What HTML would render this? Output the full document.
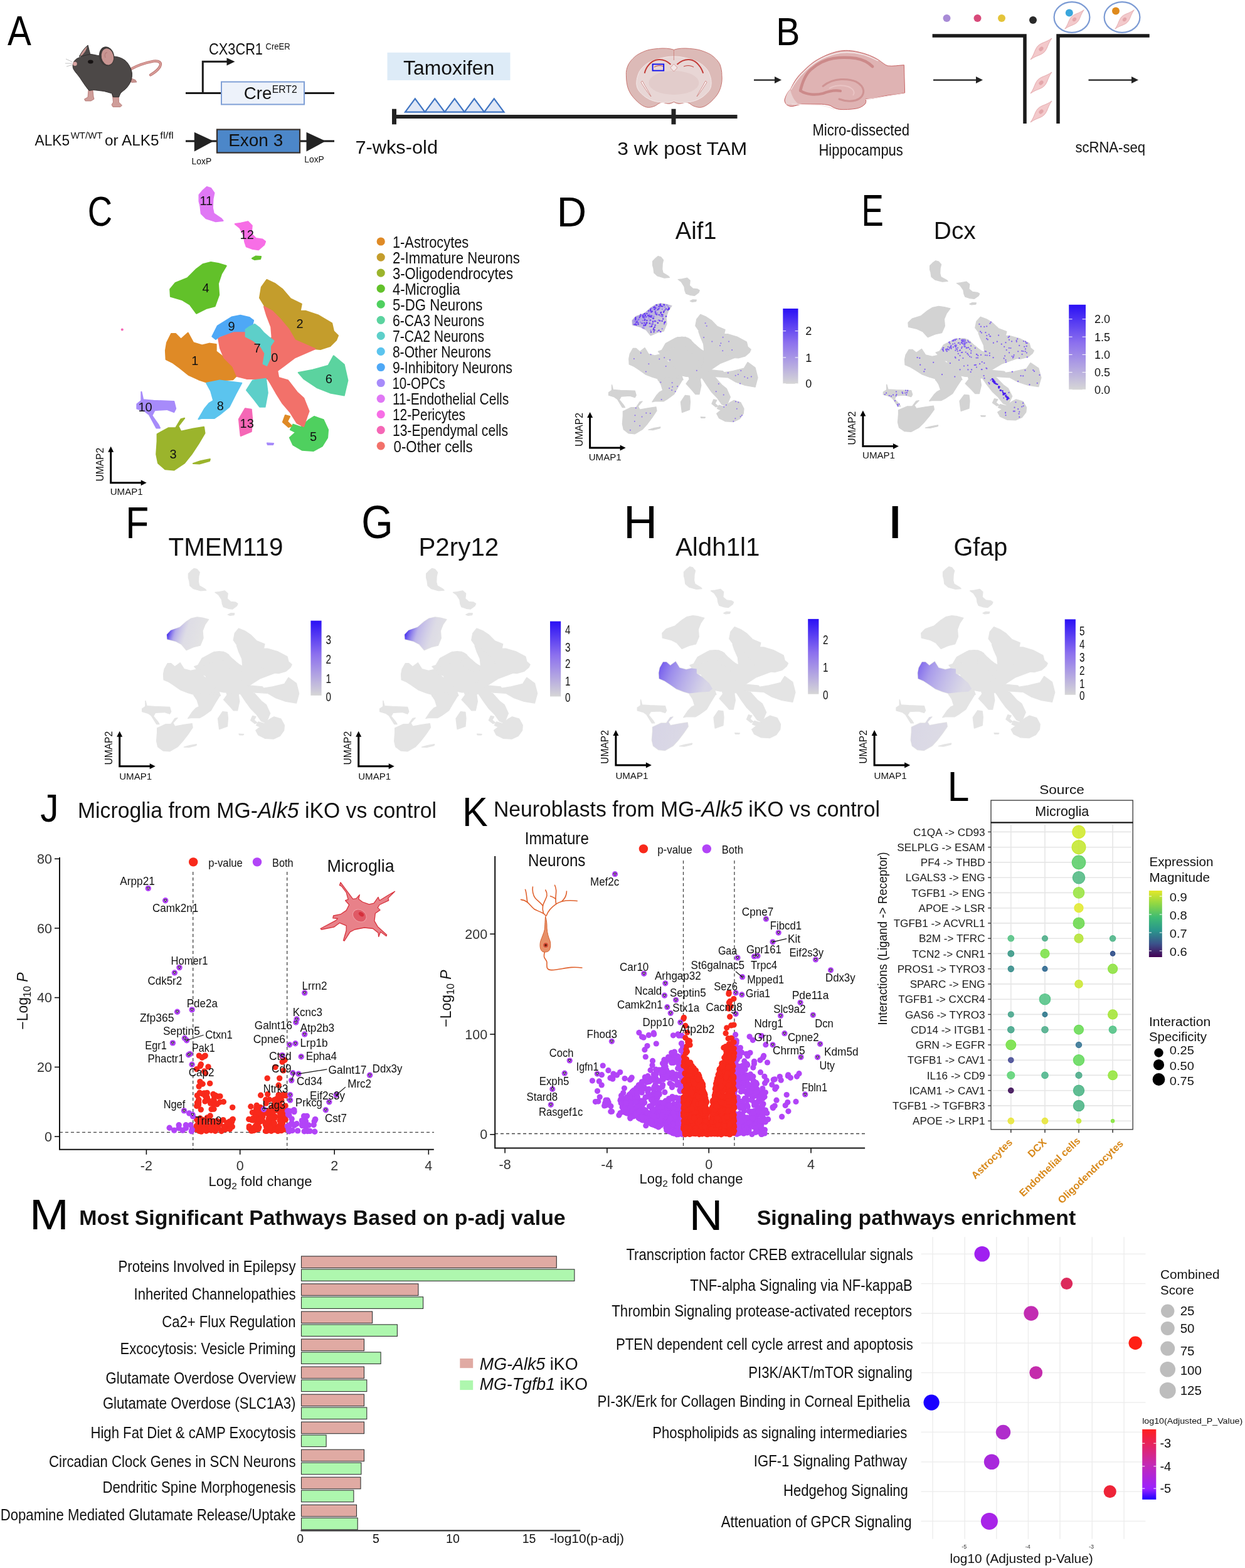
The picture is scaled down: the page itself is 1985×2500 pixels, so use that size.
<!DOCTYPE html>
<html><head><meta charset="utf-8"><title>Figure</title>
<style>html,body{margin:0;padding:0;background:#fff;} svg{display:block;} text{font-family:'Liberation Sans', Arial, sans-serif;}</style>
</head><body>
<svg width="1985" height="2500" viewBox="0 0 1985 2500">
<rect width="1985" height="2500" fill="#ffffff"/>
<text x="0" y="0" font-size="65.99" fill="#000" transform="translate(11.89,72.20) scale(0.8594,1)">A</text>
<g>
<path d="M209,110 C218,105 232,100 245,97.5 C254,96.5 258,100 255,106 C252,112 246,116 240,119.5" fill="none" stroke="#b9726f" stroke-width="4.2" stroke-linecap="round"/>
<path d="M209,110 C218,105 232,100 245,97.5 C254,96.5 258,100 255,106 C252,112 246,116 240,119.5" fill="none" stroke="#d99d99" stroke-width="2.4" stroke-linecap="round"/>
<path d="M207,124 L216,127.5 L218,131 L210,131.5 L206,128 Z" fill="#c99591" stroke="#a8625f" stroke-width="0.6"/>
<path d="M141,143 L148,144 L149,154 L150,158 L145,161 L136,161 L134.5,158 L140,155 Z" fill="#cf9d99" stroke="#a8625f" stroke-width="0.7"/>
<path d="M179,148 L189,149 L189.5,163 L194.5,168 L192,170.5 L180,170.5 L178,167 L180.5,163 Z" fill="#cf9d99" stroke="#a8625f" stroke-width="0.7"/>
<path d="M116.4,101.9 C118,96 122,93 128,91.2 C134,88 140,86.5 145,86.5 C150,87 155,88.5 158,88.8 C167,89.5 176,89.5 184,90.2 C190,91 195,93 199,96 C204,100 208,106 210.3,115.5 C211,121 210,126 208,131 C205,137 201,142 195,146 C192,148 191,151 189.7,154.7 L180.4,154.7 C179,152 178.5,150 178.5,149 C172,147 168,146 165.4,145.4 C158,144.5 152,143.8 148.6,143.5 C145,144 143,144.5 142.1,144.4 C139,141 137,138 135.5,136 C132,131 130,128 128,124.8 C124,119 120,115 118.7,112.7 C116.5,110 115.5,106 116.4,101.9 Z" fill="#4c4847" stroke="#2a2626" stroke-width="0.9"/>
<path d="M126.2,90.2 C130,83 135,76 140.2,72 C141.5,77 142.5,82 143.9,86.5 Z" fill="#4c4847" stroke="#2a2626" stroke-width="0.8"/>
<path d="M127.5,89.5 C130.5,83 134.5,77.5 139,74 C138,79 135,84 131,88 Z" fill="#c99591"/>
<ellipse cx="170.1" cy="89.8" rx="12" ry="15.6" transform="rotate(-12 170.1 89.8)" fill="#3e3a39"/>
<ellipse cx="171.4" cy="90.4" rx="9.6" ry="13.2" transform="rotate(-12 171.4 90.4)" fill="#c99592"/>
<path d="M168,92 C166,87 168,83 171,84" fill="none" stroke="#b57c79" stroke-width="1.2"/>
<ellipse cx="144.4" cy="98.4" rx="4.3" ry="3" fill="#161212"/>
<circle cx="119.5" cy="101.8" r="3.3" fill="#d7a3a1"/>
<path d="M105,94 L115,98.5 M104,101 L115,101 M106,106 L115,103.5" stroke="#9a9a9a" stroke-width="0.6" fill="none"/>
</g>
<text x="55.5" y="232.0" font-size="23" textLength="55.5" lengthAdjust="spacingAndGlyphs" fill="#111">ALK5</text>
<text x="112.7" y="221.0" font-size="14.5" textLength="50.8" lengthAdjust="spacingAndGlyphs" fill="#111">WT/WT</text>
<text x="167.0" y="232.0" font-size="23" textLength="86.5" lengthAdjust="spacingAndGlyphs" fill="#111">or ALK5</text>
<text x="255.3" y="221.0" font-size="14.5" textLength="21.5" lengthAdjust="spacingAndGlyphs" fill="#111">fl/fl</text>
<g stroke="#1a1a1a" stroke-width="3" fill="none">
<path d="M296,148.5 H352 M486,148.5 H533"/>
<path d="M323.3,148 V98.2 H363"/>
<path d="M296,225 H345 M479,225 H533"/>
</g>
<path d="M361.5,92.2 L374.5,98.3 L361.5,104.5 Z" fill="#1a1a1a"/>
<rect x="353" y="130.5" width="132" height="36" fill="#edf2fa" stroke="#7f9fd6" stroke-width="2"/>
<text x="333.0" y="87.3" font-size="25" textLength="86" lengthAdjust="spacingAndGlyphs" fill="#111">CX3CR1</text>
<text x="423.6" y="79.1" font-size="14.5" textLength="39" lengthAdjust="spacingAndGlyphs" fill="#111">CreER</text>
<text x="388.8" y="158.3" font-size="28" textLength="44.5" lengthAdjust="spacingAndGlyphs" fill="#111">Cre</text>
<text x="433.7" y="148.1" font-size="16" textLength="40" lengthAdjust="spacingAndGlyphs" fill="#111">ERT2</text>
<rect x="346" y="206.5" width="132" height="37" fill="#4c87c9" stroke="#38302c" stroke-width="2.2"/>
<text x="364.2" y="233.2" font-size="28.5" textLength="87" lengthAdjust="spacingAndGlyphs" fill="#111">Exon 3</text>
<path d="M309.8,210.8 L340.5,225 L309.8,241.4 Z" fill="#222"/>
<path d="M488.5,210.8 L519.1,225 L488.5,241.4 Z" fill="#222"/>
<text x="305.4" y="261.8" font-size="14.4" textLength="31.8" lengthAdjust="spacingAndGlyphs" fill="#111">LoxP</text>
<text x="485.3" y="258.5" font-size="14.4" textLength="31.5" lengthAdjust="spacingAndGlyphs" fill="#111">LoxP</text>
<rect x="617.5" y="83.8" width="196" height="44.2" fill="#ddebf7"/>
<text x="643.0" y="118.6" font-size="31" textLength="145.3" lengthAdjust="spacingAndGlyphs" fill="#111">Tamoxifen</text>
<path d="M646.0,178.7 L661.8,157.4 L677.5,178.7 Z" fill="#dfe7f6" stroke="#3f74c2" stroke-width="2.2" stroke-linejoin="miter"/>
<path d="M677.5,178.7 L693.2,157.4 L709.0,178.7 Z" fill="#dfe7f6" stroke="#3f74c2" stroke-width="2.2" stroke-linejoin="miter"/>
<path d="M709.0,178.7 L724.8,157.4 L740.5,178.7 Z" fill="#dfe7f6" stroke="#3f74c2" stroke-width="2.2" stroke-linejoin="miter"/>
<path d="M740.5,178.7 L756.2,157.4 L772.0,178.7 Z" fill="#dfe7f6" stroke="#3f74c2" stroke-width="2.2" stroke-linejoin="miter"/>
<path d="M772.0,178.7 L787.8,157.4 L803.5,178.7 Z" fill="#dfe7f6" stroke="#3f74c2" stroke-width="2.2" stroke-linejoin="miter"/>
<rect x="626" y="183" width="549.5" height="6" fill="#222"/>
<rect x="625" y="173.7" width="7" height="24.6" fill="#222"/>
<rect x="1070.5" y="173.7" width="7" height="24.6" fill="#222"/>
<text x="566.4" y="245.3" font-size="30" textLength="131.6" lengthAdjust="spacingAndGlyphs" fill="#111">7-wks-old</text>
<text x="984.2" y="247.3" font-size="30" textLength="207" lengthAdjust="spacingAndGlyphs" fill="#111">3 wk post TAM</text>
<g>
<path d="M1074.4,79.4 C1068,77 1058,76.5 1049.6,77.4 C1042,78 1035,79 1029.7,80.9 C1022,84 1017,86.5 1012.8,89.9 C1007,95 1004,99 1001.9,102.8 C999,109 998,114 998.4,119.7 C998.5,127 999,133 1000.9,139.5 C1003,146 1006,151 1009.9,155.4 C1014,160 1018,164 1022.8,167.3 C1027,170 1031,171.5 1034.7,171.3 C1039,171 1042,170 1045.6,168.3 C1049,166 1051,164 1054.5,163.3 C1058,163 1062,165 1065.5,165.3 C1069,165.5 1072,164 1074.4,162.5 C1077,164 1080,165.5 1083.3,165.3 C1087,165 1091,163 1095.3,163.3 C1099,164 1101,166 1104.2,168.3 C1108,170 1111,171 1115.1,171.3 C1119,171.5 1123,170 1127,167.3 C1132,164 1136,160 1140,155.4 C1144,151 1147,146 1148.9,139.5 C1151,133 1151.5,127 1150.9,119.7 C1151,114 1150,109 1147.9,102.8 C1146,99 1143,95 1137,89.9 C1133,86.5 1128,84 1119.1,80.9 C1114,79 1107,78 1099.2,77.4 C1091,76.5 1081,77 1074.4,79.4 Z" fill="#dcbab7" stroke="#c87672" stroke-width="1"/>
<path d="M1074.4,90 C1066,90 1058,91.5 1049.6,93.8 C1040,96.5 1034,99.5 1029.7,102.8 C1023,108 1019.5,113 1017.8,117.7 C1015.5,124 1014.5,129 1014.8,134.5 C1015.5,141 1018.5,145.5 1022.8,149.4 C1027,153.5 1032,157 1037.7,159.4 C1043,161.5 1049,162.5 1054.5,163.3 C1062,164 1069,163.5 1074.4,161 C1080,163.5 1087,164 1094.3,163.3 C1100,162.5 1106,161.5 1111.1,159.4 C1117,157 1122,153.5 1126,149.4 C1130.5,145.5 1133.5,141 1134,134.5 C1134.5,129 1133.5,124 1131,117.7 C1129.5,113 1126,108 1119.1,102.8 C1115,99.5 1109,96.5 1099.2,93.8 C1091,91.5 1083,90 1074.4,90 Z" fill="#e8d6d5" stroke="#f4e8e8" stroke-width="1"/>
<ellipse cx="1074.4" cy="132" rx="40" ry="19" fill="#e2cccb"/>
<path d="M1074.4,79.5 V96" stroke="#c87672" stroke-width="0.8"/>
<path d="M1027.7,116.7 C1030,106 1038,98 1045.6,95.8 C1055,93.5 1063,97 1069.4,102.8 M1121.1,116.7 C1118,106 1110,98 1103.2,95.8 C1094,93.5 1086,97 1079.4,102.8" fill="none" stroke="#c23a36" stroke-width="2"/>
<path d="M1074.4,102 L1080,108 L1074.4,114 L1068.8,108 Z" fill="#f2e6e6" stroke="#c87672" stroke-width="0.6"/>
<path d="M1022,131 C1027,139 1032,147 1038,154 C1035,147 1029,139 1024,129 Z M1127,131 C1122,139 1117,147 1111,154 C1114,147 1120,139 1125,129 Z" fill="#ffffff" stroke="#c87672" stroke-width="0.8"/>
<path d="M1043,107 C1048,104 1054,104 1058,106 M1090,106 C1095,104 1101,104 1106,107" fill="none" stroke="#c23a36" stroke-width="1"/>
<rect x="1040.6" y="102.4" width="17.6" height="10.2" fill="none" stroke="#1010ee" stroke-width="1.9"/>
</g>
<path d="M1202,127.6 H1237" stroke="#222" stroke-width="2.2"/><path d="M1235,122.1 L1246,127.6 L1235,133.1 Z" fill="#222"/>
<path d="M1488,127.6 H1558" stroke="#222" stroke-width="2.2"/><path d="M1556,122.1 L1567,127.6 L1556,133.1 Z" fill="#222"/>
<path d="M1735.5,127.6 H1806" stroke="#222" stroke-width="2.2"/><path d="M1804,122.1 L1815,127.6 L1804,133.1 Z" fill="#222"/>
<text x="0" y="0" font-size="63.37" fill="#000" transform="translate(1237.31,72.00) scale(0.9017,1)">B</text>
<g>
<path d="M1251,158.8 C1253,152 1256,146 1260.6,142.1 C1266,130 1272,121 1280.9,113.3 C1289,105 1296,99 1304.9,94.2 C1316,88 1328,83 1340.8,81 C1352,79.5 1361,81 1370.7,83.4 C1382,86 1392,90 1400.7,95.4 C1406,99 1410,103 1415,104.9 C1424,106 1433,104 1441.4,103.7 L1442.6,148 C1435,150 1426,151 1418.6,151.6 C1408,153 1398,156 1388.7,157.6 L1380.3,157.6 C1381,161 1381,164 1379.1,166 C1375,170 1370,172.5 1364.7,173.2 C1356,174.5 1347,175 1338.4,174.4 C1332,173.5 1328,171 1324,168.4 C1318,166.5 1311,166 1304.9,166 C1296,166 1287,166 1278.5,166 C1272,167 1268,169 1263,169.6 C1259,170 1255,168 1253.4,166 C1251.5,163.5 1250.5,161 1251,158.8 Z" fill="#dfb3b3" stroke="#c86464" stroke-width="1"/>
<path d="M1261,143 C1268,130 1276,120 1285,112 C1298,99 1315,88 1340.8,84 C1360,82 1380,86 1400,97" fill="none" stroke="#f6ecec" stroke-width="1.4"/>
<path d="M1276.1,144.5 C1280,128 1286,117 1292.9,110.9 C1304,101 1316,95 1328.8,93 C1342,91 1354,91.5 1364.7,93 C1376,95 1385,100 1391.1,106.1" fill="none" stroke="#cc8a8a" stroke-width="4.6" stroke-linecap="round"/>
<path d="M1276.1,144.5 C1285,151 1300,152 1312.1,149 C1322,145 1330,143 1340,145" fill="none" stroke="#cc8a8a" stroke-width="4.2" stroke-linecap="round"/>
<path d="M1312.1,137.3 C1320,131 1330,127 1340.8,126.5 C1352,126 1360,128 1364.7,130.1 C1372,134 1376,139 1376.7,144.5 C1377,152 1372,158 1364,160 C1356,162 1346,161 1338,158" fill="none" stroke="#cf9393" stroke-width="3" stroke-linecap="round"/>
<path d="M1322,141 C1330,136 1342,135 1352,138 C1360,141 1364,147 1360,152" fill="none" stroke="#e9c4c4" stroke-width="2"/>
<path d="M1252,160 C1253,152 1256,146 1260,143 C1262,152 1266,160 1272,165 C1265,167 1258,167 1253.4,166 Z" fill="#e9cfcf"/>
<path d="M1262,166 C1275,166.5 1290,167 1305,167.5 C1315,168 1322,171 1330,174 M1380,158.5 C1398,156.5 1420,152 1442,149" fill="none" stroke="#f4e4e4" stroke-width="1.2"/>
</g>
<text x="1295.4" y="216.4" font-size="25.5" textLength="154.6" lengthAdjust="spacingAndGlyphs" fill="#111">Micro-dissected</text>
<text x="1305.5" y="247.6" font-size="25.5" textLength="134.3" lengthAdjust="spacingAndGlyphs" fill="#111">Hippocampus</text>
<path d="M1486.6,56.9 H1634 V197" fill="none" stroke="#1a1a1a" stroke-width="5.5"/>
<path d="M1687,197 V56.9 H1832.7" fill="none" stroke="#1a1a1a" stroke-width="5.5"/>
<circle cx="1509.5" cy="28.9" r="6" fill="#a88bd6"/>
<circle cx="1558.5" cy="28.9" r="6" fill="#d84a7a"/>
<circle cx="1597" cy="28.9" r="6" fill="#e4c43a"/>
<circle cx="1647" cy="32.1" r="6" fill="#2a2a2a"/>
<ellipse cx="1709" cy="27.5" rx="28.4" ry="24.3" fill="none" stroke="#7c9bd4" stroke-width="2.2"/>
<g transform="translate(1713,31) rotate(-45) scale(0.9)"><path d="M-24,0 C-12,-2 -8,-7 0,-7 C8,-7 12,-2 24,0 C12,2 8,7 0,7 C-8,7 -12,2 -24,0 Z" fill="#f3c9cb" stroke="#e0a0a4" stroke-width="0.8"/><ellipse cx="0" cy="0" rx="4" ry="3" fill="#e3a6aa"/></g>
<circle cx="1704.8" cy="20.6" r="6" fill="#3aa6dc"/>
<ellipse cx="1789" cy="27.5" rx="28.4" ry="24.3" fill="none" stroke="#7c9bd4" stroke-width="2.2"/>
<g transform="translate(1793,31) rotate(-45) scale(0.9)"><path d="M-24,0 C-12,-2 -8,-7 0,-7 C8,-7 12,-2 24,0 C12,2 8,7 0,7 C-8,7 -12,2 -24,0 Z" fill="#f3c9cb" stroke="#e0a0a4" stroke-width="0.8"/><ellipse cx="0" cy="0" rx="4" ry="3" fill="#e3a6aa"/></g>
<circle cx="1779" cy="17.4" r="6" fill="#df8a1c"/>
<g transform="translate(1660,78) rotate(-45) scale(1.0)"><path d="M-24,0 C-12,-2 -8,-7 0,-7 C8,-7 12,-2 24,0 C12,2 8,7 0,7 C-8,7 -12,2 -24,0 Z" fill="#f3c9cb" stroke="#e0a0a4" stroke-width="0.8"/><ellipse cx="0" cy="0" rx="4" ry="3" fill="#e3a6aa"/></g>
<g transform="translate(1660,132) rotate(-45) scale(1.0)"><path d="M-24,0 C-12,-2 -8,-7 0,-7 C8,-7 12,-2 24,0 C12,2 8,7 0,7 C-8,7 -12,2 -24,0 Z" fill="#f3c9cb" stroke="#e0a0a4" stroke-width="0.8"/><ellipse cx="0" cy="0" rx="4" ry="3" fill="#e3a6aa"/></g>
<g transform="translate(1660,178) rotate(-45) scale(1.0)"><path d="M-24,0 C-12,-2 -8,-7 0,-7 C8,-7 12,-2 24,0 C12,2 8,7 0,7 C-8,7 -12,2 -24,0 Z" fill="#f3c9cb" stroke="#e0a0a4" stroke-width="0.8"/><ellipse cx="0" cy="0" rx="4" ry="3" fill="#e3a6aa"/></g>
<text x="1714.4" y="243.0" font-size="24" textLength="111.6" lengthAdjust="spacingAndGlyphs" fill="#111">scRNA-seq</text>
<text x="0" y="0" font-size="66.38" fill="#000" transform="translate(139.72,359.84) scale(0.8210,1)">C</text>
<path d="M329.8,298.0 L336.0,300.0 L341.4,307.6 L339.4,317.3 L338.8,331.4 L340.7,340.4 L352.9,348.7 L355.5,352.0 L343.9,353.2 L328.5,348.1 L320.8,340.4 L319.5,328.8 L317.6,321.1 L317.6,310.8 L323.4,303.8 Z" fill="#e078f5" stroke="#e078f5" stroke-width="2.2" stroke-linejoin="round"/>
<path d="M374.8,357.1 L383.8,355.8 L395.3,353.2 L401.7,359.7 L400.5,372.5 L408.2,380.2 L418.5,381.5 L423.0,385.0 L421.0,390.5 L412.0,398.2 L403.0,397.0 L392.8,393.1 L390.2,385.4 L388.9,375.1 L382.5,363.5 Z" fill="#f76ee6" stroke="#f76ee6" stroke-width="2.2" stroke-linejoin="round"/>
<path d="M402.0,412.0 L408.0,408.5 L416.0,409.0 L415.0,413.0 L406.0,414.0 Z" fill="#62c12a" stroke="#62c12a" stroke-width="2.2" stroke-linejoin="round"/>
<path d="M336.2,418.1 L348.0,420.0 L360.6,423.9 L352.9,436.8 L347.8,452.2 L349.1,470.2 L342.6,488.2 L328.5,492.0 L313.1,499.7 L302.8,485.6 L290.0,477.9 L272.0,472.8 L271.3,461.2 L279.7,450.9 L298.9,443.2 L313.1,429.1 L323.4,421.4 Z" fill="#62c12a" stroke="#62c12a" stroke-width="2.2" stroke-linejoin="round"/>
<path d="M425.3,446.1 L438.0,452.0 L450.6,461.5 L463.2,476.3 L480.7,484.7 L478.6,495.9 L487.0,495.9 L508.0,502.9 L529.1,515.5 L531.9,528.1 L538.9,535.1 L536.1,542.2 L526.3,552.0 L510.8,556.9 L502.4,556.2 L470.2,542.2 L456.2,528.1 L439.4,514.1 L425.3,493.1 L414.1,474.9 L416.9,458.0 Z" fill="#c49d2c" stroke="#c49d2c" stroke-width="2.2" stroke-linejoin="round"/>
<path d="M273.1,532.2 L280.1,532.2 L288.5,540.7 L299.7,530.8 L308.1,546.3 L322.2,550.5 L333.4,547.7 L344.6,549.1 L344.6,560.3 L357.2,570.1 L371.2,584.1 L378.2,598.1 L371.2,605.1 L350.2,606.5 L329.2,609.4 L316.5,605.1 L301.1,598.1 L287.1,586.9 L275.9,578.5 L264.7,572.9 L264.0,558.9 L266.1,546.3 Z" fill="#df8a26" stroke="#df8a26" stroke-width="2.2" stroke-linejoin="round"/>
<path d="M475.8,594.0 L498.2,589.8 L523.5,582.8 L531.9,567.4 L548.7,581.4 L554.3,606.6 L548.7,630.5 L526.3,626.3 L505.2,617.9 L484.2,603.8 Z" fill="#5bd39f" stroke="#5bd39f" stroke-width="2.2" stroke-linejoin="round"/>
<path d="M500.9,664.1 L515.7,669.4 L523.0,685.1 L522.0,697.8 L513.6,711.4 L499.9,718.8 L482.0,717.7 L467.3,709.3 L462.0,697.8 L471.5,689.3 L463.1,685.1 L467.3,676.7 L479.9,681.0 L492.5,669.4 Z" fill="#4fd05f" stroke="#4fd05f" stroke-width="2.2" stroke-linejoin="round"/>
<path d="M455.0,662.0 L462.0,664.0 L458.0,672.0 L465.0,679.0 L460.0,681.0 L451.0,673.0 Z" fill="#df8a26" stroke="#df8a26" stroke-width="2.2" stroke-linejoin="round"/>
<path d="M421.1,488.9 L433.7,495.9 L446.4,508.5 L460.4,525.3 L470.2,542.2 L502.4,556.2 L470.2,570.2 L453.4,582.8 L442.2,591.2 L444.2,602.1 L458.9,606.3 L473.6,625.2 L484.1,634.7 L492.5,655.7 L489.4,664.1 L484.1,679.9 L473.6,674.6 L463.1,657.8 L450.5,643.1 L440.0,626.3 L431.5,611.5 L426.7,604.0 L414.1,603.8 L393.1,603.8 L378.0,600.0 L371.2,584.1 L357.2,570.1 L351.0,555.0 L348.2,539.4 L366.5,531.0 L386.1,528.1 L400.1,526.7 L408.5,538.0 L422.5,546.4 L433.7,538.0 L432.3,521.1 L425.3,502.9 Z" fill="#f2716a" stroke="#f2716a" stroke-width="2.2" stroke-linejoin="round"/>
<path d="M338.4,536.5 L346.8,519.7 L369.3,505.7 L383.3,502.9 L397.3,506.0 L404.0,511.0 L402.0,519.0 L390.3,528.1 L372.1,528.1 L349.6,536.5 L344.0,540.8 Z" fill="#4ea8f6" stroke="#4ea8f6" stroke-width="2.2" stroke-linejoin="round"/>
<path d="M391.7,525.3 L398.0,521.0 L406.0,517.0 L414.0,523.0 L420.0,530.0 L428.1,537.0 L436.5,543.6 L430.9,552.0 L430.9,570.2 L425.3,582.8 L419.7,580.0 L422.5,563.2 L415.5,552.0 L402.9,542.2 L391.7,536.5 Z" fill="#5dcfc9" stroke="#5dcfc9" stroke-width="2.2" stroke-linejoin="round"/>
<path d="M402.9,606.6 L423.9,603.8 L426.7,626.3 L422.5,648.7 L414.1,648.7 L405.7,637.5 L393.1,622.1 Z" fill="#5dcfc9" stroke="#5dcfc9" stroke-width="2.2" stroke-linejoin="round"/>
<path d="M329.2,610.8 L350.2,606.5 L385.2,610.8 L375.4,629.0 L365.6,648.6 L350.2,661.2 L341.8,666.8 L322.2,666.8 L316.5,668.2 L326.4,651.4 L333.4,643.0 L340.4,638.8 L336.2,623.4 Z" fill="#5bc4ee" stroke="#5bc4ee" stroke-width="2.2" stroke-linejoin="round"/>
<path d="M225.4,624.8 L228.2,637.4 L245.0,638.8 L277.3,640.2 L280.1,651.4 L277.3,657.0 L266.1,652.8 L246.5,654.2 L242.2,662.6 L252.1,676.6 L254.9,682.3 L249.3,682.3 L238.0,661.2 L231.0,655.6 L218.4,651.4 L218.4,644.4 L225.4,638.8 Z" fill="#a78bfa" stroke="#a78bfa" stroke-width="2.2" stroke-linejoin="round"/>
<path d="M426.0,706.5 L436.0,707.0 L435.0,709.0 L427.0,709.0 Z" fill="#a78bfa" stroke="#a78bfa" stroke-width="2.2" stroke-linejoin="round"/>
<path d="M250.7,692.1 L268.9,682.3 L280.1,682.3 L288.5,668.2 L294.1,666.8 L284.3,679.4 L288.5,687.9 L308.1,683.7 L325.0,680.9 L326.4,690.7 L316.5,707.5 L305.3,724.3 L294.1,738.3 L277.3,749.5 L263.3,748.1 L252.1,738.3 L249.3,724.3 L250.7,703.3 Z" fill="#9bb42c" stroke="#9bb42c" stroke-width="2.2" stroke-linejoin="round"/>
<path d="M308.0,739.0 L320.0,735.0 L334.8,732.0 L334.0,735.0 L318.0,739.5 Z" fill="#9bb42c" stroke="#9bb42c" stroke-width="2.2" stroke-linejoin="round"/>
<path d="M390.9,651.4 L400.7,652.8 L402.1,668.2 L400.7,687.9 L383.8,694.9 L382.4,682.3 L381.0,668.2 Z" fill="#f567b6" stroke="#f567b6" stroke-width="2.2" stroke-linejoin="round"/>
<circle cx="194.8" cy="525.5" r="2" fill="#f567b6"/>
<text x="328.8" y="326.8" font-size="20" text-anchor="middle" fill="#111" font-family="'DejaVu Sans', sans-serif">11</text>
<text x="393.7" y="381.2" font-size="20" text-anchor="middle" fill="#111" font-family="'DejaVu Sans', sans-serif">12</text>
<text x="328.0" y="466.4" font-size="20" text-anchor="middle" fill="#111" font-family="'DejaVu Sans', sans-serif">4</text>
<text x="369.0" y="527.0" font-size="20" text-anchor="middle" fill="#111" font-family="'DejaVu Sans', sans-serif">9</text>
<text x="410.0" y="562.3" font-size="20" text-anchor="middle" fill="#111" font-family="'DejaVu Sans', sans-serif">7</text>
<text x="437.8" y="576.6" font-size="20" text-anchor="middle" fill="#111" font-family="'DejaVu Sans', sans-serif">0</text>
<text x="478.0" y="522.6" font-size="20" text-anchor="middle" fill="#111" font-family="'DejaVu Sans', sans-serif">2</text>
<text x="310.7" y="581.8" font-size="20" text-anchor="middle" fill="#111" font-family="'DejaVu Sans', sans-serif">1</text>
<text x="524.2" y="611.2" font-size="20" text-anchor="middle" fill="#111" font-family="'DejaVu Sans', sans-serif">6</text>
<text x="351.3" y="653.5" font-size="20" text-anchor="middle" fill="#111" font-family="'DejaVu Sans', sans-serif">8</text>
<text x="231.6" y="655.7" font-size="20" text-anchor="middle" fill="#111" font-family="'DejaVu Sans', sans-serif">10</text>
<text x="393.7" y="681.6" font-size="20" text-anchor="middle" fill="#111" font-family="'DejaVu Sans', sans-serif">13</text>
<text x="499.6" y="703.3" font-size="20" text-anchor="middle" fill="#111" font-family="'DejaVu Sans', sans-serif">5</text>
<text x="276.0" y="731.3" font-size="20" text-anchor="middle" fill="#111" font-family="'DejaVu Sans', sans-serif">3</text>
<circle cx="607.2" cy="385.0" r="6.6" fill="#df8a26"/>
<text x="625.9" y="394.7" font-size="25" textLength="121.4" lengthAdjust="spacingAndGlyphs" fill="#111">1-Astrocytes</text>
<circle cx="607.2" cy="410.1" r="6.6" fill="#c49d2c"/>
<text x="625.9" y="419.8" font-size="25" textLength="202.9" lengthAdjust="spacingAndGlyphs" fill="#111">2-Immature Neurons</text>
<circle cx="607.2" cy="435.1" r="6.6" fill="#9bb42c"/>
<text x="625.9" y="444.8" font-size="25" textLength="192.1" lengthAdjust="spacingAndGlyphs" fill="#111">3-Oligodendrocytes</text>
<circle cx="607.2" cy="460.2" r="6.6" fill="#62c12a"/>
<text x="625.9" y="469.9" font-size="25" textLength="107.7" lengthAdjust="spacingAndGlyphs" fill="#111">4-Microglia</text>
<circle cx="607.2" cy="485.2" r="6.6" fill="#4fd05f"/>
<text x="625.9" y="494.9" font-size="25" textLength="143.6" lengthAdjust="spacingAndGlyphs" fill="#111">5-DG Neurons</text>
<circle cx="607.2" cy="510.3" r="6.6" fill="#5bd39f"/>
<text x="625.9" y="520.0" font-size="25" textLength="146.1" lengthAdjust="spacingAndGlyphs" fill="#111">6-CA3 Neurons</text>
<circle cx="607.2" cy="535.4" r="6.6" fill="#5dcfc9"/>
<text x="625.9" y="545.1" font-size="25" textLength="146.1" lengthAdjust="spacingAndGlyphs" fill="#111">7-CA2 Neurons</text>
<circle cx="607.2" cy="560.4" r="6.6" fill="#5bc4ee"/>
<text x="625.9" y="570.1" font-size="25" textLength="157" lengthAdjust="spacingAndGlyphs" fill="#111">8-Other Neurons</text>
<circle cx="607.2" cy="585.5" r="6.6" fill="#4ea8f6"/>
<text x="625.9" y="595.2" font-size="25" textLength="190.9" lengthAdjust="spacingAndGlyphs" fill="#111">9-Inhibitory Neurons</text>
<circle cx="607.2" cy="610.5" r="6.6" fill="#a78bfa"/>
<text x="625.4" y="620.2" font-size="25" textLength="84.3" lengthAdjust="spacingAndGlyphs" fill="#111">10-OPCs</text>
<circle cx="607.2" cy="635.6" r="6.6" fill="#e078f5"/>
<text x="625.9" y="645.3" font-size="25" textLength="185.4" lengthAdjust="spacingAndGlyphs" fill="#111">11-Endothelial Cells</text>
<circle cx="607.2" cy="660.7" r="6.6" fill="#f76ee6"/>
<text x="625.9" y="670.4" font-size="25" textLength="116.1" lengthAdjust="spacingAndGlyphs" fill="#111">12-Pericytes</text>
<circle cx="607.2" cy="685.7" r="6.6" fill="#f567b6"/>
<text x="625.9" y="695.4" font-size="25" textLength="184.2" lengthAdjust="spacingAndGlyphs" fill="#111">13-Ependymal cells</text>
<circle cx="607.2" cy="710.8" r="6.6" fill="#f2716a"/>
<text x="627.6" y="720.5" font-size="25" textLength="126.1" lengthAdjust="spacingAndGlyphs" fill="#111">0-Other cells</text>
<path d="M176.7,717.7 V769.7 H227.7" fill="none" stroke="#000" stroke-width="3"/>
<path d="M172.2,720.7 L176.7,711.7 L181.2,720.7 Z" fill="#000"/>
<path d="M224.7,765.2 L233.7,769.7 L224.7,774.2 Z" fill="#000"/>
<text x="159.3" y="740.7" font-size="15.6" text-anchor="middle" fill="#111" transform="rotate(-90 159.3 740.7)" dominant-baseline="central">UMAP2</text>
<text x="175.7" y="788.8" font-size="15" textLength="52" lengthAdjust="spacingAndGlyphs" fill="#111">UMAP1</text>
<text x="0" y="0" font-size="65.99" fill="#000" transform="translate(887.83,361.00) scale(0.9932,1)">D</text>
<text x="1076.8" y="380.6" font-size="39" textLength="65.6" lengthAdjust="spacingAndGlyphs" fill="#111">Aif1</text>
<g transform="matrix(0.7068,0,0,0.6275,816.2,221.5)">
<path d="M338.0,546.0 L350.0,535.0 L358.0,540.0 L358.0,562.0 L345.0,562.0 Z" fill="#d3d3d3" stroke="#d3d3d3" stroke-width="2.0" stroke-linejoin="round"/>
<path d="M329.0,607.0 L350.0,601.0 L382.0,599.0 L386.0,612.0 L330.0,613.0 Z" fill="#d3d3d3" stroke="#d3d3d3" stroke-width="2.0" stroke-linejoin="round"/>
<path d="M440.0,586.0 L476.0,590.0 L486.0,606.0 L446.0,603.0 Z" fill="#d3d3d3" stroke="#d3d3d3" stroke-width="2.0" stroke-linejoin="round"/>
<path d="M398.0,600.0 L426.0,598.0 L427.0,608.0 L400.0,609.0 Z" fill="#d3d3d3" stroke="#d3d3d3" stroke-width="2.0" stroke-linejoin="round"/>
<path d="M426.0,540.0 L437.0,538.0 L436.0,552.0 L428.0,552.0 Z" fill="#d3d3d3" stroke="#d3d3d3" stroke-width="2.0" stroke-linejoin="round"/>
<path d="M372.0,504.0 L392.0,503.5 L403.0,511.0 L414.0,524.0 L426.0,535.0 L434.0,540.0 L432.0,550.0 L400.0,547.0 L380.0,538.0 L368.0,530.0 Z" fill="#d3d3d3" stroke="#d3d3d3" stroke-width="2.0" stroke-linejoin="round"/>
<path d="M330.0,540.0 L340.0,536.0 L352.0,528.0 L360.0,530.0 L352.0,545.0 L336.0,548.0 Z" fill="#d3d3d3" stroke="#d3d3d3" stroke-width="2.0" stroke-linejoin="round"/>
<path d="M329.8,298.0 L336.0,300.0 L341.4,307.6 L339.4,317.3 L338.8,331.4 L340.7,340.4 L352.9,348.7 L355.5,352.0 L343.9,353.2 L328.5,348.1 L320.8,340.4 L319.5,328.8 L317.6,321.1 L317.6,310.8 L323.4,303.8 Z" fill="#d3d3d3" stroke="#d3d3d3" stroke-width="2.0" stroke-linejoin="round"/>
<path d="M374.8,357.1 L383.8,355.8 L395.3,353.2 L401.7,359.7 L400.5,372.5 L408.2,380.2 L418.5,381.5 L423.0,385.0 L421.0,390.5 L412.0,398.2 L403.0,397.0 L392.8,393.1 L390.2,385.4 L388.9,375.1 L382.5,363.5 Z" fill="#d3d3d3" stroke="#d3d3d3" stroke-width="2.0" stroke-linejoin="round"/>
<path d="M402.0,412.0 L408.0,408.5 L416.0,409.0 L415.0,413.0 L406.0,414.0 Z" fill="#d3d3d3" stroke="#d3d3d3" stroke-width="2.0" stroke-linejoin="round"/>
<path d="M336.2,418.1 L348.0,420.0 L360.6,423.9 L352.9,436.8 L347.8,452.2 L349.1,470.2 L342.6,488.2 L328.5,492.0 L313.1,499.7 L302.8,485.6 L290.0,477.9 L272.0,472.8 L271.3,461.2 L279.7,450.9 L298.9,443.2 L313.1,429.1 L323.4,421.4 Z" fill="#d3d3d3" stroke="#d3d3d3" stroke-width="2.0" stroke-linejoin="round"/>
<path d="M425.3,446.1 L438.0,452.0 L450.6,461.5 L463.2,476.3 L480.7,484.7 L478.6,495.9 L487.0,495.9 L508.0,502.9 L529.1,515.5 L531.9,528.1 L538.9,535.1 L536.1,542.2 L526.3,552.0 L510.8,556.9 L502.4,556.2 L470.2,542.2 L456.2,528.1 L439.4,514.1 L425.3,493.1 L414.1,474.9 L416.9,458.0 Z" fill="#d3d3d3" stroke="#d3d3d3" stroke-width="2.0" stroke-linejoin="round"/>
<path d="M273.1,532.2 L280.1,532.2 L288.5,540.7 L299.7,530.8 L308.1,546.3 L322.2,550.5 L333.4,547.7 L344.6,549.1 L344.6,560.3 L357.2,570.1 L371.2,584.1 L378.2,598.1 L371.2,605.1 L350.2,606.5 L329.2,609.4 L316.5,605.1 L301.1,598.1 L287.1,586.9 L275.9,578.5 L264.7,572.9 L264.0,558.9 L266.1,546.3 Z" fill="#d3d3d3" stroke="#d3d3d3" stroke-width="2.0" stroke-linejoin="round"/>
<path d="M475.8,594.0 L498.2,589.8 L523.5,582.8 L531.9,567.4 L548.7,581.4 L554.3,606.6 L548.7,630.5 L526.3,626.3 L505.2,617.9 L484.2,603.8 Z" fill="#d3d3d3" stroke="#d3d3d3" stroke-width="2.0" stroke-linejoin="round"/>
<path d="M500.9,664.1 L515.7,669.4 L523.0,685.1 L522.0,697.8 L513.6,711.4 L499.9,718.8 L482.0,717.7 L467.3,709.3 L462.0,697.8 L471.5,689.3 L463.1,685.1 L467.3,676.7 L479.9,681.0 L492.5,669.4 Z" fill="#d3d3d3" stroke="#d3d3d3" stroke-width="2.0" stroke-linejoin="round"/>
<path d="M455.0,662.0 L462.0,664.0 L458.0,672.0 L465.0,679.0 L460.0,681.0 L451.0,673.0 Z" fill="#d3d3d3" stroke="#d3d3d3" stroke-width="2.0" stroke-linejoin="round"/>
<path d="M421.1,488.9 L433.7,495.9 L446.4,508.5 L460.4,525.3 L470.2,542.2 L502.4,556.2 L470.2,570.2 L453.4,582.8 L442.2,591.2 L444.2,602.1 L458.9,606.3 L473.6,625.2 L484.1,634.7 L492.5,655.7 L489.4,664.1 L484.1,679.9 L473.6,674.6 L463.1,657.8 L450.5,643.1 L440.0,626.3 L431.5,611.5 L426.7,604.0 L414.1,603.8 L393.1,603.8 L378.0,600.0 L371.2,584.1 L357.2,570.1 L351.0,555.0 L348.2,539.4 L366.5,531.0 L386.1,528.1 L400.1,526.7 L408.5,538.0 L422.5,546.4 L433.7,538.0 L432.3,521.1 L425.3,502.9 Z" fill="#d3d3d3" stroke="#d3d3d3" stroke-width="2.0" stroke-linejoin="round"/>
<path d="M338.4,536.5 L346.8,519.7 L369.3,505.7 L383.3,502.9 L397.3,506.0 L404.0,511.0 L402.0,519.0 L390.3,528.1 L372.1,528.1 L349.6,536.5 L344.0,540.8 Z" fill="#d3d3d3" stroke="#d3d3d3" stroke-width="2.0" stroke-linejoin="round"/>
<path d="M391.7,525.3 L398.0,521.0 L406.0,517.0 L414.0,523.0 L420.0,530.0 L428.1,537.0 L436.5,543.6 L430.9,552.0 L430.9,570.2 L425.3,582.8 L419.7,580.0 L422.5,563.2 L415.5,552.0 L402.9,542.2 L391.7,536.5 Z" fill="#d3d3d3" stroke="#d3d3d3" stroke-width="2.0" stroke-linejoin="round"/>
<path d="M402.9,606.6 L423.9,603.8 L426.7,626.3 L422.5,648.7 L414.1,648.7 L405.7,637.5 L393.1,622.1 Z" fill="#d3d3d3" stroke="#d3d3d3" stroke-width="2.0" stroke-linejoin="round"/>
<path d="M329.2,610.8 L350.2,606.5 L385.2,610.8 L375.4,629.0 L365.6,648.6 L350.2,661.2 L341.8,666.8 L322.2,666.8 L316.5,668.2 L326.4,651.4 L333.4,643.0 L340.4,638.8 L336.2,623.4 Z" fill="#d3d3d3" stroke="#d3d3d3" stroke-width="2.0" stroke-linejoin="round"/>
<path d="M225.4,624.8 L228.2,637.4 L245.0,638.8 L277.3,640.2 L280.1,651.4 L277.3,657.0 L266.1,652.8 L246.5,654.2 L242.2,662.6 L252.1,676.6 L254.9,682.3 L249.3,682.3 L238.0,661.2 L231.0,655.6 L218.4,651.4 L218.4,644.4 L225.4,638.8 Z" fill="#d3d3d3" stroke="#d3d3d3" stroke-width="2.0" stroke-linejoin="round"/>
<path d="M426.0,706.5 L436.0,707.0 L435.0,709.0 L427.0,709.0 Z" fill="#d3d3d3" stroke="#d3d3d3" stroke-width="2.0" stroke-linejoin="round"/>
<path d="M250.7,692.1 L268.9,682.3 L280.1,682.3 L288.5,668.2 L294.1,666.8 L284.3,679.4 L288.5,687.9 L308.1,683.7 L325.0,680.9 L326.4,690.7 L316.5,707.5 L305.3,724.3 L294.1,738.3 L277.3,749.5 L263.3,748.1 L252.1,738.3 L249.3,724.3 L250.7,703.3 Z" fill="#d3d3d3" stroke="#d3d3d3" stroke-width="2.0" stroke-linejoin="round"/>
<path d="M308.0,739.0 L320.0,735.0 L334.8,732.0 L334.0,735.0 L318.0,739.5 Z" fill="#d3d3d3" stroke="#d3d3d3" stroke-width="2.0" stroke-linejoin="round"/>
<path d="M390.9,651.4 L400.7,652.8 L402.1,668.2 L400.7,687.9 L383.8,694.9 L382.4,682.3 L381.0,668.2 Z" fill="#d3d3d3" stroke="#d3d3d3" stroke-width="2.0" stroke-linejoin="round"/>
<linearGradient id="hD" x1="0" y1="0" x2="1" y2="0.9"><stop offset="0" stop-color="#6a48f0" stop-opacity="0.8"/><stop offset="0.3" stop-color="#8a70f0" stop-opacity="0.5"/><stop offset="0.65" stop-color="#9a88f0" stop-opacity="0.12"/><stop offset="1" stop-color="#9a88f0" stop-opacity="0"/></linearGradient>
<path d="M336.2,418.1 L348.0,420.0 L360.6,423.9 L352.9,436.8 L347.8,452.2 L349.1,470.2 L342.6,488.2 L328.5,492.0 L313.1,499.7 L302.8,485.6 L290.0,477.9 L272.0,472.8 L271.3,461.2 L279.7,450.9 L298.9,443.2 L313.1,429.1 L323.4,421.4 Z" fill="url(#hD)"/>
</g>
<circle cx="1047.4" cy="487.2" r="1.2" fill="#9a7ff0"/>
<circle cx="1048.0" cy="528.3" r="1.2" fill="#9a7ff0"/>
<circle cx="1053.3" cy="528.9" r="1.2" fill="#6236f2"/>
<circle cx="1047.5" cy="499.3" r="1.2" fill="#9a7ff0"/>
<circle cx="1040.0" cy="503.6" r="1.2" fill="#9a7ff0"/>
<circle cx="1050.3" cy="492.2" r="1.2" fill="#6236f2"/>
<circle cx="1060.4" cy="513.2" r="1.2" fill="#6236f2"/>
<circle cx="1026.5" cy="523.2" r="1.2" fill="#9a7ff0"/>
<circle cx="1046.7" cy="486.2" r="1.2" fill="#6236f2"/>
<circle cx="1037.0" cy="510.5" r="1.2" fill="#6236f2"/>
<circle cx="1048.6" cy="514.4" r="1.2" fill="#9a7ff0"/>
<circle cx="1050.8" cy="501.9" r="1.2" fill="#6236f2"/>
<circle cx="1045.4" cy="500.2" r="1.2" fill="#6236f2"/>
<circle cx="1030.9" cy="499.9" r="1.2" fill="#9a7ff0"/>
<circle cx="1026.9" cy="503.2" r="1.2" fill="#9a7ff0"/>
<circle cx="1043.9" cy="521.5" r="1.2" fill="#6236f2"/>
<circle cx="1058.7" cy="496.1" r="1.2" fill="#6236f2"/>
<circle cx="1019.8" cy="506.1" r="1.2" fill="#6236f2"/>
<circle cx="1028.3" cy="500.9" r="1.2" fill="#9a7ff0"/>
<circle cx="1062.0" cy="492.5" r="1.2" fill="#6236f2"/>
<circle cx="1029.2" cy="517.2" r="1.2" fill="#9a7ff0"/>
<circle cx="1058.9" cy="516.7" r="1.2" fill="#9a7ff0"/>
<circle cx="1058.1" cy="497.7" r="1.2" fill="#6236f2"/>
<circle cx="1034.4" cy="504.8" r="1.2" fill="#6236f2"/>
<circle cx="1066.1" cy="491.8" r="1.2" fill="#6236f2"/>
<circle cx="1026.2" cy="501.3" r="1.2" fill="#6236f2"/>
<circle cx="1045.1" cy="498.6" r="1.2" fill="#9a7ff0"/>
<circle cx="1059.1" cy="486.2" r="1.2" fill="#6236f2"/>
<circle cx="1049.8" cy="510.7" r="1.2" fill="#9a7ff0"/>
<circle cx="1041.7" cy="525.7" r="1.2" fill="#6236f2"/>
<circle cx="1024.9" cy="510.9" r="1.2" fill="#9a7ff0"/>
<circle cx="1034.7" cy="508.1" r="1.2" fill="#9a7ff0"/>
<circle cx="1013.4" cy="509.6" r="1.2" fill="#9a7ff0"/>
<circle cx="1027.9" cy="500.0" r="1.2" fill="#6236f2"/>
<circle cx="1030.1" cy="517.0" r="1.2" fill="#9a7ff0"/>
<circle cx="1015.8" cy="512.3" r="1.2" fill="#6236f2"/>
<circle cx="1031.5" cy="514.8" r="1.2" fill="#6236f2"/>
<circle cx="1035.2" cy="502.9" r="1.2" fill="#6236f2"/>
<circle cx="1039.3" cy="519.8" r="1.2" fill="#6236f2"/>
<circle cx="1014.5" cy="514.0" r="1.2" fill="#6236f2"/>
<circle cx="1063.5" cy="493.0" r="1.2" fill="#9a7ff0"/>
<circle cx="1050.5" cy="526.7" r="1.2" fill="#6236f2"/>
<circle cx="1058.4" cy="485.7" r="1.2" fill="#6236f2"/>
<circle cx="1043.6" cy="526.3" r="1.2" fill="#6236f2"/>
<circle cx="1023.7" cy="515.4" r="1.2" fill="#6236f2"/>
<circle cx="1030.1" cy="505.3" r="1.2" fill="#6236f2"/>
<circle cx="1013.2" cy="509.5" r="1.2" fill="#6236f2"/>
<circle cx="1050.5" cy="510.3" r="1.2" fill="#9a7ff0"/>
<circle cx="1038.5" cy="516.8" r="1.2" fill="#9a7ff0"/>
<circle cx="1035.9" cy="520.7" r="1.2" fill="#9a7ff0"/>
<circle cx="1026.6" cy="520.0" r="1.2" fill="#9a7ff0"/>
<circle cx="1044.9" cy="497.5" r="1.2" fill="#6236f2"/>
<circle cx="1038.2" cy="503.5" r="1.2" fill="#6236f2"/>
<circle cx="1037.5" cy="526.6" r="1.2" fill="#9a7ff0"/>
<circle cx="1038.3" cy="520.8" r="1.2" fill="#6236f2"/>
<circle cx="1062.0" cy="504.4" r="1.2" fill="#6236f2"/>
<circle cx="1037.5" cy="495.6" r="1.2" fill="#6236f2"/>
<circle cx="1027.7" cy="505.5" r="1.2" fill="#6236f2"/>
<circle cx="1054.0" cy="488.3" r="1.2" fill="#6236f2"/>
<circle cx="1026.4" cy="502.1" r="1.2" fill="#9a7ff0"/>
<circle cx="1044.6" cy="518.4" r="1.2" fill="#6236f2"/>
<circle cx="1021.2" cy="513.8" r="1.2" fill="#9a7ff0"/>
<circle cx="1042.3" cy="490.0" r="1.2" fill="#6236f2"/>
<circle cx="1065.3" cy="488.8" r="1.2" fill="#9a7ff0"/>
<circle cx="1026.6" cy="518.5" r="1.2" fill="#6236f2"/>
<circle cx="1024.7" cy="522.5" r="1.2" fill="#9a7ff0"/>
<circle cx="1043.7" cy="493.2" r="1.2" fill="#6236f2"/>
<circle cx="1066.8" cy="491.1" r="1.2" fill="#6236f2"/>
<circle cx="1045.7" cy="512.3" r="1.2" fill="#9a7ff0"/>
<circle cx="1055.6" cy="511.7" r="1.2" fill="#6236f2"/>
<circle cx="1024.7" cy="503.5" r="1.2" fill="#6236f2"/>
<circle cx="1039.8" cy="496.5" r="1.2" fill="#6236f2"/>
<circle cx="1056.5" cy="502.0" r="1.2" fill="#6236f2"/>
<circle cx="1029.0" cy="504.5" r="1.2" fill="#6236f2"/>
<circle cx="1042.1" cy="523.4" r="1.2" fill="#6236f2"/>
<circle cx="1045.3" cy="491.4" r="1.2" fill="#9a7ff0"/>
<circle cx="1041.0" cy="507.4" r="1.2" fill="#6236f2"/>
<circle cx="1051.8" cy="490.7" r="1.2" fill="#9a7ff0"/>
<circle cx="1054.6" cy="501.5" r="1.2" fill="#6236f2"/>
<circle cx="1018.1" cy="509.3" r="1.2" fill="#6236f2"/>
<circle cx="1052.1" cy="511.4" r="1.2" fill="#6236f2"/>
<circle cx="1027.2" cy="507.6" r="1.2" fill="#6236f2"/>
<circle cx="1055.7" cy="504.4" r="1.2" fill="#6236f2"/>
<circle cx="1031.4" cy="511.0" r="1.2" fill="#6236f2"/>
<circle cx="1045.6" cy="495.3" r="1.2" fill="#9a7ff0"/>
<circle cx="1037.0" cy="493.9" r="1.2" fill="#6236f2"/>
<circle cx="1018.6" cy="509.0" r="1.2" fill="#9a7ff0"/>
<circle cx="1036.2" cy="504.7" r="1.2" fill="#6236f2"/>
<circle cx="1052.4" cy="486.5" r="1.2" fill="#6236f2"/>
<circle cx="1033.4" cy="504.2" r="1.2" fill="#9a7ff0"/>
<circle cx="1037.9" cy="492.3" r="1.2" fill="#6236f2"/>
<circle cx="1047.2" cy="501.6" r="1.2" fill="#6236f2"/>
<circle cx="1053.9" cy="497.9" r="1.2" fill="#6236f2"/>
<circle cx="1011.4" cy="517.4" r="1.2" fill="#6236f2"/>
<circle cx="1064.8" cy="494.1" r="1.2" fill="#6236f2"/>
<circle cx="1027.2" cy="514.9" r="1.2" fill="#6236f2"/>
<circle cx="1029.0" cy="518.7" r="1.2" fill="#6236f2"/>
<circle cx="1066.6" cy="492.8" r="1.2" fill="#6236f2"/>
<circle cx="1034.1" cy="495.6" r="1.2" fill="#6236f2"/>
<circle cx="1057.2" cy="508.5" r="1.2" fill="#6236f2"/>
<circle cx="1052.8" cy="503.7" r="1.2" fill="#9a7ff0"/>
<circle cx="1038.7" cy="491.7" r="1.2" fill="#9a7ff0"/>
<circle cx="1052.8" cy="485.0" r="1.2" fill="#6236f2"/>
<circle cx="1050.7" cy="488.8" r="1.2" fill="#6236f2"/>
<circle cx="1029.0" cy="502.8" r="1.2" fill="#6236f2"/>
<circle cx="1043.9" cy="489.5" r="1.2" fill="#6236f2"/>
<circle cx="1013.1" cy="517.1" r="1.2" fill="#9a7ff0"/>
<circle cx="1017.6" cy="516.9" r="1.2" fill="#6236f2"/>
<circle cx="1060.1" cy="489.6" r="1.2" fill="#9a7ff0"/>
<circle cx="1013.4" cy="507.7" r="1.2" fill="#6236f2"/>
<circle cx="1042.0" cy="507.6" r="1.2" fill="#6236f2"/>
<circle cx="1053.9" cy="487.8" r="1.2" fill="#6236f2"/>
<circle cx="1012.5" cy="512.2" r="1.2" fill="#9a7ff0"/>
<circle cx="1048.9" cy="514.9" r="1.2" fill="#6236f2"/>
<circle cx="1021.5" cy="501.8" r="1.2" fill="#6236f2"/>
<circle cx="1056.8" cy="504.7" r="1.2" fill="#9a7ff0"/>
<circle cx="1053.5" cy="498.9" r="1.2" fill="#6236f2"/>
<circle cx="1040.7" cy="516.6" r="1.2" fill="#6236f2"/>
<circle cx="1025.4" cy="506.0" r="1.2" fill="#6236f2"/>
<circle cx="1027.6" cy="507.6" r="1.2" fill="#9a7ff0"/>
<circle cx="1041.2" cy="511.6" r="1.2" fill="#9a7ff0"/>
<circle cx="1016.3" cy="511.0" r="1.2" fill="#9a7ff0"/>
<circle cx="1041.8" cy="492.3" r="1.2" fill="#9a7ff0"/>
<circle cx="1035.2" cy="501.2" r="1.2" fill="#9a7ff0"/>
<circle cx="1034.4" cy="497.2" r="1.2" fill="#9a7ff0"/>
<circle cx="1055.8" cy="524.3" r="1.2" fill="#9a7ff0"/>
<circle cx="1059.3" cy="514.7" r="1.2" fill="#6236f2"/>
<circle cx="1042.5" cy="504.8" r="1.2" fill="#9a7ff0"/>
<circle cx="1027.8" cy="510.6" r="1.2" fill="#6236f2"/>
<circle cx="1044.2" cy="512.0" r="1.2" fill="#6236f2"/>
<circle cx="1014.4" cy="518.1" r="1.2" fill="#6236f2"/>
<circle cx="1048.6" cy="493.8" r="1.2" fill="#6236f2"/>
<circle cx="1066.1" cy="493.1" r="1.2" fill="#6236f2"/>
<circle cx="1038.4" cy="497.6" r="1.2" fill="#6236f2"/>
<circle cx="1055.9" cy="492.9" r="1.2" fill="#9a7ff0"/>
<circle cx="1063.2" cy="486.4" r="1.2" fill="#9a7ff0"/>
<circle cx="1035.9" cy="511.2" r="1.2" fill="#9a7ff0"/>
<circle cx="1060.5" cy="494.1" r="1.2" fill="#6236f2"/>
<circle cx="1056.3" cy="488.6" r="1.2" fill="#6236f2"/>
<circle cx="1017.2" cy="514.6" r="1.2" fill="#6236f2"/>
<circle cx="1028.4" cy="509.8" r="1.2" fill="#6236f2"/>
<circle cx="1031.5" cy="500.1" r="1.2" fill="#6236f2"/>
<circle cx="1030.6" cy="514.6" r="1.2" fill="#6236f2"/>
<circle cx="1029.5" cy="516.9" r="1.2" fill="#6236f2"/>
<circle cx="1035.8" cy="515.5" r="1.2" fill="#6236f2"/>
<circle cx="1042.6" cy="529.1" r="1.2" fill="#6236f2"/>
<circle cx="1033.1" cy="502.9" r="1.2" fill="#6236f2"/>
<circle cx="1044.8" cy="491.3" r="1.2" fill="#6236f2"/>
<circle cx="1021.8" cy="502.9" r="1.2" fill="#9a7ff0"/>
<circle cx="1046.8" cy="491.0" r="1.2" fill="#9a7ff0"/>
<circle cx="1038.0" cy="529.4" r="1.2" fill="#6236f2"/>
<circle cx="1060.5" cy="493.3" r="1.2" fill="#9a7ff0"/>
<circle cx="1025.3" cy="503.8" r="1.2" fill="#6236f2"/>
<circle cx="1013.2" cy="506.5" r="1.2" fill="#6236f2"/>
<circle cx="1038.2" cy="505.5" r="1.2" fill="#6236f2"/>
<circle cx="1028.9" cy="505.3" r="1.2" fill="#9a7ff0"/>
<circle cx="1020.7" cy="503.9" r="1.2" fill="#6236f2"/>
<circle cx="1013.5" cy="516.7" r="1.2" fill="#6236f2"/>
<circle cx="1041.0" cy="513.2" r="1.2" fill="#6236f2"/>
<circle cx="1153.7" cy="629.6" r="1" fill="#8a6cf0"/>
<circle cx="1157.9" cy="645.7" r="1" fill="#8a6cf0"/>
<circle cx="1068.1" cy="573.7" r="1" fill="#8a6cf0"/>
<circle cx="1122.1" cy="538.0" r="1" fill="#8a6cf0"/>
<circle cx="1145.8" cy="612.0" r="1" fill="#8a6cf0"/>
<circle cx="1110.8" cy="590.8" r="1" fill="#8a6cf0"/>
<circle cx="1135.3" cy="544.6" r="1" fill="#8a6cf0"/>
<circle cx="1141.7" cy="624.2" r="1" fill="#8a6cf0"/>
<circle cx="1021.7" cy="562.7" r="1" fill="#8a6cf0"/>
<circle cx="1034.3" cy="580.2" r="1" fill="#8a6cf0"/>
<circle cx="1059.2" cy="570.3" r="1" fill="#8a6cf0"/>
<circle cx="1029.9" cy="592.4" r="1" fill="#8a6cf0"/>
<circle cx="1061.7" cy="583.9" r="1" fill="#8a6cf0"/>
<circle cx="1037.6" cy="565.3" r="1" fill="#8a6cf0"/>
<circle cx="1010.9" cy="571.9" r="1" fill="#8a6cf0"/>
<circle cx="1051.3" cy="572.6" r="1" fill="#8a6cf0"/>
<circle cx="1149.3" cy="547.3" r="1" fill="#8a6cf0"/>
<circle cx="1162.0" cy="544.4" r="1" fill="#8a6cf0"/>
<circle cx="1152.6" cy="537.8" r="1" fill="#8a6cf0"/>
<circle cx="1152.2" cy="559.2" r="1" fill="#8a6cf0"/>
<circle cx="1148.0" cy="550.9" r="1" fill="#8a6cf0"/>
<circle cx="1126.7" cy="519.7" r="1" fill="#8a6cf0"/>
<circle cx="1124.6" cy="515.3" r="1" fill="#8a6cf0"/>
<circle cx="1167.1" cy="558.0" r="1" fill="#8a6cf0"/>
<circle cx="1176.9" cy="596.9" r="1" fill="#8a6cf0"/>
<circle cx="1187.2" cy="600.7" r="1" fill="#8a6cf0"/>
<circle cx="1180.0" cy="611.6" r="1" fill="#8a6cf0"/>
<circle cx="1181.3" cy="591.1" r="1" fill="#8a6cf0"/>
<circle cx="1172.7" cy="598.8" r="1" fill="#8a6cf0"/>
<circle cx="1191.9" cy="602.7" r="1" fill="#8a6cf0"/>
<circle cx="1197.9" cy="600.5" r="1" fill="#8a6cf0"/>
<circle cx="1160.8" cy="594.5" r="1" fill="#8a6cf0"/>
<circle cx="1173.0" cy="640.2" r="1" fill="#8a6cf0"/>
<circle cx="1182.9" cy="662.2" r="1" fill="#8a6cf0"/>
<circle cx="1169.4" cy="671.7" r="1" fill="#8a6cf0"/>
<circle cx="1154.2" cy="648.7" r="1" fill="#8a6cf0"/>
<circle cx="1177.2" cy="641.5" r="1" fill="#8a6cf0"/>
<circle cx="1174.8" cy="651.8" r="1" fill="#8a6cf0"/>
<circle cx="1180.6" cy="664.3" r="1" fill="#8a6cf0"/>
<circle cx="1172.4" cy="667.2" r="1" fill="#8a6cf0"/>
<circle cx="1012.5" cy="662.2" r="1" fill="#8a6cf0"/>
<circle cx="1030.3" cy="658.4" r="1" fill="#8a6cf0"/>
<circle cx="1020.1" cy="678.8" r="1" fill="#8a6cf0"/>
<circle cx="1036.8" cy="659.1" r="1" fill="#8a6cf0"/>
<circle cx="1011.8" cy="671.8" r="1" fill="#8a6cf0"/>
<circle cx="1004.9" cy="685.7" r="1" fill="#8a6cf0"/>
<circle cx="1023.5" cy="664.5" r="1" fill="#8a6cf0"/>
<circle cx="1013.8" cy="650.6" r="1" fill="#8a6cf0"/>
<circle cx="1071.6" cy="610.2" r="1" fill="#8a6cf0"/>
<circle cx="1076.7" cy="624.3" r="1" fill="#8a6cf0"/>
<circle cx="1080.0" cy="615.9" r="1" fill="#8a6cf0"/>
<circle cx="1054.6" cy="637.1" r="1" fill="#8a6cf0"/>
<circle cx="1072.1" cy="616.7" r="1" fill="#8a6cf0"/>
<circle cx="1067.1" cy="618.9" r="1" fill="#8a6cf0"/>
<circle cx="1071.1" cy="622.1" r="1" fill="#8a6cf0"/>
<circle cx="1053.4" cy="609.6" r="1" fill="#8a6cf0"/>
<linearGradient id="gD" x1="0" y1="0" x2="0" y2="1"><stop offset="0" stop-color="#2a10f5"/><stop offset="0.45" stop-color="#8c70ee"/><stop offset="1" stop-color="#d6d6d6"/></linearGradient><rect x="1248.3" y="492" width="24.2" height="119.89999999999998" fill="url(#gD)"/>
<path d="M1248.3,527.7 h4.8 M1272.5,527.7 h-4.8" stroke="#fff" stroke-width="1"/>
<text x="1284.2" y="534.2" font-size="18" fill="#111">2</text>
<path d="M1248.3,570 h4.8 M1272.5,570 h-4.8" stroke="#fff" stroke-width="1"/>
<text x="1284.2" y="576.5" font-size="18" fill="#111">1</text>
<path d="M1248.3,611.9 h4.8 M1272.5,611.9 h-4.8" stroke="#fff" stroke-width="1"/>
<text x="1284.2" y="618.4" font-size="18" fill="#111">0</text>
<path d="M940.6,663 V714 H991.6" fill="none" stroke="#000" stroke-width="3"/>
<path d="M936.1,666 L940.6,657 L945.1,666 Z" fill="#000"/>
<path d="M988.6,709.5 L997.6,714 L988.6,718.5 Z" fill="#000"/>
<text x="923.1" y="685.0" font-size="15.6" text-anchor="middle" fill="#111" transform="rotate(-90 923.1 685.0)" dominant-baseline="central">UMAP2</text>
<text x="938.7" y="733.5" font-size="15" textLength="52" lengthAdjust="spacingAndGlyphs" fill="#111">UMAP1</text>
<text x="0" y="0" font-size="69.48" fill="#000" transform="translate(1373.46,360.30) scale(0.7622,1)">E</text>
<text x="1488.8" y="381.4" font-size="39" textLength="67" lengthAdjust="spacingAndGlyphs" fill="#111">Dcx</text>
<g transform="matrix(0.7484,0,0,0.604,1245.0,235.8)">
<path d="M338.0,546.0 L350.0,535.0 L358.0,540.0 L358.0,562.0 L345.0,562.0 Z" fill="#d3d3d3" stroke="#d3d3d3" stroke-width="2.0" stroke-linejoin="round"/>
<path d="M329.0,607.0 L350.0,601.0 L382.0,599.0 L386.0,612.0 L330.0,613.0 Z" fill="#d3d3d3" stroke="#d3d3d3" stroke-width="2.0" stroke-linejoin="round"/>
<path d="M440.0,586.0 L476.0,590.0 L486.0,606.0 L446.0,603.0 Z" fill="#d3d3d3" stroke="#d3d3d3" stroke-width="2.0" stroke-linejoin="round"/>
<path d="M398.0,600.0 L426.0,598.0 L427.0,608.0 L400.0,609.0 Z" fill="#d3d3d3" stroke="#d3d3d3" stroke-width="2.0" stroke-linejoin="round"/>
<path d="M426.0,540.0 L437.0,538.0 L436.0,552.0 L428.0,552.0 Z" fill="#d3d3d3" stroke="#d3d3d3" stroke-width="2.0" stroke-linejoin="round"/>
<path d="M372.0,504.0 L392.0,503.5 L403.0,511.0 L414.0,524.0 L426.0,535.0 L434.0,540.0 L432.0,550.0 L400.0,547.0 L380.0,538.0 L368.0,530.0 Z" fill="#d3d3d3" stroke="#d3d3d3" stroke-width="2.0" stroke-linejoin="round"/>
<path d="M330.0,540.0 L340.0,536.0 L352.0,528.0 L360.0,530.0 L352.0,545.0 L336.0,548.0 Z" fill="#d3d3d3" stroke="#d3d3d3" stroke-width="2.0" stroke-linejoin="round"/>
<path d="M329.8,298.0 L336.0,300.0 L341.4,307.6 L339.4,317.3 L338.8,331.4 L340.7,340.4 L352.9,348.7 L355.5,352.0 L343.9,353.2 L328.5,348.1 L320.8,340.4 L319.5,328.8 L317.6,321.1 L317.6,310.8 L323.4,303.8 Z" fill="#d3d3d3" stroke="#d3d3d3" stroke-width="2.0" stroke-linejoin="round"/>
<path d="M374.8,357.1 L383.8,355.8 L395.3,353.2 L401.7,359.7 L400.5,372.5 L408.2,380.2 L418.5,381.5 L423.0,385.0 L421.0,390.5 L412.0,398.2 L403.0,397.0 L392.8,393.1 L390.2,385.4 L388.9,375.1 L382.5,363.5 Z" fill="#d3d3d3" stroke="#d3d3d3" stroke-width="2.0" stroke-linejoin="round"/>
<path d="M402.0,412.0 L408.0,408.5 L416.0,409.0 L415.0,413.0 L406.0,414.0 Z" fill="#d3d3d3" stroke="#d3d3d3" stroke-width="2.0" stroke-linejoin="round"/>
<path d="M336.2,418.1 L348.0,420.0 L360.6,423.9 L352.9,436.8 L347.8,452.2 L349.1,470.2 L342.6,488.2 L328.5,492.0 L313.1,499.7 L302.8,485.6 L290.0,477.9 L272.0,472.8 L271.3,461.2 L279.7,450.9 L298.9,443.2 L313.1,429.1 L323.4,421.4 Z" fill="#d3d3d3" stroke="#d3d3d3" stroke-width="2.0" stroke-linejoin="round"/>
<path d="M425.3,446.1 L438.0,452.0 L450.6,461.5 L463.2,476.3 L480.7,484.7 L478.6,495.9 L487.0,495.9 L508.0,502.9 L529.1,515.5 L531.9,528.1 L538.9,535.1 L536.1,542.2 L526.3,552.0 L510.8,556.9 L502.4,556.2 L470.2,542.2 L456.2,528.1 L439.4,514.1 L425.3,493.1 L414.1,474.9 L416.9,458.0 Z" fill="#d3d3d3" stroke="#d3d3d3" stroke-width="2.0" stroke-linejoin="round"/>
<path d="M273.1,532.2 L280.1,532.2 L288.5,540.7 L299.7,530.8 L308.1,546.3 L322.2,550.5 L333.4,547.7 L344.6,549.1 L344.6,560.3 L357.2,570.1 L371.2,584.1 L378.2,598.1 L371.2,605.1 L350.2,606.5 L329.2,609.4 L316.5,605.1 L301.1,598.1 L287.1,586.9 L275.9,578.5 L264.7,572.9 L264.0,558.9 L266.1,546.3 Z" fill="#d3d3d3" stroke="#d3d3d3" stroke-width="2.0" stroke-linejoin="round"/>
<path d="M475.8,594.0 L498.2,589.8 L523.5,582.8 L531.9,567.4 L548.7,581.4 L554.3,606.6 L548.7,630.5 L526.3,626.3 L505.2,617.9 L484.2,603.8 Z" fill="#d3d3d3" stroke="#d3d3d3" stroke-width="2.0" stroke-linejoin="round"/>
<path d="M500.9,664.1 L515.7,669.4 L523.0,685.1 L522.0,697.8 L513.6,711.4 L499.9,718.8 L482.0,717.7 L467.3,709.3 L462.0,697.8 L471.5,689.3 L463.1,685.1 L467.3,676.7 L479.9,681.0 L492.5,669.4 Z" fill="#d3d3d3" stroke="#d3d3d3" stroke-width="2.0" stroke-linejoin="round"/>
<path d="M455.0,662.0 L462.0,664.0 L458.0,672.0 L465.0,679.0 L460.0,681.0 L451.0,673.0 Z" fill="#d3d3d3" stroke="#d3d3d3" stroke-width="2.0" stroke-linejoin="round"/>
<path d="M421.1,488.9 L433.7,495.9 L446.4,508.5 L460.4,525.3 L470.2,542.2 L502.4,556.2 L470.2,570.2 L453.4,582.8 L442.2,591.2 L444.2,602.1 L458.9,606.3 L473.6,625.2 L484.1,634.7 L492.5,655.7 L489.4,664.1 L484.1,679.9 L473.6,674.6 L463.1,657.8 L450.5,643.1 L440.0,626.3 L431.5,611.5 L426.7,604.0 L414.1,603.8 L393.1,603.8 L378.0,600.0 L371.2,584.1 L357.2,570.1 L351.0,555.0 L348.2,539.4 L366.5,531.0 L386.1,528.1 L400.1,526.7 L408.5,538.0 L422.5,546.4 L433.7,538.0 L432.3,521.1 L425.3,502.9 Z" fill="#d3d3d3" stroke="#d3d3d3" stroke-width="2.0" stroke-linejoin="round"/>
<path d="M338.4,536.5 L346.8,519.7 L369.3,505.7 L383.3,502.9 L397.3,506.0 L404.0,511.0 L402.0,519.0 L390.3,528.1 L372.1,528.1 L349.6,536.5 L344.0,540.8 Z" fill="#d3d3d3" stroke="#d3d3d3" stroke-width="2.0" stroke-linejoin="round"/>
<path d="M391.7,525.3 L398.0,521.0 L406.0,517.0 L414.0,523.0 L420.0,530.0 L428.1,537.0 L436.5,543.6 L430.9,552.0 L430.9,570.2 L425.3,582.8 L419.7,580.0 L422.5,563.2 L415.5,552.0 L402.9,542.2 L391.7,536.5 Z" fill="#d3d3d3" stroke="#d3d3d3" stroke-width="2.0" stroke-linejoin="round"/>
<path d="M402.9,606.6 L423.9,603.8 L426.7,626.3 L422.5,648.7 L414.1,648.7 L405.7,637.5 L393.1,622.1 Z" fill="#d3d3d3" stroke="#d3d3d3" stroke-width="2.0" stroke-linejoin="round"/>
<path d="M329.2,610.8 L350.2,606.5 L385.2,610.8 L375.4,629.0 L365.6,648.6 L350.2,661.2 L341.8,666.8 L322.2,666.8 L316.5,668.2 L326.4,651.4 L333.4,643.0 L340.4,638.8 L336.2,623.4 Z" fill="#d3d3d3" stroke="#d3d3d3" stroke-width="2.0" stroke-linejoin="round"/>
<path d="M225.4,624.8 L228.2,637.4 L245.0,638.8 L277.3,640.2 L280.1,651.4 L277.3,657.0 L266.1,652.8 L246.5,654.2 L242.2,662.6 L252.1,676.6 L254.9,682.3 L249.3,682.3 L238.0,661.2 L231.0,655.6 L218.4,651.4 L218.4,644.4 L225.4,638.8 Z" fill="#d3d3d3" stroke="#d3d3d3" stroke-width="2.0" stroke-linejoin="round"/>
<path d="M426.0,706.5 L436.0,707.0 L435.0,709.0 L427.0,709.0 Z" fill="#d3d3d3" stroke="#d3d3d3" stroke-width="2.0" stroke-linejoin="round"/>
<path d="M250.7,692.1 L268.9,682.3 L280.1,682.3 L288.5,668.2 L294.1,666.8 L284.3,679.4 L288.5,687.9 L308.1,683.7 L325.0,680.9 L326.4,690.7 L316.5,707.5 L305.3,724.3 L294.1,738.3 L277.3,749.5 L263.3,748.1 L252.1,738.3 L249.3,724.3 L250.7,703.3 Z" fill="#d3d3d3" stroke="#d3d3d3" stroke-width="2.0" stroke-linejoin="round"/>
<path d="M308.0,739.0 L320.0,735.0 L334.8,732.0 L334.0,735.0 L318.0,739.5 Z" fill="#d3d3d3" stroke="#d3d3d3" stroke-width="2.0" stroke-linejoin="round"/>
<path d="M390.9,651.4 L400.7,652.8 L402.1,668.2 L400.7,687.9 L383.8,694.9 L382.4,682.3 L381.0,668.2 Z" fill="#d3d3d3" stroke="#d3d3d3" stroke-width="2.0" stroke-linejoin="round"/>
</g>
<circle cx="1623.2" cy="560.3" r="1.1" fill="#7d5cf2"/>
<circle cx="1622.2" cy="540.3" r="1.1" fill="#7d5cf2"/>
<circle cx="1589.8" cy="544.7" r="1.1" fill="#7d5cf2"/>
<circle cx="1596.8" cy="548.7" r="1.1" fill="#7d5cf2"/>
<circle cx="1625.1" cy="571.0" r="1.1" fill="#7d5cf2"/>
<circle cx="1609.1" cy="562.3" r="1.1" fill="#7d5cf2"/>
<circle cx="1613.1" cy="544.3" r="1.1" fill="#7d5cf2"/>
<circle cx="1583.9" cy="546.7" r="1.1" fill="#7d5cf2"/>
<circle cx="1635.0" cy="556.4" r="1.1" fill="#7d5cf2"/>
<circle cx="1607.7" cy="537.9" r="1.1" fill="#7d5cf2"/>
<circle cx="1637.8" cy="547.0" r="1.1" fill="#7d5cf2"/>
<circle cx="1635.1" cy="544.7" r="1.1" fill="#7d5cf2"/>
<circle cx="1632.0" cy="544.0" r="1.1" fill="#7d5cf2"/>
<circle cx="1573.2" cy="520.3" r="1.1" fill="#7d5cf2"/>
<circle cx="1620.6" cy="542.8" r="1.1" fill="#7d5cf2"/>
<circle cx="1573.3" cy="535.0" r="1.1" fill="#7d5cf2"/>
<circle cx="1563.1" cy="528.7" r="1.1" fill="#7d5cf2"/>
<circle cx="1569.3" cy="521.1" r="1.1" fill="#7d5cf2"/>
<circle cx="1636.1" cy="546.9" r="1.1" fill="#7d5cf2"/>
<circle cx="1561.4" cy="516.8" r="1.1" fill="#7d5cf2"/>
<circle cx="1636.9" cy="562.5" r="1.1" fill="#7d5cf2"/>
<circle cx="1636.7" cy="551.9" r="1.1" fill="#7d5cf2"/>
<circle cx="1578.2" cy="536.1" r="1.1" fill="#7d5cf2"/>
<circle cx="1608.8" cy="554.8" r="1.1" fill="#7d5cf2"/>
<circle cx="1637.7" cy="569.4" r="1.1" fill="#7d5cf2"/>
<circle cx="1579.9" cy="513.6" r="1.1" fill="#7d5cf2"/>
<circle cx="1629.6" cy="564.8" r="1.1" fill="#7d5cf2"/>
<circle cx="1576.8" cy="533.3" r="1.1" fill="#7d5cf2"/>
<circle cx="1631.4" cy="560.0" r="1.1" fill="#7d5cf2"/>
<circle cx="1634.7" cy="560.3" r="1.1" fill="#7d5cf2"/>
<circle cx="1578.4" cy="515.7" r="1.1" fill="#7d5cf2"/>
<circle cx="1609.0" cy="541.8" r="1.1" fill="#7d5cf2"/>
<circle cx="1625.2" cy="550.9" r="1.1" fill="#7d5cf2"/>
<circle cx="1573.1" cy="539.9" r="1.1" fill="#7d5cf2"/>
<circle cx="1609.2" cy="536.3" r="1.1" fill="#7d5cf2"/>
<circle cx="1616.6" cy="566.1" r="1.1" fill="#7d5cf2"/>
<circle cx="1629.2" cy="559.6" r="1.1" fill="#7d5cf2"/>
<circle cx="1613.5" cy="568.0" r="1.1" fill="#7d5cf2"/>
<circle cx="1620.8" cy="544.8" r="1.1" fill="#7d5cf2"/>
<circle cx="1592.1" cy="534.6" r="1.1" fill="#7d5cf2"/>
<circle cx="1604.7" cy="558.1" r="1.1" fill="#7d5cf2"/>
<circle cx="1611.4" cy="555.0" r="1.1" fill="#7d5cf2"/>
<circle cx="1579.2" cy="536.3" r="1.1" fill="#7d5cf2"/>
<circle cx="1564.0" cy="520.7" r="1.1" fill="#7d5cf2"/>
<circle cx="1633.2" cy="552.8" r="1.1" fill="#7d5cf2"/>
<circle cx="1565.0" cy="530.6" r="1.1" fill="#7d5cf2"/>
<circle cx="1601.2" cy="552.8" r="1.1" fill="#7d5cf2"/>
<circle cx="1603.5" cy="546.2" r="1.1" fill="#7d5cf2"/>
<circle cx="1571.4" cy="530.2" r="1.1" fill="#7d5cf2"/>
<circle cx="1616.0" cy="568.7" r="1.1" fill="#7d5cf2"/>
<circle cx="1577.8" cy="566.8" r="1.1" fill="#7d5cf2"/>
<circle cx="1579.5" cy="606.0" r="1.1" fill="#7d5cf2"/>
<circle cx="1573.3" cy="587.7" r="1.1" fill="#7d5cf2"/>
<circle cx="1509.7" cy="560.2" r="1.1" fill="#7d5cf2"/>
<circle cx="1542.9" cy="582.6" r="1.1" fill="#7d5cf2"/>
<circle cx="1569.3" cy="578.8" r="1.1" fill="#7d5cf2"/>
<circle cx="1614.9" cy="570.4" r="1.1" fill="#7d5cf2"/>
<circle cx="1602.1" cy="567.5" r="1.1" fill="#7d5cf2"/>
<circle cx="1608.5" cy="625.9" r="1.1" fill="#7d5cf2"/>
<circle cx="1548.6" cy="569.5" r="1.1" fill="#7d5cf2"/>
<circle cx="1556.7" cy="570.6" r="1.1" fill="#7d5cf2"/>
<circle cx="1526.0" cy="557.2" r="1.1" fill="#7d5cf2"/>
<circle cx="1569.6" cy="603.2" r="1.1" fill="#7d5cf2"/>
<circle cx="1565.6" cy="589.1" r="1.1" fill="#7d5cf2"/>
<circle cx="1600.3" cy="634.6" r="1.1" fill="#7d5cf2"/>
<circle cx="1570.7" cy="560.1" r="1.1" fill="#7d5cf2"/>
<circle cx="1523.6" cy="570.7" r="1.1" fill="#7d5cf2"/>
<circle cx="1603.9" cy="577.3" r="1.1" fill="#7d5cf2"/>
<circle cx="1544.0" cy="566.0" r="1.1" fill="#7d5cf2"/>
<circle cx="1572.4" cy="586.8" r="1.1" fill="#7d5cf2"/>
<circle cx="1571.0" cy="566.3" r="1.1" fill="#7d5cf2"/>
<circle cx="1583.6" cy="570.2" r="1.1" fill="#7d5cf2"/>
<circle cx="1522.8" cy="569.4" r="1.1" fill="#7d5cf2"/>
<circle cx="1547.7" cy="593.1" r="1.1" fill="#7d5cf2"/>
<circle cx="1530.6" cy="566.9" r="1.1" fill="#7d5cf2"/>
<circle cx="1514.9" cy="579.1" r="1.1" fill="#7d5cf2"/>
<circle cx="1577.5" cy="611.9" r="1.1" fill="#7d5cf2"/>
<circle cx="1549.1" cy="589.4" r="1.1" fill="#7d5cf2"/>
<circle cx="1546.2" cy="556.7" r="1.1" fill="#7d5cf2"/>
<circle cx="1553.7" cy="582.2" r="1.1" fill="#7d5cf2"/>
<circle cx="1543.4" cy="589.4" r="1.1" fill="#7d5cf2"/>
<circle cx="1535.4" cy="571.1" r="1.1" fill="#7d5cf2"/>
<circle cx="1530.1" cy="558.9" r="1.1" fill="#7d5cf2"/>
<circle cx="1557.0" cy="585.5" r="1.1" fill="#7d5cf2"/>
<circle cx="1576.4" cy="610.1" r="1.1" fill="#7d5cf2"/>
<circle cx="1559.0" cy="570.5" r="1.1" fill="#7d5cf2"/>
<circle cx="1556.0" cy="581.8" r="1.1" fill="#7d5cf2"/>
<circle cx="1572.2" cy="560.5" r="1.1" fill="#7d5cf2"/>
<circle cx="1523.4" cy="558.7" r="1.1" fill="#7d5cf2"/>
<circle cx="1529.0" cy="574.1" r="1.1" fill="#7d5cf2"/>
<circle cx="1562.1" cy="580.2" r="1.1" fill="#7d5cf2"/>
<circle cx="1537.0" cy="583.5" r="1.1" fill="#7d5cf2"/>
<circle cx="1564.9" cy="589.0" r="1.1" fill="#7d5cf2"/>
<circle cx="1526.8" cy="559.8" r="1.1" fill="#7d5cf2"/>
<circle cx="1600.7" cy="571.4" r="1.1" fill="#7d5cf2"/>
<circle cx="1527.8" cy="563.9" r="1.1" fill="#7d5cf2"/>
<circle cx="1565.7" cy="577.1" r="1.1" fill="#7d5cf2"/>
<circle cx="1546.1" cy="568.3" r="1.1" fill="#7d5cf2"/>
<circle cx="1530.6" cy="589.3" r="1.1" fill="#7d5cf2"/>
<circle cx="1574.8" cy="541.4" r="1.1" fill="#7d5cf2"/>
<circle cx="1573.7" cy="566.6" r="1.1" fill="#7d5cf2"/>
<circle cx="1606.6" cy="635.9" r="1.1" fill="#7d5cf2"/>
<circle cx="1583.6" cy="606.4" r="1.1" fill="#7d5cf2"/>
<circle cx="1604.7" cy="629.8" r="1.1" fill="#7d5cf2"/>
<circle cx="1540.7" cy="555.1" r="1.1" fill="#7d5cf2"/>
<circle cx="1568.6" cy="599.1" r="1.1" fill="#7d5cf2"/>
<circle cx="1577.8" cy="563.1" r="1.1" fill="#7d5cf2"/>
<circle cx="1555.1" cy="581.8" r="1.1" fill="#7d5cf2"/>
<circle cx="1556.9" cy="564.9" r="1.1" fill="#7d5cf2"/>
<circle cx="1603.5" cy="574.2" r="1.1" fill="#7d5cf2"/>
<circle cx="1524.3" cy="553.0" r="1.1" fill="#7d5cf2"/>
<circle cx="1533.5" cy="546.8" r="1.1" fill="#7d5cf2"/>
<circle cx="1539.9" cy="546.6" r="1.1" fill="#7d5cf2"/>
<circle cx="1529.0" cy="546.5" r="1.1" fill="#7d5cf2"/>
<circle cx="1535.0" cy="548.2" r="1.1" fill="#7d5cf2"/>
<circle cx="1527.8" cy="546.9" r="1.1" fill="#7d5cf2"/>
<circle cx="1508.1" cy="556.9" r="1.1" fill="#7d5cf2"/>
<circle cx="1544.5" cy="545.0" r="1.1" fill="#7d5cf2"/>
<circle cx="1511.2" cy="557.4" r="1.1" fill="#7d5cf2"/>
<circle cx="1512.9" cy="557.6" r="1.1" fill="#7d5cf2"/>
<circle cx="1523.2" cy="550.4" r="1.1" fill="#7d5cf2"/>
<circle cx="1504.4" cy="554.5" r="1.1" fill="#7d5cf2"/>
<circle cx="1532.6" cy="546.2" r="1.1" fill="#7d5cf2"/>
<circle cx="1535.1" cy="542.6" r="1.1" fill="#7d5cf2"/>
<circle cx="1511.6" cy="553.1" r="1.1" fill="#7d5cf2"/>
<circle cx="1523.6" cy="553.1" r="1.1" fill="#7d5cf2"/>
<circle cx="1514.6" cy="553.9" r="1.1" fill="#7d5cf2"/>
<circle cx="1513.1" cy="545.9" r="1.1" fill="#7d5cf2"/>
<circle cx="1510.5" cy="556.1" r="1.1" fill="#7d5cf2"/>
<circle cx="1520.6" cy="543.1" r="1.1" fill="#7d5cf2"/>
<circle cx="1515.7" cy="552.6" r="1.1" fill="#7d5cf2"/>
<circle cx="1516.5" cy="553.1" r="1.1" fill="#7d5cf2"/>
<circle cx="1537.6" cy="546.5" r="1.1" fill="#7d5cf2"/>
<circle cx="1502.5" cy="556.9" r="1.1" fill="#7d5cf2"/>
<circle cx="1523.2" cy="551.9" r="1.1" fill="#7d5cf2"/>
<circle cx="1438.5" cy="625.4" r="1.1" fill="#7d5cf2"/>
<circle cx="1427.0" cy="639.0" r="1.1" fill="#7d5cf2"/>
<circle cx="1445.9" cy="626.2" r="1.1" fill="#7d5cf2"/>
<circle cx="1443.3" cy="626.6" r="1.1" fill="#7d5cf2"/>
<circle cx="1428.6" cy="631.0" r="1.1" fill="#7d5cf2"/>
<circle cx="1439.2" cy="627.2" r="1.1" fill="#7d5cf2"/>
<circle cx="1433.6" cy="644.4" r="1.1" fill="#7d5cf2"/>
<circle cx="1444.0" cy="622.6" r="1.1" fill="#7d5cf2"/>
<circle cx="1447.0" cy="623.2" r="1.1" fill="#7d5cf2"/>
<circle cx="1431.6" cy="647.2" r="1.1" fill="#7d5cf2"/>
<circle cx="1424.0" cy="629.6" r="1.1" fill="#7d5cf2"/>
<circle cx="1445.0" cy="629.5" r="1.1" fill="#7d5cf2"/>
<circle cx="1413.1" cy="626.6" r="1.1" fill="#7d5cf2"/>
<circle cx="1428.9" cy="624.5" r="1.1" fill="#7d5cf2"/>
<circle cx="1447.2" cy="622.7" r="1.1" fill="#7d5cf2"/>
<circle cx="1410.8" cy="629.0" r="1.1" fill="#7d5cf2"/>
<circle cx="1420.9" cy="631.7" r="1.1" fill="#7d5cf2"/>
<circle cx="1430.9" cy="644.9" r="1.1" fill="#7d5cf2"/>
<circle cx="1417.8" cy="630.8" r="1.1" fill="#7d5cf2"/>
<circle cx="1429.4" cy="628.9" r="1.1" fill="#7d5cf2"/>
<circle cx="1623.1" cy="608.0" r="1.1" fill="#7d5cf2"/>
<circle cx="1613.9" cy="592.7" r="1.1" fill="#7d5cf2"/>
<circle cx="1657.5" cy="597.8" r="1.1" fill="#7d5cf2"/>
<circle cx="1641.5" cy="613.3" r="1.1" fill="#7d5cf2"/>
<circle cx="1634.5" cy="590.4" r="1.1" fill="#7d5cf2"/>
<circle cx="1653.8" cy="610.8" r="1.1" fill="#7d5cf2"/>
<circle cx="1649.0" cy="591.9" r="1.1" fill="#7d5cf2"/>
<circle cx="1627.6" cy="599.2" r="1.1" fill="#7d5cf2"/>
<circle cx="1647.3" cy="590.1" r="1.1" fill="#7d5cf2"/>
<circle cx="1631.2" cy="599.4" r="1.1" fill="#7d5cf2"/>
<circle cx="1629.2" cy="648.5" r="1.1" fill="#7d5cf2"/>
<circle cx="1631.1" cy="642.7" r="1.1" fill="#7d5cf2"/>
<circle cx="1619.4" cy="641.3" r="1.1" fill="#7d5cf2"/>
<circle cx="1603.1" cy="657.6" r="1.1" fill="#7d5cf2"/>
<circle cx="1617.5" cy="649.7" r="1.1" fill="#7d5cf2"/>
<circle cx="1625.3" cy="664.9" r="1.1" fill="#7d5cf2"/>
<circle cx="1603.5" cy="662.1" r="1.1" fill="#7d5cf2"/>
<circle cx="1625.3" cy="656.6" r="1.1" fill="#7d5cf2"/>
<circle cx="1617.8" cy="655.7" r="1.1" fill="#7d5cf2"/>
<circle cx="1624.5" cy="659.7" r="1.1" fill="#7d5cf2"/>
<circle cx="1603.1" cy="658.4" r="1.1" fill="#7d5cf2"/>
<circle cx="1623.2" cy="652.2" r="1.1" fill="#7d5cf2"/>
<circle cx="1631.7" cy="647.3" r="1.1" fill="#7d5cf2"/>
<circle cx="1615.9" cy="655.7" r="1.1" fill="#7d5cf2"/>
<circle cx="1488.2" cy="577.8" r="1.1" fill="#7d5cf2"/>
<circle cx="1502.0" cy="597.1" r="1.1" fill="#7d5cf2"/>
<circle cx="1466.3" cy="570.9" r="1.1" fill="#7d5cf2"/>
<circle cx="1462.6" cy="570.1" r="1.1" fill="#7d5cf2"/>
<circle cx="1467.2" cy="581.7" r="1.1" fill="#7d5cf2"/>
<circle cx="1473.3" cy="592.3" r="1.1" fill="#7d5cf2"/>
<circle cx="1522.3" cy="600.6" r="1.1" fill="#7d5cf2"/>
<circle cx="1474.6" cy="588.8" r="1.1" fill="#7d5cf2"/>
<circle cx="1601.2" cy="627.2" r="1.3" fill="#4a20f0"/>
<circle cx="1586.0" cy="609.0" r="1.3" fill="#4a20f0"/>
<circle cx="1590.2" cy="612.8" r="1.3" fill="#4a20f0"/>
<circle cx="1603.3" cy="630.7" r="1.3" fill="#4a20f0"/>
<circle cx="1583.5" cy="606.7" r="1.3" fill="#4a20f0"/>
<circle cx="1584.0" cy="605.8" r="1.3" fill="#4a20f0"/>
<circle cx="1584.0" cy="608.8" r="1.3" fill="#4a20f0"/>
<circle cx="1604.0" cy="632.5" r="1.3" fill="#4a20f0"/>
<circle cx="1605.8" cy="636.9" r="1.3" fill="#4a20f0"/>
<circle cx="1605.6" cy="632.7" r="1.3" fill="#4a20f0"/>
<circle cx="1584.3" cy="607.6" r="1.3" fill="#4a20f0"/>
<circle cx="1587.6" cy="611.4" r="1.3" fill="#4a20f0"/>
<circle cx="1585.7" cy="610.9" r="1.3" fill="#4a20f0"/>
<circle cx="1600.4" cy="627.2" r="1.3" fill="#4a20f0"/>
<circle cx="1606.0" cy="633.1" r="1.3" fill="#4a20f0"/>
<circle cx="1601.4" cy="627.5" r="1.3" fill="#4a20f0"/>
<circle cx="1583.8" cy="608.3" r="1.3" fill="#4a20f0"/>
<circle cx="1600.2" cy="628.2" r="1.3" fill="#4a20f0"/>
<circle cx="1582.0" cy="604.3" r="1.3" fill="#4a20f0"/>
<circle cx="1602.7" cy="627.4" r="1.3" fill="#4a20f0"/>
<circle cx="1605.8" cy="637.0" r="1.3" fill="#4a20f0"/>
<circle cx="1606.5" cy="635.7" r="1.3" fill="#4a20f0"/>
<circle cx="1585.2" cy="607.7" r="1.3" fill="#4a20f0"/>
<circle cx="1608.2" cy="635.2" r="1.3" fill="#4a20f0"/>
<circle cx="1601.0" cy="628.4" r="1.3" fill="#4a20f0"/>
<circle cx="1592.4" cy="616.2" r="1.3" fill="#4a20f0"/>
<circle cx="1595.7" cy="622.3" r="1.3" fill="#4a20f0"/>
<circle cx="1592.6" cy="618.5" r="1.3" fill="#4a20f0"/>
<circle cx="1593.5" cy="616.8" r="1.3" fill="#4a20f0"/>
<circle cx="1582.9" cy="607.8" r="1.3" fill="#4a20f0"/>
<circle cx="1604.0" cy="632.0" r="1.3" fill="#4a20f0"/>
<circle cx="1607.3" cy="634.0" r="1.3" fill="#4a20f0"/>
<circle cx="1586.0" cy="608.8" r="1.3" fill="#4a20f0"/>
<circle cx="1594.9" cy="622.4" r="1.3" fill="#4a20f0"/>
<circle cx="1599.1" cy="626.1" r="1.3" fill="#4a20f0"/>
<circle cx="1599.7" cy="629.3" r="1.3" fill="#4a20f0"/>
<circle cx="1598.4" cy="623.4" r="1.3" fill="#4a20f0"/>
<circle cx="1592.5" cy="617.6" r="1.3" fill="#4a20f0"/>
<circle cx="1605.6" cy="634.0" r="1.3" fill="#4a20f0"/>
<circle cx="1606.2" cy="634.7" r="1.3" fill="#4a20f0"/>
<circle cx="1606.5" cy="633.3" r="1.3" fill="#4a20f0"/>
<circle cx="1588.2" cy="612.3" r="1.3" fill="#4a20f0"/>
<circle cx="1585.0" cy="609.7" r="1.3" fill="#4a20f0"/>
<circle cx="1582.4" cy="604.4" r="1.3" fill="#4a20f0"/>
<circle cx="1584.1" cy="607.4" r="1.3" fill="#4a20f0"/>
<circle cx="1537.1" cy="550.0" r="1.1" fill="#7d5cf2"/>
<circle cx="1534.0" cy="544.9" r="1.1" fill="#7d5cf2"/>
<circle cx="1519.8" cy="543.6" r="1.1" fill="#7d5cf2"/>
<circle cx="1523.0" cy="542.6" r="1.1" fill="#7d5cf2"/>
<circle cx="1503.6" cy="554.7" r="1.1" fill="#7d5cf2"/>
<circle cx="1536.4" cy="542.6" r="1.1" fill="#7d5cf2"/>
<circle cx="1503.2" cy="558.1" r="1.1" fill="#7d5cf2"/>
<circle cx="1538.5" cy="549.5" r="1.1" fill="#7d5cf2"/>
<circle cx="1516.6" cy="555.1" r="1.1" fill="#7d5cf2"/>
<circle cx="1519.9" cy="553.4" r="1.1" fill="#7d5cf2"/>
<circle cx="1503.9" cy="557.7" r="1.1" fill="#7d5cf2"/>
<circle cx="1530.7" cy="548.8" r="1.1" fill="#7d5cf2"/>
<circle cx="1537.3" cy="548.0" r="1.1" fill="#7d5cf2"/>
<circle cx="1514.0" cy="555.1" r="1.1" fill="#7d5cf2"/>
<circle cx="1519.2" cy="548.6" r="1.1" fill="#7d5cf2"/>
<circle cx="1522.5" cy="541.2" r="1.1" fill="#7d5cf2"/>
<circle cx="1518.5" cy="543.4" r="1.1" fill="#7d5cf2"/>
<circle cx="1523.4" cy="550.9" r="1.1" fill="#7d5cf2"/>
<circle cx="1516.6" cy="555.8" r="1.1" fill="#7d5cf2"/>
<circle cx="1535.8" cy="544.8" r="1.1" fill="#7d5cf2"/>
<circle cx="1546.4" cy="546.2" r="1.1" fill="#7d5cf2"/>
<circle cx="1522.4" cy="551.4" r="1.1" fill="#7d5cf2"/>
<circle cx="1524.9" cy="540.8" r="1.1" fill="#7d5cf2"/>
<circle cx="1543.8" cy="545.2" r="1.1" fill="#7d5cf2"/>
<circle cx="1527.1" cy="554.5" r="1.1" fill="#7d5cf2"/>
<circle cx="1513.8" cy="545.4" r="1.1" fill="#7d5cf2"/>
<circle cx="1533.2" cy="542.3" r="1.1" fill="#7d5cf2"/>
<circle cx="1510.1" cy="556.8" r="1.1" fill="#7d5cf2"/>
<circle cx="1533.1" cy="542.7" r="1.1" fill="#7d5cf2"/>
<circle cx="1533.4" cy="546.9" r="1.1" fill="#7d5cf2"/>
<circle cx="1539.2" cy="543.6" r="1.1" fill="#7d5cf2"/>
<circle cx="1504.1" cy="559.8" r="1.1" fill="#7d5cf2"/>
<circle cx="1524.9" cy="550.5" r="1.1" fill="#7d5cf2"/>
<circle cx="1516.4" cy="550.9" r="1.1" fill="#7d5cf2"/>
<circle cx="1535.1" cy="543.5" r="1.1" fill="#7d5cf2"/>
<circle cx="1515.8" cy="552.7" r="1.1" fill="#7d5cf2"/>
<circle cx="1508.6" cy="558.4" r="1.1" fill="#7d5cf2"/>
<circle cx="1514.6" cy="547.8" r="1.1" fill="#7d5cf2"/>
<circle cx="1538.4" cy="541.6" r="1.1" fill="#7d5cf2"/>
<circle cx="1520.1" cy="542.1" r="1.1" fill="#7d5cf2"/>
<circle cx="1539.8" cy="561.5" r="1.1" fill="#7d5cf2"/>
<circle cx="1564.0" cy="565.8" r="1.1" fill="#7d5cf2"/>
<circle cx="1538.5" cy="552.5" r="1.1" fill="#7d5cf2"/>
<circle cx="1534.2" cy="561.8" r="1.1" fill="#7d5cf2"/>
<circle cx="1537.3" cy="552.6" r="1.1" fill="#7d5cf2"/>
<circle cx="1530.0" cy="540.2" r="1.1" fill="#7d5cf2"/>
<circle cx="1541.2" cy="546.3" r="1.1" fill="#7d5cf2"/>
<circle cx="1533.0" cy="562.0" r="1.1" fill="#7d5cf2"/>
<circle cx="1533.4" cy="542.7" r="1.1" fill="#7d5cf2"/>
<circle cx="1557.6" cy="565.3" r="1.1" fill="#7d5cf2"/>
<circle cx="1533.1" cy="555.2" r="1.1" fill="#7d5cf2"/>
<circle cx="1537.6" cy="544.3" r="1.1" fill="#7d5cf2"/>
<circle cx="1554.8" cy="554.9" r="1.1" fill="#7d5cf2"/>
<circle cx="1524.5" cy="555.9" r="1.1" fill="#7d5cf2"/>
<circle cx="1522.2" cy="547.5" r="1.1" fill="#7d5cf2"/>
<circle cx="1542.5" cy="564.0" r="1.1" fill="#7d5cf2"/>
<circle cx="1542.4" cy="563.7" r="1.1" fill="#7d5cf2"/>
<circle cx="1544.2" cy="554.1" r="1.1" fill="#7d5cf2"/>
<circle cx="1543.1" cy="554.5" r="1.1" fill="#7d5cf2"/>
<circle cx="1548.4" cy="559.4" r="1.1" fill="#7d5cf2"/>
<circle cx="1533.8" cy="553.2" r="1.1" fill="#7d5cf2"/>
<circle cx="1543.2" cy="542.8" r="1.1" fill="#7d5cf2"/>
<circle cx="1559.3" cy="566.9" r="1.1" fill="#7d5cf2"/>
<circle cx="1548.1" cy="551.4" r="1.1" fill="#7d5cf2"/>
<circle cx="1538.7" cy="552.6" r="1.1" fill="#7d5cf2"/>
<circle cx="1538.7" cy="547.5" r="1.1" fill="#7d5cf2"/>
<circle cx="1530.9" cy="558.4" r="1.1" fill="#7d5cf2"/>
<circle cx="1548.1" cy="562.9" r="1.1" fill="#7d5cf2"/>
<circle cx="1535.4" cy="541.4" r="1.1" fill="#7d5cf2"/>
<circle cx="1541.1" cy="554.3" r="1.1" fill="#7d5cf2"/>
<linearGradient id="gE" x1="0" y1="0" x2="0" y2="1"><stop offset="0" stop-color="#2a10f5"/><stop offset="0.45" stop-color="#8c70ee"/><stop offset="1" stop-color="#d6d6d6"/></linearGradient><rect x="1704.2" y="485.8" width="26.8" height="135.49999999999994" fill="url(#gE)"/>
<path d="M1704.2,508.8 h5.4 M1731.0,508.8 h-5.4" stroke="#fff" stroke-width="1"/>
<text x="1745.1" y="515.3" font-size="18" fill="#111">2.0</text>
<path d="M1704.2,537.1 h5.4 M1731.0,537.1 h-5.4" stroke="#fff" stroke-width="1"/>
<text x="1745.1" y="543.6" font-size="18" fill="#111">1.5</text>
<path d="M1704.2,565.4 h5.4 M1731.0,565.4 h-5.4" stroke="#fff" stroke-width="1"/>
<text x="1745.1" y="571.9" font-size="18" fill="#111">1.0</text>
<path d="M1704.2,593.7 h5.4 M1731.0,593.7 h-5.4" stroke="#fff" stroke-width="1"/>
<text x="1745.1" y="600.2" font-size="18" fill="#111">0.5</text>
<path d="M1704.2,621.3 h5.4 M1731.0,621.3 h-5.4" stroke="#fff" stroke-width="1"/>
<text x="1745.1" y="627.8" font-size="18" fill="#111">0.0</text>
<path d="M1375.9,660.6 V711.6 H1426.9" fill="none" stroke="#000" stroke-width="3"/>
<path d="M1371.4,663.6 L1375.9,654.6 L1380.4,663.6 Z" fill="#000"/>
<path d="M1423.9,707.1 L1432.9,711.6 L1423.9,716.1 Z" fill="#000"/>
<text x="1358.4" y="682.6" font-size="15.6" text-anchor="middle" fill="#111" transform="rotate(-90 1358.4 682.6)" dominant-baseline="central">UMAP2</text>
<text x="1375.0" y="730.7" font-size="15" textLength="52" lengthAdjust="spacingAndGlyphs" fill="#111">UMAP1</text>
<text x="0" y="0" font-size="70.20" fill="#000" transform="translate(200.24,857.90) scale(0.8622,1)">F</text>
<text x="268.6" y="886.4" font-size="40" textLength="182.7" lengthAdjust="spacingAndGlyphs" fill="#111">TMEM119</text>
<g transform="matrix(0.744,0,0,0.646,64.2,713.8)">
<path d="M338.0,546.0 L350.0,535.0 L358.0,540.0 L358.0,562.0 L345.0,562.0 Z" fill="#e4e4e4" stroke="#e4e4e4" stroke-width="2.0" stroke-linejoin="round"/>
<path d="M329.0,607.0 L350.0,601.0 L382.0,599.0 L386.0,612.0 L330.0,613.0 Z" fill="#e4e4e4" stroke="#e4e4e4" stroke-width="2.0" stroke-linejoin="round"/>
<path d="M440.0,586.0 L476.0,590.0 L486.0,606.0 L446.0,603.0 Z" fill="#e4e4e4" stroke="#e4e4e4" stroke-width="2.0" stroke-linejoin="round"/>
<path d="M398.0,600.0 L426.0,598.0 L427.0,608.0 L400.0,609.0 Z" fill="#e4e4e4" stroke="#e4e4e4" stroke-width="2.0" stroke-linejoin="round"/>
<path d="M426.0,540.0 L437.0,538.0 L436.0,552.0 L428.0,552.0 Z" fill="#e4e4e4" stroke="#e4e4e4" stroke-width="2.0" stroke-linejoin="round"/>
<path d="M372.0,504.0 L392.0,503.5 L403.0,511.0 L414.0,524.0 L426.0,535.0 L434.0,540.0 L432.0,550.0 L400.0,547.0 L380.0,538.0 L368.0,530.0 Z" fill="#e4e4e4" stroke="#e4e4e4" stroke-width="2.0" stroke-linejoin="round"/>
<path d="M330.0,540.0 L340.0,536.0 L352.0,528.0 L360.0,530.0 L352.0,545.0 L336.0,548.0 Z" fill="#e4e4e4" stroke="#e4e4e4" stroke-width="2.0" stroke-linejoin="round"/>
<path d="M329.8,298.0 L336.0,300.0 L341.4,307.6 L339.4,317.3 L338.8,331.4 L340.7,340.4 L352.9,348.7 L355.5,352.0 L343.9,353.2 L328.5,348.1 L320.8,340.4 L319.5,328.8 L317.6,321.1 L317.6,310.8 L323.4,303.8 Z" fill="#e4e4e4" stroke="#e4e4e4" stroke-width="2.0" stroke-linejoin="round"/>
<path d="M374.8,357.1 L383.8,355.8 L395.3,353.2 L401.7,359.7 L400.5,372.5 L408.2,380.2 L418.5,381.5 L423.0,385.0 L421.0,390.5 L412.0,398.2 L403.0,397.0 L392.8,393.1 L390.2,385.4 L388.9,375.1 L382.5,363.5 Z" fill="#e4e4e4" stroke="#e4e4e4" stroke-width="2.0" stroke-linejoin="round"/>
<path d="M402.0,412.0 L408.0,408.5 L416.0,409.0 L415.0,413.0 L406.0,414.0 Z" fill="#e4e4e4" stroke="#e4e4e4" stroke-width="2.0" stroke-linejoin="round"/>
<path d="M336.2,418.1 L348.0,420.0 L360.6,423.9 L352.9,436.8 L347.8,452.2 L349.1,470.2 L342.6,488.2 L328.5,492.0 L313.1,499.7 L302.8,485.6 L290.0,477.9 L272.0,472.8 L271.3,461.2 L279.7,450.9 L298.9,443.2 L313.1,429.1 L323.4,421.4 Z" fill="#e4e4e4" stroke="#e4e4e4" stroke-width="2.0" stroke-linejoin="round"/>
<path d="M425.3,446.1 L438.0,452.0 L450.6,461.5 L463.2,476.3 L480.7,484.7 L478.6,495.9 L487.0,495.9 L508.0,502.9 L529.1,515.5 L531.9,528.1 L538.9,535.1 L536.1,542.2 L526.3,552.0 L510.8,556.9 L502.4,556.2 L470.2,542.2 L456.2,528.1 L439.4,514.1 L425.3,493.1 L414.1,474.9 L416.9,458.0 Z" fill="#e4e4e4" stroke="#e4e4e4" stroke-width="2.0" stroke-linejoin="round"/>
<path d="M273.1,532.2 L280.1,532.2 L288.5,540.7 L299.7,530.8 L308.1,546.3 L322.2,550.5 L333.4,547.7 L344.6,549.1 L344.6,560.3 L357.2,570.1 L371.2,584.1 L378.2,598.1 L371.2,605.1 L350.2,606.5 L329.2,609.4 L316.5,605.1 L301.1,598.1 L287.1,586.9 L275.9,578.5 L264.7,572.9 L264.0,558.9 L266.1,546.3 Z" fill="#e4e4e4" stroke="#e4e4e4" stroke-width="2.0" stroke-linejoin="round"/>
<path d="M475.8,594.0 L498.2,589.8 L523.5,582.8 L531.9,567.4 L548.7,581.4 L554.3,606.6 L548.7,630.5 L526.3,626.3 L505.2,617.9 L484.2,603.8 Z" fill="#e4e4e4" stroke="#e4e4e4" stroke-width="2.0" stroke-linejoin="round"/>
<path d="M500.9,664.1 L515.7,669.4 L523.0,685.1 L522.0,697.8 L513.6,711.4 L499.9,718.8 L482.0,717.7 L467.3,709.3 L462.0,697.8 L471.5,689.3 L463.1,685.1 L467.3,676.7 L479.9,681.0 L492.5,669.4 Z" fill="#e4e4e4" stroke="#e4e4e4" stroke-width="2.0" stroke-linejoin="round"/>
<path d="M455.0,662.0 L462.0,664.0 L458.0,672.0 L465.0,679.0 L460.0,681.0 L451.0,673.0 Z" fill="#e4e4e4" stroke="#e4e4e4" stroke-width="2.0" stroke-linejoin="round"/>
<path d="M421.1,488.9 L433.7,495.9 L446.4,508.5 L460.4,525.3 L470.2,542.2 L502.4,556.2 L470.2,570.2 L453.4,582.8 L442.2,591.2 L444.2,602.1 L458.9,606.3 L473.6,625.2 L484.1,634.7 L492.5,655.7 L489.4,664.1 L484.1,679.9 L473.6,674.6 L463.1,657.8 L450.5,643.1 L440.0,626.3 L431.5,611.5 L426.7,604.0 L414.1,603.8 L393.1,603.8 L378.0,600.0 L371.2,584.1 L357.2,570.1 L351.0,555.0 L348.2,539.4 L366.5,531.0 L386.1,528.1 L400.1,526.7 L408.5,538.0 L422.5,546.4 L433.7,538.0 L432.3,521.1 L425.3,502.9 Z" fill="#e4e4e4" stroke="#e4e4e4" stroke-width="2.0" stroke-linejoin="round"/>
<path d="M338.4,536.5 L346.8,519.7 L369.3,505.7 L383.3,502.9 L397.3,506.0 L404.0,511.0 L402.0,519.0 L390.3,528.1 L372.1,528.1 L349.6,536.5 L344.0,540.8 Z" fill="#e4e4e4" stroke="#e4e4e4" stroke-width="2.0" stroke-linejoin="round"/>
<path d="M391.7,525.3 L398.0,521.0 L406.0,517.0 L414.0,523.0 L420.0,530.0 L428.1,537.0 L436.5,543.6 L430.9,552.0 L430.9,570.2 L425.3,582.8 L419.7,580.0 L422.5,563.2 L415.5,552.0 L402.9,542.2 L391.7,536.5 Z" fill="#e4e4e4" stroke="#e4e4e4" stroke-width="2.0" stroke-linejoin="round"/>
<path d="M402.9,606.6 L423.9,603.8 L426.7,626.3 L422.5,648.7 L414.1,648.7 L405.7,637.5 L393.1,622.1 Z" fill="#e4e4e4" stroke="#e4e4e4" stroke-width="2.0" stroke-linejoin="round"/>
<path d="M329.2,610.8 L350.2,606.5 L385.2,610.8 L375.4,629.0 L365.6,648.6 L350.2,661.2 L341.8,666.8 L322.2,666.8 L316.5,668.2 L326.4,651.4 L333.4,643.0 L340.4,638.8 L336.2,623.4 Z" fill="#e4e4e4" stroke="#e4e4e4" stroke-width="2.0" stroke-linejoin="round"/>
<path d="M225.4,624.8 L228.2,637.4 L245.0,638.8 L277.3,640.2 L280.1,651.4 L277.3,657.0 L266.1,652.8 L246.5,654.2 L242.2,662.6 L252.1,676.6 L254.9,682.3 L249.3,682.3 L238.0,661.2 L231.0,655.6 L218.4,651.4 L218.4,644.4 L225.4,638.8 Z" fill="#e4e4e4" stroke="#e4e4e4" stroke-width="2.0" stroke-linejoin="round"/>
<path d="M426.0,706.5 L436.0,707.0 L435.0,709.0 L427.0,709.0 Z" fill="#e4e4e4" stroke="#e4e4e4" stroke-width="2.0" stroke-linejoin="round"/>
<path d="M250.7,692.1 L268.9,682.3 L280.1,682.3 L288.5,668.2 L294.1,666.8 L284.3,679.4 L288.5,687.9 L308.1,683.7 L325.0,680.9 L326.4,690.7 L316.5,707.5 L305.3,724.3 L294.1,738.3 L277.3,749.5 L263.3,748.1 L252.1,738.3 L249.3,724.3 L250.7,703.3 Z" fill="#e4e4e4" stroke="#e4e4e4" stroke-width="2.0" stroke-linejoin="round"/>
<path d="M308.0,739.0 L320.0,735.0 L334.8,732.0 L334.0,735.0 L318.0,739.5 Z" fill="#e4e4e4" stroke="#e4e4e4" stroke-width="2.0" stroke-linejoin="round"/>
<path d="M390.9,651.4 L400.7,652.8 L402.1,668.2 L400.7,687.9 L383.8,694.9 L382.4,682.3 L381.0,668.2 Z" fill="#e4e4e4" stroke="#e4e4e4" stroke-width="2.0" stroke-linejoin="round"/>
<linearGradient id="hF" x1="0" y1="0" x2="1" y2="0.25"><stop offset="0" stop-color="#2a0cf2" stop-opacity="1"/><stop offset="0.13" stop-color="#3a20f0" stop-opacity="0.95"/><stop offset="0.3" stop-color="#7a66f0" stop-opacity="0.45"/><stop offset="0.55" stop-color="#a89cf0" stop-opacity="0.1"/><stop offset="1" stop-color="#a89cf0" stop-opacity="0"/></linearGradient>
<path d="M336.2,418.1 L348.0,420.0 L360.6,423.9 L352.9,436.8 L347.8,452.2 L349.1,470.2 L342.6,488.2 L328.5,492.0 L313.1,499.7 L302.8,485.6 L290.0,477.9 L272.0,472.8 L271.3,461.2 L279.7,450.9 L298.9,443.2 L313.1,429.1 L323.4,421.4 Z" fill="url(#hF)"/>
</g>
<linearGradient id="gF" x1="0" y1="0" x2="0" y2="1"><stop offset="0" stop-color="#2a10f5"/><stop offset="0.45" stop-color="#8c70ee"/><stop offset="1" stop-color="#d6d6d6"/></linearGradient><rect x="495.4" y="989.6" width="17.2" height="119.30000000000007" fill="url(#gF)"/>
<text x="519.6" y="1026.5" font-size="21" textLength="8.5" lengthAdjust="spacingAndGlyphs" fill="#111">3</text>
<text x="519.6" y="1057.8" font-size="21" textLength="8.5" lengthAdjust="spacingAndGlyphs" fill="#111">2</text>
<text x="519.6" y="1088.5" font-size="21" textLength="8.5" lengthAdjust="spacingAndGlyphs" fill="#111">1</text>
<text x="519.6" y="1118.0" font-size="21" textLength="8.5" lengthAdjust="spacingAndGlyphs" fill="#111">0</text>
<path d="M190.7,1171.7 V1221.7 H241.7" fill="none" stroke="#000" stroke-width="3"/>
<path d="M186.2,1174.7 L190.7,1165.7 L195.2,1174.7 Z" fill="#000"/>
<path d="M238.7,1217.2 L247.7,1221.7 L238.7,1226.2 Z" fill="#000"/>
<text x="173.3" y="1192.7" font-size="15.6" text-anchor="middle" fill="#111" transform="rotate(-90 173.3 1192.7)" dominant-baseline="central">UMAP2</text>
<text x="190.2" y="1243.2" font-size="15" textLength="52" lengthAdjust="spacingAndGlyphs" fill="#111">UMAP1</text>
<text x="0" y="0" font-size="73.87" fill="#000" transform="translate(576.36,857.96) scale(0.8769,1)">G</text>
<text x="667.4" y="886.4" font-size="40" textLength="127.9" lengthAdjust="spacingAndGlyphs" fill="#111">P2ry12</text>
<g transform="matrix(0.747,0,0,0.646,442.5,713.8)">
<path d="M338.0,546.0 L350.0,535.0 L358.0,540.0 L358.0,562.0 L345.0,562.0 Z" fill="#e4e4e4" stroke="#e4e4e4" stroke-width="2.0" stroke-linejoin="round"/>
<path d="M329.0,607.0 L350.0,601.0 L382.0,599.0 L386.0,612.0 L330.0,613.0 Z" fill="#e4e4e4" stroke="#e4e4e4" stroke-width="2.0" stroke-linejoin="round"/>
<path d="M440.0,586.0 L476.0,590.0 L486.0,606.0 L446.0,603.0 Z" fill="#e4e4e4" stroke="#e4e4e4" stroke-width="2.0" stroke-linejoin="round"/>
<path d="M398.0,600.0 L426.0,598.0 L427.0,608.0 L400.0,609.0 Z" fill="#e4e4e4" stroke="#e4e4e4" stroke-width="2.0" stroke-linejoin="round"/>
<path d="M426.0,540.0 L437.0,538.0 L436.0,552.0 L428.0,552.0 Z" fill="#e4e4e4" stroke="#e4e4e4" stroke-width="2.0" stroke-linejoin="round"/>
<path d="M372.0,504.0 L392.0,503.5 L403.0,511.0 L414.0,524.0 L426.0,535.0 L434.0,540.0 L432.0,550.0 L400.0,547.0 L380.0,538.0 L368.0,530.0 Z" fill="#e4e4e4" stroke="#e4e4e4" stroke-width="2.0" stroke-linejoin="round"/>
<path d="M330.0,540.0 L340.0,536.0 L352.0,528.0 L360.0,530.0 L352.0,545.0 L336.0,548.0 Z" fill="#e4e4e4" stroke="#e4e4e4" stroke-width="2.0" stroke-linejoin="round"/>
<path d="M329.8,298.0 L336.0,300.0 L341.4,307.6 L339.4,317.3 L338.8,331.4 L340.7,340.4 L352.9,348.7 L355.5,352.0 L343.9,353.2 L328.5,348.1 L320.8,340.4 L319.5,328.8 L317.6,321.1 L317.6,310.8 L323.4,303.8 Z" fill="#e4e4e4" stroke="#e4e4e4" stroke-width="2.0" stroke-linejoin="round"/>
<path d="M374.8,357.1 L383.8,355.8 L395.3,353.2 L401.7,359.7 L400.5,372.5 L408.2,380.2 L418.5,381.5 L423.0,385.0 L421.0,390.5 L412.0,398.2 L403.0,397.0 L392.8,393.1 L390.2,385.4 L388.9,375.1 L382.5,363.5 Z" fill="#e4e4e4" stroke="#e4e4e4" stroke-width="2.0" stroke-linejoin="round"/>
<path d="M402.0,412.0 L408.0,408.5 L416.0,409.0 L415.0,413.0 L406.0,414.0 Z" fill="#e4e4e4" stroke="#e4e4e4" stroke-width="2.0" stroke-linejoin="round"/>
<path d="M336.2,418.1 L348.0,420.0 L360.6,423.9 L352.9,436.8 L347.8,452.2 L349.1,470.2 L342.6,488.2 L328.5,492.0 L313.1,499.7 L302.8,485.6 L290.0,477.9 L272.0,472.8 L271.3,461.2 L279.7,450.9 L298.9,443.2 L313.1,429.1 L323.4,421.4 Z" fill="#e4e4e4" stroke="#e4e4e4" stroke-width="2.0" stroke-linejoin="round"/>
<path d="M425.3,446.1 L438.0,452.0 L450.6,461.5 L463.2,476.3 L480.7,484.7 L478.6,495.9 L487.0,495.9 L508.0,502.9 L529.1,515.5 L531.9,528.1 L538.9,535.1 L536.1,542.2 L526.3,552.0 L510.8,556.9 L502.4,556.2 L470.2,542.2 L456.2,528.1 L439.4,514.1 L425.3,493.1 L414.1,474.9 L416.9,458.0 Z" fill="#e4e4e4" stroke="#e4e4e4" stroke-width="2.0" stroke-linejoin="round"/>
<path d="M273.1,532.2 L280.1,532.2 L288.5,540.7 L299.7,530.8 L308.1,546.3 L322.2,550.5 L333.4,547.7 L344.6,549.1 L344.6,560.3 L357.2,570.1 L371.2,584.1 L378.2,598.1 L371.2,605.1 L350.2,606.5 L329.2,609.4 L316.5,605.1 L301.1,598.1 L287.1,586.9 L275.9,578.5 L264.7,572.9 L264.0,558.9 L266.1,546.3 Z" fill="#e4e4e4" stroke="#e4e4e4" stroke-width="2.0" stroke-linejoin="round"/>
<path d="M475.8,594.0 L498.2,589.8 L523.5,582.8 L531.9,567.4 L548.7,581.4 L554.3,606.6 L548.7,630.5 L526.3,626.3 L505.2,617.9 L484.2,603.8 Z" fill="#e4e4e4" stroke="#e4e4e4" stroke-width="2.0" stroke-linejoin="round"/>
<path d="M500.9,664.1 L515.7,669.4 L523.0,685.1 L522.0,697.8 L513.6,711.4 L499.9,718.8 L482.0,717.7 L467.3,709.3 L462.0,697.8 L471.5,689.3 L463.1,685.1 L467.3,676.7 L479.9,681.0 L492.5,669.4 Z" fill="#e4e4e4" stroke="#e4e4e4" stroke-width="2.0" stroke-linejoin="round"/>
<path d="M455.0,662.0 L462.0,664.0 L458.0,672.0 L465.0,679.0 L460.0,681.0 L451.0,673.0 Z" fill="#e4e4e4" stroke="#e4e4e4" stroke-width="2.0" stroke-linejoin="round"/>
<path d="M421.1,488.9 L433.7,495.9 L446.4,508.5 L460.4,525.3 L470.2,542.2 L502.4,556.2 L470.2,570.2 L453.4,582.8 L442.2,591.2 L444.2,602.1 L458.9,606.3 L473.6,625.2 L484.1,634.7 L492.5,655.7 L489.4,664.1 L484.1,679.9 L473.6,674.6 L463.1,657.8 L450.5,643.1 L440.0,626.3 L431.5,611.5 L426.7,604.0 L414.1,603.8 L393.1,603.8 L378.0,600.0 L371.2,584.1 L357.2,570.1 L351.0,555.0 L348.2,539.4 L366.5,531.0 L386.1,528.1 L400.1,526.7 L408.5,538.0 L422.5,546.4 L433.7,538.0 L432.3,521.1 L425.3,502.9 Z" fill="#e4e4e4" stroke="#e4e4e4" stroke-width="2.0" stroke-linejoin="round"/>
<path d="M338.4,536.5 L346.8,519.7 L369.3,505.7 L383.3,502.9 L397.3,506.0 L404.0,511.0 L402.0,519.0 L390.3,528.1 L372.1,528.1 L349.6,536.5 L344.0,540.8 Z" fill="#e4e4e4" stroke="#e4e4e4" stroke-width="2.0" stroke-linejoin="round"/>
<path d="M391.7,525.3 L398.0,521.0 L406.0,517.0 L414.0,523.0 L420.0,530.0 L428.1,537.0 L436.5,543.6 L430.9,552.0 L430.9,570.2 L425.3,582.8 L419.7,580.0 L422.5,563.2 L415.5,552.0 L402.9,542.2 L391.7,536.5 Z" fill="#e4e4e4" stroke="#e4e4e4" stroke-width="2.0" stroke-linejoin="round"/>
<path d="M402.9,606.6 L423.9,603.8 L426.7,626.3 L422.5,648.7 L414.1,648.7 L405.7,637.5 L393.1,622.1 Z" fill="#e4e4e4" stroke="#e4e4e4" stroke-width="2.0" stroke-linejoin="round"/>
<path d="M329.2,610.8 L350.2,606.5 L385.2,610.8 L375.4,629.0 L365.6,648.6 L350.2,661.2 L341.8,666.8 L322.2,666.8 L316.5,668.2 L326.4,651.4 L333.4,643.0 L340.4,638.8 L336.2,623.4 Z" fill="#e4e4e4" stroke="#e4e4e4" stroke-width="2.0" stroke-linejoin="round"/>
<path d="M225.4,624.8 L228.2,637.4 L245.0,638.8 L277.3,640.2 L280.1,651.4 L277.3,657.0 L266.1,652.8 L246.5,654.2 L242.2,662.6 L252.1,676.6 L254.9,682.3 L249.3,682.3 L238.0,661.2 L231.0,655.6 L218.4,651.4 L218.4,644.4 L225.4,638.8 Z" fill="#e4e4e4" stroke="#e4e4e4" stroke-width="2.0" stroke-linejoin="round"/>
<path d="M426.0,706.5 L436.0,707.0 L435.0,709.0 L427.0,709.0 Z" fill="#e4e4e4" stroke="#e4e4e4" stroke-width="2.0" stroke-linejoin="round"/>
<path d="M250.7,692.1 L268.9,682.3 L280.1,682.3 L288.5,668.2 L294.1,666.8 L284.3,679.4 L288.5,687.9 L308.1,683.7 L325.0,680.9 L326.4,690.7 L316.5,707.5 L305.3,724.3 L294.1,738.3 L277.3,749.5 L263.3,748.1 L252.1,738.3 L249.3,724.3 L250.7,703.3 Z" fill="#e4e4e4" stroke="#e4e4e4" stroke-width="2.0" stroke-linejoin="round"/>
<path d="M308.0,739.0 L320.0,735.0 L334.8,732.0 L334.0,735.0 L318.0,739.5 Z" fill="#e4e4e4" stroke="#e4e4e4" stroke-width="2.0" stroke-linejoin="round"/>
<path d="M390.9,651.4 L400.7,652.8 L402.1,668.2 L400.7,687.9 L383.8,694.9 L382.4,682.3 L381.0,668.2 Z" fill="#e4e4e4" stroke="#e4e4e4" stroke-width="2.0" stroke-linejoin="round"/>
<linearGradient id="hG" x1="0" y1="0" x2="1" y2="0.25"><stop offset="0" stop-color="#2a0cf2" stop-opacity="1"/><stop offset="0.14" stop-color="#3a22f0" stop-opacity="0.9"/><stop offset="0.4" stop-color="#8a78f0" stop-opacity="0.42"/><stop offset="0.75" stop-color="#a89cf0" stop-opacity="0.12"/><stop offset="1" stop-color="#a89cf0" stop-opacity="0.05"/></linearGradient>
<path d="M336.2,418.1 L348.0,420.0 L360.6,423.9 L352.9,436.8 L347.8,452.2 L349.1,470.2 L342.6,488.2 L328.5,492.0 L313.1,499.7 L302.8,485.6 L290.0,477.9 L272.0,472.8 L271.3,461.2 L279.7,450.9 L298.9,443.2 L313.1,429.1 L323.4,421.4 Z" fill="url(#hG)"/>
</g>
<linearGradient id="gG" x1="0" y1="0" x2="0" y2="1"><stop offset="0" stop-color="#2a10f5"/><stop offset="0.45" stop-color="#8c70ee"/><stop offset="1" stop-color="#d6d6d6"/></linearGradient><rect x="877" y="990.6" width="17.2" height="119.89999999999998" fill="url(#gG)"/>
<text x="901.0" y="1010.5" font-size="21" textLength="8.5" lengthAdjust="spacingAndGlyphs" fill="#111">4</text>
<text x="901.0" y="1038.5" font-size="21" textLength="8.5" lengthAdjust="spacingAndGlyphs" fill="#111">3</text>
<text x="901.0" y="1065.3" font-size="21" textLength="8.5" lengthAdjust="spacingAndGlyphs" fill="#111">2</text>
<text x="901.0" y="1092.7" font-size="21" textLength="8.5" lengthAdjust="spacingAndGlyphs" fill="#111">1</text>
<text x="901.0" y="1119.1" font-size="21" textLength="8.5" lengthAdjust="spacingAndGlyphs" fill="#111">0</text>
<path d="M571.7,1171.7 V1221.7 H622.7" fill="none" stroke="#000" stroke-width="3"/>
<path d="M567.2,1174.7 L571.7,1165.7 L576.2,1174.7 Z" fill="#000"/>
<path d="M619.7,1217.2 L628.7,1221.7 L619.7,1226.2 Z" fill="#000"/>
<text x="554.3" y="1192.7" font-size="15.6" text-anchor="middle" fill="#111" transform="rotate(-90 554.3 1192.7)" dominant-baseline="central">UMAP2</text>
<text x="571.2" y="1243.2" font-size="15" textLength="52" lengthAdjust="spacingAndGlyphs" fill="#111">UMAP1</text>
<text x="0" y="0" font-size="74.13" fill="#000" transform="translate(994.05,857.90) scale(1.0112,1)">H</text>
<text x="1077.0" y="886.4" font-size="40" textLength="134.4" lengthAdjust="spacingAndGlyphs" fill="#111">Aldh1l1</text>
<g transform="matrix(0.749,0,0,0.6487,852.7,710.3)">
<path d="M338.0,546.0 L350.0,535.0 L358.0,540.0 L358.0,562.0 L345.0,562.0 Z" fill="#e4e4e4" stroke="#e4e4e4" stroke-width="2.0" stroke-linejoin="round"/>
<path d="M329.0,607.0 L350.0,601.0 L382.0,599.0 L386.0,612.0 L330.0,613.0 Z" fill="#e4e4e4" stroke="#e4e4e4" stroke-width="2.0" stroke-linejoin="round"/>
<path d="M440.0,586.0 L476.0,590.0 L486.0,606.0 L446.0,603.0 Z" fill="#e4e4e4" stroke="#e4e4e4" stroke-width="2.0" stroke-linejoin="round"/>
<path d="M398.0,600.0 L426.0,598.0 L427.0,608.0 L400.0,609.0 Z" fill="#e4e4e4" stroke="#e4e4e4" stroke-width="2.0" stroke-linejoin="round"/>
<path d="M426.0,540.0 L437.0,538.0 L436.0,552.0 L428.0,552.0 Z" fill="#e4e4e4" stroke="#e4e4e4" stroke-width="2.0" stroke-linejoin="round"/>
<path d="M372.0,504.0 L392.0,503.5 L403.0,511.0 L414.0,524.0 L426.0,535.0 L434.0,540.0 L432.0,550.0 L400.0,547.0 L380.0,538.0 L368.0,530.0 Z" fill="#e4e4e4" stroke="#e4e4e4" stroke-width="2.0" stroke-linejoin="round"/>
<path d="M330.0,540.0 L340.0,536.0 L352.0,528.0 L360.0,530.0 L352.0,545.0 L336.0,548.0 Z" fill="#e4e4e4" stroke="#e4e4e4" stroke-width="2.0" stroke-linejoin="round"/>
<path d="M329.8,298.0 L336.0,300.0 L341.4,307.6 L339.4,317.3 L338.8,331.4 L340.7,340.4 L352.9,348.7 L355.5,352.0 L343.9,353.2 L328.5,348.1 L320.8,340.4 L319.5,328.8 L317.6,321.1 L317.6,310.8 L323.4,303.8 Z" fill="#e4e4e4" stroke="#e4e4e4" stroke-width="2.0" stroke-linejoin="round"/>
<path d="M374.8,357.1 L383.8,355.8 L395.3,353.2 L401.7,359.7 L400.5,372.5 L408.2,380.2 L418.5,381.5 L423.0,385.0 L421.0,390.5 L412.0,398.2 L403.0,397.0 L392.8,393.1 L390.2,385.4 L388.9,375.1 L382.5,363.5 Z" fill="#e4e4e4" stroke="#e4e4e4" stroke-width="2.0" stroke-linejoin="round"/>
<path d="M402.0,412.0 L408.0,408.5 L416.0,409.0 L415.0,413.0 L406.0,414.0 Z" fill="#e4e4e4" stroke="#e4e4e4" stroke-width="2.0" stroke-linejoin="round"/>
<path d="M336.2,418.1 L348.0,420.0 L360.6,423.9 L352.9,436.8 L347.8,452.2 L349.1,470.2 L342.6,488.2 L328.5,492.0 L313.1,499.7 L302.8,485.6 L290.0,477.9 L272.0,472.8 L271.3,461.2 L279.7,450.9 L298.9,443.2 L313.1,429.1 L323.4,421.4 Z" fill="#e4e4e4" stroke="#e4e4e4" stroke-width="2.0" stroke-linejoin="round"/>
<path d="M425.3,446.1 L438.0,452.0 L450.6,461.5 L463.2,476.3 L480.7,484.7 L478.6,495.9 L487.0,495.9 L508.0,502.9 L529.1,515.5 L531.9,528.1 L538.9,535.1 L536.1,542.2 L526.3,552.0 L510.8,556.9 L502.4,556.2 L470.2,542.2 L456.2,528.1 L439.4,514.1 L425.3,493.1 L414.1,474.9 L416.9,458.0 Z" fill="#e4e4e4" stroke="#e4e4e4" stroke-width="2.0" stroke-linejoin="round"/>
<path d="M273.1,532.2 L280.1,532.2 L288.5,540.7 L299.7,530.8 L308.1,546.3 L322.2,550.5 L333.4,547.7 L344.6,549.1 L344.6,560.3 L357.2,570.1 L371.2,584.1 L378.2,598.1 L371.2,605.1 L350.2,606.5 L329.2,609.4 L316.5,605.1 L301.1,598.1 L287.1,586.9 L275.9,578.5 L264.7,572.9 L264.0,558.9 L266.1,546.3 Z" fill="#e4e4e4" stroke="#e4e4e4" stroke-width="2.0" stroke-linejoin="round"/>
<path d="M475.8,594.0 L498.2,589.8 L523.5,582.8 L531.9,567.4 L548.7,581.4 L554.3,606.6 L548.7,630.5 L526.3,626.3 L505.2,617.9 L484.2,603.8 Z" fill="#e4e4e4" stroke="#e4e4e4" stroke-width="2.0" stroke-linejoin="round"/>
<path d="M500.9,664.1 L515.7,669.4 L523.0,685.1 L522.0,697.8 L513.6,711.4 L499.9,718.8 L482.0,717.7 L467.3,709.3 L462.0,697.8 L471.5,689.3 L463.1,685.1 L467.3,676.7 L479.9,681.0 L492.5,669.4 Z" fill="#e4e4e4" stroke="#e4e4e4" stroke-width="2.0" stroke-linejoin="round"/>
<path d="M455.0,662.0 L462.0,664.0 L458.0,672.0 L465.0,679.0 L460.0,681.0 L451.0,673.0 Z" fill="#e4e4e4" stroke="#e4e4e4" stroke-width="2.0" stroke-linejoin="round"/>
<path d="M421.1,488.9 L433.7,495.9 L446.4,508.5 L460.4,525.3 L470.2,542.2 L502.4,556.2 L470.2,570.2 L453.4,582.8 L442.2,591.2 L444.2,602.1 L458.9,606.3 L473.6,625.2 L484.1,634.7 L492.5,655.7 L489.4,664.1 L484.1,679.9 L473.6,674.6 L463.1,657.8 L450.5,643.1 L440.0,626.3 L431.5,611.5 L426.7,604.0 L414.1,603.8 L393.1,603.8 L378.0,600.0 L371.2,584.1 L357.2,570.1 L351.0,555.0 L348.2,539.4 L366.5,531.0 L386.1,528.1 L400.1,526.7 L408.5,538.0 L422.5,546.4 L433.7,538.0 L432.3,521.1 L425.3,502.9 Z" fill="#e4e4e4" stroke="#e4e4e4" stroke-width="2.0" stroke-linejoin="round"/>
<path d="M338.4,536.5 L346.8,519.7 L369.3,505.7 L383.3,502.9 L397.3,506.0 L404.0,511.0 L402.0,519.0 L390.3,528.1 L372.1,528.1 L349.6,536.5 L344.0,540.8 Z" fill="#e4e4e4" stroke="#e4e4e4" stroke-width="2.0" stroke-linejoin="round"/>
<path d="M391.7,525.3 L398.0,521.0 L406.0,517.0 L414.0,523.0 L420.0,530.0 L428.1,537.0 L436.5,543.6 L430.9,552.0 L430.9,570.2 L425.3,582.8 L419.7,580.0 L422.5,563.2 L415.5,552.0 L402.9,542.2 L391.7,536.5 Z" fill="#e4e4e4" stroke="#e4e4e4" stroke-width="2.0" stroke-linejoin="round"/>
<path d="M402.9,606.6 L423.9,603.8 L426.7,626.3 L422.5,648.7 L414.1,648.7 L405.7,637.5 L393.1,622.1 Z" fill="#e4e4e4" stroke="#e4e4e4" stroke-width="2.0" stroke-linejoin="round"/>
<path d="M329.2,610.8 L350.2,606.5 L385.2,610.8 L375.4,629.0 L365.6,648.6 L350.2,661.2 L341.8,666.8 L322.2,666.8 L316.5,668.2 L326.4,651.4 L333.4,643.0 L340.4,638.8 L336.2,623.4 Z" fill="#e4e4e4" stroke="#e4e4e4" stroke-width="2.0" stroke-linejoin="round"/>
<path d="M225.4,624.8 L228.2,637.4 L245.0,638.8 L277.3,640.2 L280.1,651.4 L277.3,657.0 L266.1,652.8 L246.5,654.2 L242.2,662.6 L252.1,676.6 L254.9,682.3 L249.3,682.3 L238.0,661.2 L231.0,655.6 L218.4,651.4 L218.4,644.4 L225.4,638.8 Z" fill="#e4e4e4" stroke="#e4e4e4" stroke-width="2.0" stroke-linejoin="round"/>
<path d="M426.0,706.5 L436.0,707.0 L435.0,709.0 L427.0,709.0 Z" fill="#e4e4e4" stroke="#e4e4e4" stroke-width="2.0" stroke-linejoin="round"/>
<path d="M250.7,692.1 L268.9,682.3 L280.1,682.3 L288.5,668.2 L294.1,666.8 L284.3,679.4 L288.5,687.9 L308.1,683.7 L325.0,680.9 L326.4,690.7 L316.5,707.5 L305.3,724.3 L294.1,738.3 L277.3,749.5 L263.3,748.1 L252.1,738.3 L249.3,724.3 L250.7,703.3 Z" fill="#e4e4e4" stroke="#e4e4e4" stroke-width="2.0" stroke-linejoin="round"/>
<path d="M308.0,739.0 L320.0,735.0 L334.8,732.0 L334.0,735.0 L318.0,739.5 Z" fill="#e4e4e4" stroke="#e4e4e4" stroke-width="2.0" stroke-linejoin="round"/>
<path d="M390.9,651.4 L400.7,652.8 L402.1,668.2 L400.7,687.9 L383.8,694.9 L382.4,682.3 L381.0,668.2 Z" fill="#e4e4e4" stroke="#e4e4e4" stroke-width="2.0" stroke-linejoin="round"/>
<linearGradient id="hH" x1="0" y1="0" x2="1" y2="0.25"><stop offset="0" stop-color="#5434f0" stop-opacity="0.85"/><stop offset="0.3" stop-color="#7058f0" stop-opacity="0.62"/><stop offset="0.75" stop-color="#9484f0" stop-opacity="0.38"/><stop offset="1" stop-color="#a89cf0" stop-opacity="0.2"/></linearGradient>
<path d="M273.1,532.2 L280.1,532.2 L288.5,540.7 L299.7,530.8 L308.1,546.3 L322.2,550.5 L333.4,547.7 L344.6,549.1 L344.6,560.3 L357.2,570.1 L371.2,584.1 L378.2,598.1 L371.2,605.1 L350.2,606.5 L329.2,609.4 L316.5,605.1 L301.1,598.1 L287.1,586.9 L275.9,578.5 L264.7,572.9 L264.0,558.9 L266.1,546.3 Z" fill="url(#hH)"/>
<linearGradient id="hH3" x1="0" y1="0" x2="1" y2="0.25"><stop offset="0" stop-color="#8a78f0" stop-opacity="0.15"/><stop offset="1" stop-color="#8a78f0" stop-opacity="0.1"/></linearGradient>
<path d="M250.7,692.1 L268.9,682.3 L280.1,682.3 L288.5,668.2 L294.1,666.8 L284.3,679.4 L288.5,687.9 L308.1,683.7 L325.0,680.9 L326.4,690.7 L316.5,707.5 L305.3,724.3 L294.1,738.3 L277.3,749.5 L263.3,748.1 L252.1,738.3 L249.3,724.3 L250.7,703.3 Z" fill="url(#hH3)"/>
</g>
<linearGradient id="gH" x1="0" y1="0" x2="0" y2="1"><stop offset="0" stop-color="#2a10f5"/><stop offset="0.45" stop-color="#8c70ee"/><stop offset="1" stop-color="#d6d6d6"/></linearGradient><rect x="1288.2" y="986.9" width="17.2" height="119.80000000000007" fill="url(#gH)"/>
<text x="1312.0" y="1026.5" font-size="21" textLength="8.5" lengthAdjust="spacingAndGlyphs" fill="#111">2</text>
<text x="1312.0" y="1071.2" font-size="21" textLength="8.5" lengthAdjust="spacingAndGlyphs" fill="#111">1</text>
<text x="1312.0" y="1115.3" font-size="21" textLength="8.5" lengthAdjust="spacingAndGlyphs" fill="#111">0</text>
<path d="M981.9,1170 V1220 H1032.9" fill="none" stroke="#000" stroke-width="3"/>
<path d="M977.4,1173 L981.9,1164 L986.4,1173 Z" fill="#000"/>
<path d="M1029.9,1215.5 L1038.9,1220 L1029.9,1224.5 Z" fill="#000"/>
<text x="964.5" y="1191.0" font-size="15.6" text-anchor="middle" fill="#111" transform="rotate(-90 964.5 1191.0)" dominant-baseline="central">UMAP2</text>
<text x="981.4" y="1241.5" font-size="15" textLength="52" lengthAdjust="spacingAndGlyphs" fill="#111">UMAP1</text>
<text x="0" y="0" font-size="73.98" fill="#000" transform="translate(1413.69,857.90) scale(1.3085,1)">I</text>
<text x="1520.4" y="886.4" font-size="40" textLength="85.9" lengthAdjust="spacingAndGlyphs" fill="#111">Gfap</text>
<g transform="matrix(0.752,0,0,0.6487,1264.8,710.3)">
<path d="M338.0,546.0 L350.0,535.0 L358.0,540.0 L358.0,562.0 L345.0,562.0 Z" fill="#e4e4e4" stroke="#e4e4e4" stroke-width="2.0" stroke-linejoin="round"/>
<path d="M329.0,607.0 L350.0,601.0 L382.0,599.0 L386.0,612.0 L330.0,613.0 Z" fill="#e4e4e4" stroke="#e4e4e4" stroke-width="2.0" stroke-linejoin="round"/>
<path d="M440.0,586.0 L476.0,590.0 L486.0,606.0 L446.0,603.0 Z" fill="#e4e4e4" stroke="#e4e4e4" stroke-width="2.0" stroke-linejoin="round"/>
<path d="M398.0,600.0 L426.0,598.0 L427.0,608.0 L400.0,609.0 Z" fill="#e4e4e4" stroke="#e4e4e4" stroke-width="2.0" stroke-linejoin="round"/>
<path d="M426.0,540.0 L437.0,538.0 L436.0,552.0 L428.0,552.0 Z" fill="#e4e4e4" stroke="#e4e4e4" stroke-width="2.0" stroke-linejoin="round"/>
<path d="M372.0,504.0 L392.0,503.5 L403.0,511.0 L414.0,524.0 L426.0,535.0 L434.0,540.0 L432.0,550.0 L400.0,547.0 L380.0,538.0 L368.0,530.0 Z" fill="#e4e4e4" stroke="#e4e4e4" stroke-width="2.0" stroke-linejoin="round"/>
<path d="M330.0,540.0 L340.0,536.0 L352.0,528.0 L360.0,530.0 L352.0,545.0 L336.0,548.0 Z" fill="#e4e4e4" stroke="#e4e4e4" stroke-width="2.0" stroke-linejoin="round"/>
<path d="M329.8,298.0 L336.0,300.0 L341.4,307.6 L339.4,317.3 L338.8,331.4 L340.7,340.4 L352.9,348.7 L355.5,352.0 L343.9,353.2 L328.5,348.1 L320.8,340.4 L319.5,328.8 L317.6,321.1 L317.6,310.8 L323.4,303.8 Z" fill="#e4e4e4" stroke="#e4e4e4" stroke-width="2.0" stroke-linejoin="round"/>
<path d="M374.8,357.1 L383.8,355.8 L395.3,353.2 L401.7,359.7 L400.5,372.5 L408.2,380.2 L418.5,381.5 L423.0,385.0 L421.0,390.5 L412.0,398.2 L403.0,397.0 L392.8,393.1 L390.2,385.4 L388.9,375.1 L382.5,363.5 Z" fill="#e4e4e4" stroke="#e4e4e4" stroke-width="2.0" stroke-linejoin="round"/>
<path d="M402.0,412.0 L408.0,408.5 L416.0,409.0 L415.0,413.0 L406.0,414.0 Z" fill="#e4e4e4" stroke="#e4e4e4" stroke-width="2.0" stroke-linejoin="round"/>
<path d="M336.2,418.1 L348.0,420.0 L360.6,423.9 L352.9,436.8 L347.8,452.2 L349.1,470.2 L342.6,488.2 L328.5,492.0 L313.1,499.7 L302.8,485.6 L290.0,477.9 L272.0,472.8 L271.3,461.2 L279.7,450.9 L298.9,443.2 L313.1,429.1 L323.4,421.4 Z" fill="#e4e4e4" stroke="#e4e4e4" stroke-width="2.0" stroke-linejoin="round"/>
<path d="M425.3,446.1 L438.0,452.0 L450.6,461.5 L463.2,476.3 L480.7,484.7 L478.6,495.9 L487.0,495.9 L508.0,502.9 L529.1,515.5 L531.9,528.1 L538.9,535.1 L536.1,542.2 L526.3,552.0 L510.8,556.9 L502.4,556.2 L470.2,542.2 L456.2,528.1 L439.4,514.1 L425.3,493.1 L414.1,474.9 L416.9,458.0 Z" fill="#e4e4e4" stroke="#e4e4e4" stroke-width="2.0" stroke-linejoin="round"/>
<path d="M273.1,532.2 L280.1,532.2 L288.5,540.7 L299.7,530.8 L308.1,546.3 L322.2,550.5 L333.4,547.7 L344.6,549.1 L344.6,560.3 L357.2,570.1 L371.2,584.1 L378.2,598.1 L371.2,605.1 L350.2,606.5 L329.2,609.4 L316.5,605.1 L301.1,598.1 L287.1,586.9 L275.9,578.5 L264.7,572.9 L264.0,558.9 L266.1,546.3 Z" fill="#e4e4e4" stroke="#e4e4e4" stroke-width="2.0" stroke-linejoin="round"/>
<path d="M475.8,594.0 L498.2,589.8 L523.5,582.8 L531.9,567.4 L548.7,581.4 L554.3,606.6 L548.7,630.5 L526.3,626.3 L505.2,617.9 L484.2,603.8 Z" fill="#e4e4e4" stroke="#e4e4e4" stroke-width="2.0" stroke-linejoin="round"/>
<path d="M500.9,664.1 L515.7,669.4 L523.0,685.1 L522.0,697.8 L513.6,711.4 L499.9,718.8 L482.0,717.7 L467.3,709.3 L462.0,697.8 L471.5,689.3 L463.1,685.1 L467.3,676.7 L479.9,681.0 L492.5,669.4 Z" fill="#e4e4e4" stroke="#e4e4e4" stroke-width="2.0" stroke-linejoin="round"/>
<path d="M455.0,662.0 L462.0,664.0 L458.0,672.0 L465.0,679.0 L460.0,681.0 L451.0,673.0 Z" fill="#e4e4e4" stroke="#e4e4e4" stroke-width="2.0" stroke-linejoin="round"/>
<path d="M421.1,488.9 L433.7,495.9 L446.4,508.5 L460.4,525.3 L470.2,542.2 L502.4,556.2 L470.2,570.2 L453.4,582.8 L442.2,591.2 L444.2,602.1 L458.9,606.3 L473.6,625.2 L484.1,634.7 L492.5,655.7 L489.4,664.1 L484.1,679.9 L473.6,674.6 L463.1,657.8 L450.5,643.1 L440.0,626.3 L431.5,611.5 L426.7,604.0 L414.1,603.8 L393.1,603.8 L378.0,600.0 L371.2,584.1 L357.2,570.1 L351.0,555.0 L348.2,539.4 L366.5,531.0 L386.1,528.1 L400.1,526.7 L408.5,538.0 L422.5,546.4 L433.7,538.0 L432.3,521.1 L425.3,502.9 Z" fill="#e4e4e4" stroke="#e4e4e4" stroke-width="2.0" stroke-linejoin="round"/>
<path d="M338.4,536.5 L346.8,519.7 L369.3,505.7 L383.3,502.9 L397.3,506.0 L404.0,511.0 L402.0,519.0 L390.3,528.1 L372.1,528.1 L349.6,536.5 L344.0,540.8 Z" fill="#e4e4e4" stroke="#e4e4e4" stroke-width="2.0" stroke-linejoin="round"/>
<path d="M391.7,525.3 L398.0,521.0 L406.0,517.0 L414.0,523.0 L420.0,530.0 L428.1,537.0 L436.5,543.6 L430.9,552.0 L430.9,570.2 L425.3,582.8 L419.7,580.0 L422.5,563.2 L415.5,552.0 L402.9,542.2 L391.7,536.5 Z" fill="#e4e4e4" stroke="#e4e4e4" stroke-width="2.0" stroke-linejoin="round"/>
<path d="M402.9,606.6 L423.9,603.8 L426.7,626.3 L422.5,648.7 L414.1,648.7 L405.7,637.5 L393.1,622.1 Z" fill="#e4e4e4" stroke="#e4e4e4" stroke-width="2.0" stroke-linejoin="round"/>
<path d="M329.2,610.8 L350.2,606.5 L385.2,610.8 L375.4,629.0 L365.6,648.6 L350.2,661.2 L341.8,666.8 L322.2,666.8 L316.5,668.2 L326.4,651.4 L333.4,643.0 L340.4,638.8 L336.2,623.4 Z" fill="#e4e4e4" stroke="#e4e4e4" stroke-width="2.0" stroke-linejoin="round"/>
<path d="M225.4,624.8 L228.2,637.4 L245.0,638.8 L277.3,640.2 L280.1,651.4 L277.3,657.0 L266.1,652.8 L246.5,654.2 L242.2,662.6 L252.1,676.6 L254.9,682.3 L249.3,682.3 L238.0,661.2 L231.0,655.6 L218.4,651.4 L218.4,644.4 L225.4,638.8 Z" fill="#e4e4e4" stroke="#e4e4e4" stroke-width="2.0" stroke-linejoin="round"/>
<path d="M426.0,706.5 L436.0,707.0 L435.0,709.0 L427.0,709.0 Z" fill="#e4e4e4" stroke="#e4e4e4" stroke-width="2.0" stroke-linejoin="round"/>
<path d="M250.7,692.1 L268.9,682.3 L280.1,682.3 L288.5,668.2 L294.1,666.8 L284.3,679.4 L288.5,687.9 L308.1,683.7 L325.0,680.9 L326.4,690.7 L316.5,707.5 L305.3,724.3 L294.1,738.3 L277.3,749.5 L263.3,748.1 L252.1,738.3 L249.3,724.3 L250.7,703.3 Z" fill="#e4e4e4" stroke="#e4e4e4" stroke-width="2.0" stroke-linejoin="round"/>
<path d="M308.0,739.0 L320.0,735.0 L334.8,732.0 L334.0,735.0 L318.0,739.5 Z" fill="#e4e4e4" stroke="#e4e4e4" stroke-width="2.0" stroke-linejoin="round"/>
<path d="M390.9,651.4 L400.7,652.8 L402.1,668.2 L400.7,687.9 L383.8,694.9 L382.4,682.3 L381.0,668.2 Z" fill="#e4e4e4" stroke="#e4e4e4" stroke-width="2.0" stroke-linejoin="round"/>
<linearGradient id="hI" x1="0" y1="0" x2="1" y2="0.25"><stop offset="0" stop-color="#5a3af0" stop-opacity="0.8"/><stop offset="0.3" stop-color="#7a62f0" stop-opacity="0.55"/><stop offset="0.75" stop-color="#9a8cf0" stop-opacity="0.32"/><stop offset="1" stop-color="#a89cf0" stop-opacity="0.15"/></linearGradient>
<path d="M273.1,532.2 L280.1,532.2 L288.5,540.7 L299.7,530.8 L308.1,546.3 L322.2,550.5 L333.4,547.7 L344.6,549.1 L344.6,560.3 L357.2,570.1 L371.2,584.1 L378.2,598.1 L371.2,605.1 L350.2,606.5 L329.2,609.4 L316.5,605.1 L301.1,598.1 L287.1,586.9 L275.9,578.5 L264.7,572.9 L264.0,558.9 L266.1,546.3 Z" fill="url(#hI)"/>
<linearGradient id="hI3" x1="0" y1="0" x2="1" y2="0.25"><stop offset="0" stop-color="#8a78f0" stop-opacity="0.12"/><stop offset="1" stop-color="#8a78f0" stop-opacity="0.08"/></linearGradient>
<path d="M250.7,692.1 L268.9,682.3 L280.1,682.3 L288.5,668.2 L294.1,666.8 L284.3,679.4 L288.5,687.9 L308.1,683.7 L325.0,680.9 L326.4,690.7 L316.5,707.5 L305.3,724.3 L294.1,738.3 L277.3,749.5 L263.3,748.1 L252.1,738.3 L249.3,724.3 L250.7,703.3 Z" fill="url(#hI3)"/>
</g>
<linearGradient id="gI" x1="0" y1="0" x2="0" y2="1"><stop offset="0" stop-color="#2a10f5"/><stop offset="0.45" stop-color="#8c70ee"/><stop offset="1" stop-color="#d6d6d6"/></linearGradient><rect x="1697.7" y="987.4" width="17.2" height="120.39999999999998" fill="url(#gI)"/>
<text x="1721.0" y="1013.2" font-size="21" textLength="8.5" lengthAdjust="spacingAndGlyphs" fill="#111">5</text>
<text x="1721.0" y="1033.6" font-size="21" textLength="8.5" lengthAdjust="spacingAndGlyphs" fill="#111">4</text>
<text x="1721.0" y="1054.5" font-size="21" textLength="8.5" lengthAdjust="spacingAndGlyphs" fill="#111">3</text>
<text x="1721.0" y="1075.5" font-size="21" textLength="8.5" lengthAdjust="spacingAndGlyphs" fill="#111">2</text>
<text x="1721.0" y="1096.5" font-size="21" textLength="8.5" lengthAdjust="spacingAndGlyphs" fill="#111">1</text>
<text x="1721.0" y="1116.4" font-size="21" textLength="8.5" lengthAdjust="spacingAndGlyphs" fill="#111">0</text>
<path d="M1394.1,1170 V1220 H1445.1" fill="none" stroke="#000" stroke-width="3"/>
<path d="M1389.6,1173 L1394.1,1164 L1398.6,1173 Z" fill="#000"/>
<path d="M1442.1,1215.5 L1451.1,1220 L1442.1,1224.5 Z" fill="#000"/>
<text x="1376.7" y="1191.0" font-size="15.6" text-anchor="middle" fill="#111" transform="rotate(-90 1376.7 1191.0)" dominant-baseline="central">UMAP2</text>
<text x="1393.6" y="1241.5" font-size="15" textLength="52" lengthAdjust="spacingAndGlyphs" fill="#111">UMAP1</text>
<text x="0" y="0" font-size="63.32" fill="#000" transform="translate(64.26,1309.87) scale(0.9244,1)">J</text>
<text x="124" y="1304.2" font-size="35" fill="#111" textLength="572" lengthAdjust="spacingAndGlyphs">Microglia from MG-<tspan font-style="italic">Alk5</tspan> iKO vs control</text>
<path d="M307.7,1390 V1832.8 M457.7,1390 V1832.8 M95,1805.4 H692" stroke="#444" stroke-width="1.3" stroke-dasharray="5,4" fill="none"/>
<circle cx="338.6" cy="1793.2" r="4.7" fill="#f8291b"/>
<circle cx="366.9" cy="1795.1" r="4.7" fill="#f8291b"/>
<circle cx="341.9" cy="1792.6" r="4.7" fill="#f8291b"/>
<circle cx="322.5" cy="1794.2" r="4.7" fill="#f8291b"/>
<circle cx="349.2" cy="1788.6" r="4.7" fill="#f8291b"/>
<circle cx="317.1" cy="1798.3" r="4.7" fill="#f8291b"/>
<circle cx="316.9" cy="1788.2" r="4.7" fill="#f8291b"/>
<circle cx="353.1" cy="1803.5" r="4.7" fill="#f8291b"/>
<circle cx="370.4" cy="1785.1" r="4.7" fill="#f8291b"/>
<circle cx="350.7" cy="1792.1" r="4.7" fill="#f8291b"/>
<circle cx="320.9" cy="1804.1" r="4.7" fill="#f8291b"/>
<circle cx="343.2" cy="1803.2" r="4.7" fill="#f8291b"/>
<circle cx="322.9" cy="1799.5" r="4.7" fill="#f8291b"/>
<circle cx="313.3" cy="1795.1" r="4.7" fill="#f8291b"/>
<circle cx="337.9" cy="1787.6" r="4.7" fill="#f8291b"/>
<circle cx="342.6" cy="1791.6" r="4.7" fill="#f8291b"/>
<circle cx="341.4" cy="1791.2" r="4.7" fill="#f8291b"/>
<circle cx="338.9" cy="1798.8" r="4.7" fill="#f8291b"/>
<circle cx="371.3" cy="1784.5" r="4.7" fill="#f8291b"/>
<circle cx="361.9" cy="1790.2" r="4.7" fill="#f8291b"/>
<circle cx="330.4" cy="1799.8" r="4.7" fill="#f8291b"/>
<circle cx="328.8" cy="1803.0" r="4.7" fill="#f8291b"/>
<circle cx="357.4" cy="1796.4" r="4.7" fill="#f8291b"/>
<circle cx="362.2" cy="1796.6" r="4.7" fill="#f8291b"/>
<circle cx="368.9" cy="1787.5" r="4.7" fill="#f8291b"/>
<circle cx="311.5" cy="1800.2" r="4.7" fill="#f8291b"/>
<circle cx="366.1" cy="1795.0" r="4.7" fill="#f8291b"/>
<circle cx="370.3" cy="1796.4" r="4.7" fill="#f8291b"/>
<circle cx="315.8" cy="1791.8" r="4.7" fill="#f8291b"/>
<circle cx="358.2" cy="1799.0" r="4.7" fill="#f8291b"/>
<circle cx="316.7" cy="1797.7" r="4.7" fill="#f8291b"/>
<circle cx="369.3" cy="1789.2" r="4.7" fill="#f8291b"/>
<circle cx="318.5" cy="1799.4" r="4.7" fill="#f8291b"/>
<circle cx="317.5" cy="1803.2" r="4.7" fill="#f8291b"/>
<circle cx="359.3" cy="1800.8" r="4.7" fill="#f8291b"/>
<circle cx="345.0" cy="1795.4" r="4.7" fill="#f8291b"/>
<circle cx="322.9" cy="1789.8" r="4.7" fill="#f8291b"/>
<circle cx="319.3" cy="1791.5" r="4.7" fill="#f8291b"/>
<circle cx="318.4" cy="1796.0" r="4.7" fill="#f8291b"/>
<circle cx="324.2" cy="1799.0" r="4.7" fill="#f8291b"/>
<circle cx="369.7" cy="1788.3" r="4.7" fill="#f8291b"/>
<circle cx="329.7" cy="1786.7" r="4.7" fill="#f8291b"/>
<circle cx="324.1" cy="1796.5" r="4.7" fill="#f8291b"/>
<circle cx="362.7" cy="1791.6" r="4.7" fill="#f8291b"/>
<circle cx="317.5" cy="1784.6" r="4.7" fill="#f8291b"/>
<circle cx="324.2" cy="1799.2" r="4.7" fill="#f8291b"/>
<circle cx="357.8" cy="1797.8" r="4.7" fill="#f8291b"/>
<circle cx="329.2" cy="1802.9" r="4.7" fill="#f8291b"/>
<circle cx="316.9" cy="1792.7" r="4.7" fill="#f8291b"/>
<circle cx="326.0" cy="1792.4" r="4.7" fill="#f8291b"/>
<circle cx="333.8" cy="1795.3" r="4.7" fill="#f8291b"/>
<circle cx="369.0" cy="1794.7" r="4.7" fill="#f8291b"/>
<circle cx="345.9" cy="1787.1" r="4.7" fill="#f8291b"/>
<circle cx="322.4" cy="1801.3" r="4.7" fill="#f8291b"/>
<circle cx="366.0" cy="1788.1" r="4.7" fill="#f8291b"/>
<circle cx="326.4" cy="1800.6" r="4.7" fill="#f8291b"/>
<circle cx="355.8" cy="1785.6" r="4.7" fill="#f8291b"/>
<circle cx="323.2" cy="1785.4" r="4.7" fill="#f8291b"/>
<circle cx="364.4" cy="1792.3" r="4.7" fill="#f8291b"/>
<circle cx="336.7" cy="1802.3" r="4.7" fill="#f8291b"/>
<circle cx="313.8" cy="1785.2" r="4.7" fill="#f8291b"/>
<circle cx="325.8" cy="1790.3" r="4.7" fill="#f8291b"/>
<circle cx="326.9" cy="1787.9" r="4.7" fill="#f8291b"/>
<circle cx="347.2" cy="1798.5" r="4.7" fill="#f8291b"/>
<circle cx="322.0" cy="1790.0" r="4.7" fill="#f8291b"/>
<circle cx="315.6" cy="1799.8" r="4.7" fill="#f8291b"/>
<circle cx="345.0" cy="1787.4" r="4.7" fill="#f8291b"/>
<circle cx="348.3" cy="1798.8" r="4.7" fill="#f8291b"/>
<circle cx="366.5" cy="1800.3" r="4.7" fill="#f8291b"/>
<circle cx="312.4" cy="1799.0" r="4.7" fill="#f8291b"/>
<circle cx="330.4" cy="1781.9" r="4.7" fill="#f8291b"/>
<circle cx="320.3" cy="1769.1" r="4.7" fill="#f8291b"/>
<circle cx="335.2" cy="1779.0" r="4.7" fill="#f8291b"/>
<circle cx="327.3" cy="1747.4" r="4.7" fill="#f8291b"/>
<circle cx="350.5" cy="1757.2" r="4.7" fill="#f8291b"/>
<circle cx="339.6" cy="1760.2" r="4.7" fill="#f8291b"/>
<circle cx="319.0" cy="1783.0" r="4.7" fill="#f8291b"/>
<circle cx="314.4" cy="1746.6" r="4.7" fill="#f8291b"/>
<circle cx="340.0" cy="1744.5" r="4.7" fill="#f8291b"/>
<circle cx="314.5" cy="1758.0" r="4.7" fill="#f8291b"/>
<circle cx="331.8" cy="1754.1" r="4.7" fill="#f8291b"/>
<circle cx="325.7" cy="1742.9" r="4.7" fill="#f8291b"/>
<circle cx="316.5" cy="1761.8" r="4.7" fill="#f8291b"/>
<circle cx="341.3" cy="1747.1" r="4.7" fill="#f8291b"/>
<circle cx="341.3" cy="1755.2" r="4.7" fill="#f8291b"/>
<circle cx="343.4" cy="1746.4" r="4.7" fill="#f8291b"/>
<circle cx="326.9" cy="1756.0" r="4.7" fill="#f8291b"/>
<circle cx="347.5" cy="1748.3" r="4.7" fill="#f8291b"/>
<circle cx="329.3" cy="1751.6" r="4.7" fill="#f8291b"/>
<circle cx="346.1" cy="1760.6" r="4.7" fill="#f8291b"/>
<circle cx="337.1" cy="1768.6" r="4.7" fill="#f8291b"/>
<circle cx="335.6" cy="1759.1" r="4.7" fill="#f8291b"/>
<circle cx="316.7" cy="1757.9" r="4.7" fill="#f8291b"/>
<circle cx="350.9" cy="1747.9" r="4.7" fill="#f8291b"/>
<circle cx="341.0" cy="1768.3" r="4.7" fill="#f8291b"/>
<circle cx="341.3" cy="1760.3" r="4.7" fill="#f8291b"/>
<circle cx="330.2" cy="1749.6" r="4.7" fill="#f8291b"/>
<circle cx="316.8" cy="1753.3" r="4.7" fill="#f8291b"/>
<circle cx="313.6" cy="1704.6" r="4.7" fill="#f8291b"/>
<circle cx="323.1" cy="1728.3" r="4.7" fill="#f8291b"/>
<circle cx="327.6" cy="1711.3" r="4.7" fill="#f8291b"/>
<circle cx="325.9" cy="1684.3" r="4.7" fill="#f8291b"/>
<circle cx="318.3" cy="1742.2" r="4.7" fill="#f8291b"/>
<circle cx="319.3" cy="1699.7" r="4.7" fill="#f8291b"/>
<circle cx="317.2" cy="1732.1" r="4.7" fill="#f8291b"/>
<circle cx="332.0" cy="1700.9" r="4.7" fill="#f8291b"/>
<circle cx="322.2" cy="1686.2" r="4.7" fill="#f8291b"/>
<circle cx="317.4" cy="1683.1" r="4.7" fill="#f8291b"/>
<circle cx="327.2" cy="1683.1" r="4.7" fill="#f8291b"/>
<circle cx="320.4" cy="1697.0" r="4.7" fill="#f8291b"/>
<circle cx="325.7" cy="1708.0" r="4.7" fill="#f8291b"/>
<circle cx="318.9" cy="1724.6" r="4.7" fill="#f8291b"/>
<circle cx="334.7" cy="1727.4" r="4.7" fill="#f8291b"/>
<circle cx="322.7" cy="1744.0" r="4.7" fill="#f8291b"/>
<circle cx="330.2" cy="1742.4" r="4.7" fill="#f8291b"/>
<circle cx="340.7" cy="1753.4" r="4.7" fill="#f8291b"/>
<circle cx="356.4" cy="1756.8" r="4.7" fill="#f8291b"/>
<circle cx="370.7" cy="1765.6" r="4.7" fill="#f8291b"/>
<circle cx="313.7" cy="1763.4" r="4.7" fill="#f8291b"/>
<circle cx="415.8" cy="1776.3" r="4.7" fill="#f8291b"/>
<circle cx="408.1" cy="1786.2" r="4.7" fill="#f8291b"/>
<circle cx="444.6" cy="1765.9" r="4.7" fill="#f8291b"/>
<circle cx="449.0" cy="1788.2" r="4.7" fill="#f8291b"/>
<circle cx="431.2" cy="1791.0" r="4.7" fill="#f8291b"/>
<circle cx="404.4" cy="1783.5" r="4.7" fill="#f8291b"/>
<circle cx="446.4" cy="1768.6" r="4.7" fill="#f8291b"/>
<circle cx="438.9" cy="1764.4" r="4.7" fill="#f8291b"/>
<circle cx="412.8" cy="1797.2" r="4.7" fill="#f8291b"/>
<circle cx="423.2" cy="1792.8" r="4.7" fill="#f8291b"/>
<circle cx="409.0" cy="1786.9" r="4.7" fill="#f8291b"/>
<circle cx="433.7" cy="1783.6" r="4.7" fill="#f8291b"/>
<circle cx="415.1" cy="1769.1" r="4.7" fill="#f8291b"/>
<circle cx="455.1" cy="1785.3" r="4.7" fill="#f8291b"/>
<circle cx="400.7" cy="1803.0" r="4.7" fill="#f8291b"/>
<circle cx="448.6" cy="1802.6" r="4.7" fill="#f8291b"/>
<circle cx="438.7" cy="1780.3" r="4.7" fill="#f8291b"/>
<circle cx="414.7" cy="1771.1" r="4.7" fill="#f8291b"/>
<circle cx="397.3" cy="1798.6" r="4.7" fill="#f8291b"/>
<circle cx="423.5" cy="1803.3" r="4.7" fill="#f8291b"/>
<circle cx="446.0" cy="1794.4" r="4.7" fill="#f8291b"/>
<circle cx="404.7" cy="1802.4" r="4.7" fill="#f8291b"/>
<circle cx="434.0" cy="1785.6" r="4.7" fill="#f8291b"/>
<circle cx="434.0" cy="1776.8" r="4.7" fill="#f8291b"/>
<circle cx="444.6" cy="1764.0" r="4.7" fill="#f8291b"/>
<circle cx="437.3" cy="1796.0" r="4.7" fill="#f8291b"/>
<circle cx="424.7" cy="1796.8" r="4.7" fill="#f8291b"/>
<circle cx="396.8" cy="1784.5" r="4.7" fill="#f8291b"/>
<circle cx="439.1" cy="1796.8" r="4.7" fill="#f8291b"/>
<circle cx="412.5" cy="1789.8" r="4.7" fill="#f8291b"/>
<circle cx="438.0" cy="1782.5" r="4.7" fill="#f8291b"/>
<circle cx="433.1" cy="1772.5" r="4.7" fill="#f8291b"/>
<circle cx="419.8" cy="1771.0" r="4.7" fill="#f8291b"/>
<circle cx="450.6" cy="1800.7" r="4.7" fill="#f8291b"/>
<circle cx="452.2" cy="1774.0" r="4.7" fill="#f8291b"/>
<circle cx="404.0" cy="1785.3" r="4.7" fill="#f8291b"/>
<circle cx="433.7" cy="1766.1" r="4.7" fill="#f8291b"/>
<circle cx="418.8" cy="1780.4" r="4.7" fill="#f8291b"/>
<circle cx="449.0" cy="1770.8" r="4.7" fill="#f8291b"/>
<circle cx="452.9" cy="1784.8" r="4.7" fill="#f8291b"/>
<circle cx="435.3" cy="1795.7" r="4.7" fill="#f8291b"/>
<circle cx="439.5" cy="1769.9" r="4.7" fill="#f8291b"/>
<circle cx="434.7" cy="1774.2" r="4.7" fill="#f8291b"/>
<circle cx="409.0" cy="1766.5" r="4.7" fill="#f8291b"/>
<circle cx="455.0" cy="1763.2" r="4.7" fill="#f8291b"/>
<circle cx="428.4" cy="1771.1" r="4.7" fill="#f8291b"/>
<circle cx="415.4" cy="1766.1" r="4.7" fill="#f8291b"/>
<circle cx="447.5" cy="1789.7" r="4.7" fill="#f8291b"/>
<circle cx="401.2" cy="1785.8" r="4.7" fill="#f8291b"/>
<circle cx="429.2" cy="1772.0" r="4.7" fill="#f8291b"/>
<circle cx="425.4" cy="1803.2" r="4.7" fill="#f8291b"/>
<circle cx="444.7" cy="1801.7" r="4.7" fill="#f8291b"/>
<circle cx="444.2" cy="1797.1" r="4.7" fill="#f8291b"/>
<circle cx="416.3" cy="1771.2" r="4.7" fill="#f8291b"/>
<circle cx="404.6" cy="1798.1" r="4.7" fill="#f8291b"/>
<circle cx="427.2" cy="1773.9" r="4.7" fill="#f8291b"/>
<circle cx="446.6" cy="1775.4" r="4.7" fill="#f8291b"/>
<circle cx="452.9" cy="1783.6" r="4.7" fill="#f8291b"/>
<circle cx="453.1" cy="1800.7" r="4.7" fill="#f8291b"/>
<circle cx="409.5" cy="1782.2" r="4.7" fill="#f8291b"/>
<circle cx="413.6" cy="1773.7" r="4.7" fill="#f8291b"/>
<circle cx="434.5" cy="1782.4" r="4.7" fill="#f8291b"/>
<circle cx="446.8" cy="1780.8" r="4.7" fill="#f8291b"/>
<circle cx="414.9" cy="1788.3" r="4.7" fill="#f8291b"/>
<circle cx="446.9" cy="1766.5" r="4.7" fill="#f8291b"/>
<circle cx="408.7" cy="1768.6" r="4.7" fill="#f8291b"/>
<circle cx="454.3" cy="1782.3" r="4.7" fill="#f8291b"/>
<circle cx="430.6" cy="1795.9" r="4.7" fill="#f8291b"/>
<circle cx="428.4" cy="1783.2" r="4.7" fill="#f8291b"/>
<circle cx="432.5" cy="1803.2" r="4.7" fill="#f8291b"/>
<circle cx="454.4" cy="1782.6" r="4.7" fill="#f8291b"/>
<circle cx="420.2" cy="1770.7" r="4.7" fill="#f8291b"/>
<circle cx="430.0" cy="1783.7" r="4.7" fill="#f8291b"/>
<circle cx="437.7" cy="1801.6" r="4.7" fill="#f8291b"/>
<circle cx="428.5" cy="1786.9" r="4.7" fill="#f8291b"/>
<circle cx="453.6" cy="1765.5" r="4.7" fill="#f8291b"/>
<circle cx="412.4" cy="1784.4" r="4.7" fill="#f8291b"/>
<circle cx="403.8" cy="1786.1" r="4.7" fill="#f8291b"/>
<circle cx="445.1" cy="1766.5" r="4.7" fill="#f8291b"/>
<circle cx="424.8" cy="1791.0" r="4.7" fill="#f8291b"/>
<circle cx="407.7" cy="1778.4" r="4.7" fill="#f8291b"/>
<circle cx="451.7" cy="1798.9" r="4.7" fill="#f8291b"/>
<circle cx="443.0" cy="1803.4" r="4.7" fill="#f8291b"/>
<circle cx="407.8" cy="1794.8" r="4.7" fill="#f8291b"/>
<circle cx="437.4" cy="1790.8" r="4.7" fill="#f8291b"/>
<circle cx="417.5" cy="1778.3" r="4.7" fill="#f8291b"/>
<circle cx="402.5" cy="1773.6" r="4.7" fill="#f8291b"/>
<circle cx="403.6" cy="1782.9" r="4.7" fill="#f8291b"/>
<circle cx="411.2" cy="1796.0" r="4.7" fill="#f8291b"/>
<circle cx="428.0" cy="1786.0" r="4.7" fill="#f8291b"/>
<circle cx="418.7" cy="1787.0" r="4.7" fill="#f8291b"/>
<circle cx="428.0" cy="1797.6" r="4.7" fill="#f8291b"/>
<circle cx="408.5" cy="1777.8" r="4.7" fill="#f8291b"/>
<circle cx="434.5" cy="1782.1" r="4.7" fill="#f8291b"/>
<circle cx="447.3" cy="1778.6" r="4.7" fill="#f8291b"/>
<circle cx="447.6" cy="1794.6" r="4.7" fill="#f8291b"/>
<circle cx="440.6" cy="1770.3" r="4.7" fill="#f8291b"/>
<circle cx="450.4" cy="1791.1" r="4.7" fill="#f8291b"/>
<circle cx="415.1" cy="1765.5" r="4.7" fill="#f8291b"/>
<circle cx="409.3" cy="1762.4" r="4.7" fill="#f8291b"/>
<circle cx="449.5" cy="1798.7" r="4.7" fill="#f8291b"/>
<circle cx="410.6" cy="1773.8" r="4.7" fill="#f8291b"/>
<circle cx="411.8" cy="1800.3" r="4.7" fill="#f8291b"/>
<circle cx="446.1" cy="1786.6" r="4.7" fill="#f8291b"/>
<circle cx="443.6" cy="1799.1" r="4.7" fill="#f8291b"/>
<circle cx="420.4" cy="1775.5" r="4.7" fill="#f8291b"/>
<circle cx="397.3" cy="1795.9" r="4.7" fill="#f8291b"/>
<circle cx="437.1" cy="1766.0" r="4.7" fill="#f8291b"/>
<circle cx="454.3" cy="1799.5" r="4.7" fill="#f8291b"/>
<circle cx="426.5" cy="1772.5" r="4.7" fill="#f8291b"/>
<circle cx="426.4" cy="1775.5" r="4.7" fill="#f8291b"/>
<circle cx="407.5" cy="1801.4" r="4.7" fill="#f8291b"/>
<circle cx="402.6" cy="1802.8" r="4.7" fill="#f8291b"/>
<circle cx="429.3" cy="1782.7" r="4.7" fill="#f8291b"/>
<circle cx="430.3" cy="1798.2" r="4.7" fill="#f8291b"/>
<circle cx="407.3" cy="1795.8" r="4.7" fill="#f8291b"/>
<circle cx="446.6" cy="1762.7" r="4.7" fill="#f8291b"/>
<circle cx="451.8" cy="1800.3" r="4.7" fill="#f8291b"/>
<circle cx="399.9" cy="1764.3" r="4.7" fill="#f8291b"/>
<circle cx="423.9" cy="1772.2" r="4.7" fill="#f8291b"/>
<circle cx="429.4" cy="1753.2" r="4.7" fill="#f8291b"/>
<circle cx="436.9" cy="1754.0" r="4.7" fill="#f8291b"/>
<circle cx="440.3" cy="1762.0" r="4.7" fill="#f8291b"/>
<circle cx="444.3" cy="1745.9" r="4.7" fill="#f8291b"/>
<circle cx="423.7" cy="1753.5" r="4.7" fill="#f8291b"/>
<circle cx="445.8" cy="1754.4" r="4.7" fill="#f8291b"/>
<circle cx="424.2" cy="1759.1" r="4.7" fill="#f8291b"/>
<circle cx="436.8" cy="1762.0" r="4.7" fill="#f8291b"/>
<circle cx="452.0" cy="1746.8" r="4.7" fill="#f8291b"/>
<circle cx="444.5" cy="1745.6" r="4.7" fill="#f8291b"/>
<circle cx="441.5" cy="1754.4" r="4.7" fill="#f8291b"/>
<circle cx="440.3" cy="1752.5" r="4.7" fill="#f8291b"/>
<circle cx="455.5" cy="1746.7" r="4.7" fill="#f8291b"/>
<circle cx="426.7" cy="1744.6" r="4.7" fill="#f8291b"/>
<circle cx="446.0" cy="1747.2" r="4.7" fill="#f8291b"/>
<circle cx="448.8" cy="1754.4" r="4.7" fill="#f8291b"/>
<circle cx="452.1" cy="1745.2" r="4.7" fill="#f8291b"/>
<circle cx="444.1" cy="1747.4" r="4.7" fill="#f8291b"/>
<circle cx="449.4" cy="1683.1" r="4.7" fill="#f8291b"/>
<circle cx="438.9" cy="1701.4" r="4.7" fill="#f8291b"/>
<circle cx="445.7" cy="1719.1" r="4.7" fill="#f8291b"/>
<circle cx="426.2" cy="1719.1" r="4.7" fill="#f8291b"/>
<circle cx="444.2" cy="1730.2" r="4.7" fill="#f8291b"/>
<circle cx="415.7" cy="1746.2" r="4.7" fill="#f8291b"/>
<circle cx="453.9" cy="1690.3" r="4.7" fill="#f8291b"/>
<circle cx="450.2" cy="1693.1" r="4.7" fill="#f8291b"/>
<circle cx="451.7" cy="1706.9" r="4.7" fill="#f8291b"/>
<circle cx="270.2" cy="1798.3" r="4.7" fill="#b244f7"/>
<circle cx="285.2" cy="1793.8" r="4.7" fill="#b244f7"/>
<circle cx="285.2" cy="1798.8" r="4.7" fill="#b244f7"/>
<circle cx="296.4" cy="1793.8" r="4.7" fill="#b244f7"/>
<circle cx="296.4" cy="1798.8" r="4.7" fill="#b244f7"/>
<circle cx="303.9" cy="1793.8" r="4.7" fill="#b244f7"/>
<circle cx="306.2" cy="1801.0" r="4.7" fill="#b244f7"/>
<circle cx="301.7" cy="1775.0" r="4.7" fill="#b244f7"/>
<circle cx="307.7" cy="1780.0" r="4.7" fill="#b244f7"/>
<circle cx="291.2" cy="1802.1" r="4.7" fill="#b244f7"/>
<circle cx="277.7" cy="1802.1" r="4.7" fill="#b244f7"/>
<circle cx="305.4" cy="1803.8" r="4.7" fill="#b244f7"/>
<circle cx="492.1" cy="1794.0" r="4.7" fill="#b244f7"/>
<circle cx="490.2" cy="1803.5" r="4.7" fill="#b244f7"/>
<circle cx="473.1" cy="1791.7" r="4.7" fill="#b244f7"/>
<circle cx="458.2" cy="1795.8" r="4.7" fill="#b244f7"/>
<circle cx="486.4" cy="1785.5" r="4.7" fill="#b244f7"/>
<circle cx="468.1" cy="1770.6" r="4.7" fill="#b244f7"/>
<circle cx="487.7" cy="1796.4" r="4.7" fill="#b244f7"/>
<circle cx="487.4" cy="1787.7" r="4.7" fill="#b244f7"/>
<circle cx="481.7" cy="1794.6" r="4.7" fill="#b244f7"/>
<circle cx="502.7" cy="1784.7" r="4.7" fill="#b244f7"/>
<circle cx="489.3" cy="1779.4" r="4.7" fill="#b244f7"/>
<circle cx="501.8" cy="1804.2" r="4.7" fill="#b244f7"/>
<circle cx="485.4" cy="1780.4" r="4.7" fill="#b244f7"/>
<circle cx="469.2" cy="1794.2" r="4.7" fill="#b244f7"/>
<circle cx="460.0" cy="1800.6" r="4.7" fill="#b244f7"/>
<circle cx="474.6" cy="1802.9" r="4.7" fill="#b244f7"/>
<circle cx="469.0" cy="1772.6" r="4.7" fill="#b244f7"/>
<circle cx="482.5" cy="1790.2" r="4.7" fill="#b244f7"/>
<circle cx="501.2" cy="1787.8" r="4.7" fill="#b244f7"/>
<circle cx="502.5" cy="1784.9" r="4.7" fill="#b244f7"/>
<circle cx="494.1" cy="1803.4" r="4.7" fill="#b244f7"/>
<circle cx="484.6" cy="1779.5" r="4.7" fill="#b244f7"/>
<circle cx="459.7" cy="1771.3" r="4.7" fill="#b244f7"/>
<circle cx="464.9" cy="1791.6" r="4.7" fill="#b244f7"/>
<circle cx="465.3" cy="1790.7" r="4.7" fill="#b244f7"/>
<circle cx="485.2" cy="1803.7" r="4.7" fill="#b244f7"/>
<circle cx="500.2" cy="1793.5" r="4.7" fill="#b244f7"/>
<circle cx="481.4" cy="1786.6" r="4.7" fill="#b244f7"/>
<circle cx="461.8" cy="1793.9" r="4.7" fill="#b244f7"/>
<circle cx="465.1" cy="1783.9" r="4.7" fill="#b244f7"/>
<circle cx="460.9" cy="1778.2" r="4.7" fill="#b244f7"/>
<circle cx="461.0" cy="1803.8" r="4.7" fill="#b244f7"/>
<circle cx="460.5" cy="1802.8" r="4.7" fill="#b244f7"/>
<circle cx="459.5" cy="1776.8" r="4.7" fill="#b244f7"/>
<circle cx="462.1" cy="1771.6" r="4.7" fill="#b244f7"/>
<circle cx="466.1" cy="1802.5" r="4.7" fill="#b244f7"/>
<circle cx="468.8" cy="1769.8" r="4.7" fill="#b244f7"/>
<circle cx="458.5" cy="1771.3" r="4.7" fill="#b244f7"/>
<circle cx="236.3" cy="1416.4" r="4.7" fill="#b244f7"/>
<circle cx="263.7" cy="1435.8" r="4.7" fill="#b244f7"/>
<circle cx="286.0" cy="1542.6" r="4.7" fill="#b244f7"/>
<circle cx="278.4" cy="1551.0" r="4.7" fill="#b244f7"/>
<circle cx="485.7" cy="1583.0" r="4.7" fill="#b244f7"/>
<circle cx="306.1" cy="1609.9" r="4.7" fill="#b244f7"/>
<circle cx="282.6" cy="1613.2" r="4.7" fill="#b244f7"/>
<circle cx="473.1" cy="1625.0" r="4.7" fill="#b244f7"/>
<circle cx="471.8" cy="1630.0" r="4.7" fill="#b244f7"/>
<circle cx="485.7" cy="1649.0" r="4.7" fill="#b244f7"/>
<circle cx="294.4" cy="1655.3" r="4.7" fill="#b244f7"/>
<circle cx="297.7" cy="1658.7" r="4.7" fill="#b244f7"/>
<circle cx="275.4" cy="1662.9" r="4.7" fill="#b244f7"/>
<circle cx="461.7" cy="1665.8" r="4.7" fill="#b244f7"/>
<circle cx="471.0" cy="1663.7" r="4.7" fill="#b244f7"/>
<circle cx="300.7" cy="1681.8" r="4.7" fill="#b244f7"/>
<circle cx="302.8" cy="1680.5" r="4.7" fill="#b244f7"/>
<circle cx="450.0" cy="1682.6" r="4.7" fill="#b244f7"/>
<circle cx="480.2" cy="1684.7" r="4.7" fill="#b244f7"/>
<circle cx="306.1" cy="1697.3" r="4.7" fill="#b244f7"/>
<circle cx="466.8" cy="1710.8" r="4.7" fill="#b244f7"/>
<circle cx="476.0" cy="1712.1" r="4.7" fill="#b244f7"/>
<circle cx="589.6" cy="1714.2" r="4.7" fill="#b244f7"/>
<circle cx="464.7" cy="1722.6" r="4.7" fill="#b244f7"/>
<circle cx="536.2" cy="1745.7" r="4.7" fill="#b244f7"/>
<circle cx="462.6" cy="1745.7" r="4.7" fill="#b244f7"/>
<circle cx="524.8" cy="1757.0" r="4.7" fill="#b244f7"/>
<circle cx="462.6" cy="1754.1" r="4.7" fill="#b244f7"/>
<circle cx="293.5" cy="1770.9" r="4.7" fill="#b244f7"/>
<circle cx="420.5" cy="1768.8" r="4.7" fill="#b244f7"/>
<circle cx="519.3" cy="1769.7" r="4.7" fill="#b244f7"/>
<circle cx="307.0" cy="1777.2" r="4.7" fill="#b244f7"/>
<path d="M234.3,1414.9 L238.3,1414.9 L236.3,1418.4 Z" fill="#fff" stroke="#111" stroke-width="0.9"/>
<path d="M261.7,1434.3 L265.7,1434.3 L263.7,1437.8 Z" fill="#fff" stroke="#111" stroke-width="0.9"/>
<path d="M284.0,1541.1 L288.0,1541.1 L286.0,1544.6 Z" fill="#fff" stroke="#111" stroke-width="0.9"/>
<path d="M276.4,1549.5 L280.4,1549.5 L278.4,1553.0 Z" fill="#fff" stroke="#111" stroke-width="0.9"/>
<path d="M483.7,1581.5 L487.7,1581.5 L485.7,1585.0 Z" fill="#fff" stroke="#111" stroke-width="0.9"/>
<path d="M304.1,1608.4 L308.1,1608.4 L306.1,1611.9 Z" fill="#fff" stroke="#111" stroke-width="0.9"/>
<path d="M280.6,1611.7 L284.6,1611.7 L282.6,1615.2 Z" fill="#fff" stroke="#111" stroke-width="0.9"/>
<path d="M471.1,1623.5 L475.1,1623.5 L473.1,1627.0 Z" fill="#fff" stroke="#111" stroke-width="0.9"/>
<path d="M469.8,1628.5 L473.8,1628.5 L471.8,1632.0 Z" fill="#fff" stroke="#111" stroke-width="0.9"/>
<path d="M483.7,1647.5 L487.7,1647.5 L485.7,1651.0 Z" fill="#fff" stroke="#111" stroke-width="0.9"/>
<path d="M292.4,1653.8 L296.4,1653.8 L294.4,1657.3 Z" fill="#fff" stroke="#111" stroke-width="0.9"/>
<path d="M295.7,1657.2 L299.7,1657.2 L297.7,1660.7 Z" fill="#fff" stroke="#111" stroke-width="0.9"/>
<path d="M273.4,1661.4 L277.4,1661.4 L275.4,1664.9 Z" fill="#fff" stroke="#111" stroke-width="0.9"/>
<path d="M459.7,1664.3 L463.7,1664.3 L461.7,1667.8 Z" fill="#fff" stroke="#111" stroke-width="0.9"/>
<path d="M469.0,1662.2 L473.0,1662.2 L471.0,1665.7 Z" fill="#fff" stroke="#111" stroke-width="0.9"/>
<path d="M298.7,1680.3 L302.7,1680.3 L300.7,1683.8 Z" fill="#fff" stroke="#111" stroke-width="0.9"/>
<path d="M300.8,1679.0 L304.8,1679.0 L302.8,1682.5 Z" fill="#fff" stroke="#111" stroke-width="0.9"/>
<path d="M448.0,1681.1 L452.0,1681.1 L450.0,1684.6 Z" fill="#fff" stroke="#111" stroke-width="0.9"/>
<path d="M478.2,1683.2 L482.2,1683.2 L480.2,1686.7 Z" fill="#fff" stroke="#111" stroke-width="0.9"/>
<path d="M304.1,1695.8 L308.1,1695.8 L306.1,1699.3 Z" fill="#fff" stroke="#111" stroke-width="0.9"/>
<path d="M464.8,1709.3 L468.8,1709.3 L466.8,1712.8 Z" fill="#fff" stroke="#111" stroke-width="0.9"/>
<path d="M474.0,1710.6 L478.0,1710.6 L476.0,1714.1 Z" fill="#fff" stroke="#111" stroke-width="0.9"/>
<path d="M587.6,1712.7 L591.6,1712.7 L589.6,1716.2 Z" fill="#fff" stroke="#111" stroke-width="0.9"/>
<path d="M462.7,1721.1 L466.7,1721.1 L464.7,1724.6 Z" fill="#fff" stroke="#111" stroke-width="0.9"/>
<path d="M534.2,1744.2 L538.2,1744.2 L536.2,1747.7 Z" fill="#fff" stroke="#111" stroke-width="0.9"/>
<path d="M460.6,1744.2 L464.6,1744.2 L462.6,1747.7 Z" fill="#fff" stroke="#111" stroke-width="0.9"/>
<path d="M522.8,1755.5 L526.8,1755.5 L524.8,1759.0 Z" fill="#fff" stroke="#111" stroke-width="0.9"/>
<path d="M460.6,1752.6 L464.6,1752.6 L462.6,1756.1 Z" fill="#fff" stroke="#111" stroke-width="0.9"/>
<path d="M291.5,1769.4 L295.5,1769.4 L293.5,1772.9 Z" fill="#fff" stroke="#111" stroke-width="0.9"/>
<path d="M418.5,1767.3 L422.5,1767.3 L420.5,1770.8 Z" fill="#fff" stroke="#111" stroke-width="0.9"/>
<path d="M517.3,1768.2 L521.3,1768.2 L519.3,1771.7 Z" fill="#fff" stroke="#111" stroke-width="0.9"/>
<path d="M305.0,1775.7 L309.0,1775.7 L307.0,1779.2 Z" fill="#fff" stroke="#111" stroke-width="0.9"/>
<path d="M297.7,1658.7 L324.6,1650.2 M476,1712.1 L521.4,1704.9 M536.2,1745.7 L550.9,1733.1 M464.7,1722.6 L470,1710" stroke="#111" stroke-width="1.2" fill="none"/>
<text x="191.3" y="1411.4" font-size="17.5" textLength="55.5" lengthAdjust="spacingAndGlyphs" fill="#111">Arpp21</text>
<text x="243.0" y="1454.3" font-size="17.5" textLength="73.2" lengthAdjust="spacingAndGlyphs" fill="#111">Camk2n1</text>
<text x="272.5" y="1538.4" font-size="17.5" textLength="58.9" lengthAdjust="spacingAndGlyphs" fill="#111">Homer1</text>
<text x="235.5" y="1570.3" font-size="17.5" textLength="54.7" lengthAdjust="spacingAndGlyphs" fill="#111">Cdk5r2</text>
<text x="481.5" y="1577.5" font-size="17.5" textLength="39.9" lengthAdjust="spacingAndGlyphs" fill="#111">Lrrn2</text>
<text x="297.7" y="1605.7" font-size="17.5" textLength="49.2" lengthAdjust="spacingAndGlyphs" fill="#111">Pde2a</text>
<text x="222.9" y="1629.2" font-size="17.5" textLength="54.6" lengthAdjust="spacingAndGlyphs" fill="#111">Zfp365</text>
<text x="466.8" y="1619.5" font-size="17.5" textLength="47.1" lengthAdjust="spacingAndGlyphs" fill="#111">Kcnc3</text>
<text x="405.8" y="1640.6" font-size="17.5" textLength="60.2" lengthAdjust="spacingAndGlyphs" fill="#111">Galnt16</text>
<text x="478.6" y="1644.8" font-size="17.5" textLength="54.6" lengthAdjust="spacingAndGlyphs" fill="#111">Atp2b3</text>
<text x="259.9" y="1650.2" font-size="17.5" textLength="58.9" lengthAdjust="spacingAndGlyphs" fill="#111">Septin5</text>
<text x="327.2" y="1656.1" font-size="17.5" textLength="43.7" lengthAdjust="spacingAndGlyphs" fill="#111">Ctxn1</text>
<text x="231.3" y="1673.0" font-size="17.5" textLength="34.5" lengthAdjust="spacingAndGlyphs" fill="#111">Egr1</text>
<text x="403.7" y="1662.9" font-size="17.5" textLength="51.3" lengthAdjust="spacingAndGlyphs" fill="#111">Cpne6</text>
<text x="478.6" y="1668.7" font-size="17.5" textLength="44.1" lengthAdjust="spacingAndGlyphs" fill="#111">Lrp1b</text>
<text x="306.1" y="1677.2" font-size="17.5" textLength="36.6" lengthAdjust="spacingAndGlyphs" fill="#111">Pak1</text>
<text x="235.5" y="1694.0" font-size="17.5" textLength="58" lengthAdjust="spacingAndGlyphs" fill="#111">Phactr1</text>
<text x="428.9" y="1689.8" font-size="17.5" textLength="35.8" lengthAdjust="spacingAndGlyphs" fill="#111">Ctsd</text>
<text x="487.8" y="1689.8" font-size="17.5" textLength="49.2" lengthAdjust="spacingAndGlyphs" fill="#111">Epha4</text>
<text x="300.7" y="1716.3" font-size="17.5" textLength="40.8" lengthAdjust="spacingAndGlyphs" fill="#111">Cap2</text>
<text x="433.1" y="1710.0" font-size="17.5" textLength="31.6" lengthAdjust="spacingAndGlyphs" fill="#111">Cd9</text>
<text x="523.6" y="1712.1" font-size="17.5" textLength="60.9" lengthAdjust="spacingAndGlyphs" fill="#111">Galnt17</text>
<text x="593.8" y="1710.0" font-size="17.5" textLength="47.5" lengthAdjust="spacingAndGlyphs" fill="#111">Ddx3y</text>
<text x="473.1" y="1730.1" font-size="17.5" textLength="40.8" lengthAdjust="spacingAndGlyphs" fill="#111">Cd34</text>
<text x="554.2" y="1734.3" font-size="17.5" textLength="37.9" lengthAdjust="spacingAndGlyphs" fill="#111">Mrc2</text>
<text x="419.7" y="1741.5" font-size="17.5" textLength="39.5" lengthAdjust="spacingAndGlyphs" fill="#111">Ntrk3</text>
<text x="494.1" y="1752.9" font-size="17.5" textLength="55.9" lengthAdjust="spacingAndGlyphs" fill="#111">Eif2s3y</text>
<text x="471.0" y="1763.8" font-size="17.5" textLength="42.9" lengthAdjust="spacingAndGlyphs" fill="#111">Prkcg</text>
<text x="260.7" y="1766.7" font-size="17.5" textLength="34.5" lengthAdjust="spacingAndGlyphs" fill="#111">Ngef</text>
<text x="418.4" y="1768.0" font-size="17.5" textLength="36.6" lengthAdjust="spacingAndGlyphs" fill="#111">Lag3</text>
<text x="518.1" y="1789.0" font-size="17.5" textLength="34.9" lengthAdjust="spacingAndGlyphs" fill="#111">Cst7</text>
<text x="311.2" y="1793.2" font-size="17.5" textLength="42" lengthAdjust="spacingAndGlyphs" fill="#111">Trim9</text>
<path d="M95,1367 V1832.8 H691.8" fill="none" stroke="#111" stroke-width="2"/>
<path d="M87,1369.3 H95" stroke="#111" stroke-width="1.6"/>
<text x="83.0" y="1376.9" font-size="21.5" text-anchor="end" fill="#333">80</text>
<path d="M87,1479.9 H95" stroke="#111" stroke-width="1.6"/>
<text x="83.0" y="1487.5" font-size="21.5" text-anchor="end" fill="#333">60</text>
<path d="M87,1590.6 H95" stroke="#111" stroke-width="1.6"/>
<text x="83.0" y="1598.2" font-size="21.5" text-anchor="end" fill="#333">40</text>
<path d="M87,1701.4 H95" stroke="#111" stroke-width="1.6"/>
<text x="83.0" y="1709.0" font-size="21.5" text-anchor="end" fill="#333">20</text>
<path d="M87,1812.1 H95" stroke="#111" stroke-width="1.6"/>
<text x="83.0" y="1819.7" font-size="21.5" text-anchor="end" fill="#333">0</text>
<path d="M233.4,1832.8 V1840.8" stroke="#111" stroke-width="1.6"/>
<text x="233.4" y="1865.8" font-size="21.5" text-anchor="middle" fill="#333">-2</text>
<path d="M382.7,1832.8 V1840.8" stroke="#111" stroke-width="1.6"/>
<text x="382.7" y="1865.8" font-size="21.5" text-anchor="middle" fill="#333">0</text>
<path d="M533.2,1832.8 V1840.8" stroke="#111" stroke-width="1.6"/>
<text x="533.2" y="1865.8" font-size="21.5" text-anchor="middle" fill="#333">2</text>
<path d="M683.3,1832.8 V1840.8" stroke="#111" stroke-width="1.6"/>
<text x="683.3" y="1865.8" font-size="21.5" text-anchor="middle" fill="#333">4</text>
<text x="415" y="1890.8" font-size="22" text-anchor="middle" fill="#111">Log<tspan font-size="15.4" dy="5">2</tspan><tspan dy="-5"> fold change</tspan></text>
<text x="44" y="1596" font-size="23" text-anchor="middle" transform="rotate(-90 44 1596)" fill="#111">−Log<tspan font-size="16.1" dy="5">10</tspan><tspan dy="-5" font-style="italic"> P</tspan></text>
<circle cx="308.2" cy="1374.4" r="7.2" fill="#f8291b"/>
<text x="332.2" y="1382.0" font-size="19" textLength="54.7" lengthAdjust="spacingAndGlyphs" fill="#111">p-value</text>
<circle cx="410.0" cy="1374.4" r="7.2" fill="#b244f7"/>
<text x="434.0" y="1382.0" font-size="19" textLength="33.6" lengthAdjust="spacingAndGlyphs" fill="#111">Both</text>
<text x="521.4" y="1390.4" font-size="28" textLength="107.3" lengthAdjust="spacingAndGlyphs" fill="#111">Microglia</text>
<path d="M543.0,1406.8 L562.7,1433.4 L568.0,1432.6 L573.3,1426.6 L571.8,1433.4 L577.9,1438.0 L588.5,1441.8 L596.1,1440.2 L603.0,1430.4 L605.2,1435.7 L618.9,1427.3 L629.5,1421.3 L618.9,1431.9 L619.7,1435.7 L605.2,1442.5 L602.2,1447.1 L606.0,1450.9 L598.4,1456.2 L596.9,1468.3 L602.2,1477.4 L616.6,1490.4 L615.9,1492.6 L606.7,1485.8 L603.7,1493.4 L603.0,1487.3 L594.6,1480.5 L580.9,1479.0 L565.7,1482.0 L558.2,1485.8 L549.0,1500.2 L547.5,1499.5 L552.1,1483.5 L552.1,1475.9 L541.4,1471.4 L532.3,1478.2 L512.6,1482.0 L511.1,1480.5 L535.4,1467.6 L538.4,1464.5 L530.8,1463.8 L531.6,1460.0 L543.0,1457.7 L552.1,1451.6 L556.6,1442.5 L550.6,1435.7 L555.1,1434.2 L552.1,1422.8 L544.5,1412.9 L541.4,1411.4 Z" fill="#e88189" stroke="#d8343e" stroke-width="1.3" stroke-linejoin="round"/>
<ellipse cx="573.3" cy="1460" rx="11.6" ry="9.2" transform="rotate(35 573.3 1460)" fill="#e05a66" stroke="#eea0a6" stroke-width="1"/>
<ellipse cx="576" cy="1457.7" rx="4.6" ry="3" transform="rotate(35 576 1457.7)" fill="#d5303c"/>
<text x="0" y="0" font-size="64.24" fill="#000" transform="translate(736.99,1316.80) scale(0.9508,1)">K</text>
<text x="787" y="1302" font-size="35" fill="#111" textLength="616" lengthAdjust="spacingAndGlyphs">Neuroblasts from MG-<tspan font-style="italic">Alk5</tspan> iKO vs control</text>
<path d="M1089.5,1372 V1830.6 M1170.9,1372 V1830.6 M789,1807.5 H1380" stroke="#444" stroke-width="1.3" stroke-dasharray="5,4" fill="none"/>
<circle cx="1065.7" cy="1797.8" r="4.6" fill="#b244f7"/>
<circle cx="1032.5" cy="1788.3" r="4.6" fill="#b244f7"/>
<circle cx="1044.8" cy="1776.3" r="4.6" fill="#b244f7"/>
<circle cx="1086.8" cy="1758.5" r="4.6" fill="#b244f7"/>
<circle cx="1087.9" cy="1769.4" r="4.6" fill="#b244f7"/>
<circle cx="1086.0" cy="1805.6" r="4.6" fill="#b244f7"/>
<circle cx="1056.1" cy="1719.6" r="4.6" fill="#b244f7"/>
<circle cx="1082.4" cy="1795.7" r="4.6" fill="#b244f7"/>
<circle cx="1035.1" cy="1719.1" r="4.6" fill="#b244f7"/>
<circle cx="1040.5" cy="1773.3" r="4.6" fill="#b244f7"/>
<circle cx="994.9" cy="1773.0" r="4.6" fill="#b244f7"/>
<circle cx="1008.9" cy="1773.7" r="4.6" fill="#b244f7"/>
<circle cx="1080.9" cy="1804.1" r="4.6" fill="#b244f7"/>
<circle cx="1067.1" cy="1714.5" r="4.6" fill="#b244f7"/>
<circle cx="1078.1" cy="1750.0" r="4.6" fill="#b244f7"/>
<circle cx="1033.8" cy="1774.3" r="4.6" fill="#b244f7"/>
<circle cx="1043.6" cy="1793.1" r="4.6" fill="#b244f7"/>
<circle cx="1086.7" cy="1796.9" r="4.6" fill="#b244f7"/>
<circle cx="1029.3" cy="1770.2" r="4.6" fill="#b244f7"/>
<circle cx="1066.6" cy="1751.6" r="4.6" fill="#b244f7"/>
<circle cx="1053.3" cy="1783.2" r="4.6" fill="#b244f7"/>
<circle cx="1016.4" cy="1753.9" r="4.6" fill="#b244f7"/>
<circle cx="1072.8" cy="1752.2" r="4.6" fill="#b244f7"/>
<circle cx="1045.9" cy="1719.6" r="4.6" fill="#b244f7"/>
<circle cx="1023.8" cy="1777.3" r="4.6" fill="#b244f7"/>
<circle cx="994.4" cy="1772.3" r="4.6" fill="#b244f7"/>
<circle cx="1056.7" cy="1729.8" r="4.6" fill="#b244f7"/>
<circle cx="1080.3" cy="1763.5" r="4.6" fill="#b244f7"/>
<circle cx="1087.8" cy="1730.1" r="4.6" fill="#b244f7"/>
<circle cx="1019.8" cy="1761.1" r="4.6" fill="#b244f7"/>
<circle cx="1006.9" cy="1772.6" r="4.6" fill="#b244f7"/>
<circle cx="1027.6" cy="1758.1" r="4.6" fill="#b244f7"/>
<circle cx="1040.2" cy="1768.4" r="4.6" fill="#b244f7"/>
<circle cx="1011.1" cy="1740.9" r="4.6" fill="#b244f7"/>
<circle cx="1051.2" cy="1744.9" r="4.6" fill="#b244f7"/>
<circle cx="1086.6" cy="1724.4" r="4.6" fill="#b244f7"/>
<circle cx="1032.9" cy="1715.7" r="4.6" fill="#b244f7"/>
<circle cx="1013.2" cy="1774.9" r="4.6" fill="#b244f7"/>
<circle cx="1059.9" cy="1741.4" r="4.6" fill="#b244f7"/>
<circle cx="1088.7" cy="1765.0" r="4.6" fill="#b244f7"/>
<circle cx="1079.1" cy="1804.2" r="4.6" fill="#b244f7"/>
<circle cx="1086.7" cy="1711.1" r="4.6" fill="#b244f7"/>
<circle cx="1082.0" cy="1793.4" r="4.6" fill="#b244f7"/>
<circle cx="1059.4" cy="1710.2" r="4.6" fill="#b244f7"/>
<circle cx="1085.4" cy="1767.8" r="4.6" fill="#b244f7"/>
<circle cx="1043.4" cy="1720.3" r="4.6" fill="#b244f7"/>
<circle cx="1013.5" cy="1744.4" r="4.6" fill="#b244f7"/>
<circle cx="1069.8" cy="1774.1" r="4.6" fill="#b244f7"/>
<circle cx="1062.5" cy="1705.7" r="4.6" fill="#b244f7"/>
<circle cx="997.1" cy="1773.0" r="4.6" fill="#b244f7"/>
<circle cx="1078.4" cy="1795.2" r="4.6" fill="#b244f7"/>
<circle cx="1073.7" cy="1765.1" r="4.6" fill="#b244f7"/>
<circle cx="1039.2" cy="1782.4" r="4.6" fill="#b244f7"/>
<circle cx="1089.4" cy="1771.1" r="4.6" fill="#b244f7"/>
<circle cx="1061.5" cy="1755.1" r="4.6" fill="#b244f7"/>
<circle cx="997.7" cy="1761.4" r="4.6" fill="#b244f7"/>
<circle cx="1046.9" cy="1751.7" r="4.6" fill="#b244f7"/>
<circle cx="1029.7" cy="1787.5" r="4.6" fill="#b244f7"/>
<circle cx="1004.1" cy="1755.1" r="4.6" fill="#b244f7"/>
<circle cx="1007.0" cy="1752.6" r="4.6" fill="#b244f7"/>
<circle cx="1059.3" cy="1775.0" r="4.6" fill="#b244f7"/>
<circle cx="1083.8" cy="1738.4" r="4.6" fill="#b244f7"/>
<circle cx="1086.5" cy="1806.8" r="4.6" fill="#b244f7"/>
<circle cx="1075.8" cy="1800.6" r="4.6" fill="#b244f7"/>
<circle cx="1064.2" cy="1802.0" r="4.6" fill="#b244f7"/>
<circle cx="1089.5" cy="1801.4" r="4.6" fill="#b244f7"/>
<circle cx="1084.0" cy="1779.8" r="4.6" fill="#b244f7"/>
<circle cx="1088.6" cy="1687.2" r="4.6" fill="#b244f7"/>
<circle cx="1036.5" cy="1787.4" r="4.6" fill="#b244f7"/>
<circle cx="1072.1" cy="1782.3" r="4.6" fill="#b244f7"/>
<circle cx="1062.0" cy="1798.1" r="4.6" fill="#b244f7"/>
<circle cx="1010.1" cy="1738.7" r="4.6" fill="#b244f7"/>
<circle cx="1052.0" cy="1765.8" r="4.6" fill="#b244f7"/>
<circle cx="1085.0" cy="1805.0" r="4.6" fill="#b244f7"/>
<circle cx="1064.0" cy="1788.7" r="4.6" fill="#b244f7"/>
<circle cx="1012.4" cy="1778.3" r="4.6" fill="#b244f7"/>
<circle cx="1088.7" cy="1669.5" r="4.6" fill="#b244f7"/>
<circle cx="1045.6" cy="1790.8" r="4.6" fill="#b244f7"/>
<circle cx="1044.1" cy="1794.1" r="4.6" fill="#b244f7"/>
<circle cx="1045.6" cy="1705.1" r="4.6" fill="#b244f7"/>
<circle cx="1008.4" cy="1757.1" r="4.6" fill="#b244f7"/>
<circle cx="1071.3" cy="1780.0" r="4.6" fill="#b244f7"/>
<circle cx="1079.1" cy="1715.5" r="4.6" fill="#b244f7"/>
<circle cx="1045.2" cy="1732.8" r="4.6" fill="#b244f7"/>
<circle cx="1065.2" cy="1792.5" r="4.6" fill="#b244f7"/>
<circle cx="1014.4" cy="1734.9" r="4.6" fill="#b244f7"/>
<circle cx="1009.6" cy="1750.6" r="4.6" fill="#b244f7"/>
<circle cx="1013.6" cy="1752.4" r="4.6" fill="#b244f7"/>
<circle cx="1074.3" cy="1760.4" r="4.6" fill="#b244f7"/>
<circle cx="1062.8" cy="1802.1" r="4.6" fill="#b244f7"/>
<circle cx="1088.4" cy="1789.2" r="4.6" fill="#b244f7"/>
<circle cx="1071.5" cy="1733.6" r="4.6" fill="#b244f7"/>
<circle cx="997.3" cy="1767.9" r="4.6" fill="#b244f7"/>
<circle cx="999.6" cy="1749.4" r="4.6" fill="#b244f7"/>
<circle cx="997.4" cy="1769.6" r="4.6" fill="#b244f7"/>
<circle cx="1074.8" cy="1795.1" r="4.6" fill="#b244f7"/>
<circle cx="1076.8" cy="1797.6" r="4.6" fill="#b244f7"/>
<circle cx="1035.4" cy="1724.4" r="4.6" fill="#b244f7"/>
<circle cx="1011.0" cy="1766.9" r="4.6" fill="#b244f7"/>
<circle cx="1032.3" cy="1737.7" r="4.6" fill="#b244f7"/>
<circle cx="1085.1" cy="1733.0" r="4.6" fill="#b244f7"/>
<circle cx="1002.9" cy="1755.7" r="4.6" fill="#b244f7"/>
<circle cx="1021.4" cy="1766.8" r="4.6" fill="#b244f7"/>
<circle cx="1078.2" cy="1712.8" r="4.6" fill="#b244f7"/>
<circle cx="1064.9" cy="1718.4" r="4.6" fill="#b244f7"/>
<circle cx="995.4" cy="1768.8" r="4.6" fill="#b244f7"/>
<circle cx="1058.4" cy="1698.2" r="4.6" fill="#b244f7"/>
<circle cx="1024.3" cy="1782.2" r="4.6" fill="#b244f7"/>
<circle cx="1082.2" cy="1801.8" r="4.6" fill="#b244f7"/>
<circle cx="1003.5" cy="1754.3" r="4.6" fill="#b244f7"/>
<circle cx="1080.7" cy="1703.5" r="4.6" fill="#b244f7"/>
<circle cx="994.4" cy="1763.4" r="4.6" fill="#b244f7"/>
<circle cx="1063.2" cy="1757.2" r="4.6" fill="#b244f7"/>
<circle cx="1081.9" cy="1808.6" r="4.6" fill="#b244f7"/>
<circle cx="995.5" cy="1763.2" r="4.6" fill="#b244f7"/>
<circle cx="1045.8" cy="1711.4" r="4.6" fill="#b244f7"/>
<circle cx="1055.2" cy="1713.2" r="4.6" fill="#b244f7"/>
<circle cx="1012.7" cy="1777.1" r="4.6" fill="#b244f7"/>
<circle cx="1072.1" cy="1788.1" r="4.6" fill="#b244f7"/>
<circle cx="1073.1" cy="1750.3" r="4.6" fill="#b244f7"/>
<circle cx="1071.5" cy="1773.7" r="4.6" fill="#b244f7"/>
<circle cx="1081.9" cy="1685.0" r="4.6" fill="#b244f7"/>
<circle cx="1062.9" cy="1768.6" r="4.6" fill="#b244f7"/>
<circle cx="1039.8" cy="1720.4" r="4.6" fill="#b244f7"/>
<circle cx="1056.5" cy="1704.8" r="4.6" fill="#b244f7"/>
<circle cx="1048.4" cy="1760.9" r="4.6" fill="#b244f7"/>
<circle cx="1046.1" cy="1795.1" r="4.6" fill="#b244f7"/>
<circle cx="1054.6" cy="1791.9" r="4.6" fill="#b244f7"/>
<circle cx="1089.5" cy="1702.8" r="4.6" fill="#b244f7"/>
<circle cx="1078.7" cy="1766.2" r="4.6" fill="#b244f7"/>
<circle cx="1024.3" cy="1761.5" r="4.6" fill="#b244f7"/>
<circle cx="1065.5" cy="1761.0" r="4.6" fill="#b244f7"/>
<circle cx="1042.8" cy="1733.5" r="4.6" fill="#b244f7"/>
<circle cx="1083.6" cy="1751.1" r="4.6" fill="#b244f7"/>
<circle cx="1072.4" cy="1789.7" r="4.6" fill="#b244f7"/>
<circle cx="1018.9" cy="1765.2" r="4.6" fill="#b244f7"/>
<circle cx="1042.1" cy="1736.8" r="4.6" fill="#b244f7"/>
<circle cx="1002.5" cy="1768.1" r="4.6" fill="#b244f7"/>
<circle cx="1036.7" cy="1764.3" r="4.6" fill="#b244f7"/>
<circle cx="1047.3" cy="1742.7" r="4.6" fill="#b244f7"/>
<circle cx="1053.4" cy="1760.2" r="4.6" fill="#b244f7"/>
<circle cx="1050.8" cy="1705.9" r="4.6" fill="#b244f7"/>
<circle cx="1027.2" cy="1733.4" r="4.6" fill="#b244f7"/>
<circle cx="999.0" cy="1772.0" r="4.6" fill="#b244f7"/>
<circle cx="1042.3" cy="1713.1" r="4.6" fill="#b244f7"/>
<circle cx="1011.1" cy="1778.4" r="4.6" fill="#b244f7"/>
<circle cx="1082.5" cy="1769.6" r="4.6" fill="#b244f7"/>
<circle cx="1085.9" cy="1793.6" r="4.6" fill="#b244f7"/>
<circle cx="1085.8" cy="1730.9" r="4.6" fill="#b244f7"/>
<circle cx="1017.6" cy="1738.9" r="4.6" fill="#b244f7"/>
<circle cx="1080.1" cy="1725.5" r="4.6" fill="#b244f7"/>
<circle cx="1031.5" cy="1785.7" r="4.6" fill="#b244f7"/>
<circle cx="1006.1" cy="1744.2" r="4.6" fill="#b244f7"/>
<circle cx="1074.9" cy="1682.1" r="4.6" fill="#b244f7"/>
<circle cx="1058.7" cy="1765.2" r="4.6" fill="#b244f7"/>
<circle cx="993.2" cy="1759.8" r="4.6" fill="#b244f7"/>
<circle cx="1079.6" cy="1771.9" r="4.6" fill="#b244f7"/>
<circle cx="1046.9" cy="1778.8" r="4.6" fill="#b244f7"/>
<circle cx="1076.8" cy="1786.4" r="4.6" fill="#b244f7"/>
<circle cx="1024.6" cy="1785.9" r="4.6" fill="#b244f7"/>
<circle cx="1042.9" cy="1769.9" r="4.6" fill="#b244f7"/>
<circle cx="1088.9" cy="1783.0" r="4.6" fill="#b244f7"/>
<circle cx="1035.5" cy="1763.8" r="4.6" fill="#b244f7"/>
<circle cx="1086.4" cy="1663.7" r="4.6" fill="#b244f7"/>
<circle cx="1017.1" cy="1733.4" r="4.6" fill="#b244f7"/>
<circle cx="1083.7" cy="1791.3" r="4.6" fill="#b244f7"/>
<circle cx="1087.8" cy="1708.2" r="4.6" fill="#b244f7"/>
<circle cx="1070.5" cy="1800.9" r="4.6" fill="#b244f7"/>
<circle cx="1056.3" cy="1705.9" r="4.6" fill="#b244f7"/>
<circle cx="1013.5" cy="1775.9" r="4.6" fill="#b244f7"/>
<circle cx="1080.5" cy="1684.2" r="4.6" fill="#b244f7"/>
<circle cx="1041.2" cy="1744.1" r="4.6" fill="#b244f7"/>
<circle cx="1084.8" cy="1807.3" r="4.6" fill="#b244f7"/>
<circle cx="1028.4" cy="1770.3" r="4.6" fill="#b244f7"/>
<circle cx="1085.9" cy="1675.1" r="4.6" fill="#b244f7"/>
<circle cx="1034.3" cy="1736.3" r="4.6" fill="#b244f7"/>
<circle cx="1085.2" cy="1693.9" r="4.6" fill="#b244f7"/>
<circle cx="1086.2" cy="1691.6" r="4.6" fill="#b244f7"/>
<circle cx="1053.2" cy="1779.9" r="4.6" fill="#b244f7"/>
<circle cx="1043.0" cy="1714.8" r="4.6" fill="#b244f7"/>
<circle cx="1070.8" cy="1801.0" r="4.6" fill="#b244f7"/>
<circle cx="1045.8" cy="1785.7" r="4.6" fill="#b244f7"/>
<circle cx="1083.4" cy="1800.9" r="4.6" fill="#b244f7"/>
<circle cx="1087.2" cy="1797.3" r="4.6" fill="#b244f7"/>
<circle cx="1066.8" cy="1785.7" r="4.6" fill="#b244f7"/>
<circle cx="1020.4" cy="1776.4" r="4.6" fill="#b244f7"/>
<circle cx="1048.5" cy="1790.2" r="4.6" fill="#b244f7"/>
<circle cx="1063.6" cy="1802.6" r="4.6" fill="#b244f7"/>
<circle cx="1072.3" cy="1806.4" r="4.6" fill="#b244f7"/>
<circle cx="1023.4" cy="1762.0" r="4.6" fill="#b244f7"/>
<circle cx="1077.4" cy="1766.5" r="4.6" fill="#b244f7"/>
<circle cx="999.9" cy="1774.6" r="4.6" fill="#b244f7"/>
<circle cx="1013.5" cy="1769.1" r="4.6" fill="#b244f7"/>
<circle cx="1049.0" cy="1723.0" r="4.6" fill="#b244f7"/>
<circle cx="1059.2" cy="1762.9" r="4.6" fill="#b244f7"/>
<circle cx="1028.4" cy="1721.3" r="4.6" fill="#b244f7"/>
<circle cx="1064.0" cy="1713.6" r="4.6" fill="#b244f7"/>
<circle cx="1026.3" cy="1755.2" r="4.6" fill="#b244f7"/>
<circle cx="1058.1" cy="1779.9" r="4.6" fill="#b244f7"/>
<circle cx="1087.0" cy="1803.1" r="4.6" fill="#b244f7"/>
<circle cx="1086.0" cy="1717.1" r="4.6" fill="#b244f7"/>
<circle cx="1071.8" cy="1799.2" r="4.6" fill="#b244f7"/>
<circle cx="1085.1" cy="1697.1" r="4.6" fill="#b244f7"/>
<circle cx="1007.5" cy="1758.7" r="4.6" fill="#b244f7"/>
<circle cx="1069.5" cy="1792.2" r="4.6" fill="#b244f7"/>
<circle cx="1068.5" cy="1768.5" r="4.6" fill="#b244f7"/>
<circle cx="1079.9" cy="1769.8" r="4.6" fill="#b244f7"/>
<circle cx="1071.2" cy="1683.7" r="4.6" fill="#b244f7"/>
<circle cx="995.3" cy="1765.7" r="4.6" fill="#b244f7"/>
<circle cx="1072.8" cy="1681.3" r="4.6" fill="#b244f7"/>
<circle cx="1067.0" cy="1780.5" r="4.6" fill="#b244f7"/>
<circle cx="1089.5" cy="1776.3" r="4.6" fill="#b244f7"/>
<circle cx="1051.1" cy="1763.8" r="4.6" fill="#b244f7"/>
<circle cx="1076.4" cy="1762.2" r="4.6" fill="#b244f7"/>
<circle cx="1089.4" cy="1790.8" r="4.6" fill="#b244f7"/>
<circle cx="1084.8" cy="1775.0" r="4.6" fill="#b244f7"/>
<circle cx="1087.7" cy="1808.5" r="4.6" fill="#b244f7"/>
<circle cx="1067.5" cy="1792.4" r="4.6" fill="#b244f7"/>
<circle cx="1039.6" cy="1762.0" r="4.6" fill="#b244f7"/>
<circle cx="1021.4" cy="1755.0" r="4.6" fill="#b244f7"/>
<circle cx="1025.3" cy="1734.5" r="4.6" fill="#b244f7"/>
<circle cx="1059.5" cy="1782.2" r="4.6" fill="#b244f7"/>
<circle cx="993.8" cy="1771.8" r="4.6" fill="#b244f7"/>
<circle cx="1024.4" cy="1755.1" r="4.6" fill="#b244f7"/>
<circle cx="1087.6" cy="1696.5" r="4.6" fill="#b244f7"/>
<circle cx="1005.0" cy="1761.3" r="4.6" fill="#b244f7"/>
<circle cx="1023.3" cy="1741.9" r="4.6" fill="#b244f7"/>
<circle cx="1081.2" cy="1757.9" r="4.6" fill="#b244f7"/>
<circle cx="1048.1" cy="1723.6" r="4.6" fill="#b244f7"/>
<circle cx="1015.2" cy="1745.9" r="4.6" fill="#b244f7"/>
<circle cx="1039.7" cy="1721.9" r="4.6" fill="#b244f7"/>
<circle cx="1029.0" cy="1749.5" r="4.6" fill="#b244f7"/>
<circle cx="1074.0" cy="1806.8" r="4.6" fill="#b244f7"/>
<circle cx="1081.7" cy="1780.7" r="4.6" fill="#b244f7"/>
<circle cx="1083.7" cy="1699.3" r="4.6" fill="#b244f7"/>
<circle cx="1042.4" cy="1751.7" r="4.6" fill="#b244f7"/>
<circle cx="1035.2" cy="1748.4" r="4.6" fill="#b244f7"/>
<circle cx="1049.6" cy="1796.8" r="4.6" fill="#b244f7"/>
<circle cx="1016.0" cy="1750.8" r="4.6" fill="#b244f7"/>
<circle cx="1048.2" cy="1760.5" r="4.6" fill="#b244f7"/>
<circle cx="1031.6" cy="1788.1" r="4.6" fill="#b244f7"/>
<circle cx="1023.0" cy="1778.6" r="4.6" fill="#b244f7"/>
<circle cx="1085.8" cy="1791.1" r="4.6" fill="#b244f7"/>
<circle cx="1023.8" cy="1780.8" r="4.6" fill="#b244f7"/>
<circle cx="1022.6" cy="1727.7" r="4.6" fill="#b244f7"/>
<circle cx="1049.2" cy="1775.5" r="4.6" fill="#b244f7"/>
<circle cx="1050.7" cy="1742.5" r="4.6" fill="#b244f7"/>
<circle cx="1019.5" cy="1758.3" r="4.6" fill="#b244f7"/>
<circle cx="1033.4" cy="1788.5" r="4.6" fill="#b244f7"/>
<circle cx="1080.6" cy="1792.9" r="4.6" fill="#b244f7"/>
<circle cx="1022.2" cy="1776.1" r="4.6" fill="#b244f7"/>
<circle cx="1041.5" cy="1793.2" r="4.6" fill="#b244f7"/>
<circle cx="1086.6" cy="1790.6" r="4.6" fill="#b244f7"/>
<circle cx="1030.2" cy="1749.1" r="4.6" fill="#b244f7"/>
<circle cx="1029.8" cy="1778.5" r="4.6" fill="#b244f7"/>
<circle cx="1046.8" cy="1767.7" r="4.6" fill="#b244f7"/>
<circle cx="1052.0" cy="1794.4" r="4.6" fill="#b244f7"/>
<circle cx="1004.8" cy="1774.9" r="4.6" fill="#b244f7"/>
<circle cx="994.7" cy="1755.9" r="4.6" fill="#b244f7"/>
<circle cx="1088.9" cy="1765.3" r="4.6" fill="#b244f7"/>
<circle cx="1013.4" cy="1737.1" r="4.6" fill="#b244f7"/>
<circle cx="1053.6" cy="1785.7" r="4.6" fill="#b244f7"/>
<circle cx="1075.7" cy="1682.9" r="4.6" fill="#b244f7"/>
<circle cx="1075.6" cy="1750.6" r="4.6" fill="#b244f7"/>
<circle cx="1081.1" cy="1757.9" r="4.6" fill="#b244f7"/>
<circle cx="997.7" cy="1773.4" r="4.6" fill="#b244f7"/>
<circle cx="1013.4" cy="1765.4" r="4.6" fill="#b244f7"/>
<circle cx="1005.6" cy="1757.9" r="4.6" fill="#b244f7"/>
<circle cx="1073.9" cy="1694.3" r="4.6" fill="#b244f7"/>
<circle cx="1049.9" cy="1796.7" r="4.6" fill="#b244f7"/>
<circle cx="1089.5" cy="1760.1" r="4.6" fill="#b244f7"/>
<circle cx="1053.5" cy="1783.1" r="4.6" fill="#b244f7"/>
<circle cx="1081.1" cy="1782.8" r="4.6" fill="#b244f7"/>
<circle cx="1066.4" cy="1710.6" r="4.6" fill="#b244f7"/>
<circle cx="1089.5" cy="1712.9" r="4.6" fill="#b244f7"/>
<circle cx="1011.2" cy="1778.7" r="4.6" fill="#b244f7"/>
<circle cx="1000.9" cy="1759.4" r="4.6" fill="#b244f7"/>
<circle cx="1003.8" cy="1772.5" r="4.6" fill="#b244f7"/>
<circle cx="1061.2" cy="1775.8" r="4.6" fill="#b244f7"/>
<circle cx="992.1" cy="1765.3" r="4.6" fill="#b244f7"/>
<circle cx="1062.3" cy="1772.1" r="4.6" fill="#b244f7"/>
<circle cx="1070.1" cy="1804.7" r="4.6" fill="#b244f7"/>
<circle cx="1083.9" cy="1699.4" r="4.6" fill="#b244f7"/>
<circle cx="1069.2" cy="1690.7" r="4.6" fill="#b244f7"/>
<circle cx="1072.4" cy="1790.8" r="4.6" fill="#b244f7"/>
<circle cx="1047.4" cy="1789.1" r="4.6" fill="#b244f7"/>
<circle cx="1061.1" cy="1694.1" r="4.6" fill="#b244f7"/>
<circle cx="1005.9" cy="1752.5" r="4.6" fill="#b244f7"/>
<circle cx="1034.7" cy="1723.5" r="4.6" fill="#b244f7"/>
<circle cx="999.2" cy="1765.2" r="4.6" fill="#b244f7"/>
<circle cx="1024.9" cy="1785.6" r="4.6" fill="#b244f7"/>
<circle cx="1023.5" cy="1768.5" r="4.6" fill="#b244f7"/>
<circle cx="1021.2" cy="1756.0" r="4.6" fill="#b244f7"/>
<circle cx="1069.1" cy="1804.2" r="4.6" fill="#b244f7"/>
<circle cx="1000.8" cy="1774.7" r="4.6" fill="#b244f7"/>
<circle cx="1051.4" cy="1779.2" r="4.6" fill="#b244f7"/>
<circle cx="1068.1" cy="1727.2" r="4.6" fill="#b244f7"/>
<circle cx="994.9" cy="1770.9" r="4.6" fill="#b244f7"/>
<circle cx="1032.0" cy="1778.4" r="4.6" fill="#b244f7"/>
<circle cx="1042.6" cy="1773.7" r="4.6" fill="#b244f7"/>
<circle cx="1079.1" cy="1801.2" r="4.6" fill="#b244f7"/>
<circle cx="1075.9" cy="1691.0" r="4.6" fill="#b244f7"/>
<circle cx="1048.8" cy="1787.8" r="4.6" fill="#b244f7"/>
<circle cx="1003.3" cy="1745.3" r="4.6" fill="#b244f7"/>
<circle cx="1053.6" cy="1794.0" r="4.6" fill="#b244f7"/>
<circle cx="1077.1" cy="1805.7" r="4.6" fill="#b244f7"/>
<circle cx="1064.0" cy="1800.4" r="4.6" fill="#b244f7"/>
<circle cx="1073.2" cy="1791.7" r="4.6" fill="#b244f7"/>
<circle cx="1041.3" cy="1721.5" r="4.6" fill="#b244f7"/>
<circle cx="1021.5" cy="1770.5" r="4.6" fill="#b244f7"/>
<circle cx="1057.2" cy="1760.9" r="4.6" fill="#b244f7"/>
<circle cx="1060.7" cy="1781.3" r="4.6" fill="#b244f7"/>
<circle cx="1086.5" cy="1789.7" r="4.6" fill="#b244f7"/>
<circle cx="995.9" cy="1772.8" r="4.6" fill="#b244f7"/>
<circle cx="1048.2" cy="1750.0" r="4.6" fill="#b244f7"/>
<circle cx="1008.4" cy="1775.6" r="4.6" fill="#b244f7"/>
<circle cx="1070.5" cy="1791.9" r="4.6" fill="#b244f7"/>
<circle cx="1058.5" cy="1769.9" r="4.6" fill="#b244f7"/>
<circle cx="997.6" cy="1756.4" r="4.6" fill="#b244f7"/>
<circle cx="1007.2" cy="1778.4" r="4.6" fill="#b244f7"/>
<circle cx="1088.2" cy="1721.9" r="4.6" fill="#b244f7"/>
<circle cx="1004.5" cy="1767.2" r="4.6" fill="#b244f7"/>
<circle cx="1039.4" cy="1792.4" r="4.6" fill="#b244f7"/>
<circle cx="1059.3" cy="1700.8" r="4.6" fill="#b244f7"/>
<circle cx="1012.8" cy="1745.5" r="4.6" fill="#b244f7"/>
<circle cx="995.4" cy="1771.2" r="4.6" fill="#b244f7"/>
<circle cx="1083.4" cy="1801.5" r="4.6" fill="#b244f7"/>
<circle cx="1046.2" cy="1744.3" r="4.6" fill="#b244f7"/>
<circle cx="999.1" cy="1759.8" r="4.6" fill="#b244f7"/>
<circle cx="1032.9" cy="1740.9" r="4.6" fill="#b244f7"/>
<circle cx="1052.9" cy="1758.2" r="4.6" fill="#b244f7"/>
<circle cx="1087.8" cy="1707.5" r="4.6" fill="#b244f7"/>
<circle cx="1073.8" cy="1689.9" r="4.6" fill="#b244f7"/>
<circle cx="1033.1" cy="1778.5" r="4.6" fill="#b244f7"/>
<circle cx="1082.1" cy="1792.9" r="4.6" fill="#b244f7"/>
<circle cx="1034.1" cy="1747.0" r="4.6" fill="#b244f7"/>
<circle cx="1083.2" cy="1806.7" r="4.6" fill="#b244f7"/>
<circle cx="1046.0" cy="1755.7" r="4.6" fill="#b244f7"/>
<circle cx="1059.7" cy="1790.8" r="4.6" fill="#b244f7"/>
<circle cx="1037.9" cy="1791.7" r="4.6" fill="#b244f7"/>
<circle cx="1067.8" cy="1768.4" r="4.6" fill="#b244f7"/>
<circle cx="997.0" cy="1762.9" r="4.6" fill="#b244f7"/>
<circle cx="1006.0" cy="1767.1" r="4.6" fill="#b244f7"/>
<circle cx="1073.6" cy="1792.9" r="4.6" fill="#b244f7"/>
<circle cx="996.8" cy="1761.3" r="4.6" fill="#b244f7"/>
<circle cx="1067.2" cy="1804.1" r="4.6" fill="#b244f7"/>
<circle cx="1048.7" cy="1744.4" r="4.6" fill="#b244f7"/>
<circle cx="1056.6" cy="1787.4" r="4.6" fill="#b244f7"/>
<circle cx="1030.7" cy="1725.5" r="4.6" fill="#b244f7"/>
<circle cx="1074.3" cy="1806.9" r="4.6" fill="#b244f7"/>
<circle cx="1064.4" cy="1773.1" r="4.6" fill="#b244f7"/>
<circle cx="1029.0" cy="1782.7" r="4.6" fill="#b244f7"/>
<circle cx="1016.1" cy="1751.3" r="4.6" fill="#b244f7"/>
<circle cx="1048.0" cy="1788.4" r="4.6" fill="#b244f7"/>
<circle cx="995.7" cy="1770.3" r="4.6" fill="#b244f7"/>
<circle cx="1013.4" cy="1776.7" r="4.6" fill="#b244f7"/>
<circle cx="1074.7" cy="1720.2" r="4.6" fill="#b244f7"/>
<circle cx="1068.3" cy="1688.2" r="4.6" fill="#b244f7"/>
<circle cx="1049.0" cy="1789.8" r="4.6" fill="#b244f7"/>
<circle cx="1074.6" cy="1774.2" r="4.6" fill="#b244f7"/>
<circle cx="1030.9" cy="1722.7" r="4.6" fill="#b244f7"/>
<circle cx="1080.7" cy="1776.7" r="4.6" fill="#b244f7"/>
<circle cx="1075.4" cy="1677.0" r="4.6" fill="#b244f7"/>
<circle cx="1081.1" cy="1807.5" r="4.6" fill="#b244f7"/>
<circle cx="1086.6" cy="1775.4" r="4.6" fill="#b244f7"/>
<circle cx="1004.2" cy="1750.1" r="4.6" fill="#b244f7"/>
<circle cx="1023.4" cy="1724.8" r="4.6" fill="#b244f7"/>
<circle cx="1000.3" cy="1770.9" r="4.6" fill="#b244f7"/>
<circle cx="1077.7" cy="1683.2" r="4.6" fill="#b244f7"/>
<circle cx="1021.9" cy="1784.6" r="4.6" fill="#b244f7"/>
<circle cx="1031.0" cy="1773.6" r="4.6" fill="#b244f7"/>
<circle cx="1061.0" cy="1782.0" r="4.6" fill="#b244f7"/>
<circle cx="1079.0" cy="1808.8" r="4.6" fill="#b244f7"/>
<circle cx="1069.7" cy="1781.4" r="4.6" fill="#b244f7"/>
<circle cx="997.4" cy="1773.4" r="4.6" fill="#b244f7"/>
<circle cx="996.3" cy="1772.0" r="4.6" fill="#b244f7"/>
<circle cx="1062.7" cy="1716.3" r="4.6" fill="#b244f7"/>
<circle cx="1013.2" cy="1769.0" r="4.6" fill="#b244f7"/>
<circle cx="1087.3" cy="1763.6" r="4.6" fill="#b244f7"/>
<circle cx="1061.1" cy="1700.6" r="4.6" fill="#b244f7"/>
<circle cx="1077.1" cy="1781.1" r="4.6" fill="#b244f7"/>
<circle cx="1004.4" cy="1777.1" r="4.6" fill="#b244f7"/>
<circle cx="1057.5" cy="1721.1" r="4.6" fill="#b244f7"/>
<circle cx="1019.6" cy="1783.5" r="4.6" fill="#b244f7"/>
<circle cx="1088.1" cy="1807.0" r="4.6" fill="#b244f7"/>
<circle cx="1001.6" cy="1772.7" r="4.6" fill="#b244f7"/>
<circle cx="1021.8" cy="1735.5" r="4.6" fill="#b244f7"/>
<circle cx="1064.3" cy="1788.1" r="4.6" fill="#b244f7"/>
<circle cx="997.1" cy="1763.6" r="4.6" fill="#b244f7"/>
<circle cx="1071.2" cy="1729.6" r="4.6" fill="#b244f7"/>
<circle cx="1066.4" cy="1788.4" r="4.6" fill="#b244f7"/>
<circle cx="1089.5" cy="1711.9" r="4.6" fill="#b244f7"/>
<circle cx="1002.1" cy="1761.9" r="4.6" fill="#b244f7"/>
<circle cx="998.9" cy="1774.8" r="4.6" fill="#b244f7"/>
<circle cx="1073.7" cy="1766.5" r="4.6" fill="#b244f7"/>
<circle cx="997.2" cy="1753.0" r="4.6" fill="#b244f7"/>
<circle cx="1059.8" cy="1788.7" r="4.6" fill="#b244f7"/>
<circle cx="1055.6" cy="1764.6" r="4.6" fill="#b244f7"/>
<circle cx="1000.7" cy="1773.8" r="4.6" fill="#b244f7"/>
<circle cx="1015.4" cy="1751.7" r="4.6" fill="#b244f7"/>
<circle cx="1013.1" cy="1750.6" r="4.6" fill="#b244f7"/>
<circle cx="1037.3" cy="1777.9" r="4.6" fill="#b244f7"/>
<circle cx="1066.1" cy="1779.8" r="4.6" fill="#b244f7"/>
<circle cx="1017.8" cy="1782.1" r="4.6" fill="#b244f7"/>
<circle cx="1076.7" cy="1720.6" r="4.6" fill="#b244f7"/>
<circle cx="1072.5" cy="1805.1" r="4.6" fill="#b244f7"/>
<circle cx="1088.1" cy="1750.6" r="4.6" fill="#b244f7"/>
<circle cx="1065.5" cy="1685.4" r="4.6" fill="#b244f7"/>
<circle cx="1006.0" cy="1743.1" r="4.6" fill="#b244f7"/>
<circle cx="1071.0" cy="1803.6" r="4.6" fill="#b244f7"/>
<circle cx="1084.3" cy="1760.7" r="4.6" fill="#b244f7"/>
<circle cx="1026.0" cy="1768.8" r="4.6" fill="#b244f7"/>
<circle cx="1073.7" cy="1774.2" r="4.6" fill="#b244f7"/>
<circle cx="1035.8" cy="1748.8" r="4.6" fill="#b244f7"/>
<circle cx="1021.7" cy="1740.0" r="4.6" fill="#b244f7"/>
<circle cx="1031.0" cy="1786.3" r="4.6" fill="#b244f7"/>
<circle cx="1011.0" cy="1774.1" r="4.6" fill="#b244f7"/>
<circle cx="1041.6" cy="1775.3" r="4.6" fill="#b244f7"/>
<circle cx="1022.8" cy="1780.7" r="4.6" fill="#b244f7"/>
<circle cx="1072.5" cy="1792.7" r="4.6" fill="#b244f7"/>
<circle cx="1080.2" cy="1692.0" r="4.6" fill="#b244f7"/>
<circle cx="1040.4" cy="1778.5" r="4.6" fill="#b244f7"/>
<circle cx="1058.9" cy="1689.7" r="4.6" fill="#b244f7"/>
<circle cx="1047.8" cy="1786.7" r="4.6" fill="#b244f7"/>
<circle cx="1014.8" cy="1757.3" r="4.6" fill="#b244f7"/>
<circle cx="993.1" cy="1771.9" r="4.6" fill="#b244f7"/>
<circle cx="1051.1" cy="1723.9" r="4.6" fill="#b244f7"/>
<circle cx="1011.0" cy="1743.0" r="4.6" fill="#b244f7"/>
<circle cx="1087.8" cy="1787.7" r="4.6" fill="#b244f7"/>
<circle cx="1082.7" cy="1798.7" r="4.6" fill="#b244f7"/>
<circle cx="995.3" cy="1764.9" r="4.6" fill="#b244f7"/>
<circle cx="1000.4" cy="1769.9" r="4.6" fill="#b244f7"/>
<circle cx="1008.0" cy="1768.1" r="4.6" fill="#b244f7"/>
<circle cx="1071.4" cy="1718.8" r="4.6" fill="#b244f7"/>
<circle cx="998.6" cy="1774.0" r="4.6" fill="#b244f7"/>
<circle cx="1038.4" cy="1753.5" r="4.6" fill="#b244f7"/>
<circle cx="1075.0" cy="1780.2" r="4.6" fill="#b244f7"/>
<circle cx="1081.1" cy="1797.5" r="4.6" fill="#b244f7"/>
<circle cx="1071.9" cy="1748.5" r="4.6" fill="#b244f7"/>
<circle cx="1032.4" cy="1783.6" r="4.6" fill="#b244f7"/>
<circle cx="1089.2" cy="1783.4" r="4.6" fill="#b244f7"/>
<circle cx="1029.5" cy="1783.4" r="4.6" fill="#b244f7"/>
<circle cx="1066.8" cy="1794.5" r="4.6" fill="#b244f7"/>
<circle cx="1016.3" cy="1763.1" r="4.6" fill="#b244f7"/>
<circle cx="1086.5" cy="1805.0" r="4.6" fill="#b244f7"/>
<circle cx="1059.0" cy="1757.6" r="4.6" fill="#b244f7"/>
<circle cx="1033.8" cy="1788.3" r="4.6" fill="#b244f7"/>
<circle cx="1079.4" cy="1729.7" r="4.6" fill="#b244f7"/>
<circle cx="1057.6" cy="1785.5" r="4.6" fill="#b244f7"/>
<circle cx="1067.2" cy="1689.0" r="4.6" fill="#b244f7"/>
<circle cx="1066.8" cy="1754.3" r="4.6" fill="#b244f7"/>
<circle cx="1062.6" cy="1773.4" r="4.6" fill="#b244f7"/>
<circle cx="1008.3" cy="1740.3" r="4.6" fill="#b244f7"/>
<circle cx="1062.0" cy="1793.4" r="4.6" fill="#b244f7"/>
<circle cx="1023.9" cy="1780.9" r="4.6" fill="#b244f7"/>
<circle cx="1089.4" cy="1680.3" r="4.6" fill="#b244f7"/>
<circle cx="1056.2" cy="1720.6" r="4.6" fill="#b244f7"/>
<circle cx="1057.9" cy="1709.4" r="4.6" fill="#b244f7"/>
<circle cx="1052.5" cy="1792.4" r="4.6" fill="#b244f7"/>
<circle cx="1089.0" cy="1750.4" r="4.6" fill="#b244f7"/>
<circle cx="1033.6" cy="1724.8" r="4.6" fill="#b244f7"/>
<circle cx="1084.8" cy="1740.0" r="4.6" fill="#b244f7"/>
<circle cx="1061.3" cy="1763.0" r="4.6" fill="#b244f7"/>
<circle cx="1080.8" cy="1789.8" r="4.6" fill="#b244f7"/>
<circle cx="1046.3" cy="1712.1" r="4.6" fill="#b244f7"/>
<circle cx="1083.5" cy="1762.2" r="4.6" fill="#b244f7"/>
<circle cx="1015.2" cy="1735.6" r="4.6" fill="#b244f7"/>
<circle cx="1076.7" cy="1803.5" r="4.6" fill="#b244f7"/>
<circle cx="998.9" cy="1750.6" r="4.6" fill="#b244f7"/>
<circle cx="1050.3" cy="1796.2" r="4.6" fill="#b244f7"/>
<circle cx="952.5" cy="1739.6" r="4.6" fill="#b244f7"/>
<circle cx="955.3" cy="1723.9" r="4.6" fill="#b244f7"/>
<circle cx="965.3" cy="1760.5" r="4.6" fill="#b244f7"/>
<circle cx="970.2" cy="1757.8" r="4.6" fill="#b244f7"/>
<circle cx="1018.3" cy="1729.9" r="4.6" fill="#b244f7"/>
<circle cx="964.7" cy="1758.7" r="4.6" fill="#b244f7"/>
<circle cx="1041.7" cy="1770.3" r="4.6" fill="#b244f7"/>
<circle cx="1004.0" cy="1758.1" r="4.6" fill="#b244f7"/>
<circle cx="1053.7" cy="1785.5" r="4.6" fill="#b244f7"/>
<circle cx="977.9" cy="1712.0" r="4.6" fill="#b244f7"/>
<circle cx="1064.0" cy="1766.5" r="4.6" fill="#b244f7"/>
<circle cx="973.8" cy="1772.3" r="4.6" fill="#b244f7"/>
<circle cx="963.6" cy="1763.0" r="4.6" fill="#b244f7"/>
<circle cx="993.7" cy="1742.5" r="4.6" fill="#b244f7"/>
<circle cx="990.2" cy="1758.8" r="4.6" fill="#b244f7"/>
<circle cx="1016.3" cy="1748.2" r="4.6" fill="#b244f7"/>
<circle cx="1015.6" cy="1742.4" r="4.6" fill="#b244f7"/>
<circle cx="1012.9" cy="1757.4" r="4.6" fill="#b244f7"/>
<circle cx="1066.3" cy="1763.3" r="4.6" fill="#b244f7"/>
<circle cx="1007.5" cy="1770.1" r="4.6" fill="#b244f7"/>
<circle cx="973.0" cy="1718.7" r="4.6" fill="#b244f7"/>
<circle cx="1011.5" cy="1775.5" r="4.6" fill="#b244f7"/>
<circle cx="1009.6" cy="1780.0" r="4.6" fill="#b244f7"/>
<circle cx="1053.0" cy="1772.1" r="4.6" fill="#b244f7"/>
<circle cx="1057.7" cy="1772.9" r="4.6" fill="#b244f7"/>
<circle cx="1004.9" cy="1783.1" r="4.6" fill="#b244f7"/>
<circle cx="989.0" cy="1774.5" r="4.6" fill="#b244f7"/>
<circle cx="976.8" cy="1720.2" r="4.6" fill="#b244f7"/>
<circle cx="1004.8" cy="1782.1" r="4.6" fill="#b244f7"/>
<circle cx="1005.7" cy="1759.2" r="4.6" fill="#b244f7"/>
<circle cx="949.4" cy="1756.6" r="4.6" fill="#b244f7"/>
<circle cx="961.2" cy="1699.0" r="4.6" fill="#b244f7"/>
<circle cx="977.0" cy="1717.6" r="4.6" fill="#b244f7"/>
<circle cx="1044.8" cy="1729.6" r="4.6" fill="#b244f7"/>
<circle cx="1007.2" cy="1718.1" r="4.6" fill="#b244f7"/>
<circle cx="953.8" cy="1756.1" r="4.6" fill="#b244f7"/>
<circle cx="969.9" cy="1706.7" r="4.6" fill="#b244f7"/>
<circle cx="1061.0" cy="1780.6" r="4.6" fill="#b244f7"/>
<circle cx="973.9" cy="1763.7" r="4.6" fill="#b244f7"/>
<circle cx="956.2" cy="1749.1" r="4.6" fill="#b244f7"/>
<circle cx="966.4" cy="1762.1" r="4.6" fill="#b244f7"/>
<circle cx="1005.9" cy="1720.3" r="4.6" fill="#b244f7"/>
<circle cx="1043.0" cy="1780.6" r="4.6" fill="#b244f7"/>
<circle cx="1005.5" cy="1763.3" r="4.6" fill="#b244f7"/>
<circle cx="1064.6" cy="1794.1" r="4.6" fill="#b244f7"/>
<circle cx="1048.9" cy="1734.3" r="4.6" fill="#b244f7"/>
<circle cx="983.6" cy="1714.1" r="4.6" fill="#b244f7"/>
<circle cx="1048.0" cy="1744.8" r="4.6" fill="#b244f7"/>
<circle cx="1054.7" cy="1765.5" r="4.6" fill="#b244f7"/>
<circle cx="989.0" cy="1754.6" r="4.6" fill="#b244f7"/>
<circle cx="959.2" cy="1730.0" r="4.6" fill="#b244f7"/>
<circle cx="996.1" cy="1719.5" r="4.6" fill="#b244f7"/>
<circle cx="1056.0" cy="1732.7" r="4.6" fill="#b244f7"/>
<circle cx="989.9" cy="1752.4" r="4.6" fill="#b244f7"/>
<circle cx="968.7" cy="1754.2" r="4.6" fill="#b244f7"/>
<circle cx="944.4" cy="1723.1" r="4.6" fill="#b244f7"/>
<circle cx="1023.8" cy="1737.8" r="4.6" fill="#b244f7"/>
<circle cx="1013.5" cy="1776.4" r="4.6" fill="#b244f7"/>
<circle cx="975.5" cy="1772.2" r="4.6" fill="#b244f7"/>
<circle cx="965.9" cy="1754.0" r="4.6" fill="#b244f7"/>
<circle cx="988.7" cy="1709.5" r="4.6" fill="#b244f7"/>
<circle cx="995.4" cy="1735.0" r="4.6" fill="#b244f7"/>
<circle cx="1029.8" cy="1794.7" r="4.6" fill="#b244f7"/>
<circle cx="1065.0" cy="1796.6" r="4.6" fill="#b244f7"/>
<circle cx="991.6" cy="1750.3" r="4.6" fill="#b244f7"/>
<circle cx="1004.6" cy="1721.5" r="4.6" fill="#b244f7"/>
<circle cx="1052.6" cy="1786.6" r="4.6" fill="#b244f7"/>
<circle cx="986.9" cy="1778.1" r="4.6" fill="#b244f7"/>
<circle cx="1068.9" cy="1783.2" r="4.6" fill="#b244f7"/>
<circle cx="1055.8" cy="1778.4" r="4.6" fill="#b244f7"/>
<circle cx="1041.0" cy="1756.8" r="4.6" fill="#b244f7"/>
<circle cx="995.0" cy="1767.9" r="4.6" fill="#b244f7"/>
<circle cx="990.6" cy="1746.8" r="4.6" fill="#b244f7"/>
<circle cx="1052.2" cy="1735.4" r="4.6" fill="#b244f7"/>
<circle cx="1038.5" cy="1787.2" r="4.6" fill="#b244f7"/>
<circle cx="1057.2" cy="1758.6" r="4.6" fill="#b244f7"/>
<circle cx="959.4" cy="1713.7" r="4.6" fill="#b244f7"/>
<circle cx="1018.6" cy="1771.9" r="4.6" fill="#b244f7"/>
<circle cx="1067.8" cy="1761.9" r="4.6" fill="#b244f7"/>
<circle cx="998.4" cy="1758.5" r="4.6" fill="#b244f7"/>
<circle cx="1199.6" cy="1774.9" r="4.6" fill="#b244f7"/>
<circle cx="1217.6" cy="1769.5" r="4.6" fill="#b244f7"/>
<circle cx="1179.2" cy="1684.5" r="4.6" fill="#b244f7"/>
<circle cx="1171.7" cy="1739.4" r="4.6" fill="#b244f7"/>
<circle cx="1186.6" cy="1789.4" r="4.6" fill="#b244f7"/>
<circle cx="1172.1" cy="1695.3" r="4.6" fill="#b244f7"/>
<circle cx="1171.0" cy="1735.3" r="4.6" fill="#b244f7"/>
<circle cx="1217.8" cy="1804.2" r="4.6" fill="#b244f7"/>
<circle cx="1177.1" cy="1732.2" r="4.6" fill="#b244f7"/>
<circle cx="1191.9" cy="1744.6" r="4.6" fill="#b244f7"/>
<circle cx="1209.7" cy="1801.0" r="4.6" fill="#b244f7"/>
<circle cx="1181.9" cy="1780.4" r="4.6" fill="#b244f7"/>
<circle cx="1171.8" cy="1673.4" r="4.6" fill="#b244f7"/>
<circle cx="1207.8" cy="1757.1" r="4.6" fill="#b244f7"/>
<circle cx="1170.9" cy="1680.7" r="4.6" fill="#b244f7"/>
<circle cx="1205.5" cy="1777.4" r="4.6" fill="#b244f7"/>
<circle cx="1205.3" cy="1778.4" r="4.6" fill="#b244f7"/>
<circle cx="1178.2" cy="1801.1" r="4.6" fill="#b244f7"/>
<circle cx="1178.5" cy="1806.7" r="4.6" fill="#b244f7"/>
<circle cx="1183.1" cy="1717.2" r="4.6" fill="#b244f7"/>
<circle cx="1202.5" cy="1735.4" r="4.6" fill="#b244f7"/>
<circle cx="1203.5" cy="1792.9" r="4.6" fill="#b244f7"/>
<circle cx="1194.4" cy="1771.8" r="4.6" fill="#b244f7"/>
<circle cx="1208.2" cy="1774.7" r="4.6" fill="#b244f7"/>
<circle cx="1179.9" cy="1730.0" r="4.6" fill="#b244f7"/>
<circle cx="1219.4" cy="1801.3" r="4.6" fill="#b244f7"/>
<circle cx="1213.9" cy="1808.5" r="4.6" fill="#b244f7"/>
<circle cx="1179.7" cy="1787.3" r="4.6" fill="#b244f7"/>
<circle cx="1205.4" cy="1729.8" r="4.6" fill="#b244f7"/>
<circle cx="1205.6" cy="1789.0" r="4.6" fill="#b244f7"/>
<circle cx="1213.9" cy="1793.1" r="4.6" fill="#b244f7"/>
<circle cx="1178.8" cy="1683.0" r="4.6" fill="#b244f7"/>
<circle cx="1198.8" cy="1747.1" r="4.6" fill="#b244f7"/>
<circle cx="1200.8" cy="1716.3" r="4.6" fill="#b244f7"/>
<circle cx="1189.9" cy="1714.2" r="4.6" fill="#b244f7"/>
<circle cx="1202.7" cy="1734.3" r="4.6" fill="#b244f7"/>
<circle cx="1188.2" cy="1728.3" r="4.6" fill="#b244f7"/>
<circle cx="1195.3" cy="1785.7" r="4.6" fill="#b244f7"/>
<circle cx="1177.6" cy="1730.4" r="4.6" fill="#b244f7"/>
<circle cx="1172.7" cy="1670.8" r="4.6" fill="#b244f7"/>
<circle cx="1175.0" cy="1807.4" r="4.6" fill="#b244f7"/>
<circle cx="1173.6" cy="1669.0" r="4.6" fill="#b244f7"/>
<circle cx="1183.6" cy="1798.4" r="4.6" fill="#b244f7"/>
<circle cx="1171.4" cy="1806.3" r="4.6" fill="#b244f7"/>
<circle cx="1202.4" cy="1758.1" r="4.6" fill="#b244f7"/>
<circle cx="1202.6" cy="1747.6" r="4.6" fill="#b244f7"/>
<circle cx="1172.3" cy="1729.8" r="4.6" fill="#b244f7"/>
<circle cx="1184.5" cy="1708.5" r="4.6" fill="#b244f7"/>
<circle cx="1210.1" cy="1744.2" r="4.6" fill="#b244f7"/>
<circle cx="1172.3" cy="1678.6" r="4.6" fill="#b244f7"/>
<circle cx="1216.1" cy="1751.2" r="4.6" fill="#b244f7"/>
<circle cx="1173.6" cy="1789.1" r="4.6" fill="#b244f7"/>
<circle cx="1173.8" cy="1806.9" r="4.6" fill="#b244f7"/>
<circle cx="1211.8" cy="1754.5" r="4.6" fill="#b244f7"/>
<circle cx="1199.0" cy="1731.7" r="4.6" fill="#b244f7"/>
<circle cx="1198.8" cy="1789.2" r="4.6" fill="#b244f7"/>
<circle cx="1173.4" cy="1801.3" r="4.6" fill="#b244f7"/>
<circle cx="1206.3" cy="1798.2" r="4.6" fill="#b244f7"/>
<circle cx="1182.4" cy="1764.6" r="4.6" fill="#b244f7"/>
<circle cx="1171.2" cy="1781.6" r="4.6" fill="#b244f7"/>
<circle cx="1180.7" cy="1719.1" r="4.6" fill="#b244f7"/>
<circle cx="1184.7" cy="1779.2" r="4.6" fill="#b244f7"/>
<circle cx="1219.3" cy="1786.2" r="4.6" fill="#b244f7"/>
<circle cx="1212.1" cy="1771.0" r="4.6" fill="#b244f7"/>
<circle cx="1171.4" cy="1758.6" r="4.6" fill="#b244f7"/>
<circle cx="1188.1" cy="1721.2" r="4.6" fill="#b244f7"/>
<circle cx="1183.7" cy="1725.0" r="4.6" fill="#b244f7"/>
<circle cx="1193.5" cy="1793.6" r="4.6" fill="#b244f7"/>
<circle cx="1212.8" cy="1805.7" r="4.6" fill="#b244f7"/>
<circle cx="1210.1" cy="1801.3" r="4.6" fill="#b244f7"/>
<circle cx="1170.9" cy="1788.8" r="4.6" fill="#b244f7"/>
<circle cx="1206.5" cy="1728.6" r="4.6" fill="#b244f7"/>
<circle cx="1170.9" cy="1745.5" r="4.6" fill="#b244f7"/>
<circle cx="1191.0" cy="1722.3" r="4.6" fill="#b244f7"/>
<circle cx="1176.5" cy="1749.7" r="4.6" fill="#b244f7"/>
<circle cx="1183.7" cy="1704.9" r="4.6" fill="#b244f7"/>
<circle cx="1179.7" cy="1678.3" r="4.6" fill="#b244f7"/>
<circle cx="1180.7" cy="1790.1" r="4.6" fill="#b244f7"/>
<circle cx="1202.8" cy="1772.1" r="4.6" fill="#b244f7"/>
<circle cx="1173.7" cy="1723.4" r="4.6" fill="#b244f7"/>
<circle cx="1172.8" cy="1694.6" r="4.6" fill="#b244f7"/>
<circle cx="1202.6" cy="1742.1" r="4.6" fill="#b244f7"/>
<circle cx="1198.6" cy="1782.8" r="4.6" fill="#b244f7"/>
<circle cx="1186.4" cy="1771.1" r="4.6" fill="#b244f7"/>
<circle cx="1214.5" cy="1806.1" r="4.6" fill="#b244f7"/>
<circle cx="1214.4" cy="1808.3" r="4.6" fill="#b244f7"/>
<circle cx="1177.4" cy="1783.1" r="4.6" fill="#b244f7"/>
<circle cx="1215.2" cy="1782.8" r="4.6" fill="#b244f7"/>
<circle cx="1185.3" cy="1699.2" r="4.6" fill="#b244f7"/>
<circle cx="1178.5" cy="1756.5" r="4.6" fill="#b244f7"/>
<circle cx="1193.2" cy="1731.5" r="4.6" fill="#b244f7"/>
<circle cx="1206.0" cy="1761.3" r="4.6" fill="#b244f7"/>
<circle cx="1183.8" cy="1778.0" r="4.6" fill="#b244f7"/>
<circle cx="1175.4" cy="1688.6" r="4.6" fill="#b244f7"/>
<circle cx="1200.6" cy="1744.0" r="4.6" fill="#b244f7"/>
<circle cx="1175.9" cy="1757.8" r="4.6" fill="#b244f7"/>
<circle cx="1207.2" cy="1768.9" r="4.6" fill="#b244f7"/>
<circle cx="1174.3" cy="1753.0" r="4.6" fill="#b244f7"/>
<circle cx="1214.2" cy="1798.6" r="4.6" fill="#b244f7"/>
<circle cx="1176.8" cy="1777.9" r="4.6" fill="#b244f7"/>
<circle cx="1203.0" cy="1736.4" r="4.6" fill="#b244f7"/>
<circle cx="1175.3" cy="1795.4" r="4.6" fill="#b244f7"/>
<circle cx="1179.1" cy="1775.7" r="4.6" fill="#b244f7"/>
<circle cx="1192.7" cy="1798.3" r="4.6" fill="#b244f7"/>
<circle cx="1182.8" cy="1793.4" r="4.6" fill="#b244f7"/>
<circle cx="1220.0" cy="1773.4" r="4.6" fill="#b244f7"/>
<circle cx="1173.5" cy="1662.1" r="4.6" fill="#b244f7"/>
<circle cx="1173.5" cy="1764.3" r="4.6" fill="#b244f7"/>
<circle cx="1220.6" cy="1770.0" r="4.6" fill="#b244f7"/>
<circle cx="1204.8" cy="1779.5" r="4.6" fill="#b244f7"/>
<circle cx="1177.0" cy="1727.1" r="4.6" fill="#b244f7"/>
<circle cx="1173.6" cy="1789.0" r="4.6" fill="#b244f7"/>
<circle cx="1185.7" cy="1807.2" r="4.6" fill="#b244f7"/>
<circle cx="1186.2" cy="1715.5" r="4.6" fill="#b244f7"/>
<circle cx="1202.4" cy="1771.6" r="4.6" fill="#b244f7"/>
<circle cx="1198.9" cy="1772.3" r="4.6" fill="#b244f7"/>
<circle cx="1174.9" cy="1730.4" r="4.6" fill="#b244f7"/>
<circle cx="1186.5" cy="1723.5" r="4.6" fill="#b244f7"/>
<circle cx="1215.7" cy="1787.8" r="4.6" fill="#b244f7"/>
<circle cx="1195.5" cy="1735.7" r="4.6" fill="#b244f7"/>
<circle cx="1187.4" cy="1790.6" r="4.6" fill="#b244f7"/>
<circle cx="1204.1" cy="1734.4" r="4.6" fill="#b244f7"/>
<circle cx="1207.3" cy="1757.8" r="4.6" fill="#b244f7"/>
<circle cx="1212.1" cy="1766.1" r="4.6" fill="#b244f7"/>
<circle cx="1199.4" cy="1773.7" r="4.6" fill="#b244f7"/>
<circle cx="1182.1" cy="1734.7" r="4.6" fill="#b244f7"/>
<circle cx="1173.3" cy="1758.9" r="4.6" fill="#b244f7"/>
<circle cx="1207.8" cy="1757.3" r="4.6" fill="#b244f7"/>
<circle cx="1198.7" cy="1792.4" r="4.6" fill="#b244f7"/>
<circle cx="1187.5" cy="1764.3" r="4.6" fill="#b244f7"/>
<circle cx="1198.2" cy="1777.3" r="4.6" fill="#b244f7"/>
<circle cx="1201.3" cy="1723.4" r="4.6" fill="#b244f7"/>
<circle cx="1176.4" cy="1723.7" r="4.6" fill="#b244f7"/>
<circle cx="1207.5" cy="1785.2" r="4.6" fill="#b244f7"/>
<circle cx="1190.9" cy="1696.3" r="4.6" fill="#b244f7"/>
<circle cx="1171.6" cy="1737.2" r="4.6" fill="#b244f7"/>
<circle cx="1175.6" cy="1700.2" r="4.6" fill="#b244f7"/>
<circle cx="1217.8" cy="1783.9" r="4.6" fill="#b244f7"/>
<circle cx="1173.4" cy="1733.8" r="4.6" fill="#b244f7"/>
<circle cx="1193.7" cy="1737.1" r="4.6" fill="#b244f7"/>
<circle cx="1192.1" cy="1745.2" r="4.6" fill="#b244f7"/>
<circle cx="1210.7" cy="1777.2" r="4.6" fill="#b244f7"/>
<circle cx="1186.8" cy="1691.9" r="4.6" fill="#b244f7"/>
<circle cx="1177.5" cy="1720.0" r="4.6" fill="#b244f7"/>
<circle cx="1185.9" cy="1719.3" r="4.6" fill="#b244f7"/>
<circle cx="1174.2" cy="1659.2" r="4.6" fill="#b244f7"/>
<circle cx="1184.1" cy="1805.7" r="4.6" fill="#b244f7"/>
<circle cx="1180.3" cy="1766.5" r="4.6" fill="#b244f7"/>
<circle cx="1171.0" cy="1757.4" r="4.6" fill="#b244f7"/>
<circle cx="1187.3" cy="1731.0" r="4.6" fill="#b244f7"/>
<circle cx="1183.9" cy="1785.4" r="4.6" fill="#b244f7"/>
<circle cx="1178.1" cy="1711.2" r="4.6" fill="#b244f7"/>
<circle cx="1217.7" cy="1783.4" r="4.6" fill="#b244f7"/>
<circle cx="1177.9" cy="1700.4" r="4.6" fill="#b244f7"/>
<circle cx="1185.9" cy="1791.9" r="4.6" fill="#b244f7"/>
<circle cx="1174.4" cy="1699.3" r="4.6" fill="#b244f7"/>
<circle cx="1209.5" cy="1766.6" r="4.6" fill="#b244f7"/>
<circle cx="1189.8" cy="1752.7" r="4.6" fill="#b244f7"/>
<circle cx="1178.2" cy="1671.6" r="4.6" fill="#b244f7"/>
<circle cx="1184.0" cy="1735.4" r="4.6" fill="#b244f7"/>
<circle cx="1210.0" cy="1751.1" r="4.6" fill="#b244f7"/>
<circle cx="1189.8" cy="1784.6" r="4.6" fill="#b244f7"/>
<circle cx="1194.1" cy="1801.5" r="4.6" fill="#b244f7"/>
<circle cx="1211.0" cy="1789.8" r="4.6" fill="#b244f7"/>
<circle cx="1212.0" cy="1796.1" r="4.6" fill="#b244f7"/>
<circle cx="1185.1" cy="1787.1" r="4.6" fill="#b244f7"/>
<circle cx="1187.6" cy="1794.9" r="4.6" fill="#b244f7"/>
<circle cx="1170.9" cy="1704.2" r="4.6" fill="#b244f7"/>
<circle cx="1180.6" cy="1786.5" r="4.6" fill="#b244f7"/>
<circle cx="1181.6" cy="1756.2" r="4.6" fill="#b244f7"/>
<circle cx="1187.7" cy="1740.2" r="4.6" fill="#b244f7"/>
<circle cx="1200.4" cy="1783.2" r="4.6" fill="#b244f7"/>
<circle cx="1217.0" cy="1759.9" r="4.6" fill="#b244f7"/>
<circle cx="1172.1" cy="1685.9" r="4.6" fill="#b244f7"/>
<circle cx="1215.5" cy="1762.7" r="4.6" fill="#b244f7"/>
<circle cx="1174.8" cy="1689.8" r="4.6" fill="#b244f7"/>
<circle cx="1198.9" cy="1808.4" r="4.6" fill="#b244f7"/>
<circle cx="1171.0" cy="1659.3" r="4.6" fill="#b244f7"/>
<circle cx="1200.2" cy="1792.9" r="4.6" fill="#b244f7"/>
<circle cx="1173.4" cy="1796.5" r="4.6" fill="#b244f7"/>
<circle cx="1178.5" cy="1705.8" r="4.6" fill="#b244f7"/>
<circle cx="1183.7" cy="1797.3" r="4.6" fill="#b244f7"/>
<circle cx="1215.4" cy="1762.0" r="4.6" fill="#b244f7"/>
<circle cx="1175.8" cy="1680.5" r="4.6" fill="#b244f7"/>
<circle cx="1197.5" cy="1734.6" r="4.6" fill="#b244f7"/>
<circle cx="1201.0" cy="1726.9" r="4.6" fill="#b244f7"/>
<circle cx="1208.1" cy="1745.8" r="4.6" fill="#b244f7"/>
<circle cx="1177.0" cy="1717.9" r="4.6" fill="#b244f7"/>
<circle cx="1193.2" cy="1733.1" r="4.6" fill="#b244f7"/>
<circle cx="1188.3" cy="1704.9" r="4.6" fill="#b244f7"/>
<circle cx="1194.5" cy="1789.5" r="4.6" fill="#b244f7"/>
<circle cx="1178.5" cy="1797.8" r="4.6" fill="#b244f7"/>
<circle cx="1191.1" cy="1805.9" r="4.6" fill="#b244f7"/>
<circle cx="1189.7" cy="1799.2" r="4.6" fill="#b244f7"/>
<circle cx="1191.0" cy="1761.8" r="4.6" fill="#b244f7"/>
<circle cx="1193.6" cy="1717.5" r="4.6" fill="#b244f7"/>
<circle cx="1170.9" cy="1681.4" r="4.6" fill="#b244f7"/>
<circle cx="1189.8" cy="1752.5" r="4.6" fill="#b244f7"/>
<circle cx="1200.8" cy="1732.9" r="4.6" fill="#b244f7"/>
<circle cx="1185.0" cy="1767.2" r="4.6" fill="#b244f7"/>
<circle cx="1219.1" cy="1806.9" r="4.6" fill="#b244f7"/>
<circle cx="1199.1" cy="1754.0" r="4.6" fill="#b244f7"/>
<circle cx="1171.3" cy="1725.4" r="4.6" fill="#b244f7"/>
<circle cx="1201.8" cy="1724.1" r="4.6" fill="#b244f7"/>
<circle cx="1182.9" cy="1678.2" r="4.6" fill="#b244f7"/>
<circle cx="1192.1" cy="1764.4" r="4.6" fill="#b244f7"/>
<circle cx="1215.0" cy="1808.0" r="4.6" fill="#b244f7"/>
<circle cx="1203.9" cy="1760.8" r="4.6" fill="#b244f7"/>
<circle cx="1183.3" cy="1699.3" r="4.6" fill="#b244f7"/>
<circle cx="1184.6" cy="1759.5" r="4.6" fill="#b244f7"/>
<circle cx="1192.9" cy="1728.8" r="4.6" fill="#b244f7"/>
<circle cx="1177.6" cy="1759.5" r="4.6" fill="#b244f7"/>
<circle cx="1187.4" cy="1751.3" r="4.6" fill="#b244f7"/>
<circle cx="1210.5" cy="1793.8" r="4.6" fill="#b244f7"/>
<circle cx="1210.6" cy="1786.1" r="4.6" fill="#b244f7"/>
<circle cx="1191.7" cy="1787.7" r="4.6" fill="#b244f7"/>
<circle cx="1191.8" cy="1698.1" r="4.6" fill="#b244f7"/>
<circle cx="1200.1" cy="1737.6" r="4.6" fill="#b244f7"/>
<circle cx="1182.9" cy="1778.8" r="4.6" fill="#b244f7"/>
<circle cx="1181.4" cy="1740.4" r="4.6" fill="#b244f7"/>
<circle cx="1199.0" cy="1736.7" r="4.6" fill="#b244f7"/>
<circle cx="1171.6" cy="1705.1" r="4.6" fill="#b244f7"/>
<circle cx="1214.2" cy="1778.8" r="4.6" fill="#b244f7"/>
<circle cx="1171.9" cy="1775.8" r="4.6" fill="#b244f7"/>
<circle cx="1170.9" cy="1790.4" r="4.6" fill="#b244f7"/>
<circle cx="1216.5" cy="1776.8" r="4.6" fill="#b244f7"/>
<circle cx="1200.3" cy="1738.2" r="4.6" fill="#b244f7"/>
<circle cx="1215.8" cy="1775.7" r="4.6" fill="#b244f7"/>
<circle cx="1198.0" cy="1753.7" r="4.6" fill="#b244f7"/>
<circle cx="1202.6" cy="1762.2" r="4.6" fill="#b244f7"/>
<circle cx="1201.7" cy="1796.4" r="4.6" fill="#b244f7"/>
<circle cx="1200.9" cy="1774.4" r="4.6" fill="#b244f7"/>
<circle cx="1206.6" cy="1804.6" r="4.6" fill="#b244f7"/>
<circle cx="1176.4" cy="1806.8" r="4.6" fill="#b244f7"/>
<circle cx="1207.3" cy="1736.7" r="4.6" fill="#b244f7"/>
<circle cx="1200.2" cy="1782.5" r="4.6" fill="#b244f7"/>
<circle cx="1210.3" cy="1754.2" r="4.6" fill="#b244f7"/>
<circle cx="1194.9" cy="1790.3" r="4.6" fill="#b244f7"/>
<circle cx="1181.6" cy="1764.3" r="4.6" fill="#b244f7"/>
<circle cx="1182.3" cy="1763.7" r="4.6" fill="#b244f7"/>
<circle cx="1199.4" cy="1719.1" r="4.6" fill="#b244f7"/>
<circle cx="1172.0" cy="1733.5" r="4.6" fill="#b244f7"/>
<circle cx="1171.6" cy="1798.9" r="4.6" fill="#b244f7"/>
<circle cx="1209.5" cy="1771.7" r="4.6" fill="#b244f7"/>
<circle cx="1216.4" cy="1787.3" r="4.6" fill="#b244f7"/>
<circle cx="1171.1" cy="1762.4" r="4.6" fill="#b244f7"/>
<circle cx="1196.6" cy="1712.9" r="4.6" fill="#b244f7"/>
<circle cx="1220.4" cy="1788.8" r="4.6" fill="#b244f7"/>
<circle cx="1186.9" cy="1802.4" r="4.6" fill="#b244f7"/>
<circle cx="1199.6" cy="1795.8" r="4.6" fill="#b244f7"/>
<circle cx="1175.2" cy="1808.1" r="4.6" fill="#b244f7"/>
<circle cx="1170.9" cy="1711.4" r="4.6" fill="#b244f7"/>
<circle cx="1174.1" cy="1662.8" r="4.6" fill="#b244f7"/>
<circle cx="1173.0" cy="1679.4" r="4.6" fill="#b244f7"/>
<circle cx="1174.4" cy="1808.0" r="4.6" fill="#b244f7"/>
<circle cx="1204.0" cy="1794.8" r="4.6" fill="#b244f7"/>
<circle cx="1204.8" cy="1799.0" r="4.6" fill="#b244f7"/>
<circle cx="1171.9" cy="1695.9" r="4.6" fill="#b244f7"/>
<circle cx="1203.6" cy="1736.2" r="4.6" fill="#b244f7"/>
<circle cx="1204.6" cy="1805.3" r="4.6" fill="#b244f7"/>
<circle cx="1237.9" cy="1733.3" r="4.6" fill="#b244f7"/>
<circle cx="1222.3" cy="1722.7" r="4.6" fill="#b244f7"/>
<circle cx="1205.6" cy="1726.4" r="4.6" fill="#b244f7"/>
<circle cx="1246.6" cy="1780.4" r="4.6" fill="#b244f7"/>
<circle cx="1191.5" cy="1753.9" r="4.6" fill="#b244f7"/>
<circle cx="1256.9" cy="1771.8" r="4.6" fill="#b244f7"/>
<circle cx="1209.9" cy="1741.7" r="4.6" fill="#b244f7"/>
<circle cx="1199.4" cy="1736.0" r="4.6" fill="#b244f7"/>
<circle cx="1224.6" cy="1784.7" r="4.6" fill="#b244f7"/>
<circle cx="1214.4" cy="1751.2" r="4.6" fill="#b244f7"/>
<circle cx="1220.4" cy="1741.8" r="4.6" fill="#b244f7"/>
<circle cx="1198.1" cy="1741.0" r="4.6" fill="#b244f7"/>
<circle cx="1214.1" cy="1746.3" r="4.6" fill="#b244f7"/>
<circle cx="1238.0" cy="1754.2" r="4.6" fill="#b244f7"/>
<circle cx="1215.9" cy="1735.5" r="4.6" fill="#b244f7"/>
<circle cx="1270.5" cy="1716.3" r="4.6" fill="#b244f7"/>
<circle cx="1232.0" cy="1765.3" r="4.6" fill="#b244f7"/>
<circle cx="1193.4" cy="1730.0" r="4.6" fill="#b244f7"/>
<circle cx="1245.2" cy="1722.2" r="4.6" fill="#b244f7"/>
<circle cx="1211.5" cy="1750.0" r="4.6" fill="#b244f7"/>
<circle cx="1274.0" cy="1711.7" r="4.6" fill="#b244f7"/>
<circle cx="1235.2" cy="1763.0" r="4.6" fill="#b244f7"/>
<circle cx="1219.5" cy="1726.9" r="4.6" fill="#b244f7"/>
<circle cx="1215.2" cy="1743.1" r="4.6" fill="#b244f7"/>
<circle cx="1235.3" cy="1720.8" r="4.6" fill="#b244f7"/>
<circle cx="1255.8" cy="1757.6" r="4.6" fill="#b244f7"/>
<circle cx="1191.2" cy="1781.9" r="4.6" fill="#b244f7"/>
<circle cx="1219.0" cy="1748.8" r="4.6" fill="#b244f7"/>
<circle cx="1256.7" cy="1713.8" r="4.6" fill="#b244f7"/>
<circle cx="1192.6" cy="1740.4" r="4.6" fill="#b244f7"/>
<circle cx="1256.3" cy="1715.4" r="4.6" fill="#b244f7"/>
<circle cx="1232.5" cy="1766.5" r="4.6" fill="#b244f7"/>
<circle cx="1260.4" cy="1718.3" r="4.6" fill="#b244f7"/>
<circle cx="1243.3" cy="1716.6" r="4.6" fill="#b244f7"/>
<circle cx="1212.7" cy="1787.1" r="4.6" fill="#b244f7"/>
<circle cx="1230.8" cy="1729.5" r="4.6" fill="#b244f7"/>
<circle cx="1201.7" cy="1743.1" r="4.6" fill="#b244f7"/>
<circle cx="1269.0" cy="1756.4" r="4.6" fill="#b244f7"/>
<circle cx="1235.8" cy="1736.3" r="4.6" fill="#b244f7"/>
<circle cx="1222.8" cy="1774.8" r="4.6" fill="#b244f7"/>
<circle cx="1205.6" cy="1741.7" r="4.6" fill="#b244f7"/>
<circle cx="1254.2" cy="1745.5" r="4.6" fill="#b244f7"/>
<circle cx="1194.8" cy="1741.5" r="4.6" fill="#b244f7"/>
<circle cx="1252.2" cy="1762.5" r="4.6" fill="#b244f7"/>
<circle cx="1233.2" cy="1721.4" r="4.6" fill="#b244f7"/>
<circle cx="1217.6" cy="1683.4" r="4.6" fill="#b244f7"/>
<circle cx="1196.0" cy="1678.5" r="4.6" fill="#b244f7"/>
<circle cx="1180.8" cy="1707.1" r="4.6" fill="#b244f7"/>
<circle cx="1180.4" cy="1670.5" r="4.6" fill="#b244f7"/>
<circle cx="1190.0" cy="1680.3" r="4.6" fill="#b244f7"/>
<circle cx="1192.1" cy="1683.7" r="4.6" fill="#b244f7"/>
<circle cx="1178.7" cy="1717.7" r="4.6" fill="#b244f7"/>
<circle cx="1223.5" cy="1694.0" r="4.6" fill="#b244f7"/>
<circle cx="1176.5" cy="1675.4" r="4.6" fill="#b244f7"/>
<circle cx="1212.5" cy="1709.7" r="4.6" fill="#b244f7"/>
<circle cx="1202.4" cy="1696.1" r="4.6" fill="#b244f7"/>
<circle cx="1198.3" cy="1719.4" r="4.6" fill="#b244f7"/>
<circle cx="1172.6" cy="1649.7" r="4.6" fill="#b244f7"/>
<circle cx="1216.6" cy="1685.9" r="4.6" fill="#b244f7"/>
<circle cx="1200.8" cy="1702.1" r="4.6" fill="#b244f7"/>
<circle cx="1212.0" cy="1690.3" r="4.6" fill="#b244f7"/>
<circle cx="1220.9" cy="1665.7" r="4.6" fill="#b244f7"/>
<circle cx="1214.1" cy="1651.6" r="4.6" fill="#b244f7"/>
<circle cx="1184.3" cy="1718.2" r="4.6" fill="#b244f7"/>
<circle cx="1181.5" cy="1707.9" r="4.6" fill="#b244f7"/>
<circle cx="1175.3" cy="1717.2" r="4.6" fill="#b244f7"/>
<circle cx="1200.3" cy="1658.3" r="4.6" fill="#b244f7"/>
<circle cx="1195.1" cy="1652.8" r="4.6" fill="#b244f7"/>
<circle cx="1218.9" cy="1716.3" r="4.6" fill="#b244f7"/>
<circle cx="1202.5" cy="1692.3" r="4.6" fill="#b244f7"/>
<circle cx="1080.8" cy="1648.9" r="4.6" fill="#b244f7"/>
<circle cx="1070.7" cy="1678.5" r="4.6" fill="#b244f7"/>
<circle cx="1042.7" cy="1649.1" r="4.6" fill="#b244f7"/>
<circle cx="1040.5" cy="1691.4" r="4.6" fill="#b244f7"/>
<circle cx="1056.7" cy="1708.9" r="4.6" fill="#b244f7"/>
<circle cx="1018.9" cy="1646.4" r="4.6" fill="#b244f7"/>
<circle cx="1073.3" cy="1718.0" r="4.6" fill="#b244f7"/>
<circle cx="1070.8" cy="1694.5" r="4.6" fill="#b244f7"/>
<circle cx="1023.5" cy="1653.0" r="4.6" fill="#b244f7"/>
<circle cx="1028.3" cy="1717.4" r="4.6" fill="#b244f7"/>
<circle cx="1032.0" cy="1667.6" r="4.6" fill="#b244f7"/>
<circle cx="1042.2" cy="1646.9" r="4.6" fill="#b244f7"/>
<circle cx="1085.5" cy="1710.0" r="4.6" fill="#b244f7"/>
<circle cx="1034.3" cy="1650.4" r="4.6" fill="#b244f7"/>
<circle cx="1040.0" cy="1698.5" r="4.6" fill="#b244f7"/>
<circle cx="1046.3" cy="1664.0" r="4.6" fill="#b244f7"/>
<circle cx="1081.8" cy="1696.6" r="4.6" fill="#b244f7"/>
<circle cx="1070.7" cy="1711.6" r="4.6" fill="#b244f7"/>
<circle cx="1054.3" cy="1708.2" r="4.6" fill="#b244f7"/>
<circle cx="1072.1" cy="1710.2" r="4.6" fill="#b244f7"/>
<circle cx="1040.0" cy="1720.0" r="4.6" fill="#b244f7"/>
<circle cx="1037.1" cy="1706.3" r="4.6" fill="#b244f7"/>
<circle cx="1086.9" cy="1651.2" r="4.6" fill="#b244f7"/>
<circle cx="1073.4" cy="1650.8" r="4.6" fill="#b244f7"/>
<circle cx="1026.1" cy="1654.2" r="4.6" fill="#b244f7"/>
<circle cx="1079.3" cy="1687.3" r="4.6" fill="#b244f7"/>
<circle cx="1082.5" cy="1651.2" r="4.6" fill="#b244f7"/>
<circle cx="1027.9" cy="1673.7" r="4.6" fill="#b244f7"/>
<circle cx="1056.5" cy="1695.4" r="4.6" fill="#b244f7"/>
<circle cx="1029.3" cy="1685.0" r="4.6" fill="#b244f7"/>
<circle cx="1122.5" cy="1782.3" r="4.6" fill="#f8291b"/>
<circle cx="1122.0" cy="1741.1" r="4.6" fill="#f8291b"/>
<circle cx="1106.8" cy="1789.0" r="4.6" fill="#f8291b"/>
<circle cx="1093.6" cy="1729.6" r="4.6" fill="#f8291b"/>
<circle cx="1110.4" cy="1746.9" r="4.6" fill="#f8291b"/>
<circle cx="1112.8" cy="1731.4" r="4.6" fill="#f8291b"/>
<circle cx="1115.2" cy="1798.1" r="4.6" fill="#f8291b"/>
<circle cx="1106.0" cy="1733.3" r="4.6" fill="#f8291b"/>
<circle cx="1093.1" cy="1753.1" r="4.6" fill="#f8291b"/>
<circle cx="1090.2" cy="1724.2" r="4.6" fill="#f8291b"/>
<circle cx="1092.0" cy="1711.4" r="4.6" fill="#f8291b"/>
<circle cx="1119.9" cy="1785.5" r="4.6" fill="#f8291b"/>
<circle cx="1116.7" cy="1769.3" r="4.6" fill="#f8291b"/>
<circle cx="1117.8" cy="1745.9" r="4.6" fill="#f8291b"/>
<circle cx="1089.9" cy="1758.1" r="4.6" fill="#f8291b"/>
<circle cx="1092.4" cy="1808.7" r="4.6" fill="#f8291b"/>
<circle cx="1109.5" cy="1720.9" r="4.6" fill="#f8291b"/>
<circle cx="1125.9" cy="1802.0" r="4.6" fill="#f8291b"/>
<circle cx="1116.8" cy="1789.9" r="4.6" fill="#f8291b"/>
<circle cx="1127.5" cy="1807.4" r="4.6" fill="#f8291b"/>
<circle cx="1115.0" cy="1795.8" r="4.6" fill="#f8291b"/>
<circle cx="1120.5" cy="1728.8" r="4.6" fill="#f8291b"/>
<circle cx="1107.8" cy="1797.6" r="4.6" fill="#f8291b"/>
<circle cx="1108.3" cy="1736.1" r="4.6" fill="#f8291b"/>
<circle cx="1119.7" cy="1803.0" r="4.6" fill="#f8291b"/>
<circle cx="1122.6" cy="1777.6" r="4.6" fill="#f8291b"/>
<circle cx="1097.1" cy="1735.2" r="4.6" fill="#f8291b"/>
<circle cx="1120.5" cy="1788.8" r="4.6" fill="#f8291b"/>
<circle cx="1113.5" cy="1717.0" r="4.6" fill="#f8291b"/>
<circle cx="1108.9" cy="1780.7" r="4.6" fill="#f8291b"/>
<circle cx="1117.9" cy="1747.9" r="4.6" fill="#f8291b"/>
<circle cx="1100.8" cy="1781.0" r="4.6" fill="#f8291b"/>
<circle cx="1105.7" cy="1796.1" r="4.6" fill="#f8291b"/>
<circle cx="1121.1" cy="1738.5" r="4.6" fill="#f8291b"/>
<circle cx="1112.4" cy="1790.4" r="4.6" fill="#f8291b"/>
<circle cx="1126.0" cy="1789.6" r="4.6" fill="#f8291b"/>
<circle cx="1115.2" cy="1796.1" r="4.6" fill="#f8291b"/>
<circle cx="1094.8" cy="1798.3" r="4.6" fill="#f8291b"/>
<circle cx="1127.0" cy="1770.7" r="4.6" fill="#f8291b"/>
<circle cx="1109.8" cy="1802.9" r="4.6" fill="#f8291b"/>
<circle cx="1117.9" cy="1800.3" r="4.6" fill="#f8291b"/>
<circle cx="1095.1" cy="1736.1" r="4.6" fill="#f8291b"/>
<circle cx="1120.6" cy="1758.4" r="4.6" fill="#f8291b"/>
<circle cx="1104.6" cy="1758.8" r="4.6" fill="#f8291b"/>
<circle cx="1093.4" cy="1689.7" r="4.6" fill="#f8291b"/>
<circle cx="1107.9" cy="1766.3" r="4.6" fill="#f8291b"/>
<circle cx="1098.1" cy="1725.4" r="4.6" fill="#f8291b"/>
<circle cx="1094.7" cy="1796.5" r="4.6" fill="#f8291b"/>
<circle cx="1100.1" cy="1753.4" r="4.6" fill="#f8291b"/>
<circle cx="1098.8" cy="1759.9" r="4.6" fill="#f8291b"/>
<circle cx="1092.6" cy="1712.6" r="4.6" fill="#f8291b"/>
<circle cx="1109.1" cy="1805.8" r="4.6" fill="#f8291b"/>
<circle cx="1107.5" cy="1772.6" r="4.6" fill="#f8291b"/>
<circle cx="1127.0" cy="1774.7" r="4.6" fill="#f8291b"/>
<circle cx="1119.5" cy="1806.7" r="4.6" fill="#f8291b"/>
<circle cx="1119.2" cy="1735.6" r="4.6" fill="#f8291b"/>
<circle cx="1096.0" cy="1744.9" r="4.6" fill="#f8291b"/>
<circle cx="1106.2" cy="1703.1" r="4.6" fill="#f8291b"/>
<circle cx="1120.6" cy="1787.8" r="4.6" fill="#f8291b"/>
<circle cx="1095.5" cy="1698.0" r="4.6" fill="#f8291b"/>
<circle cx="1107.8" cy="1778.0" r="4.6" fill="#f8291b"/>
<circle cx="1124.1" cy="1788.1" r="4.6" fill="#f8291b"/>
<circle cx="1100.5" cy="1800.2" r="4.6" fill="#f8291b"/>
<circle cx="1108.5" cy="1708.1" r="4.6" fill="#f8291b"/>
<circle cx="1108.5" cy="1770.8" r="4.6" fill="#f8291b"/>
<circle cx="1121.0" cy="1748.6" r="4.6" fill="#f8291b"/>
<circle cx="1121.9" cy="1762.4" r="4.6" fill="#f8291b"/>
<circle cx="1094.9" cy="1779.3" r="4.6" fill="#f8291b"/>
<circle cx="1103.0" cy="1730.0" r="4.6" fill="#f8291b"/>
<circle cx="1121.8" cy="1791.4" r="4.6" fill="#f8291b"/>
<circle cx="1092.0" cy="1797.1" r="4.6" fill="#f8291b"/>
<circle cx="1111.2" cy="1760.7" r="4.6" fill="#f8291b"/>
<circle cx="1107.9" cy="1798.1" r="4.6" fill="#f8291b"/>
<circle cx="1091.7" cy="1761.4" r="4.6" fill="#f8291b"/>
<circle cx="1115.1" cy="1793.6" r="4.6" fill="#f8291b"/>
<circle cx="1112.8" cy="1743.6" r="4.6" fill="#f8291b"/>
<circle cx="1090.3" cy="1765.3" r="4.6" fill="#f8291b"/>
<circle cx="1092.9" cy="1795.6" r="4.6" fill="#f8291b"/>
<circle cx="1095.4" cy="1796.4" r="4.6" fill="#f8291b"/>
<circle cx="1100.7" cy="1710.5" r="4.6" fill="#f8291b"/>
<circle cx="1092.1" cy="1806.1" r="4.6" fill="#f8291b"/>
<circle cx="1109.9" cy="1744.8" r="4.6" fill="#f8291b"/>
<circle cx="1114.0" cy="1782.6" r="4.6" fill="#f8291b"/>
<circle cx="1125.1" cy="1774.1" r="4.6" fill="#f8291b"/>
<circle cx="1108.2" cy="1765.1" r="4.6" fill="#f8291b"/>
<circle cx="1103.2" cy="1699.4" r="4.6" fill="#f8291b"/>
<circle cx="1098.2" cy="1806.8" r="4.6" fill="#f8291b"/>
<circle cx="1103.7" cy="1804.7" r="4.6" fill="#f8291b"/>
<circle cx="1094.0" cy="1796.0" r="4.6" fill="#f8291b"/>
<circle cx="1126.8" cy="1801.2" r="4.6" fill="#f8291b"/>
<circle cx="1117.8" cy="1783.4" r="4.6" fill="#f8291b"/>
<circle cx="1117.5" cy="1786.3" r="4.6" fill="#f8291b"/>
<circle cx="1092.4" cy="1775.1" r="4.6" fill="#f8291b"/>
<circle cx="1118.4" cy="1781.7" r="4.6" fill="#f8291b"/>
<circle cx="1111.2" cy="1773.2" r="4.6" fill="#f8291b"/>
<circle cx="1117.1" cy="1805.6" r="4.6" fill="#f8291b"/>
<circle cx="1102.3" cy="1751.6" r="4.6" fill="#f8291b"/>
<circle cx="1101.6" cy="1725.3" r="4.6" fill="#f8291b"/>
<circle cx="1108.3" cy="1806.0" r="4.6" fill="#f8291b"/>
<circle cx="1108.5" cy="1747.2" r="4.6" fill="#f8291b"/>
<circle cx="1122.1" cy="1774.4" r="4.6" fill="#f8291b"/>
<circle cx="1115.6" cy="1726.0" r="4.6" fill="#f8291b"/>
<circle cx="1111.0" cy="1750.2" r="4.6" fill="#f8291b"/>
<circle cx="1116.8" cy="1749.6" r="4.6" fill="#f8291b"/>
<circle cx="1101.9" cy="1718.9" r="4.6" fill="#f8291b"/>
<circle cx="1104.6" cy="1798.1" r="4.6" fill="#f8291b"/>
<circle cx="1103.0" cy="1777.5" r="4.6" fill="#f8291b"/>
<circle cx="1099.3" cy="1738.3" r="4.6" fill="#f8291b"/>
<circle cx="1106.7" cy="1767.7" r="4.6" fill="#f8291b"/>
<circle cx="1110.0" cy="1781.0" r="4.6" fill="#f8291b"/>
<circle cx="1117.1" cy="1752.2" r="4.6" fill="#f8291b"/>
<circle cx="1106.3" cy="1741.1" r="4.6" fill="#f8291b"/>
<circle cx="1105.0" cy="1760.1" r="4.6" fill="#f8291b"/>
<circle cx="1097.6" cy="1694.9" r="4.6" fill="#f8291b"/>
<circle cx="1119.0" cy="1799.6" r="4.6" fill="#f8291b"/>
<circle cx="1109.0" cy="1776.3" r="4.6" fill="#f8291b"/>
<circle cx="1090.0" cy="1749.2" r="4.6" fill="#f8291b"/>
<circle cx="1097.8" cy="1750.5" r="4.6" fill="#f8291b"/>
<circle cx="1119.4" cy="1731.9" r="4.6" fill="#f8291b"/>
<circle cx="1111.2" cy="1800.3" r="4.6" fill="#f8291b"/>
<circle cx="1104.4" cy="1712.8" r="4.6" fill="#f8291b"/>
<circle cx="1099.5" cy="1765.7" r="4.6" fill="#f8291b"/>
<circle cx="1112.0" cy="1723.2" r="4.6" fill="#f8291b"/>
<circle cx="1099.6" cy="1806.2" r="4.6" fill="#f8291b"/>
<circle cx="1110.6" cy="1731.2" r="4.6" fill="#f8291b"/>
<circle cx="1101.5" cy="1756.9" r="4.6" fill="#f8291b"/>
<circle cx="1095.3" cy="1781.3" r="4.6" fill="#f8291b"/>
<circle cx="1108.2" cy="1796.8" r="4.6" fill="#f8291b"/>
<circle cx="1099.5" cy="1790.8" r="4.6" fill="#f8291b"/>
<circle cx="1109.8" cy="1792.4" r="4.6" fill="#f8291b"/>
<circle cx="1100.8" cy="1794.2" r="4.6" fill="#f8291b"/>
<circle cx="1123.3" cy="1803.2" r="4.6" fill="#f8291b"/>
<circle cx="1128.0" cy="1800.3" r="4.6" fill="#f8291b"/>
<circle cx="1105.5" cy="1792.8" r="4.6" fill="#f8291b"/>
<circle cx="1091.0" cy="1771.2" r="4.6" fill="#f8291b"/>
<circle cx="1111.9" cy="1777.6" r="4.6" fill="#f8291b"/>
<circle cx="1094.5" cy="1794.1" r="4.6" fill="#f8291b"/>
<circle cx="1113.4" cy="1780.6" r="4.6" fill="#f8291b"/>
<circle cx="1110.1" cy="1766.9" r="4.6" fill="#f8291b"/>
<circle cx="1116.8" cy="1789.7" r="4.6" fill="#f8291b"/>
<circle cx="1106.2" cy="1760.9" r="4.6" fill="#f8291b"/>
<circle cx="1114.8" cy="1760.2" r="4.6" fill="#f8291b"/>
<circle cx="1095.4" cy="1794.4" r="4.6" fill="#f8291b"/>
<circle cx="1110.7" cy="1771.3" r="4.6" fill="#f8291b"/>
<circle cx="1112.6" cy="1735.8" r="4.6" fill="#f8291b"/>
<circle cx="1102.8" cy="1729.6" r="4.6" fill="#f8291b"/>
<circle cx="1124.5" cy="1778.5" r="4.6" fill="#f8291b"/>
<circle cx="1115.7" cy="1803.6" r="4.6" fill="#f8291b"/>
<circle cx="1095.8" cy="1798.4" r="4.6" fill="#f8291b"/>
<circle cx="1120.3" cy="1806.1" r="4.6" fill="#f8291b"/>
<circle cx="1092.9" cy="1764.4" r="4.6" fill="#f8291b"/>
<circle cx="1100.8" cy="1694.2" r="4.6" fill="#f8291b"/>
<circle cx="1108.8" cy="1777.0" r="4.6" fill="#f8291b"/>
<circle cx="1098.3" cy="1803.6" r="4.6" fill="#f8291b"/>
<circle cx="1089.6" cy="1774.8" r="4.6" fill="#f8291b"/>
<circle cx="1108.0" cy="1772.9" r="4.6" fill="#f8291b"/>
<circle cx="1113.1" cy="1786.8" r="4.6" fill="#f8291b"/>
<circle cx="1104.5" cy="1757.4" r="4.6" fill="#f8291b"/>
<circle cx="1091.5" cy="1756.7" r="4.6" fill="#f8291b"/>
<circle cx="1107.8" cy="1786.1" r="4.6" fill="#f8291b"/>
<circle cx="1107.2" cy="1721.2" r="4.6" fill="#f8291b"/>
<circle cx="1106.0" cy="1761.9" r="4.6" fill="#f8291b"/>
<circle cx="1094.2" cy="1777.8" r="4.6" fill="#f8291b"/>
<circle cx="1109.4" cy="1806.5" r="4.6" fill="#f8291b"/>
<circle cx="1103.7" cy="1765.8" r="4.6" fill="#f8291b"/>
<circle cx="1114.9" cy="1808.6" r="4.6" fill="#f8291b"/>
<circle cx="1096.6" cy="1774.0" r="4.6" fill="#f8291b"/>
<circle cx="1111.7" cy="1733.8" r="4.6" fill="#f8291b"/>
<circle cx="1096.3" cy="1807.4" r="4.6" fill="#f8291b"/>
<circle cx="1123.5" cy="1772.5" r="4.6" fill="#f8291b"/>
<circle cx="1101.5" cy="1801.9" r="4.6" fill="#f8291b"/>
<circle cx="1089.9" cy="1796.8" r="4.6" fill="#f8291b"/>
<circle cx="1111.9" cy="1801.4" r="4.6" fill="#f8291b"/>
<circle cx="1112.2" cy="1731.5" r="4.6" fill="#f8291b"/>
<circle cx="1108.4" cy="1772.4" r="4.6" fill="#f8291b"/>
<circle cx="1116.7" cy="1736.4" r="4.6" fill="#f8291b"/>
<circle cx="1104.8" cy="1782.4" r="4.6" fill="#f8291b"/>
<circle cx="1089.8" cy="1756.9" r="4.6" fill="#f8291b"/>
<circle cx="1126.4" cy="1783.0" r="4.6" fill="#f8291b"/>
<circle cx="1097.5" cy="1763.0" r="4.6" fill="#f8291b"/>
<circle cx="1100.8" cy="1751.8" r="4.6" fill="#f8291b"/>
<circle cx="1094.6" cy="1689.0" r="4.6" fill="#f8291b"/>
<circle cx="1105.5" cy="1798.3" r="4.6" fill="#f8291b"/>
<circle cx="1120.5" cy="1785.5" r="4.6" fill="#f8291b"/>
<circle cx="1106.6" cy="1771.2" r="4.6" fill="#f8291b"/>
<circle cx="1102.1" cy="1746.9" r="4.6" fill="#f8291b"/>
<circle cx="1089.7" cy="1774.2" r="4.6" fill="#f8291b"/>
<circle cx="1112.1" cy="1777.9" r="4.6" fill="#f8291b"/>
<circle cx="1114.7" cy="1725.5" r="4.6" fill="#f8291b"/>
<circle cx="1124.0" cy="1792.4" r="4.6" fill="#f8291b"/>
<circle cx="1113.0" cy="1721.4" r="4.6" fill="#f8291b"/>
<circle cx="1096.3" cy="1773.4" r="4.6" fill="#f8291b"/>
<circle cx="1097.0" cy="1781.1" r="4.6" fill="#f8291b"/>
<circle cx="1113.5" cy="1712.8" r="4.6" fill="#f8291b"/>
<circle cx="1115.7" cy="1793.2" r="4.6" fill="#f8291b"/>
<circle cx="1114.5" cy="1789.1" r="4.6" fill="#f8291b"/>
<circle cx="1113.4" cy="1733.6" r="4.6" fill="#f8291b"/>
<circle cx="1092.3" cy="1721.3" r="4.6" fill="#f8291b"/>
<circle cx="1114.5" cy="1778.5" r="4.6" fill="#f8291b"/>
<circle cx="1112.8" cy="1766.7" r="4.6" fill="#f8291b"/>
<circle cx="1092.1" cy="1710.9" r="4.6" fill="#f8291b"/>
<circle cx="1091.1" cy="1778.5" r="4.6" fill="#f8291b"/>
<circle cx="1103.9" cy="1765.7" r="4.6" fill="#f8291b"/>
<circle cx="1123.1" cy="1744.8" r="4.6" fill="#f8291b"/>
<circle cx="1095.2" cy="1804.3" r="4.6" fill="#f8291b"/>
<circle cx="1093.2" cy="1752.7" r="4.6" fill="#f8291b"/>
<circle cx="1116.4" cy="1796.4" r="4.6" fill="#f8291b"/>
<circle cx="1091.1" cy="1780.2" r="4.6" fill="#f8291b"/>
<circle cx="1091.5" cy="1771.0" r="4.6" fill="#f8291b"/>
<circle cx="1110.9" cy="1744.0" r="4.6" fill="#f8291b"/>
<circle cx="1119.6" cy="1789.3" r="4.6" fill="#f8291b"/>
<circle cx="1094.1" cy="1752.0" r="4.6" fill="#f8291b"/>
<circle cx="1097.4" cy="1769.9" r="4.6" fill="#f8291b"/>
<circle cx="1118.5" cy="1744.0" r="4.6" fill="#f8291b"/>
<circle cx="1119.7" cy="1757.5" r="4.6" fill="#f8291b"/>
<circle cx="1116.9" cy="1807.0" r="4.6" fill="#f8291b"/>
<circle cx="1123.5" cy="1776.8" r="4.6" fill="#f8291b"/>
<circle cx="1113.0" cy="1774.4" r="4.6" fill="#f8291b"/>
<circle cx="1124.6" cy="1762.1" r="4.6" fill="#f8291b"/>
<circle cx="1094.8" cy="1725.8" r="4.6" fill="#f8291b"/>
<circle cx="1117.4" cy="1756.7" r="4.6" fill="#f8291b"/>
<circle cx="1113.5" cy="1736.9" r="4.6" fill="#f8291b"/>
<circle cx="1123.2" cy="1743.2" r="4.6" fill="#f8291b"/>
<circle cx="1114.9" cy="1785.2" r="4.6" fill="#f8291b"/>
<circle cx="1098.9" cy="1731.4" r="4.6" fill="#f8291b"/>
<circle cx="1109.7" cy="1719.9" r="4.6" fill="#f8291b"/>
<circle cx="1123.2" cy="1797.8" r="4.6" fill="#f8291b"/>
<circle cx="1095.7" cy="1766.1" r="4.6" fill="#f8291b"/>
<circle cx="1122.0" cy="1795.7" r="4.6" fill="#f8291b"/>
<circle cx="1099.8" cy="1756.9" r="4.6" fill="#f8291b"/>
<circle cx="1091.1" cy="1759.4" r="4.6" fill="#f8291b"/>
<circle cx="1091.2" cy="1739.3" r="4.6" fill="#f8291b"/>
<circle cx="1119.0" cy="1771.8" r="4.6" fill="#f8291b"/>
<circle cx="1122.4" cy="1767.0" r="4.6" fill="#f8291b"/>
<circle cx="1118.1" cy="1788.4" r="4.6" fill="#f8291b"/>
<circle cx="1105.5" cy="1802.2" r="4.6" fill="#f8291b"/>
<circle cx="1117.5" cy="1758.5" r="4.6" fill="#f8291b"/>
<circle cx="1119.8" cy="1780.7" r="4.6" fill="#f8291b"/>
<circle cx="1123.4" cy="1800.4" r="4.6" fill="#f8291b"/>
<circle cx="1107.0" cy="1772.5" r="4.6" fill="#f8291b"/>
<circle cx="1097.7" cy="1747.4" r="4.6" fill="#f8291b"/>
<circle cx="1102.3" cy="1760.3" r="4.6" fill="#f8291b"/>
<circle cx="1116.0" cy="1777.3" r="4.6" fill="#f8291b"/>
<circle cx="1123.7" cy="1760.8" r="4.6" fill="#f8291b"/>
<circle cx="1094.4" cy="1734.8" r="4.6" fill="#f8291b"/>
<circle cx="1101.9" cy="1753.4" r="4.6" fill="#f8291b"/>
<circle cx="1102.2" cy="1723.2" r="4.6" fill="#f8291b"/>
<circle cx="1108.1" cy="1757.8" r="4.6" fill="#f8291b"/>
<circle cx="1123.3" cy="1750.6" r="4.6" fill="#f8291b"/>
<circle cx="1117.7" cy="1752.3" r="4.6" fill="#f8291b"/>
<circle cx="1098.1" cy="1726.4" r="4.6" fill="#f8291b"/>
<circle cx="1110.9" cy="1748.9" r="4.6" fill="#f8291b"/>
<circle cx="1098.2" cy="1802.8" r="4.6" fill="#f8291b"/>
<circle cx="1094.9" cy="1801.1" r="4.6" fill="#f8291b"/>
<circle cx="1111.7" cy="1727.4" r="4.6" fill="#f8291b"/>
<circle cx="1095.4" cy="1702.9" r="4.6" fill="#f8291b"/>
<circle cx="1114.5" cy="1785.1" r="4.6" fill="#f8291b"/>
<circle cx="1102.4" cy="1763.1" r="4.6" fill="#f8291b"/>
<circle cx="1118.5" cy="1787.9" r="4.6" fill="#f8291b"/>
<circle cx="1114.6" cy="1798.6" r="4.6" fill="#f8291b"/>
<circle cx="1121.0" cy="1782.3" r="4.6" fill="#f8291b"/>
<circle cx="1092.1" cy="1724.4" r="4.6" fill="#f8291b"/>
<circle cx="1100.6" cy="1790.5" r="4.6" fill="#f8291b"/>
<circle cx="1109.5" cy="1706.7" r="4.6" fill="#f8291b"/>
<circle cx="1115.3" cy="1732.4" r="4.6" fill="#f8291b"/>
<circle cx="1112.0" cy="1751.3" r="4.6" fill="#f8291b"/>
<circle cx="1103.7" cy="1706.3" r="4.6" fill="#f8291b"/>
<circle cx="1121.1" cy="1783.1" r="4.6" fill="#f8291b"/>
<circle cx="1106.1" cy="1798.1" r="4.6" fill="#f8291b"/>
<circle cx="1118.3" cy="1789.2" r="4.6" fill="#f8291b"/>
<circle cx="1101.5" cy="1765.3" r="4.6" fill="#f8291b"/>
<circle cx="1126.4" cy="1756.5" r="4.6" fill="#f8291b"/>
<circle cx="1098.2" cy="1797.7" r="4.6" fill="#f8291b"/>
<circle cx="1123.9" cy="1749.4" r="4.6" fill="#f8291b"/>
<circle cx="1104.7" cy="1799.1" r="4.6" fill="#f8291b"/>
<circle cx="1106.2" cy="1708.8" r="4.6" fill="#f8291b"/>
<circle cx="1095.6" cy="1723.6" r="4.6" fill="#f8291b"/>
<circle cx="1092.5" cy="1739.6" r="4.6" fill="#f8291b"/>
<circle cx="1124.8" cy="1791.6" r="4.6" fill="#f8291b"/>
<circle cx="1112.9" cy="1787.5" r="4.6" fill="#f8291b"/>
<circle cx="1096.2" cy="1791.5" r="4.6" fill="#f8291b"/>
<circle cx="1122.2" cy="1748.7" r="4.6" fill="#f8291b"/>
<circle cx="1111.8" cy="1805.3" r="4.6" fill="#f8291b"/>
<circle cx="1101.5" cy="1804.3" r="4.6" fill="#f8291b"/>
<circle cx="1096.1" cy="1790.8" r="4.6" fill="#f8291b"/>
<circle cx="1110.6" cy="1782.3" r="4.6" fill="#f8291b"/>
<circle cx="1096.5" cy="1710.7" r="4.6" fill="#f8291b"/>
<circle cx="1107.9" cy="1764.6" r="4.6" fill="#f8291b"/>
<circle cx="1123.2" cy="1804.1" r="4.6" fill="#f8291b"/>
<circle cx="1126.5" cy="1792.5" r="4.6" fill="#f8291b"/>
<circle cx="1097.0" cy="1788.1" r="4.6" fill="#f8291b"/>
<circle cx="1105.6" cy="1746.3" r="4.6" fill="#f8291b"/>
<circle cx="1103.5" cy="1806.8" r="4.6" fill="#f8291b"/>
<circle cx="1118.3" cy="1775.2" r="4.6" fill="#f8291b"/>
<circle cx="1104.9" cy="1712.1" r="4.6" fill="#f8291b"/>
<circle cx="1119.5" cy="1763.0" r="4.6" fill="#f8291b"/>
<circle cx="1120.9" cy="1752.2" r="4.6" fill="#f8291b"/>
<circle cx="1102.3" cy="1788.5" r="4.6" fill="#f8291b"/>
<circle cx="1116.0" cy="1743.3" r="4.6" fill="#f8291b"/>
<circle cx="1110.7" cy="1772.7" r="4.6" fill="#f8291b"/>
<circle cx="1114.6" cy="1804.6" r="4.6" fill="#f8291b"/>
<circle cx="1093.7" cy="1750.9" r="4.6" fill="#f8291b"/>
<circle cx="1103.1" cy="1729.1" r="4.6" fill="#f8291b"/>
<circle cx="1096.3" cy="1754.8" r="4.6" fill="#f8291b"/>
<circle cx="1098.7" cy="1775.6" r="4.6" fill="#f8291b"/>
<circle cx="1100.4" cy="1733.5" r="4.6" fill="#f8291b"/>
<circle cx="1110.2" cy="1779.9" r="4.6" fill="#f8291b"/>
<circle cx="1096.1" cy="1792.9" r="4.6" fill="#f8291b"/>
<circle cx="1110.4" cy="1724.2" r="4.6" fill="#f8291b"/>
<circle cx="1118.9" cy="1757.7" r="4.6" fill="#f8291b"/>
<circle cx="1106.8" cy="1712.4" r="4.6" fill="#f8291b"/>
<circle cx="1099.6" cy="1737.7" r="4.6" fill="#f8291b"/>
<circle cx="1123.1" cy="1766.5" r="4.6" fill="#f8291b"/>
<circle cx="1109.0" cy="1753.8" r="4.6" fill="#f8291b"/>
<circle cx="1120.4" cy="1758.0" r="4.6" fill="#f8291b"/>
<circle cx="1114.7" cy="1715.2" r="4.6" fill="#f8291b"/>
<circle cx="1099.2" cy="1808.3" r="4.6" fill="#f8291b"/>
<circle cx="1097.1" cy="1718.0" r="4.6" fill="#f8291b"/>
<circle cx="1106.4" cy="1807.5" r="4.6" fill="#f8291b"/>
<circle cx="1104.3" cy="1723.1" r="4.6" fill="#f8291b"/>
<circle cx="1120.1" cy="1765.2" r="4.6" fill="#f8291b"/>
<circle cx="1127.5" cy="1775.2" r="4.6" fill="#f8291b"/>
<circle cx="1103.3" cy="1803.6" r="4.6" fill="#f8291b"/>
<circle cx="1092.0" cy="1782.2" r="4.6" fill="#f8291b"/>
<circle cx="1118.4" cy="1784.2" r="4.6" fill="#f8291b"/>
<circle cx="1119.7" cy="1744.4" r="4.6" fill="#f8291b"/>
<circle cx="1093.6" cy="1702.2" r="4.6" fill="#f8291b"/>
<circle cx="1116.7" cy="1798.1" r="4.6" fill="#f8291b"/>
<circle cx="1101.6" cy="1736.1" r="4.6" fill="#f8291b"/>
<circle cx="1092.4" cy="1798.5" r="4.6" fill="#f8291b"/>
<circle cx="1096.5" cy="1733.4" r="4.6" fill="#f8291b"/>
<circle cx="1099.5" cy="1797.5" r="4.6" fill="#f8291b"/>
<circle cx="1119.4" cy="1754.0" r="4.6" fill="#f8291b"/>
<circle cx="1115.8" cy="1797.1" r="4.6" fill="#f8291b"/>
<circle cx="1106.2" cy="1758.6" r="4.6" fill="#f8291b"/>
<circle cx="1095.8" cy="1758.6" r="4.6" fill="#f8291b"/>
<circle cx="1123.0" cy="1743.5" r="4.6" fill="#f8291b"/>
<circle cx="1103.8" cy="1777.2" r="4.6" fill="#f8291b"/>
<circle cx="1100.9" cy="1796.7" r="4.6" fill="#f8291b"/>
<circle cx="1091.7" cy="1802.6" r="4.6" fill="#f8291b"/>
<circle cx="1108.6" cy="1770.8" r="4.6" fill="#f8291b"/>
<circle cx="1111.9" cy="1731.7" r="4.6" fill="#f8291b"/>
<circle cx="1124.8" cy="1778.4" r="4.6" fill="#f8291b"/>
<circle cx="1121.8" cy="1787.0" r="4.6" fill="#f8291b"/>
<circle cx="1090.7" cy="1766.1" r="4.6" fill="#f8291b"/>
<circle cx="1115.8" cy="1719.2" r="4.6" fill="#f8291b"/>
<circle cx="1120.1" cy="1765.7" r="4.6" fill="#f8291b"/>
<circle cx="1128.0" cy="1789.7" r="4.6" fill="#f8291b"/>
<circle cx="1095.1" cy="1798.2" r="4.6" fill="#f8291b"/>
<circle cx="1111.7" cy="1794.4" r="4.6" fill="#f8291b"/>
<circle cx="1101.7" cy="1749.0" r="4.6" fill="#f8291b"/>
<circle cx="1111.6" cy="1772.7" r="4.6" fill="#f8291b"/>
<circle cx="1110.2" cy="1755.4" r="4.6" fill="#f8291b"/>
<circle cx="1096.2" cy="1785.3" r="4.6" fill="#f8291b"/>
<circle cx="1121.8" cy="1802.5" r="4.6" fill="#f8291b"/>
<circle cx="1109.7" cy="1750.5" r="4.6" fill="#f8291b"/>
<circle cx="1114.5" cy="1776.9" r="4.6" fill="#f8291b"/>
<circle cx="1120.2" cy="1737.5" r="4.6" fill="#f8291b"/>
<circle cx="1109.3" cy="1753.7" r="4.6" fill="#f8291b"/>
<circle cx="1093.1" cy="1807.0" r="4.6" fill="#f8291b"/>
<circle cx="1090.5" cy="1799.9" r="4.6" fill="#f8291b"/>
<circle cx="1104.2" cy="1806.3" r="4.6" fill="#f8291b"/>
<circle cx="1125.8" cy="1796.1" r="4.6" fill="#f8291b"/>
<circle cx="1104.6" cy="1786.1" r="4.6" fill="#f8291b"/>
<circle cx="1105.0" cy="1750.6" r="4.6" fill="#f8291b"/>
<circle cx="1109.6" cy="1805.7" r="4.6" fill="#f8291b"/>
<circle cx="1116.5" cy="1783.8" r="4.6" fill="#f8291b"/>
<circle cx="1093.8" cy="1755.9" r="4.6" fill="#f8291b"/>
<circle cx="1104.1" cy="1702.3" r="4.6" fill="#f8291b"/>
<circle cx="1110.8" cy="1786.3" r="4.6" fill="#f8291b"/>
<circle cx="1098.7" cy="1718.3" r="4.6" fill="#f8291b"/>
<circle cx="1105.1" cy="1758.9" r="4.6" fill="#f8291b"/>
<circle cx="1107.2" cy="1763.5" r="4.6" fill="#f8291b"/>
<circle cx="1112.7" cy="1777.0" r="4.6" fill="#f8291b"/>
<circle cx="1113.6" cy="1724.2" r="4.6" fill="#f8291b"/>
<circle cx="1107.0" cy="1801.6" r="4.6" fill="#f8291b"/>
<circle cx="1093.6" cy="1723.8" r="4.6" fill="#f8291b"/>
<circle cx="1121.4" cy="1745.3" r="4.6" fill="#f8291b"/>
<circle cx="1118.1" cy="1774.1" r="4.6" fill="#f8291b"/>
<circle cx="1106.5" cy="1770.4" r="4.6" fill="#f8291b"/>
<circle cx="1104.3" cy="1741.8" r="4.6" fill="#f8291b"/>
<circle cx="1103.8" cy="1723.9" r="4.6" fill="#f8291b"/>
<circle cx="1124.8" cy="1779.0" r="4.6" fill="#f8291b"/>
<circle cx="1124.3" cy="1762.6" r="4.6" fill="#f8291b"/>
<circle cx="1094.7" cy="1765.7" r="4.6" fill="#f8291b"/>
<circle cx="1100.5" cy="1775.8" r="4.6" fill="#f8291b"/>
<circle cx="1123.7" cy="1792.2" r="4.6" fill="#f8291b"/>
<circle cx="1100.3" cy="1808.2" r="4.6" fill="#f8291b"/>
<circle cx="1094.4" cy="1721.8" r="4.6" fill="#f8291b"/>
<circle cx="1120.5" cy="1761.0" r="4.6" fill="#f8291b"/>
<circle cx="1106.4" cy="1806.2" r="4.6" fill="#f8291b"/>
<circle cx="1122.9" cy="1793.5" r="4.6" fill="#f8291b"/>
<circle cx="1125.9" cy="1793.6" r="4.6" fill="#f8291b"/>
<circle cx="1111.4" cy="1743.2" r="4.6" fill="#f8291b"/>
<circle cx="1095.2" cy="1696.7" r="4.6" fill="#f8291b"/>
<circle cx="1113.4" cy="1740.0" r="4.6" fill="#f8291b"/>
<circle cx="1111.7" cy="1788.5" r="4.6" fill="#f8291b"/>
<circle cx="1104.2" cy="1801.5" r="4.6" fill="#f8291b"/>
<circle cx="1106.4" cy="1800.3" r="4.6" fill="#f8291b"/>
<circle cx="1094.5" cy="1803.4" r="4.6" fill="#f8291b"/>
<circle cx="1097.8" cy="1733.4" r="4.6" fill="#f8291b"/>
<circle cx="1098.2" cy="1755.7" r="4.6" fill="#f8291b"/>
<circle cx="1096.3" cy="1786.4" r="4.6" fill="#f8291b"/>
<circle cx="1108.3" cy="1725.7" r="4.6" fill="#f8291b"/>
<circle cx="1091.6" cy="1790.7" r="4.6" fill="#f8291b"/>
<circle cx="1126.4" cy="1789.6" r="4.6" fill="#f8291b"/>
<circle cx="1124.1" cy="1780.3" r="4.6" fill="#f8291b"/>
<circle cx="1097.1" cy="1775.7" r="4.6" fill="#f8291b"/>
<circle cx="1091.7" cy="1723.9" r="4.6" fill="#f8291b"/>
<circle cx="1118.3" cy="1786.0" r="4.6" fill="#f8291b"/>
<circle cx="1108.1" cy="1737.1" r="4.6" fill="#f8291b"/>
<circle cx="1105.7" cy="1798.0" r="4.6" fill="#f8291b"/>
<circle cx="1118.2" cy="1724.0" r="4.6" fill="#f8291b"/>
<circle cx="1095.3" cy="1723.4" r="4.6" fill="#f8291b"/>
<circle cx="1104.3" cy="1736.0" r="4.6" fill="#f8291b"/>
<circle cx="1100.8" cy="1749.8" r="4.6" fill="#f8291b"/>
<circle cx="1121.4" cy="1759.9" r="4.6" fill="#f8291b"/>
<circle cx="1107.4" cy="1800.6" r="4.6" fill="#f8291b"/>
<circle cx="1096.9" cy="1787.1" r="4.6" fill="#f8291b"/>
<circle cx="1127.6" cy="1805.5" r="4.6" fill="#f8291b"/>
<circle cx="1120.8" cy="1755.8" r="4.6" fill="#f8291b"/>
<circle cx="1094.4" cy="1771.5" r="4.6" fill="#f8291b"/>
<circle cx="1126.8" cy="1795.3" r="4.6" fill="#f8291b"/>
<circle cx="1095.6" cy="1735.5" r="4.6" fill="#f8291b"/>
<circle cx="1113.0" cy="1786.3" r="4.6" fill="#f8291b"/>
<circle cx="1121.5" cy="1769.1" r="4.6" fill="#f8291b"/>
<circle cx="1113.0" cy="1798.5" r="4.6" fill="#f8291b"/>
<circle cx="1104.6" cy="1800.4" r="4.6" fill="#f8291b"/>
<circle cx="1106.9" cy="1716.2" r="4.6" fill="#f8291b"/>
<circle cx="1093.2" cy="1740.4" r="4.6" fill="#f8291b"/>
<circle cx="1126.3" cy="1779.1" r="4.6" fill="#f8291b"/>
<circle cx="1110.3" cy="1733.6" r="4.6" fill="#f8291b"/>
<circle cx="1105.6" cy="1768.4" r="4.6" fill="#f8291b"/>
<circle cx="1113.7" cy="1760.6" r="4.6" fill="#f8291b"/>
<circle cx="1093.3" cy="1690.9" r="4.6" fill="#f8291b"/>
<circle cx="1125.5" cy="1754.8" r="4.6" fill="#f8291b"/>
<circle cx="1090.1" cy="1767.6" r="4.6" fill="#f8291b"/>
<circle cx="1108.0" cy="1708.2" r="4.6" fill="#f8291b"/>
<circle cx="1117.6" cy="1785.7" r="4.6" fill="#f8291b"/>
<circle cx="1107.4" cy="1747.8" r="4.6" fill="#f8291b"/>
<circle cx="1104.8" cy="1746.4" r="4.6" fill="#f8291b"/>
<circle cx="1091.2" cy="1773.9" r="4.6" fill="#f8291b"/>
<circle cx="1126.9" cy="1808.3" r="4.6" fill="#f8291b"/>
<circle cx="1098.3" cy="1776.7" r="4.6" fill="#f8291b"/>
<circle cx="1098.3" cy="1800.4" r="4.6" fill="#f8291b"/>
<circle cx="1103.6" cy="1782.7" r="4.6" fill="#f8291b"/>
<circle cx="1116.2" cy="1758.0" r="4.6" fill="#f8291b"/>
<circle cx="1094.5" cy="1795.0" r="4.6" fill="#f8291b"/>
<circle cx="1101.9" cy="1804.8" r="4.6" fill="#f8291b"/>
<circle cx="1098.1" cy="1751.4" r="4.6" fill="#f8291b"/>
<circle cx="1108.5" cy="1790.9" r="4.6" fill="#f8291b"/>
<circle cx="1114.5" cy="1782.8" r="4.6" fill="#f8291b"/>
<circle cx="1112.3" cy="1775.8" r="4.6" fill="#f8291b"/>
<circle cx="1105.5" cy="1712.4" r="4.6" fill="#f8291b"/>
<circle cx="1090.0" cy="1753.6" r="4.6" fill="#f8291b"/>
<circle cx="1113.6" cy="1769.7" r="4.6" fill="#f8291b"/>
<circle cx="1116.3" cy="1744.0" r="4.6" fill="#f8291b"/>
<circle cx="1121.4" cy="1756.5" r="4.6" fill="#f8291b"/>
<circle cx="1090.8" cy="1691.8" r="4.6" fill="#f8291b"/>
<circle cx="1110.5" cy="1767.0" r="4.6" fill="#f8291b"/>
<circle cx="1116.3" cy="1777.4" r="4.6" fill="#f8291b"/>
<circle cx="1119.9" cy="1733.5" r="4.6" fill="#f8291b"/>
<circle cx="1114.6" cy="1751.2" r="4.6" fill="#f8291b"/>
<circle cx="1106.9" cy="1789.9" r="4.6" fill="#f8291b"/>
<circle cx="1115.0" cy="1804.7" r="4.6" fill="#f8291b"/>
<circle cx="1105.6" cy="1803.7" r="4.6" fill="#f8291b"/>
<circle cx="1111.2" cy="1717.1" r="4.6" fill="#f8291b"/>
<circle cx="1090.0" cy="1778.4" r="4.6" fill="#f8291b"/>
<circle cx="1097.9" cy="1757.3" r="4.6" fill="#f8291b"/>
<circle cx="1094.5" cy="1764.6" r="4.6" fill="#f8291b"/>
<circle cx="1102.4" cy="1714.2" r="4.6" fill="#f8291b"/>
<circle cx="1117.5" cy="1802.2" r="4.6" fill="#f8291b"/>
<circle cx="1124.1" cy="1745.8" r="4.6" fill="#f8291b"/>
<circle cx="1113.2" cy="1732.8" r="4.6" fill="#f8291b"/>
<circle cx="1119.7" cy="1788.3" r="4.6" fill="#f8291b"/>
<circle cx="1119.5" cy="1761.8" r="4.6" fill="#f8291b"/>
<circle cx="1094.8" cy="1780.2" r="4.6" fill="#f8291b"/>
<circle cx="1120.5" cy="1783.9" r="4.6" fill="#f8291b"/>
<circle cx="1091.0" cy="1790.5" r="4.6" fill="#f8291b"/>
<circle cx="1124.9" cy="1780.1" r="4.6" fill="#f8291b"/>
<circle cx="1094.4" cy="1796.0" r="4.6" fill="#f8291b"/>
<circle cx="1121.3" cy="1755.6" r="4.6" fill="#f8291b"/>
<circle cx="1105.0" cy="1736.4" r="4.6" fill="#f8291b"/>
<circle cx="1103.5" cy="1800.6" r="4.6" fill="#f8291b"/>
<circle cx="1120.0" cy="1803.8" r="4.6" fill="#f8291b"/>
<circle cx="1098.7" cy="1754.0" r="4.6" fill="#f8291b"/>
<circle cx="1112.4" cy="1783.9" r="4.6" fill="#f8291b"/>
<circle cx="1115.1" cy="1786.3" r="4.6" fill="#f8291b"/>
<circle cx="1103.4" cy="1711.6" r="4.6" fill="#f8291b"/>
<circle cx="1097.6" cy="1708.2" r="4.6" fill="#f8291b"/>
<circle cx="1108.1" cy="1754.9" r="4.6" fill="#f8291b"/>
<circle cx="1118.1" cy="1779.8" r="4.6" fill="#f8291b"/>
<circle cx="1126.9" cy="1768.0" r="4.6" fill="#f8291b"/>
<circle cx="1106.4" cy="1803.9" r="4.6" fill="#f8291b"/>
<circle cx="1126.0" cy="1808.0" r="4.6" fill="#f8291b"/>
<circle cx="1100.2" cy="1781.1" r="4.6" fill="#f8291b"/>
<circle cx="1122.8" cy="1754.3" r="4.6" fill="#f8291b"/>
<circle cx="1116.9" cy="1731.5" r="4.6" fill="#f8291b"/>
<circle cx="1124.7" cy="1792.9" r="4.6" fill="#f8291b"/>
<circle cx="1111.8" cy="1796.3" r="4.6" fill="#f8291b"/>
<circle cx="1105.3" cy="1774.8" r="4.6" fill="#f8291b"/>
<circle cx="1102.7" cy="1776.2" r="4.6" fill="#f8291b"/>
<circle cx="1115.3" cy="1780.1" r="4.6" fill="#f8291b"/>
<circle cx="1118.2" cy="1791.0" r="4.6" fill="#f8291b"/>
<circle cx="1098.7" cy="1788.8" r="4.6" fill="#f8291b"/>
<circle cx="1116.2" cy="1793.6" r="4.6" fill="#f8291b"/>
<circle cx="1090.4" cy="1793.3" r="4.6" fill="#f8291b"/>
<circle cx="1116.9" cy="1767.0" r="4.6" fill="#f8291b"/>
<circle cx="1091.8" cy="1773.4" r="4.6" fill="#f8291b"/>
<circle cx="1119.8" cy="1727.4" r="4.6" fill="#f8291b"/>
<circle cx="1102.6" cy="1769.1" r="4.6" fill="#f8291b"/>
<circle cx="1114.2" cy="1793.4" r="4.6" fill="#f8291b"/>
<circle cx="1119.4" cy="1808.1" r="4.6" fill="#f8291b"/>
<circle cx="1124.7" cy="1792.2" r="4.6" fill="#f8291b"/>
<circle cx="1105.1" cy="1702.3" r="4.6" fill="#f8291b"/>
<circle cx="1101.5" cy="1712.3" r="4.6" fill="#f8291b"/>
<circle cx="1120.9" cy="1776.2" r="4.6" fill="#f8291b"/>
<circle cx="1114.0" cy="1804.9" r="4.6" fill="#f8291b"/>
<circle cx="1115.5" cy="1730.4" r="4.6" fill="#f8291b"/>
<circle cx="1092.6" cy="1790.8" r="4.6" fill="#f8291b"/>
<circle cx="1120.8" cy="1732.4" r="4.6" fill="#f8291b"/>
<circle cx="1118.8" cy="1793.7" r="4.6" fill="#f8291b"/>
<circle cx="1108.9" cy="1807.7" r="4.6" fill="#f8291b"/>
<circle cx="1114.8" cy="1782.9" r="4.6" fill="#f8291b"/>
<circle cx="1110.4" cy="1795.3" r="4.6" fill="#f8291b"/>
<circle cx="1093.1" cy="1753.7" r="4.6" fill="#f8291b"/>
<circle cx="1097.2" cy="1722.9" r="4.6" fill="#f8291b"/>
<circle cx="1098.3" cy="1713.7" r="4.6" fill="#f8291b"/>
<circle cx="1094.6" cy="1762.0" r="4.6" fill="#f8291b"/>
<circle cx="1100.0" cy="1712.3" r="4.6" fill="#f8291b"/>
<circle cx="1092.6" cy="1762.8" r="4.6" fill="#f8291b"/>
<circle cx="1103.9" cy="1805.2" r="4.6" fill="#f8291b"/>
<circle cx="1115.3" cy="1741.5" r="4.6" fill="#f8291b"/>
<circle cx="1109.6" cy="1746.4" r="4.6" fill="#f8291b"/>
<circle cx="1117.2" cy="1742.5" r="4.6" fill="#f8291b"/>
<circle cx="1103.3" cy="1792.3" r="4.6" fill="#f8291b"/>
<circle cx="1089.8" cy="1750.8" r="4.6" fill="#f8291b"/>
<circle cx="1104.3" cy="1740.5" r="4.6" fill="#f8291b"/>
<circle cx="1093.9" cy="1731.6" r="4.6" fill="#f8291b"/>
<circle cx="1117.8" cy="1800.2" r="4.6" fill="#f8291b"/>
<circle cx="1096.4" cy="1791.8" r="4.6" fill="#f8291b"/>
<circle cx="1113.5" cy="1748.9" r="4.6" fill="#f8291b"/>
<circle cx="1093.7" cy="1770.0" r="4.6" fill="#f8291b"/>
<circle cx="1099.7" cy="1732.4" r="4.6" fill="#f8291b"/>
<circle cx="1110.6" cy="1779.8" r="4.6" fill="#f8291b"/>
<circle cx="1094.0" cy="1778.3" r="4.6" fill="#f8291b"/>
<circle cx="1093.5" cy="1739.5" r="4.6" fill="#f8291b"/>
<circle cx="1097.7" cy="1757.7" r="4.6" fill="#f8291b"/>
<circle cx="1121.1" cy="1799.7" r="4.6" fill="#f8291b"/>
<circle cx="1089.7" cy="1799.8" r="4.6" fill="#f8291b"/>
<circle cx="1124.8" cy="1750.7" r="4.6" fill="#f8291b"/>
<circle cx="1090.3" cy="1723.7" r="4.6" fill="#f8291b"/>
<circle cx="1090.5" cy="1693.4" r="4.6" fill="#f8291b"/>
<circle cx="1097.9" cy="1730.6" r="4.6" fill="#f8291b"/>
<circle cx="1112.9" cy="1720.9" r="4.6" fill="#f8291b"/>
<circle cx="1124.6" cy="1786.6" r="4.6" fill="#f8291b"/>
<circle cx="1092.5" cy="1755.5" r="4.6" fill="#f8291b"/>
<circle cx="1094.1" cy="1789.2" r="4.6" fill="#f8291b"/>
<circle cx="1126.9" cy="1807.5" r="4.6" fill="#f8291b"/>
<circle cx="1096.8" cy="1742.9" r="4.6" fill="#f8291b"/>
<circle cx="1126.6" cy="1787.1" r="4.6" fill="#f8291b"/>
<circle cx="1118.8" cy="1771.8" r="4.6" fill="#f8291b"/>
<circle cx="1123.3" cy="1764.8" r="4.6" fill="#f8291b"/>
<circle cx="1089.7" cy="1699.0" r="4.6" fill="#f8291b"/>
<circle cx="1094.0" cy="1752.9" r="4.6" fill="#f8291b"/>
<circle cx="1104.8" cy="1725.3" r="4.6" fill="#f8291b"/>
<circle cx="1107.1" cy="1728.1" r="4.6" fill="#f8291b"/>
<circle cx="1099.9" cy="1735.0" r="4.6" fill="#f8291b"/>
<circle cx="1097.8" cy="1730.1" r="4.6" fill="#f8291b"/>
<circle cx="1123.4" cy="1771.4" r="4.6" fill="#f8291b"/>
<circle cx="1108.2" cy="1757.0" r="4.6" fill="#f8291b"/>
<circle cx="1114.7" cy="1803.5" r="4.6" fill="#f8291b"/>
<circle cx="1090.7" cy="1740.3" r="4.6" fill="#f8291b"/>
<circle cx="1099.9" cy="1801.1" r="4.6" fill="#f8291b"/>
<circle cx="1118.9" cy="1747.8" r="4.6" fill="#f8291b"/>
<circle cx="1122.6" cy="1746.7" r="4.6" fill="#f8291b"/>
<circle cx="1100.0" cy="1707.5" r="4.6" fill="#f8291b"/>
<circle cx="1106.2" cy="1762.6" r="4.6" fill="#f8291b"/>
<circle cx="1126.2" cy="1757.9" r="4.6" fill="#f8291b"/>
<circle cx="1102.9" cy="1787.0" r="4.6" fill="#f8291b"/>
<circle cx="1106.8" cy="1775.2" r="4.6" fill="#f8291b"/>
<circle cx="1090.2" cy="1787.2" r="4.6" fill="#f8291b"/>
<circle cx="1100.4" cy="1800.5" r="4.6" fill="#f8291b"/>
<circle cx="1115.1" cy="1761.7" r="4.6" fill="#f8291b"/>
<circle cx="1090.6" cy="1763.7" r="4.6" fill="#f8291b"/>
<circle cx="1112.5" cy="1760.5" r="4.6" fill="#f8291b"/>
<circle cx="1121.7" cy="1762.8" r="4.6" fill="#f8291b"/>
<circle cx="1128.0" cy="1808.7" r="4.6" fill="#f8291b"/>
<circle cx="1092.4" cy="1780.6" r="4.6" fill="#f8291b"/>
<circle cx="1103.3" cy="1745.5" r="4.6" fill="#f8291b"/>
<circle cx="1117.8" cy="1759.5" r="4.6" fill="#f8291b"/>
<circle cx="1119.3" cy="1737.9" r="4.6" fill="#f8291b"/>
<circle cx="1097.9" cy="1798.3" r="4.6" fill="#f8291b"/>
<circle cx="1126.3" cy="1802.8" r="4.6" fill="#f8291b"/>
<circle cx="1115.6" cy="1787.5" r="4.6" fill="#f8291b"/>
<circle cx="1106.9" cy="1783.7" r="4.6" fill="#f8291b"/>
<circle cx="1090.6" cy="1752.8" r="4.6" fill="#f8291b"/>
<circle cx="1090.4" cy="1684.9" r="4.6" fill="#f8291b"/>
<circle cx="1108.5" cy="1799.1" r="4.6" fill="#f8291b"/>
<circle cx="1089.8" cy="1779.3" r="4.6" fill="#f8291b"/>
<circle cx="1102.4" cy="1742.9" r="4.6" fill="#f8291b"/>
<circle cx="1113.5" cy="1791.2" r="4.6" fill="#f8291b"/>
<circle cx="1112.9" cy="1788.8" r="4.6" fill="#f8291b"/>
<circle cx="1104.3" cy="1773.7" r="4.6" fill="#f8291b"/>
<circle cx="1115.7" cy="1786.2" r="4.6" fill="#f8291b"/>
<circle cx="1107.1" cy="1782.3" r="4.6" fill="#f8291b"/>
<circle cx="1102.9" cy="1741.4" r="4.6" fill="#f8291b"/>
<circle cx="1092.8" cy="1746.8" r="4.6" fill="#f8291b"/>
<circle cx="1100.1" cy="1768.9" r="4.6" fill="#f8291b"/>
<circle cx="1109.5" cy="1773.3" r="4.6" fill="#f8291b"/>
<circle cx="1119.0" cy="1741.1" r="4.6" fill="#f8291b"/>
<circle cx="1107.7" cy="1804.1" r="4.6" fill="#f8291b"/>
<circle cx="1107.6" cy="1773.5" r="4.6" fill="#f8291b"/>
<circle cx="1118.9" cy="1796.3" r="4.6" fill="#f8291b"/>
<circle cx="1095.4" cy="1734.0" r="4.6" fill="#f8291b"/>
<circle cx="1103.2" cy="1767.7" r="4.6" fill="#f8291b"/>
<circle cx="1093.6" cy="1797.2" r="4.6" fill="#f8291b"/>
<circle cx="1126.5" cy="1800.0" r="4.6" fill="#f8291b"/>
<circle cx="1095.8" cy="1759.9" r="4.6" fill="#f8291b"/>
<circle cx="1123.4" cy="1796.6" r="4.6" fill="#f8291b"/>
<circle cx="1149.4" cy="1723.3" r="4.6" fill="#f8291b"/>
<circle cx="1154.0" cy="1713.3" r="4.6" fill="#f8291b"/>
<circle cx="1152.5" cy="1794.2" r="4.6" fill="#f8291b"/>
<circle cx="1138.3" cy="1762.8" r="4.6" fill="#f8291b"/>
<circle cx="1170.7" cy="1756.6" r="4.6" fill="#f8291b"/>
<circle cx="1150.0" cy="1785.4" r="4.6" fill="#f8291b"/>
<circle cx="1163.6" cy="1765.4" r="4.6" fill="#f8291b"/>
<circle cx="1138.4" cy="1790.7" r="4.6" fill="#f8291b"/>
<circle cx="1146.9" cy="1784.2" r="4.6" fill="#f8291b"/>
<circle cx="1143.0" cy="1769.6" r="4.6" fill="#f8291b"/>
<circle cx="1148.1" cy="1753.8" r="4.6" fill="#f8291b"/>
<circle cx="1136.8" cy="1755.0" r="4.6" fill="#f8291b"/>
<circle cx="1157.8" cy="1731.2" r="4.6" fill="#f8291b"/>
<circle cx="1152.0" cy="1702.0" r="4.6" fill="#f8291b"/>
<circle cx="1143.3" cy="1787.3" r="4.6" fill="#f8291b"/>
<circle cx="1145.4" cy="1748.2" r="4.6" fill="#f8291b"/>
<circle cx="1135.9" cy="1796.6" r="4.6" fill="#f8291b"/>
<circle cx="1165.6" cy="1780.3" r="4.6" fill="#f8291b"/>
<circle cx="1153.3" cy="1731.3" r="4.6" fill="#f8291b"/>
<circle cx="1156.2" cy="1793.3" r="4.6" fill="#f8291b"/>
<circle cx="1137.9" cy="1753.9" r="4.6" fill="#f8291b"/>
<circle cx="1148.3" cy="1761.7" r="4.6" fill="#f8291b"/>
<circle cx="1144.1" cy="1786.9" r="4.6" fill="#f8291b"/>
<circle cx="1158.5" cy="1758.0" r="4.6" fill="#f8291b"/>
<circle cx="1146.0" cy="1794.8" r="4.6" fill="#f8291b"/>
<circle cx="1156.2" cy="1755.5" r="4.6" fill="#f8291b"/>
<circle cx="1139.7" cy="1803.4" r="4.6" fill="#f8291b"/>
<circle cx="1159.7" cy="1806.8" r="4.6" fill="#f8291b"/>
<circle cx="1159.3" cy="1754.0" r="4.6" fill="#f8291b"/>
<circle cx="1139.5" cy="1748.9" r="4.6" fill="#f8291b"/>
<circle cx="1147.2" cy="1790.4" r="4.6" fill="#f8291b"/>
<circle cx="1152.4" cy="1770.1" r="4.6" fill="#f8291b"/>
<circle cx="1161.5" cy="1801.7" r="4.6" fill="#f8291b"/>
<circle cx="1162.9" cy="1690.7" r="4.6" fill="#f8291b"/>
<circle cx="1151.6" cy="1763.8" r="4.6" fill="#f8291b"/>
<circle cx="1148.4" cy="1797.0" r="4.6" fill="#f8291b"/>
<circle cx="1166.9" cy="1765.0" r="4.6" fill="#f8291b"/>
<circle cx="1152.8" cy="1761.4" r="4.6" fill="#f8291b"/>
<circle cx="1164.5" cy="1768.8" r="4.6" fill="#f8291b"/>
<circle cx="1161.1" cy="1783.3" r="4.6" fill="#f8291b"/>
<circle cx="1137.3" cy="1757.3" r="4.6" fill="#f8291b"/>
<circle cx="1154.0" cy="1784.1" r="4.6" fill="#f8291b"/>
<circle cx="1162.1" cy="1791.5" r="4.6" fill="#f8291b"/>
<circle cx="1149.8" cy="1716.5" r="4.6" fill="#f8291b"/>
<circle cx="1166.4" cy="1707.2" r="4.6" fill="#f8291b"/>
<circle cx="1147.1" cy="1713.0" r="4.6" fill="#f8291b"/>
<circle cx="1154.2" cy="1790.2" r="4.6" fill="#f8291b"/>
<circle cx="1163.6" cy="1701.2" r="4.6" fill="#f8291b"/>
<circle cx="1151.2" cy="1786.8" r="4.6" fill="#f8291b"/>
<circle cx="1163.8" cy="1701.1" r="4.6" fill="#f8291b"/>
<circle cx="1156.2" cy="1759.1" r="4.6" fill="#f8291b"/>
<circle cx="1163.8" cy="1808.7" r="4.6" fill="#f8291b"/>
<circle cx="1138.0" cy="1799.5" r="4.6" fill="#f8291b"/>
<circle cx="1154.6" cy="1749.5" r="4.6" fill="#f8291b"/>
<circle cx="1170.7" cy="1679.1" r="4.6" fill="#f8291b"/>
<circle cx="1146.9" cy="1741.9" r="4.6" fill="#f8291b"/>
<circle cx="1146.0" cy="1746.9" r="4.6" fill="#f8291b"/>
<circle cx="1153.8" cy="1798.5" r="4.6" fill="#f8291b"/>
<circle cx="1149.7" cy="1768.7" r="4.6" fill="#f8291b"/>
<circle cx="1155.3" cy="1700.0" r="4.6" fill="#f8291b"/>
<circle cx="1163.2" cy="1799.1" r="4.6" fill="#f8291b"/>
<circle cx="1142.3" cy="1798.3" r="4.6" fill="#f8291b"/>
<circle cx="1142.0" cy="1731.4" r="4.6" fill="#f8291b"/>
<circle cx="1147.9" cy="1771.2" r="4.6" fill="#f8291b"/>
<circle cx="1152.5" cy="1764.0" r="4.6" fill="#f8291b"/>
<circle cx="1147.3" cy="1775.6" r="4.6" fill="#f8291b"/>
<circle cx="1140.2" cy="1794.1" r="4.6" fill="#f8291b"/>
<circle cx="1153.7" cy="1803.0" r="4.6" fill="#f8291b"/>
<circle cx="1155.5" cy="1700.0" r="4.6" fill="#f8291b"/>
<circle cx="1149.2" cy="1770.8" r="4.6" fill="#f8291b"/>
<circle cx="1145.9" cy="1773.9" r="4.6" fill="#f8291b"/>
<circle cx="1164.2" cy="1741.7" r="4.6" fill="#f8291b"/>
<circle cx="1161.3" cy="1744.1" r="4.6" fill="#f8291b"/>
<circle cx="1155.2" cy="1794.1" r="4.6" fill="#f8291b"/>
<circle cx="1168.5" cy="1763.0" r="4.6" fill="#f8291b"/>
<circle cx="1166.5" cy="1762.0" r="4.6" fill="#f8291b"/>
<circle cx="1157.8" cy="1702.0" r="4.6" fill="#f8291b"/>
<circle cx="1135.2" cy="1780.6" r="4.6" fill="#f8291b"/>
<circle cx="1135.1" cy="1798.8" r="4.6" fill="#f8291b"/>
<circle cx="1140.3" cy="1776.8" r="4.6" fill="#f8291b"/>
<circle cx="1153.9" cy="1803.2" r="4.6" fill="#f8291b"/>
<circle cx="1151.6" cy="1794.0" r="4.6" fill="#f8291b"/>
<circle cx="1158.6" cy="1783.6" r="4.6" fill="#f8291b"/>
<circle cx="1144.8" cy="1744.5" r="4.6" fill="#f8291b"/>
<circle cx="1138.0" cy="1796.9" r="4.6" fill="#f8291b"/>
<circle cx="1140.3" cy="1802.9" r="4.6" fill="#f8291b"/>
<circle cx="1147.3" cy="1712.8" r="4.6" fill="#f8291b"/>
<circle cx="1169.0" cy="1792.7" r="4.6" fill="#f8291b"/>
<circle cx="1158.8" cy="1758.7" r="4.6" fill="#f8291b"/>
<circle cx="1167.8" cy="1739.5" r="4.6" fill="#f8291b"/>
<circle cx="1138.9" cy="1784.6" r="4.6" fill="#f8291b"/>
<circle cx="1163.9" cy="1701.7" r="4.6" fill="#f8291b"/>
<circle cx="1167.3" cy="1696.9" r="4.6" fill="#f8291b"/>
<circle cx="1145.6" cy="1744.4" r="4.6" fill="#f8291b"/>
<circle cx="1145.6" cy="1775.5" r="4.6" fill="#f8291b"/>
<circle cx="1139.6" cy="1773.5" r="4.6" fill="#f8291b"/>
<circle cx="1144.8" cy="1802.5" r="4.6" fill="#f8291b"/>
<circle cx="1138.3" cy="1797.2" r="4.6" fill="#f8291b"/>
<circle cx="1170.1" cy="1793.9" r="4.6" fill="#f8291b"/>
<circle cx="1137.2" cy="1756.2" r="4.6" fill="#f8291b"/>
<circle cx="1158.4" cy="1754.9" r="4.6" fill="#f8291b"/>
<circle cx="1156.7" cy="1734.6" r="4.6" fill="#f8291b"/>
<circle cx="1157.1" cy="1711.2" r="4.6" fill="#f8291b"/>
<circle cx="1149.2" cy="1788.2" r="4.6" fill="#f8291b"/>
<circle cx="1137.4" cy="1784.0" r="4.6" fill="#f8291b"/>
<circle cx="1137.1" cy="1796.2" r="4.6" fill="#f8291b"/>
<circle cx="1170.7" cy="1803.3" r="4.6" fill="#f8291b"/>
<circle cx="1152.6" cy="1804.5" r="4.6" fill="#f8291b"/>
<circle cx="1149.4" cy="1744.0" r="4.6" fill="#f8291b"/>
<circle cx="1151.7" cy="1790.0" r="4.6" fill="#f8291b"/>
<circle cx="1135.9" cy="1803.8" r="4.6" fill="#f8291b"/>
<circle cx="1165.9" cy="1766.1" r="4.6" fill="#f8291b"/>
<circle cx="1153.8" cy="1776.9" r="4.6" fill="#f8291b"/>
<circle cx="1149.1" cy="1710.0" r="4.6" fill="#f8291b"/>
<circle cx="1167.4" cy="1741.4" r="4.6" fill="#f8291b"/>
<circle cx="1141.1" cy="1797.5" r="4.6" fill="#f8291b"/>
<circle cx="1133.5" cy="1803.4" r="4.6" fill="#f8291b"/>
<circle cx="1169.6" cy="1777.0" r="4.6" fill="#f8291b"/>
<circle cx="1169.0" cy="1750.7" r="4.6" fill="#f8291b"/>
<circle cx="1135.1" cy="1782.1" r="4.6" fill="#f8291b"/>
<circle cx="1152.3" cy="1749.3" r="4.6" fill="#f8291b"/>
<circle cx="1162.7" cy="1738.1" r="4.6" fill="#f8291b"/>
<circle cx="1164.6" cy="1727.6" r="4.6" fill="#f8291b"/>
<circle cx="1140.1" cy="1745.0" r="4.6" fill="#f8291b"/>
<circle cx="1137.5" cy="1773.3" r="4.6" fill="#f8291b"/>
<circle cx="1163.0" cy="1772.6" r="4.6" fill="#f8291b"/>
<circle cx="1150.8" cy="1776.7" r="4.6" fill="#f8291b"/>
<circle cx="1160.8" cy="1694.0" r="4.6" fill="#f8291b"/>
<circle cx="1161.7" cy="1712.0" r="4.6" fill="#f8291b"/>
<circle cx="1159.2" cy="1719.3" r="4.6" fill="#f8291b"/>
<circle cx="1149.5" cy="1751.7" r="4.6" fill="#f8291b"/>
<circle cx="1139.3" cy="1782.7" r="4.6" fill="#f8291b"/>
<circle cx="1169.1" cy="1726.1" r="4.6" fill="#f8291b"/>
<circle cx="1165.5" cy="1749.2" r="4.6" fill="#f8291b"/>
<circle cx="1150.8" cy="1799.6" r="4.6" fill="#f8291b"/>
<circle cx="1145.1" cy="1722.5" r="4.6" fill="#f8291b"/>
<circle cx="1136.8" cy="1800.0" r="4.6" fill="#f8291b"/>
<circle cx="1154.0" cy="1767.2" r="4.6" fill="#f8291b"/>
<circle cx="1156.5" cy="1716.4" r="4.6" fill="#f8291b"/>
<circle cx="1157.4" cy="1725.1" r="4.6" fill="#f8291b"/>
<circle cx="1147.8" cy="1768.3" r="4.6" fill="#f8291b"/>
<circle cx="1152.8" cy="1730.7" r="4.6" fill="#f8291b"/>
<circle cx="1144.3" cy="1731.6" r="4.6" fill="#f8291b"/>
<circle cx="1166.8" cy="1737.1" r="4.6" fill="#f8291b"/>
<circle cx="1166.9" cy="1767.8" r="4.6" fill="#f8291b"/>
<circle cx="1169.8" cy="1685.5" r="4.6" fill="#f8291b"/>
<circle cx="1163.3" cy="1766.5" r="4.6" fill="#f8291b"/>
<circle cx="1159.3" cy="1774.4" r="4.6" fill="#f8291b"/>
<circle cx="1163.0" cy="1735.5" r="4.6" fill="#f8291b"/>
<circle cx="1149.8" cy="1723.3" r="4.6" fill="#f8291b"/>
<circle cx="1158.6" cy="1692.9" r="4.6" fill="#f8291b"/>
<circle cx="1145.0" cy="1769.4" r="4.6" fill="#f8291b"/>
<circle cx="1135.6" cy="1800.9" r="4.6" fill="#f8291b"/>
<circle cx="1142.5" cy="1775.1" r="4.6" fill="#f8291b"/>
<circle cx="1162.8" cy="1776.7" r="4.6" fill="#f8291b"/>
<circle cx="1135.3" cy="1786.7" r="4.6" fill="#f8291b"/>
<circle cx="1158.1" cy="1737.9" r="4.6" fill="#f8291b"/>
<circle cx="1133.8" cy="1807.6" r="4.6" fill="#f8291b"/>
<circle cx="1159.3" cy="1778.7" r="4.6" fill="#f8291b"/>
<circle cx="1145.6" cy="1795.1" r="4.6" fill="#f8291b"/>
<circle cx="1150.2" cy="1794.8" r="4.6" fill="#f8291b"/>
<circle cx="1132.7" cy="1803.1" r="4.6" fill="#f8291b"/>
<circle cx="1148.2" cy="1804.5" r="4.6" fill="#f8291b"/>
<circle cx="1138.9" cy="1757.9" r="4.6" fill="#f8291b"/>
<circle cx="1162.4" cy="1737.8" r="4.6" fill="#f8291b"/>
<circle cx="1138.8" cy="1784.0" r="4.6" fill="#f8291b"/>
<circle cx="1141.6" cy="1750.7" r="4.6" fill="#f8291b"/>
<circle cx="1147.2" cy="1730.8" r="4.6" fill="#f8291b"/>
<circle cx="1170.0" cy="1749.1" r="4.6" fill="#f8291b"/>
<circle cx="1162.8" cy="1808.6" r="4.6" fill="#f8291b"/>
<circle cx="1152.7" cy="1765.6" r="4.6" fill="#f8291b"/>
<circle cx="1167.3" cy="1792.3" r="4.6" fill="#f8291b"/>
<circle cx="1157.0" cy="1790.1" r="4.6" fill="#f8291b"/>
<circle cx="1159.5" cy="1730.9" r="4.6" fill="#f8291b"/>
<circle cx="1162.6" cy="1797.5" r="4.6" fill="#f8291b"/>
<circle cx="1163.6" cy="1710.9" r="4.6" fill="#f8291b"/>
<circle cx="1142.3" cy="1751.3" r="4.6" fill="#f8291b"/>
<circle cx="1158.2" cy="1806.4" r="4.6" fill="#f8291b"/>
<circle cx="1137.9" cy="1789.6" r="4.6" fill="#f8291b"/>
<circle cx="1168.4" cy="1796.2" r="4.6" fill="#f8291b"/>
<circle cx="1161.0" cy="1801.9" r="4.6" fill="#f8291b"/>
<circle cx="1163.3" cy="1796.5" r="4.6" fill="#f8291b"/>
<circle cx="1149.9" cy="1776.2" r="4.6" fill="#f8291b"/>
<circle cx="1162.6" cy="1795.9" r="4.6" fill="#f8291b"/>
<circle cx="1143.9" cy="1799.4" r="4.6" fill="#f8291b"/>
<circle cx="1152.8" cy="1806.0" r="4.6" fill="#f8291b"/>
<circle cx="1136.7" cy="1804.9" r="4.6" fill="#f8291b"/>
<circle cx="1162.6" cy="1806.6" r="4.6" fill="#f8291b"/>
<circle cx="1165.7" cy="1738.8" r="4.6" fill="#f8291b"/>
<circle cx="1145.7" cy="1735.9" r="4.6" fill="#f8291b"/>
<circle cx="1143.5" cy="1763.3" r="4.6" fill="#f8291b"/>
<circle cx="1167.5" cy="1766.9" r="4.6" fill="#f8291b"/>
<circle cx="1159.9" cy="1784.6" r="4.6" fill="#f8291b"/>
<circle cx="1163.3" cy="1756.2" r="4.6" fill="#f8291b"/>
<circle cx="1158.7" cy="1793.5" r="4.6" fill="#f8291b"/>
<circle cx="1164.1" cy="1804.6" r="4.6" fill="#f8291b"/>
<circle cx="1138.8" cy="1757.8" r="4.6" fill="#f8291b"/>
<circle cx="1164.7" cy="1781.8" r="4.6" fill="#f8291b"/>
<circle cx="1157.1" cy="1750.1" r="4.6" fill="#f8291b"/>
<circle cx="1162.9" cy="1796.8" r="4.6" fill="#f8291b"/>
<circle cx="1163.1" cy="1677.6" r="4.6" fill="#f8291b"/>
<circle cx="1154.8" cy="1686.2" r="4.6" fill="#f8291b"/>
<circle cx="1148.6" cy="1794.9" r="4.6" fill="#f8291b"/>
<circle cx="1150.6" cy="1777.5" r="4.6" fill="#f8291b"/>
<circle cx="1144.3" cy="1749.6" r="4.6" fill="#f8291b"/>
<circle cx="1165.5" cy="1751.8" r="4.6" fill="#f8291b"/>
<circle cx="1144.4" cy="1778.8" r="4.6" fill="#f8291b"/>
<circle cx="1152.5" cy="1709.9" r="4.6" fill="#f8291b"/>
<circle cx="1149.7" cy="1785.9" r="4.6" fill="#f8291b"/>
<circle cx="1163.6" cy="1782.5" r="4.6" fill="#f8291b"/>
<circle cx="1162.3" cy="1717.0" r="4.6" fill="#f8291b"/>
<circle cx="1167.0" cy="1696.8" r="4.6" fill="#f8291b"/>
<circle cx="1149.1" cy="1728.5" r="4.6" fill="#f8291b"/>
<circle cx="1146.2" cy="1805.8" r="4.6" fill="#f8291b"/>
<circle cx="1167.4" cy="1734.8" r="4.6" fill="#f8291b"/>
<circle cx="1166.9" cy="1778.0" r="4.6" fill="#f8291b"/>
<circle cx="1153.4" cy="1756.5" r="4.6" fill="#f8291b"/>
<circle cx="1151.8" cy="1805.7" r="4.6" fill="#f8291b"/>
<circle cx="1139.5" cy="1808.0" r="4.6" fill="#f8291b"/>
<circle cx="1138.7" cy="1796.3" r="4.6" fill="#f8291b"/>
<circle cx="1134.3" cy="1770.3" r="4.6" fill="#f8291b"/>
<circle cx="1169.2" cy="1727.1" r="4.6" fill="#f8291b"/>
<circle cx="1164.0" cy="1763.0" r="4.6" fill="#f8291b"/>
<circle cx="1150.2" cy="1738.6" r="4.6" fill="#f8291b"/>
<circle cx="1159.2" cy="1712.8" r="4.6" fill="#f8291b"/>
<circle cx="1152.1" cy="1798.8" r="4.6" fill="#f8291b"/>
<circle cx="1168.4" cy="1754.5" r="4.6" fill="#f8291b"/>
<circle cx="1158.0" cy="1801.1" r="4.6" fill="#f8291b"/>
<circle cx="1161.7" cy="1706.9" r="4.6" fill="#f8291b"/>
<circle cx="1169.3" cy="1761.9" r="4.6" fill="#f8291b"/>
<circle cx="1159.2" cy="1752.8" r="4.6" fill="#f8291b"/>
<circle cx="1147.5" cy="1780.0" r="4.6" fill="#f8291b"/>
<circle cx="1159.0" cy="1769.8" r="4.6" fill="#f8291b"/>
<circle cx="1151.5" cy="1802.1" r="4.6" fill="#f8291b"/>
<circle cx="1170.0" cy="1753.0" r="4.6" fill="#f8291b"/>
<circle cx="1167.1" cy="1701.7" r="4.6" fill="#f8291b"/>
<circle cx="1154.1" cy="1784.4" r="4.6" fill="#f8291b"/>
<circle cx="1162.0" cy="1762.3" r="4.6" fill="#f8291b"/>
<circle cx="1160.4" cy="1800.9" r="4.6" fill="#f8291b"/>
<circle cx="1134.1" cy="1789.9" r="4.6" fill="#f8291b"/>
<circle cx="1141.8" cy="1748.4" r="4.6" fill="#f8291b"/>
<circle cx="1166.7" cy="1805.5" r="4.6" fill="#f8291b"/>
<circle cx="1159.2" cy="1721.6" r="4.6" fill="#f8291b"/>
<circle cx="1135.5" cy="1775.0" r="4.6" fill="#f8291b"/>
<circle cx="1162.0" cy="1756.2" r="4.6" fill="#f8291b"/>
<circle cx="1143.8" cy="1780.8" r="4.6" fill="#f8291b"/>
<circle cx="1143.8" cy="1791.0" r="4.6" fill="#f8291b"/>
<circle cx="1149.6" cy="1771.9" r="4.6" fill="#f8291b"/>
<circle cx="1157.3" cy="1807.3" r="4.6" fill="#f8291b"/>
<circle cx="1158.4" cy="1794.3" r="4.6" fill="#f8291b"/>
<circle cx="1169.6" cy="1754.9" r="4.6" fill="#f8291b"/>
<circle cx="1159.1" cy="1786.6" r="4.6" fill="#f8291b"/>
<circle cx="1143.6" cy="1742.3" r="4.6" fill="#f8291b"/>
<circle cx="1164.4" cy="1774.8" r="4.6" fill="#f8291b"/>
<circle cx="1145.9" cy="1793.5" r="4.6" fill="#f8291b"/>
<circle cx="1157.3" cy="1720.8" r="4.6" fill="#f8291b"/>
<circle cx="1138.6" cy="1799.9" r="4.6" fill="#f8291b"/>
<circle cx="1139.3" cy="1789.0" r="4.6" fill="#f8291b"/>
<circle cx="1139.3" cy="1746.7" r="4.6" fill="#f8291b"/>
<circle cx="1150.5" cy="1744.9" r="4.6" fill="#f8291b"/>
<circle cx="1169.4" cy="1806.5" r="4.6" fill="#f8291b"/>
<circle cx="1150.2" cy="1729.0" r="4.6" fill="#f8291b"/>
<circle cx="1139.9" cy="1804.8" r="4.6" fill="#f8291b"/>
<circle cx="1152.0" cy="1747.8" r="4.6" fill="#f8291b"/>
<circle cx="1151.3" cy="1714.5" r="4.6" fill="#f8291b"/>
<circle cx="1149.4" cy="1756.4" r="4.6" fill="#f8291b"/>
<circle cx="1142.5" cy="1806.2" r="4.6" fill="#f8291b"/>
<circle cx="1168.1" cy="1731.7" r="4.6" fill="#f8291b"/>
<circle cx="1165.0" cy="1762.5" r="4.6" fill="#f8291b"/>
<circle cx="1162.5" cy="1780.4" r="4.6" fill="#f8291b"/>
<circle cx="1142.5" cy="1747.1" r="4.6" fill="#f8291b"/>
<circle cx="1150.6" cy="1790.5" r="4.6" fill="#f8291b"/>
<circle cx="1158.7" cy="1773.3" r="4.6" fill="#f8291b"/>
<circle cx="1143.2" cy="1790.2" r="4.6" fill="#f8291b"/>
<circle cx="1168.0" cy="1752.9" r="4.6" fill="#f8291b"/>
<circle cx="1144.8" cy="1770.5" r="4.6" fill="#f8291b"/>
<circle cx="1143.1" cy="1779.8" r="4.6" fill="#f8291b"/>
<circle cx="1134.2" cy="1791.7" r="4.6" fill="#f8291b"/>
<circle cx="1154.2" cy="1796.0" r="4.6" fill="#f8291b"/>
<circle cx="1168.8" cy="1751.8" r="4.6" fill="#f8291b"/>
<circle cx="1146.4" cy="1740.6" r="4.6" fill="#f8291b"/>
<circle cx="1160.0" cy="1705.3" r="4.6" fill="#f8291b"/>
<circle cx="1158.6" cy="1790.3" r="4.6" fill="#f8291b"/>
<circle cx="1164.1" cy="1758.5" r="4.6" fill="#f8291b"/>
<circle cx="1152.4" cy="1715.1" r="4.6" fill="#f8291b"/>
<circle cx="1169.6" cy="1781.1" r="4.6" fill="#f8291b"/>
<circle cx="1159.3" cy="1780.1" r="4.6" fill="#f8291b"/>
<circle cx="1147.7" cy="1791.9" r="4.6" fill="#f8291b"/>
<circle cx="1160.9" cy="1804.5" r="4.6" fill="#f8291b"/>
<circle cx="1150.2" cy="1750.4" r="4.6" fill="#f8291b"/>
<circle cx="1145.9" cy="1794.4" r="4.6" fill="#f8291b"/>
<circle cx="1167.0" cy="1728.8" r="4.6" fill="#f8291b"/>
<circle cx="1153.3" cy="1770.7" r="4.6" fill="#f8291b"/>
<circle cx="1167.1" cy="1783.2" r="4.6" fill="#f8291b"/>
<circle cx="1152.5" cy="1719.6" r="4.6" fill="#f8291b"/>
<circle cx="1157.0" cy="1704.3" r="4.6" fill="#f8291b"/>
<circle cx="1165.5" cy="1767.8" r="4.6" fill="#f8291b"/>
<circle cx="1154.9" cy="1783.1" r="4.6" fill="#f8291b"/>
<circle cx="1155.9" cy="1757.5" r="4.6" fill="#f8291b"/>
<circle cx="1165.8" cy="1741.8" r="4.6" fill="#f8291b"/>
<circle cx="1164.7" cy="1793.0" r="4.6" fill="#f8291b"/>
<circle cx="1161.5" cy="1722.8" r="4.6" fill="#f8291b"/>
<circle cx="1151.8" cy="1790.3" r="4.6" fill="#f8291b"/>
<circle cx="1166.9" cy="1801.5" r="4.6" fill="#f8291b"/>
<circle cx="1164.0" cy="1789.4" r="4.6" fill="#f8291b"/>
<circle cx="1166.3" cy="1781.4" r="4.6" fill="#f8291b"/>
<circle cx="1162.7" cy="1719.1" r="4.6" fill="#f8291b"/>
<circle cx="1156.2" cy="1786.1" r="4.6" fill="#f8291b"/>
<circle cx="1140.5" cy="1741.9" r="4.6" fill="#f8291b"/>
<circle cx="1164.3" cy="1777.4" r="4.6" fill="#f8291b"/>
<circle cx="1145.3" cy="1741.7" r="4.6" fill="#f8291b"/>
<circle cx="1142.7" cy="1734.7" r="4.6" fill="#f8291b"/>
<circle cx="1169.9" cy="1783.8" r="4.6" fill="#f8291b"/>
<circle cx="1146.3" cy="1794.1" r="4.6" fill="#f8291b"/>
<circle cx="1135.7" cy="1785.8" r="4.6" fill="#f8291b"/>
<circle cx="1144.9" cy="1797.0" r="4.6" fill="#f8291b"/>
<circle cx="1165.4" cy="1676.4" r="4.6" fill="#f8291b"/>
<circle cx="1150.6" cy="1720.6" r="4.6" fill="#f8291b"/>
<circle cx="1158.0" cy="1702.4" r="4.6" fill="#f8291b"/>
<circle cx="1163.8" cy="1772.9" r="4.6" fill="#f8291b"/>
<circle cx="1167.2" cy="1696.2" r="4.6" fill="#f8291b"/>
<circle cx="1150.2" cy="1714.9" r="4.6" fill="#f8291b"/>
<circle cx="1146.1" cy="1779.7" r="4.6" fill="#f8291b"/>
<circle cx="1156.3" cy="1749.1" r="4.6" fill="#f8291b"/>
<circle cx="1164.5" cy="1733.8" r="4.6" fill="#f8291b"/>
<circle cx="1165.9" cy="1732.5" r="4.6" fill="#f8291b"/>
<circle cx="1153.1" cy="1794.6" r="4.6" fill="#f8291b"/>
<circle cx="1166.4" cy="1692.7" r="4.6" fill="#f8291b"/>
<circle cx="1161.0" cy="1691.9" r="4.6" fill="#f8291b"/>
<circle cx="1137.8" cy="1759.7" r="4.6" fill="#f8291b"/>
<circle cx="1160.5" cy="1779.8" r="4.6" fill="#f8291b"/>
<circle cx="1148.6" cy="1775.7" r="4.6" fill="#f8291b"/>
<circle cx="1155.9" cy="1768.8" r="4.6" fill="#f8291b"/>
<circle cx="1166.7" cy="1735.1" r="4.6" fill="#f8291b"/>
<circle cx="1163.3" cy="1808.5" r="4.6" fill="#f8291b"/>
<circle cx="1145.0" cy="1806.1" r="4.6" fill="#f8291b"/>
<circle cx="1135.0" cy="1807.8" r="4.6" fill="#f8291b"/>
<circle cx="1139.6" cy="1765.4" r="4.6" fill="#f8291b"/>
<circle cx="1159.5" cy="1762.9" r="4.6" fill="#f8291b"/>
<circle cx="1150.2" cy="1786.5" r="4.6" fill="#f8291b"/>
<circle cx="1143.3" cy="1750.4" r="4.6" fill="#f8291b"/>
<circle cx="1145.7" cy="1757.4" r="4.6" fill="#f8291b"/>
<circle cx="1162.9" cy="1730.1" r="4.6" fill="#f8291b"/>
<circle cx="1150.4" cy="1769.2" r="4.6" fill="#f8291b"/>
<circle cx="1161.9" cy="1730.7" r="4.6" fill="#f8291b"/>
<circle cx="1148.6" cy="1730.5" r="4.6" fill="#f8291b"/>
<circle cx="1159.8" cy="1773.4" r="4.6" fill="#f8291b"/>
<circle cx="1161.1" cy="1806.9" r="4.6" fill="#f8291b"/>
<circle cx="1167.8" cy="1805.1" r="4.6" fill="#f8291b"/>
<circle cx="1160.2" cy="1787.7" r="4.6" fill="#f8291b"/>
<circle cx="1152.2" cy="1703.4" r="4.6" fill="#f8291b"/>
<circle cx="1168.5" cy="1684.2" r="4.6" fill="#f8291b"/>
<circle cx="1156.8" cy="1787.7" r="4.6" fill="#f8291b"/>
<circle cx="1150.1" cy="1740.4" r="4.6" fill="#f8291b"/>
<circle cx="1160.2" cy="1725.1" r="4.6" fill="#f8291b"/>
<circle cx="1144.0" cy="1808.2" r="4.6" fill="#f8291b"/>
<circle cx="1152.9" cy="1697.8" r="4.6" fill="#f8291b"/>
<circle cx="1167.4" cy="1752.0" r="4.6" fill="#f8291b"/>
<circle cx="1150.0" cy="1794.3" r="4.6" fill="#f8291b"/>
<circle cx="1147.5" cy="1713.1" r="4.6" fill="#f8291b"/>
<circle cx="1164.5" cy="1723.3" r="4.6" fill="#f8291b"/>
<circle cx="1170.5" cy="1764.7" r="4.6" fill="#f8291b"/>
<circle cx="1162.9" cy="1802.4" r="4.6" fill="#f8291b"/>
<circle cx="1164.4" cy="1765.2" r="4.6" fill="#f8291b"/>
<circle cx="1146.4" cy="1718.5" r="4.6" fill="#f8291b"/>
<circle cx="1152.7" cy="1773.7" r="4.6" fill="#f8291b"/>
<circle cx="1147.9" cy="1732.5" r="4.6" fill="#f8291b"/>
<circle cx="1169.1" cy="1688.7" r="4.6" fill="#f8291b"/>
<circle cx="1168.8" cy="1786.7" r="4.6" fill="#f8291b"/>
<circle cx="1149.1" cy="1807.4" r="4.6" fill="#f8291b"/>
<circle cx="1147.4" cy="1788.5" r="4.6" fill="#f8291b"/>
<circle cx="1164.8" cy="1794.9" r="4.6" fill="#f8291b"/>
<circle cx="1143.5" cy="1719.6" r="4.6" fill="#f8291b"/>
<circle cx="1158.1" cy="1733.2" r="4.6" fill="#f8291b"/>
<circle cx="1136.5" cy="1754.7" r="4.6" fill="#f8291b"/>
<circle cx="1162.6" cy="1796.3" r="4.6" fill="#f8291b"/>
<circle cx="1136.5" cy="1763.9" r="4.6" fill="#f8291b"/>
<circle cx="1152.9" cy="1800.8" r="4.6" fill="#f8291b"/>
<circle cx="1154.6" cy="1705.6" r="4.6" fill="#f8291b"/>
<circle cx="1166.6" cy="1779.3" r="4.6" fill="#f8291b"/>
<circle cx="1157.8" cy="1766.1" r="4.6" fill="#f8291b"/>
<circle cx="1147.7" cy="1732.0" r="4.6" fill="#f8291b"/>
<circle cx="1147.0" cy="1802.0" r="4.6" fill="#f8291b"/>
<circle cx="1160.1" cy="1713.5" r="4.6" fill="#f8291b"/>
<circle cx="1148.9" cy="1718.1" r="4.6" fill="#f8291b"/>
<circle cx="1156.0" cy="1763.2" r="4.6" fill="#f8291b"/>
<circle cx="1159.9" cy="1780.4" r="4.6" fill="#f8291b"/>
<circle cx="1137.7" cy="1761.4" r="4.6" fill="#f8291b"/>
<circle cx="1134.9" cy="1787.9" r="4.6" fill="#f8291b"/>
<circle cx="1149.3" cy="1764.7" r="4.6" fill="#f8291b"/>
<circle cx="1160.0" cy="1783.5" r="4.6" fill="#f8291b"/>
<circle cx="1159.8" cy="1737.0" r="4.6" fill="#f8291b"/>
<circle cx="1150.9" cy="1785.2" r="4.6" fill="#f8291b"/>
<circle cx="1168.3" cy="1721.1" r="4.6" fill="#f8291b"/>
<circle cx="1136.0" cy="1777.0" r="4.6" fill="#f8291b"/>
<circle cx="1170.4" cy="1736.9" r="4.6" fill="#f8291b"/>
<circle cx="1151.9" cy="1735.4" r="4.6" fill="#f8291b"/>
<circle cx="1164.1" cy="1793.0" r="4.6" fill="#f8291b"/>
<circle cx="1161.2" cy="1780.1" r="4.6" fill="#f8291b"/>
<circle cx="1151.7" cy="1695.7" r="4.6" fill="#f8291b"/>
<circle cx="1163.2" cy="1807.1" r="4.6" fill="#f8291b"/>
<circle cx="1150.8" cy="1695.6" r="4.6" fill="#f8291b"/>
<circle cx="1168.7" cy="1737.1" r="4.6" fill="#f8291b"/>
<circle cx="1160.7" cy="1734.1" r="4.6" fill="#f8291b"/>
<circle cx="1156.9" cy="1803.8" r="4.6" fill="#f8291b"/>
<circle cx="1142.4" cy="1803.0" r="4.6" fill="#f8291b"/>
<circle cx="1142.8" cy="1723.3" r="4.6" fill="#f8291b"/>
<circle cx="1136.7" cy="1790.5" r="4.6" fill="#f8291b"/>
<circle cx="1159.7" cy="1806.9" r="4.6" fill="#f8291b"/>
<circle cx="1165.1" cy="1729.0" r="4.6" fill="#f8291b"/>
<circle cx="1156.7" cy="1724.9" r="4.6" fill="#f8291b"/>
<circle cx="1165.2" cy="1713.9" r="4.6" fill="#f8291b"/>
<circle cx="1167.6" cy="1800.8" r="4.6" fill="#f8291b"/>
<circle cx="1168.8" cy="1674.9" r="4.6" fill="#f8291b"/>
<circle cx="1164.3" cy="1773.0" r="4.6" fill="#f8291b"/>
<circle cx="1157.0" cy="1767.9" r="4.6" fill="#f8291b"/>
<circle cx="1163.4" cy="1776.6" r="4.6" fill="#f8291b"/>
<circle cx="1147.6" cy="1707.4" r="4.6" fill="#f8291b"/>
<circle cx="1144.8" cy="1772.0" r="4.6" fill="#f8291b"/>
<circle cx="1136.2" cy="1756.8" r="4.6" fill="#f8291b"/>
<circle cx="1133.7" cy="1789.6" r="4.6" fill="#f8291b"/>
<circle cx="1163.6" cy="1796.3" r="4.6" fill="#f8291b"/>
<circle cx="1139.4" cy="1763.3" r="4.6" fill="#f8291b"/>
<circle cx="1141.0" cy="1781.6" r="4.6" fill="#f8291b"/>
<circle cx="1139.4" cy="1760.3" r="4.6" fill="#f8291b"/>
<circle cx="1153.3" cy="1807.1" r="4.6" fill="#f8291b"/>
<circle cx="1139.9" cy="1751.7" r="4.6" fill="#f8291b"/>
<circle cx="1165.1" cy="1788.3" r="4.6" fill="#f8291b"/>
<circle cx="1136.3" cy="1797.7" r="4.6" fill="#f8291b"/>
<circle cx="1146.8" cy="1753.4" r="4.6" fill="#f8291b"/>
<circle cx="1138.3" cy="1791.0" r="4.6" fill="#f8291b"/>
<circle cx="1170.1" cy="1777.7" r="4.6" fill="#f8291b"/>
<circle cx="1132.9" cy="1791.5" r="4.6" fill="#f8291b"/>
<circle cx="1149.3" cy="1706.7" r="4.6" fill="#f8291b"/>
<circle cx="1155.7" cy="1785.2" r="4.6" fill="#f8291b"/>
<circle cx="1151.0" cy="1769.6" r="4.6" fill="#f8291b"/>
<circle cx="1157.2" cy="1757.9" r="4.6" fill="#f8291b"/>
<circle cx="1167.7" cy="1781.4" r="4.6" fill="#f8291b"/>
<circle cx="1163.1" cy="1788.5" r="4.6" fill="#f8291b"/>
<circle cx="1164.6" cy="1802.5" r="4.6" fill="#f8291b"/>
<circle cx="1134.0" cy="1787.2" r="4.6" fill="#f8291b"/>
<circle cx="1165.2" cy="1784.2" r="4.6" fill="#f8291b"/>
<circle cx="1166.5" cy="1760.5" r="4.6" fill="#f8291b"/>
<circle cx="1169.2" cy="1727.8" r="4.6" fill="#f8291b"/>
<circle cx="1160.4" cy="1761.6" r="4.6" fill="#f8291b"/>
<circle cx="1148.5" cy="1738.9" r="4.6" fill="#f8291b"/>
<circle cx="1147.8" cy="1751.2" r="4.6" fill="#f8291b"/>
<circle cx="1156.6" cy="1711.5" r="4.6" fill="#f8291b"/>
<circle cx="1157.5" cy="1807.4" r="4.6" fill="#f8291b"/>
<circle cx="1161.7" cy="1803.9" r="4.6" fill="#f8291b"/>
<circle cx="1170.6" cy="1796.8" r="4.6" fill="#f8291b"/>
<circle cx="1143.2" cy="1790.2" r="4.6" fill="#f8291b"/>
<circle cx="1152.1" cy="1738.5" r="4.6" fill="#f8291b"/>
<circle cx="1156.4" cy="1688.5" r="4.6" fill="#f8291b"/>
<circle cx="1167.8" cy="1800.6" r="4.6" fill="#f8291b"/>
<circle cx="1163.1" cy="1748.8" r="4.6" fill="#f8291b"/>
<circle cx="1166.6" cy="1792.0" r="4.6" fill="#f8291b"/>
<circle cx="1152.9" cy="1793.5" r="4.6" fill="#f8291b"/>
<circle cx="1166.3" cy="1713.7" r="4.6" fill="#f8291b"/>
<circle cx="1158.4" cy="1746.9" r="4.6" fill="#f8291b"/>
<circle cx="1154.9" cy="1753.4" r="4.6" fill="#f8291b"/>
<circle cx="1138.5" cy="1806.4" r="4.6" fill="#f8291b"/>
<circle cx="1158.0" cy="1770.6" r="4.6" fill="#f8291b"/>
<circle cx="1168.6" cy="1771.4" r="4.6" fill="#f8291b"/>
<circle cx="1167.8" cy="1757.9" r="4.6" fill="#f8291b"/>
<circle cx="1169.6" cy="1785.0" r="4.6" fill="#f8291b"/>
<circle cx="1150.9" cy="1710.3" r="4.6" fill="#f8291b"/>
<circle cx="1167.8" cy="1743.6" r="4.6" fill="#f8291b"/>
<circle cx="1157.9" cy="1684.6" r="4.6" fill="#f8291b"/>
<circle cx="1170.5" cy="1787.2" r="4.6" fill="#f8291b"/>
<circle cx="1154.3" cy="1727.2" r="4.6" fill="#f8291b"/>
<circle cx="1159.1" cy="1784.7" r="4.6" fill="#f8291b"/>
<circle cx="1161.4" cy="1789.6" r="4.6" fill="#f8291b"/>
<circle cx="1147.2" cy="1738.3" r="4.6" fill="#f8291b"/>
<circle cx="1164.7" cy="1691.6" r="4.6" fill="#f8291b"/>
<circle cx="1148.2" cy="1732.5" r="4.6" fill="#f8291b"/>
<circle cx="1157.1" cy="1806.3" r="4.6" fill="#f8291b"/>
<circle cx="1158.1" cy="1776.3" r="4.6" fill="#f8291b"/>
<circle cx="1159.5" cy="1776.9" r="4.6" fill="#f8291b"/>
<circle cx="1139.8" cy="1745.7" r="4.6" fill="#f8291b"/>
<circle cx="1147.4" cy="1704.6" r="4.6" fill="#f8291b"/>
<circle cx="1141.4" cy="1752.7" r="4.6" fill="#f8291b"/>
<circle cx="1157.3" cy="1715.4" r="4.6" fill="#f8291b"/>
<circle cx="1158.8" cy="1806.6" r="4.6" fill="#f8291b"/>
<circle cx="1163.4" cy="1741.7" r="4.6" fill="#f8291b"/>
<circle cx="1144.2" cy="1727.5" r="4.6" fill="#f8291b"/>
<circle cx="1151.3" cy="1745.6" r="4.6" fill="#f8291b"/>
<circle cx="1149.8" cy="1784.9" r="4.6" fill="#f8291b"/>
<circle cx="1136.4" cy="1788.2" r="4.6" fill="#f8291b"/>
<circle cx="1145.5" cy="1804.0" r="4.6" fill="#f8291b"/>
<circle cx="1133.6" cy="1796.5" r="4.6" fill="#f8291b"/>
<circle cx="1141.1" cy="1796.2" r="4.6" fill="#f8291b"/>
<circle cx="1163.3" cy="1798.2" r="4.6" fill="#f8291b"/>
<circle cx="1143.6" cy="1783.3" r="4.6" fill="#f8291b"/>
<circle cx="1157.4" cy="1682.1" r="4.6" fill="#f8291b"/>
<circle cx="1138.4" cy="1801.9" r="4.6" fill="#f8291b"/>
<circle cx="1155.3" cy="1782.4" r="4.6" fill="#f8291b"/>
<circle cx="1140.0" cy="1782.5" r="4.6" fill="#f8291b"/>
<circle cx="1145.4" cy="1721.5" r="4.6" fill="#f8291b"/>
<circle cx="1147.0" cy="1807.6" r="4.6" fill="#f8291b"/>
<circle cx="1154.7" cy="1781.7" r="4.6" fill="#f8291b"/>
<circle cx="1141.8" cy="1734.6" r="4.6" fill="#f8291b"/>
<circle cx="1168.2" cy="1685.3" r="4.6" fill="#f8291b"/>
<circle cx="1169.8" cy="1718.9" r="4.6" fill="#f8291b"/>
<circle cx="1161.3" cy="1753.0" r="4.6" fill="#f8291b"/>
<circle cx="1164.9" cy="1720.5" r="4.6" fill="#f8291b"/>
<circle cx="1150.6" cy="1738.7" r="4.6" fill="#f8291b"/>
<circle cx="1138.4" cy="1769.9" r="4.6" fill="#f8291b"/>
<circle cx="1164.4" cy="1738.2" r="4.6" fill="#f8291b"/>
<circle cx="1150.6" cy="1743.3" r="4.6" fill="#f8291b"/>
<circle cx="1141.2" cy="1791.2" r="4.6" fill="#f8291b"/>
<circle cx="1147.3" cy="1730.1" r="4.6" fill="#f8291b"/>
<circle cx="1148.8" cy="1755.3" r="4.6" fill="#f8291b"/>
<circle cx="1151.0" cy="1780.8" r="4.6" fill="#f8291b"/>
<circle cx="1134.3" cy="1799.3" r="4.6" fill="#f8291b"/>
<circle cx="1164.7" cy="1782.7" r="4.6" fill="#f8291b"/>
<circle cx="1140.3" cy="1736.3" r="4.6" fill="#f8291b"/>
<circle cx="1139.4" cy="1761.3" r="4.6" fill="#f8291b"/>
<circle cx="1160.5" cy="1763.5" r="4.6" fill="#f8291b"/>
<circle cx="1148.3" cy="1711.2" r="4.6" fill="#f8291b"/>
<circle cx="1141.1" cy="1765.6" r="4.6" fill="#f8291b"/>
<circle cx="1153.3" cy="1735.7" r="4.6" fill="#f8291b"/>
<circle cx="1145.7" cy="1716.5" r="4.6" fill="#f8291b"/>
<circle cx="1152.6" cy="1752.7" r="4.6" fill="#f8291b"/>
<circle cx="1153.7" cy="1804.3" r="4.6" fill="#f8291b"/>
<circle cx="1152.1" cy="1705.8" r="4.6" fill="#f8291b"/>
<circle cx="1154.2" cy="1789.5" r="4.6" fill="#f8291b"/>
<circle cx="1169.4" cy="1799.4" r="4.6" fill="#f8291b"/>
<circle cx="1136.6" cy="1798.4" r="4.6" fill="#f8291b"/>
<circle cx="1152.5" cy="1804.8" r="4.6" fill="#f8291b"/>
<circle cx="1144.7" cy="1737.0" r="4.6" fill="#f8291b"/>
<circle cx="1140.5" cy="1798.9" r="4.6" fill="#f8291b"/>
<circle cx="1152.5" cy="1708.7" r="4.6" fill="#f8291b"/>
<circle cx="1150.1" cy="1803.4" r="4.6" fill="#f8291b"/>
<circle cx="1135.6" cy="1788.4" r="4.6" fill="#f8291b"/>
<circle cx="1146.5" cy="1762.8" r="4.6" fill="#f8291b"/>
<circle cx="1160.6" cy="1731.9" r="4.6" fill="#f8291b"/>
<circle cx="1140.6" cy="1752.7" r="4.6" fill="#f8291b"/>
<circle cx="1150.8" cy="1807.7" r="4.6" fill="#f8291b"/>
<circle cx="1141.5" cy="1727.8" r="4.6" fill="#f8291b"/>
<circle cx="1152.6" cy="1781.8" r="4.6" fill="#f8291b"/>
<circle cx="1160.6" cy="1690.2" r="4.6" fill="#f8291b"/>
<circle cx="1153.2" cy="1789.2" r="4.6" fill="#f8291b"/>
<circle cx="1155.1" cy="1736.2" r="4.6" fill="#f8291b"/>
<circle cx="1157.8" cy="1777.5" r="4.6" fill="#f8291b"/>
<circle cx="1165.3" cy="1721.7" r="4.6" fill="#f8291b"/>
<circle cx="1160.8" cy="1804.9" r="4.6" fill="#f8291b"/>
<circle cx="1146.5" cy="1798.4" r="4.6" fill="#f8291b"/>
<circle cx="1139.3" cy="1801.8" r="4.6" fill="#f8291b"/>
<circle cx="1158.3" cy="1735.2" r="4.6" fill="#f8291b"/>
<circle cx="1135.5" cy="1801.7" r="4.6" fill="#f8291b"/>
<circle cx="1141.1" cy="1733.7" r="4.6" fill="#f8291b"/>
<circle cx="1140.3" cy="1761.4" r="4.6" fill="#f8291b"/>
<circle cx="1163.3" cy="1729.7" r="4.6" fill="#f8291b"/>
<circle cx="1168.6" cy="1775.6" r="4.6" fill="#f8291b"/>
<circle cx="1159.6" cy="1757.3" r="4.6" fill="#f8291b"/>
<circle cx="1170.0" cy="1684.0" r="4.6" fill="#f8291b"/>
<circle cx="1154.4" cy="1736.1" r="4.6" fill="#f8291b"/>
<circle cx="1169.0" cy="1768.8" r="4.6" fill="#f8291b"/>
<circle cx="1170.6" cy="1766.8" r="4.6" fill="#f8291b"/>
<circle cx="1141.5" cy="1779.0" r="4.6" fill="#f8291b"/>
<circle cx="1140.2" cy="1796.6" r="4.6" fill="#f8291b"/>
<circle cx="1149.9" cy="1808.8" r="4.6" fill="#f8291b"/>
<circle cx="1169.6" cy="1735.1" r="4.6" fill="#f8291b"/>
<circle cx="1151.0" cy="1747.9" r="4.6" fill="#f8291b"/>
<circle cx="1159.6" cy="1750.6" r="4.6" fill="#f8291b"/>
<circle cx="1158.9" cy="1689.5" r="4.6" fill="#f8291b"/>
<circle cx="1165.9" cy="1724.8" r="4.6" fill="#f8291b"/>
<circle cx="1166.0" cy="1669.9" r="4.6" fill="#f8291b"/>
<circle cx="1153.3" cy="1739.6" r="4.6" fill="#f8291b"/>
<circle cx="1160.2" cy="1773.6" r="4.6" fill="#f8291b"/>
<circle cx="1149.6" cy="1720.4" r="4.6" fill="#f8291b"/>
<circle cx="1169.8" cy="1717.0" r="4.6" fill="#f8291b"/>
<circle cx="1146.3" cy="1722.5" r="4.6" fill="#f8291b"/>
<circle cx="1155.6" cy="1769.8" r="4.6" fill="#f8291b"/>
<circle cx="1134.5" cy="1800.6" r="4.6" fill="#f8291b"/>
<circle cx="1144.7" cy="1736.2" r="4.6" fill="#f8291b"/>
<circle cx="1150.5" cy="1775.8" r="4.6" fill="#f8291b"/>
<circle cx="1166.9" cy="1758.1" r="4.6" fill="#f8291b"/>
<circle cx="1165.6" cy="1782.6" r="4.6" fill="#f8291b"/>
<circle cx="1142.6" cy="1805.7" r="4.6" fill="#f8291b"/>
<circle cx="1148.0" cy="1804.7" r="4.6" fill="#f8291b"/>
<circle cx="1168.9" cy="1700.1" r="4.6" fill="#f8291b"/>
<circle cx="1145.1" cy="1713.5" r="4.6" fill="#f8291b"/>
<circle cx="1147.5" cy="1743.9" r="4.6" fill="#f8291b"/>
<circle cx="1165.8" cy="1806.5" r="4.6" fill="#f8291b"/>
<circle cx="1154.3" cy="1759.3" r="4.6" fill="#f8291b"/>
<circle cx="1163.4" cy="1797.7" r="4.6" fill="#f8291b"/>
<circle cx="1152.5" cy="1781.8" r="4.6" fill="#f8291b"/>
<circle cx="1150.5" cy="1716.2" r="4.6" fill="#f8291b"/>
<circle cx="1155.3" cy="1782.3" r="4.6" fill="#f8291b"/>
<circle cx="1167.0" cy="1794.0" r="4.6" fill="#f8291b"/>
<circle cx="1139.7" cy="1806.1" r="4.6" fill="#f8291b"/>
<circle cx="1168.3" cy="1706.9" r="4.6" fill="#f8291b"/>
<circle cx="1140.6" cy="1774.4" r="4.6" fill="#f8291b"/>
<circle cx="1142.7" cy="1785.2" r="4.6" fill="#f8291b"/>
<circle cx="1150.9" cy="1736.6" r="4.6" fill="#f8291b"/>
<circle cx="1159.1" cy="1770.0" r="4.6" fill="#f8291b"/>
<circle cx="1164.6" cy="1706.3" r="4.6" fill="#f8291b"/>
<circle cx="1151.1" cy="1779.3" r="4.6" fill="#f8291b"/>
<circle cx="1163.3" cy="1783.5" r="4.6" fill="#f8291b"/>
<circle cx="1162.1" cy="1682.0" r="4.6" fill="#f8291b"/>
<circle cx="1159.9" cy="1784.0" r="4.6" fill="#f8291b"/>
<circle cx="1140.0" cy="1781.3" r="4.6" fill="#f8291b"/>
<circle cx="1162.6" cy="1805.9" r="4.6" fill="#f8291b"/>
<circle cx="1153.0" cy="1736.0" r="4.6" fill="#f8291b"/>
<circle cx="1140.2" cy="1805.8" r="4.6" fill="#f8291b"/>
<circle cx="1169.5" cy="1758.1" r="4.6" fill="#f8291b"/>
<circle cx="1141.3" cy="1801.6" r="4.6" fill="#f8291b"/>
<circle cx="1146.5" cy="1788.8" r="4.6" fill="#f8291b"/>
<circle cx="1162.1" cy="1782.7" r="4.6" fill="#f8291b"/>
<circle cx="1149.5" cy="1718.4" r="4.6" fill="#f8291b"/>
<circle cx="1148.2" cy="1733.4" r="4.6" fill="#f8291b"/>
<circle cx="1152.9" cy="1694.7" r="4.6" fill="#f8291b"/>
<circle cx="1150.5" cy="1757.8" r="4.6" fill="#f8291b"/>
<circle cx="1160.6" cy="1707.4" r="4.6" fill="#f8291b"/>
<circle cx="1154.5" cy="1804.7" r="4.6" fill="#f8291b"/>
<circle cx="1160.7" cy="1752.0" r="4.6" fill="#f8291b"/>
<circle cx="1141.6" cy="1761.2" r="4.6" fill="#f8291b"/>
<circle cx="1135.4" cy="1765.8" r="4.6" fill="#f8291b"/>
<circle cx="1139.2" cy="1783.8" r="4.6" fill="#f8291b"/>
<circle cx="1169.6" cy="1753.7" r="4.6" fill="#f8291b"/>
<circle cx="1164.6" cy="1791.3" r="4.6" fill="#f8291b"/>
<circle cx="1157.1" cy="1780.9" r="4.6" fill="#f8291b"/>
<circle cx="1169.6" cy="1786.2" r="4.6" fill="#f8291b"/>
<circle cx="1163.8" cy="1730.5" r="4.6" fill="#f8291b"/>
<circle cx="1146.2" cy="1745.3" r="4.6" fill="#f8291b"/>
<circle cx="1155.5" cy="1795.6" r="4.6" fill="#f8291b"/>
<circle cx="1166.0" cy="1797.8" r="4.6" fill="#f8291b"/>
<circle cx="1141.1" cy="1776.1" r="4.6" fill="#f8291b"/>
<circle cx="1162.6" cy="1685.4" r="4.6" fill="#f8291b"/>
<circle cx="1143.2" cy="1788.0" r="4.6" fill="#f8291b"/>
<circle cx="1147.0" cy="1705.4" r="4.6" fill="#f8291b"/>
<circle cx="1161.9" cy="1726.7" r="4.6" fill="#f8291b"/>
<circle cx="1159.4" cy="1677.0" r="4.6" fill="#f8291b"/>
<circle cx="1161.5" cy="1740.6" r="4.6" fill="#f8291b"/>
<circle cx="1133.0" cy="1807.9" r="4.6" fill="#f8291b"/>
<circle cx="1169.1" cy="1715.7" r="4.6" fill="#f8291b"/>
<circle cx="1138.0" cy="1806.7" r="4.6" fill="#f8291b"/>
<circle cx="1154.7" cy="1749.6" r="4.6" fill="#f8291b"/>
<circle cx="1151.3" cy="1747.7" r="4.6" fill="#f8291b"/>
<circle cx="1144.1" cy="1765.5" r="4.6" fill="#f8291b"/>
<circle cx="1150.0" cy="1701.1" r="4.6" fill="#f8291b"/>
<circle cx="1144.5" cy="1724.9" r="4.6" fill="#f8291b"/>
<circle cx="1159.5" cy="1779.3" r="4.6" fill="#f8291b"/>
<circle cx="1164.1" cy="1740.3" r="4.6" fill="#f8291b"/>
<circle cx="1145.8" cy="1788.2" r="4.6" fill="#f8291b"/>
<circle cx="1141.5" cy="1766.8" r="4.6" fill="#f8291b"/>
<circle cx="1153.9" cy="1803.7" r="4.6" fill="#f8291b"/>
<circle cx="1151.9" cy="1700.0" r="4.6" fill="#f8291b"/>
<circle cx="1147.6" cy="1785.2" r="4.6" fill="#f8291b"/>
<circle cx="1141.6" cy="1787.3" r="4.6" fill="#f8291b"/>
<circle cx="1163.3" cy="1793.7" r="4.6" fill="#f8291b"/>
<circle cx="1160.2" cy="1711.3" r="4.6" fill="#f8291b"/>
<circle cx="1162.1" cy="1729.7" r="4.6" fill="#f8291b"/>
<circle cx="1162.8" cy="1794.3" r="4.6" fill="#f8291b"/>
<circle cx="1142.4" cy="1735.8" r="4.6" fill="#f8291b"/>
<circle cx="1154.5" cy="1782.7" r="4.6" fill="#f8291b"/>
<circle cx="1148.3" cy="1720.5" r="4.6" fill="#f8291b"/>
<circle cx="1137.8" cy="1775.5" r="4.6" fill="#f8291b"/>
<circle cx="1142.4" cy="1780.1" r="4.6" fill="#f8291b"/>
<circle cx="1152.4" cy="1739.7" r="4.6" fill="#f8291b"/>
<circle cx="1160.8" cy="1770.9" r="4.6" fill="#f8291b"/>
<circle cx="1165.3" cy="1692.9" r="4.6" fill="#f8291b"/>
<circle cx="1148.9" cy="1734.3" r="4.6" fill="#f8291b"/>
<circle cx="1159.3" cy="1780.7" r="4.6" fill="#f8291b"/>
<circle cx="1167.2" cy="1778.4" r="4.6" fill="#f8291b"/>
<circle cx="1149.8" cy="1731.8" r="4.6" fill="#f8291b"/>
<circle cx="1143.0" cy="1782.6" r="4.6" fill="#f8291b"/>
<circle cx="1148.6" cy="1724.0" r="4.6" fill="#f8291b"/>
<circle cx="1164.2" cy="1791.7" r="4.6" fill="#f8291b"/>
<circle cx="1169.3" cy="1787.2" r="4.6" fill="#f8291b"/>
<circle cx="1144.4" cy="1793.5" r="4.6" fill="#f8291b"/>
<circle cx="1161.5" cy="1747.2" r="4.6" fill="#f8291b"/>
<circle cx="1161.9" cy="1701.4" r="4.6" fill="#f8291b"/>
<circle cx="1146.8" cy="1710.2" r="4.6" fill="#f8291b"/>
<circle cx="1139.9" cy="1769.0" r="4.6" fill="#f8291b"/>
<circle cx="1166.1" cy="1803.9" r="4.6" fill="#f8291b"/>
<circle cx="1142.1" cy="1763.7" r="4.6" fill="#f8291b"/>
<circle cx="1157.5" cy="1716.8" r="4.6" fill="#f8291b"/>
<circle cx="1095.0" cy="1667.9" r="4.6" fill="#f8291b"/>
<circle cx="1092.8" cy="1654.7" r="4.6" fill="#f8291b"/>
<circle cx="1092.1" cy="1688.5" r="4.6" fill="#f8291b"/>
<circle cx="1100.1" cy="1666.0" r="4.6" fill="#f8291b"/>
<circle cx="1095.4" cy="1676.8" r="4.6" fill="#f8291b"/>
<circle cx="1093.3" cy="1679.2" r="4.6" fill="#f8291b"/>
<circle cx="1097.3" cy="1658.8" r="4.6" fill="#f8291b"/>
<circle cx="1092.8" cy="1635.4" r="4.6" fill="#f8291b"/>
<circle cx="1096.7" cy="1661.2" r="4.6" fill="#f8291b"/>
<circle cx="1090.4" cy="1622.3" r="4.6" fill="#f8291b"/>
<circle cx="1093.9" cy="1688.6" r="4.6" fill="#f8291b"/>
<circle cx="1095.7" cy="1646.1" r="4.6" fill="#f8291b"/>
<circle cx="1097.8" cy="1694.0" r="4.6" fill="#f8291b"/>
<circle cx="1089.8" cy="1624.3" r="4.6" fill="#f8291b"/>
<circle cx="1099.5" cy="1659.7" r="4.6" fill="#f8291b"/>
<circle cx="1093.9" cy="1673.0" r="4.6" fill="#f8291b"/>
<circle cx="1166.3" cy="1674.2" r="4.6" fill="#f8291b"/>
<circle cx="1165.1" cy="1604.6" r="4.6" fill="#f8291b"/>
<circle cx="1159.8" cy="1672.5" r="4.6" fill="#f8291b"/>
<circle cx="1170.2" cy="1671.6" r="4.6" fill="#f8291b"/>
<circle cx="1157.8" cy="1675.9" r="4.6" fill="#f8291b"/>
<circle cx="1162.1" cy="1604.9" r="4.6" fill="#f8291b"/>
<circle cx="1153.8" cy="1670.4" r="4.6" fill="#f8291b"/>
<circle cx="1162.3" cy="1664.7" r="4.6" fill="#f8291b"/>
<circle cx="1162.4" cy="1598.4" r="4.6" fill="#f8291b"/>
<circle cx="1166.6" cy="1663.8" r="4.6" fill="#f8291b"/>
<circle cx="1158.7" cy="1638.8" r="4.6" fill="#f8291b"/>
<circle cx="1157.0" cy="1668.7" r="4.6" fill="#f8291b"/>
<circle cx="1161.9" cy="1584.7" r="4.6" fill="#f8291b"/>
<circle cx="1166.1" cy="1655.2" r="4.6" fill="#f8291b"/>
<circle cx="1169.9" cy="1592.6" r="4.6" fill="#f8291b"/>
<circle cx="1170.1" cy="1634.1" r="4.6" fill="#f8291b"/>
<circle cx="1163.6" cy="1621.1" r="4.6" fill="#f8291b"/>
<circle cx="1165.7" cy="1634.9" r="4.6" fill="#f8291b"/>
<circle cx="1162.0" cy="1608.2" r="4.6" fill="#f8291b"/>
<circle cx="1170.1" cy="1661.8" r="4.6" fill="#f8291b"/>
<circle cx="1167.4" cy="1670.4" r="4.6" fill="#f8291b"/>
<circle cx="1157.1" cy="1647.4" r="4.6" fill="#f8291b"/>
<circle cx="1161.1" cy="1655.7" r="4.6" fill="#f8291b"/>
<circle cx="1162.2" cy="1582.8" r="4.6" fill="#f8291b"/>
<circle cx="1164.0" cy="1596.3" r="4.6" fill="#f8291b"/>
<circle cx="1166.2" cy="1663.8" r="4.6" fill="#f8291b"/>
<circle cx="980.5" cy="1393.7" r="4.6" fill="#b244f7"/>
<circle cx="1221.4" cy="1465.2" r="4.6" fill="#b244f7"/>
<circle cx="1241.2" cy="1487.1" r="4.6" fill="#b244f7"/>
<circle cx="1232.0" cy="1501.8" r="4.6" fill="#b244f7"/>
<circle cx="1176.0" cy="1527.0" r="4.6" fill="#b244f7"/>
<circle cx="1208.0" cy="1524.1" r="4.6" fill="#b244f7"/>
<circle cx="1300.5" cy="1530.0" r="4.6" fill="#b244f7"/>
<circle cx="1202.5" cy="1525.0" r="4.6" fill="#b244f7"/>
<circle cx="1026.7" cy="1552.3" r="4.6" fill="#b244f7"/>
<circle cx="1324.5" cy="1546.8" r="4.6" fill="#b244f7"/>
<circle cx="1183.6" cy="1557.7" r="4.6" fill="#b244f7"/>
<circle cx="1060.8" cy="1567.8" r="4.6" fill="#b244f7"/>
<circle cx="1173.1" cy="1583.0" r="4.6" fill="#b244f7"/>
<circle cx="1182.8" cy="1585.9" r="4.6" fill="#b244f7"/>
<circle cx="1059.5" cy="1587.2" r="4.6" fill="#b244f7"/>
<circle cx="1077.6" cy="1594.3" r="4.6" fill="#b244f7"/>
<circle cx="1276.1" cy="1598.5" r="4.6" fill="#b244f7"/>
<circle cx="1063.8" cy="1605.7" r="4.6" fill="#b244f7"/>
<circle cx="1069.2" cy="1615.3" r="4.6" fill="#b244f7"/>
<circle cx="1173.1" cy="1616.6" r="4.6" fill="#b244f7"/>
<circle cx="1244.6" cy="1619.5" r="4.6" fill="#b244f7"/>
<circle cx="1296.3" cy="1618.3" r="4.6" fill="#b244f7"/>
<circle cx="1084.8" cy="1630.1" r="4.6" fill="#b244f7"/>
<circle cx="975.4" cy="1660.3" r="4.6" fill="#b244f7"/>
<circle cx="1250.9" cy="1647.7" r="4.6" fill="#b244f7"/>
<circle cx="1232.0" cy="1665.8" r="4.6" fill="#b244f7"/>
<circle cx="1307.6" cy="1664.5" r="4.6" fill="#b244f7"/>
<circle cx="1277.0" cy="1685.6" r="4.6" fill="#b244f7"/>
<circle cx="1303.5" cy="1685.6" r="4.6" fill="#b244f7"/>
<circle cx="908.2" cy="1691.0" r="4.6" fill="#b244f7"/>
<circle cx="952.3" cy="1712.1" r="4.6" fill="#b244f7"/>
<circle cx="900.2" cy="1711.2" r="4.6" fill="#b244f7"/>
<circle cx="1283.7" cy="1744.9" r="4.6" fill="#b244f7"/>
<circle cx="880.8" cy="1736.5" r="4.6" fill="#b244f7"/>
<circle cx="878.3" cy="1761.3" r="4.6" fill="#b244f7"/>
<path d="M978.5,1392.2 L982.5,1392.2 L980.5,1395.7 Z" fill="#fff" stroke="#111" stroke-width="0.9"/>
<path d="M1219.4,1463.7 L1223.4,1463.7 L1221.4,1467.2 Z" fill="#fff" stroke="#111" stroke-width="0.9"/>
<path d="M1239.2,1485.6 L1243.2,1485.6 L1241.2,1489.1 Z" fill="#fff" stroke="#111" stroke-width="0.9"/>
<path d="M1230.0,1500.3 L1234.0,1500.3 L1232.0,1503.8 Z" fill="#fff" stroke="#111" stroke-width="0.9"/>
<path d="M1174.0,1525.5 L1178.0,1525.5 L1176.0,1529.0 Z" fill="#fff" stroke="#111" stroke-width="0.9"/>
<path d="M1206.0,1522.6 L1210.0,1522.6 L1208.0,1526.1 Z" fill="#fff" stroke="#111" stroke-width="0.9"/>
<path d="M1298.5,1528.5 L1302.5,1528.5 L1300.5,1532.0 Z" fill="#fff" stroke="#111" stroke-width="0.9"/>
<path d="M1200.5,1523.5 L1204.5,1523.5 L1202.5,1527.0 Z" fill="#fff" stroke="#111" stroke-width="0.9"/>
<path d="M1024.7,1550.8 L1028.7,1550.8 L1026.7,1554.3 Z" fill="#fff" stroke="#111" stroke-width="0.9"/>
<path d="M1322.5,1545.3 L1326.5,1545.3 L1324.5,1548.8 Z" fill="#fff" stroke="#111" stroke-width="0.9"/>
<path d="M1181.6,1556.2 L1185.6,1556.2 L1183.6,1559.7 Z" fill="#fff" stroke="#111" stroke-width="0.9"/>
<path d="M1058.8,1566.3 L1062.8,1566.3 L1060.8,1569.8 Z" fill="#fff" stroke="#111" stroke-width="0.9"/>
<path d="M1171.1,1581.5 L1175.1,1581.5 L1173.1,1585.0 Z" fill="#fff" stroke="#111" stroke-width="0.9"/>
<path d="M1180.8,1584.4 L1184.8,1584.4 L1182.8,1587.9 Z" fill="#fff" stroke="#111" stroke-width="0.9"/>
<path d="M1057.5,1585.7 L1061.5,1585.7 L1059.5,1589.2 Z" fill="#fff" stroke="#111" stroke-width="0.9"/>
<path d="M1075.6,1592.8 L1079.6,1592.8 L1077.6,1596.3 Z" fill="#fff" stroke="#111" stroke-width="0.9"/>
<path d="M1274.1,1597.0 L1278.1,1597.0 L1276.1,1600.5 Z" fill="#fff" stroke="#111" stroke-width="0.9"/>
<path d="M1061.8,1604.2 L1065.8,1604.2 L1063.8,1607.7 Z" fill="#fff" stroke="#111" stroke-width="0.9"/>
<path d="M1067.2,1613.8 L1071.2,1613.8 L1069.2,1617.3 Z" fill="#fff" stroke="#111" stroke-width="0.9"/>
<path d="M1171.1,1615.1 L1175.1,1615.1 L1173.1,1618.6 Z" fill="#fff" stroke="#111" stroke-width="0.9"/>
<path d="M1242.6,1618.0 L1246.6,1618.0 L1244.6,1621.5 Z" fill="#fff" stroke="#111" stroke-width="0.9"/>
<path d="M1294.3,1616.8 L1298.3,1616.8 L1296.3,1620.3 Z" fill="#fff" stroke="#111" stroke-width="0.9"/>
<path d="M1082.8,1628.6 L1086.8,1628.6 L1084.8,1632.1 Z" fill="#fff" stroke="#111" stroke-width="0.9"/>
<path d="M973.4,1658.8 L977.4,1658.8 L975.4,1662.3 Z" fill="#fff" stroke="#111" stroke-width="0.9"/>
<path d="M1248.9,1646.2 L1252.9,1646.2 L1250.9,1649.7 Z" fill="#fff" stroke="#111" stroke-width="0.9"/>
<path d="M1230.0,1664.3 L1234.0,1664.3 L1232.0,1667.8 Z" fill="#fff" stroke="#111" stroke-width="0.9"/>
<path d="M1305.6,1663.0 L1309.6,1663.0 L1307.6,1666.5 Z" fill="#fff" stroke="#111" stroke-width="0.9"/>
<path d="M1275.0,1684.1 L1279.0,1684.1 L1277.0,1687.6 Z" fill="#fff" stroke="#111" stroke-width="0.9"/>
<path d="M1301.5,1684.1 L1305.5,1684.1 L1303.5,1687.6 Z" fill="#fff" stroke="#111" stroke-width="0.9"/>
<path d="M906.2,1689.5 L910.2,1689.5 L908.2,1693.0 Z" fill="#fff" stroke="#111" stroke-width="0.9"/>
<path d="M950.3,1710.6 L954.3,1710.6 L952.3,1714.1 Z" fill="#fff" stroke="#111" stroke-width="0.9"/>
<path d="M898.2,1709.7 L902.2,1709.7 L900.2,1713.2 Z" fill="#fff" stroke="#111" stroke-width="0.9"/>
<path d="M1281.7,1743.4 L1285.7,1743.4 L1283.7,1746.9 Z" fill="#fff" stroke="#111" stroke-width="0.9"/>
<path d="M878.8,1735.0 L882.8,1735.0 L880.8,1738.5 Z" fill="#fff" stroke="#111" stroke-width="0.9"/>
<path d="M876.3,1759.8 L880.3,1759.8 L878.3,1763.3 Z" fill="#fff" stroke="#111" stroke-width="0.9"/>
<path d="M1232,1501.8 L1254.2,1496.7 M1173,1549 L1183.6,1557.7" stroke="#111" stroke-width="1.2" fill="none"/>
<text x="941.0" y="1412.2" font-size="17.5" textLength="46.2" lengthAdjust="spacingAndGlyphs" fill="#111">Mef2c</text>
<text x="1182.8" y="1459.7" font-size="17.5" textLength="50.4" lengthAdjust="spacingAndGlyphs" fill="#111">Cpne7</text>
<text x="1227.8" y="1482.0" font-size="17.5" textLength="50.4" lengthAdjust="spacingAndGlyphs" fill="#111">Fibcd1</text>
<text x="1255.9" y="1503.1" font-size="17.5" textLength="20.2" lengthAdjust="spacingAndGlyphs" fill="#111">Kit</text>
<text x="1144.9" y="1521.6" font-size="17.5" textLength="30.3" lengthAdjust="spacingAndGlyphs" fill="#111">Gaa</text>
<text x="1189.9" y="1519.9" font-size="17.5" textLength="55.9" lengthAdjust="spacingAndGlyphs" fill="#111">Gpr161</text>
<text x="1258.5" y="1525.0" font-size="17.5" textLength="54.6" lengthAdjust="spacingAndGlyphs" fill="#111">Eif2s3y</text>
<text x="1197.0" y="1545.1" font-size="17.5" textLength="42.1" lengthAdjust="spacingAndGlyphs" fill="#111">Trpc4</text>
<text x="988.0" y="1548.0" font-size="17.5" textLength="46.3" lengthAdjust="spacingAndGlyphs" fill="#111">Car10</text>
<text x="1316.0" y="1564.9" font-size="17.5" textLength="47.6" lengthAdjust="spacingAndGlyphs" fill="#111">Ddx3y</text>
<text x="1101.6" y="1545.1" font-size="17.5" textLength="85.4" lengthAdjust="spacingAndGlyphs" fill="#111">St6galnac5</text>
<text x="1191.2" y="1567.8" font-size="17.5" textLength="58.8" lengthAdjust="spacingAndGlyphs" fill="#111">Mpped1</text>
<text x="1044.0" y="1562.0" font-size="17.5" textLength="73.6" lengthAdjust="spacingAndGlyphs" fill="#111">Arhgap32</text>
<text x="1138.2" y="1578.8" font-size="17.5" textLength="37.8" lengthAdjust="spacingAndGlyphs" fill="#111">Sez6</text>
<text x="1189.1" y="1590.1" font-size="17.5" textLength="38.7" lengthAdjust="spacingAndGlyphs" fill="#111">Gria1</text>
<text x="1012.0" y="1585.9" font-size="17.5" textLength="43.3" lengthAdjust="spacingAndGlyphs" fill="#111">Ncald</text>
<text x="1068.0" y="1588.8" font-size="17.5" textLength="57.6" lengthAdjust="spacingAndGlyphs" fill="#111">Septin5</text>
<text x="1262.7" y="1593.0" font-size="17.5" textLength="58.8" lengthAdjust="spacingAndGlyphs" fill="#111">Pde11a</text>
<text x="983.9" y="1608.2" font-size="17.5" textLength="72.7" lengthAdjust="spacingAndGlyphs" fill="#111">Camk2n1</text>
<text x="1072.2" y="1613.2" font-size="17.5" textLength="42.9" lengthAdjust="spacingAndGlyphs" fill="#111">Stx1a</text>
<text x="1125.6" y="1612.4" font-size="17.5" textLength="58" lengthAdjust="spacingAndGlyphs" fill="#111">Cacng8</text>
<text x="1233.2" y="1615.3" font-size="17.5" textLength="51.3" lengthAdjust="spacingAndGlyphs" fill="#111">Slc9a2</text>
<text x="1299.2" y="1637.6" font-size="17.5" textLength="29.5" lengthAdjust="spacingAndGlyphs" fill="#111">Dcn</text>
<text x="1024.6" y="1635.5" font-size="17.5" textLength="49.7" lengthAdjust="spacingAndGlyphs" fill="#111">Dpp10</text>
<text x="1202.5" y="1637.6" font-size="17.5" textLength="46.3" lengthAdjust="spacingAndGlyphs" fill="#111">Ndrg1</text>
<text x="1083.5" y="1646.9" font-size="17.5" textLength="55.9" lengthAdjust="spacingAndGlyphs" fill="#111">Atp2b2</text>
<text x="935.5" y="1655.3" font-size="17.5" textLength="48.4" lengthAdjust="spacingAndGlyphs" fill="#111">Fhod3</text>
<text x="1255.9" y="1659.5" font-size="17.5" textLength="49.7" lengthAdjust="spacingAndGlyphs" fill="#111">Cpne2</text>
<text x="1202.5" y="1659.5" font-size="17.5" textLength="28.2" lengthAdjust="spacingAndGlyphs" fill="#111">Grp</text>
<text x="1314.0" y="1682.6" font-size="17.5" textLength="54.6" lengthAdjust="spacingAndGlyphs" fill="#111">Kdm5d</text>
<text x="1232.0" y="1680.5" font-size="17.5" textLength="51.7" lengthAdjust="spacingAndGlyphs" fill="#111">Chrm5</text>
<text x="1306.4" y="1704.9" font-size="17.5" textLength="24.4" lengthAdjust="spacingAndGlyphs" fill="#111">Uty</text>
<text x="875.8" y="1684.7" font-size="17.5" textLength="38.7" lengthAdjust="spacingAndGlyphs" fill="#111">Coch</text>
<text x="918.7" y="1706.6" font-size="17.5" textLength="35.7" lengthAdjust="spacingAndGlyphs" fill="#111">Igfn1</text>
<text x="859.8" y="1730.1" font-size="17.5" textLength="47.5" lengthAdjust="spacingAndGlyphs" fill="#111">Exph5</text>
<text x="1278.2" y="1740.2" font-size="17.5" textLength="40.8" lengthAdjust="spacingAndGlyphs" fill="#111">Fbln1</text>
<text x="839.6" y="1755.4" font-size="17.5" textLength="49.6" lengthAdjust="spacingAndGlyphs" fill="#111">Stard8</text>
<text x="859.0" y="1779.3" font-size="17.5" textLength="70.2" lengthAdjust="spacingAndGlyphs" fill="#111">Rasgef1c</text>
<path d="M789.2,1365 V1830.6 H1379.1" fill="none" stroke="#111" stroke-width="2"/>
<path d="M781.2,1489.2 H789.2" stroke="#111" stroke-width="1.6"/>
<text x="777.2" y="1496.8" font-size="21.5" text-anchor="end" fill="#333">200</text>
<path d="M781.2,1649 H789.2" stroke="#111" stroke-width="1.6"/>
<text x="777.2" y="1656.6" font-size="21.5" text-anchor="end" fill="#333">100</text>
<path d="M781.2,1808.8 H789.2" stroke="#111" stroke-width="1.6"/>
<text x="777.2" y="1816.4" font-size="21.5" text-anchor="end" fill="#333">0</text>
<path d="M805.1,1830.6 V1838.6" stroke="#111" stroke-width="1.6"/>
<text x="805.1" y="1863.6" font-size="21.5" text-anchor="middle" fill="#333">-8</text>
<path d="M967.9,1830.6 V1838.6" stroke="#111" stroke-width="1.6"/>
<text x="967.9" y="1863.6" font-size="21.5" text-anchor="middle" fill="#333">-4</text>
<path d="M1130.2,1830.6 V1838.6" stroke="#111" stroke-width="1.6"/>
<text x="1130.2" y="1863.6" font-size="21.5" text-anchor="middle" fill="#333">0</text>
<path d="M1293,1830.6 V1838.6" stroke="#111" stroke-width="1.6"/>
<text x="1293.0" y="1863.6" font-size="21.5" text-anchor="middle" fill="#333">4</text>
<text x="1102" y="1886.6" font-size="22" text-anchor="middle" fill="#111">Log<tspan font-size="15.4" dy="5">2</tspan><tspan dy="-5"> fold change</tspan></text>
<text x="719" y="1592" font-size="23" text-anchor="middle" transform="rotate(-90 719 1592)" fill="#111">−Log<tspan font-size="16.1" dy="5">10</tspan><tspan dy="-5" font-style="italic"> P</tspan></text>
<circle cx="1025.9" cy="1353.4" r="7.2" fill="#f8291b"/>
<text x="1048.2" y="1361.0" font-size="19" textLength="55.5" lengthAdjust="spacingAndGlyphs" fill="#111">p-value</text>
<circle cx="1126.8" cy="1353.4" r="7.2" fill="#b244f7"/>
<text x="1150.8" y="1361.0" font-size="19" textLength="34.1" lengthAdjust="spacingAndGlyphs" fill="#111">Both</text>
<text x="836.7" y="1346.2" font-size="28" textLength="102.2" lengthAdjust="spacingAndGlyphs" fill="#111">Immature</text>
<text x="842.1" y="1381.1" font-size="28" textLength="91.3" lengthAdjust="spacingAndGlyphs" fill="#111">Neurons</text>
<g fill="none" stroke="#e0622e" stroke-width="1.6" stroke-linecap="round" stroke-linejoin="round">
<path d="M870.5,1460.4 C868,1457 866,1456 864.8,1455.5 C860,1453 855,1451.5 852.2,1449.8 C847,1446 844,1441 841,1438.6 C837,1435.5 833,1434.6 830.5,1434.4"/>
<path d="M841,1438.6 C839.5,1432 839.5,1423 837.5,1418.3"/>
<path d="M866.5,1456 C865,1451 865,1447 865.5,1444.2 C862,1439 857,1436 853.6,1432.3 C849.5,1427 848.5,1419 849.4,1414.1"/>
<path d="M865.5,1444.2 C867,1438 871,1433 871.9,1428.1 C872.5,1424 871,1421 869.8,1419"/>
<path d="M871.2,1459.7 C874,1452 880,1446 886.6,1441.4 C890,1439 893,1438 895.7,1437.2 C903,1435.5 912,1435.5 920.2,1436.5"/>
<path d="M886.6,1441.4 C886,1438 885.9,1435 885.9,1433 C886,1428 887,1422 886.6,1419 C886,1415 885.5,1413 884.5,1411.3"/>
<path d="M885.9,1433 C883,1431 880,1429.5 877.5,1428.8"/>
<path d="M895.7,1437.2 C899,1434 902,1430 902.7,1426 C903.3,1424 903.4,1422.5 903.4,1421.1"/>
<path d="M868.4,1517.8 C867.5,1521 867.3,1524 867.7,1526 C868.5,1529 871.5,1531 871.9,1534 C872,1538 871.5,1541 872.5,1543.5 C874,1546 877,1546.8 880,1546.6 C890,1546 900,1543.5 911.1,1542.4 C918,1541.8 924,1542.5 927.9,1543"/>
</g>
<path d="M869.6,1461 C871.5,1466 872.2,1474 872,1480 C872.5,1488 874.5,1494 876.5,1499 C878.5,1504 878,1512 875.5,1515.5 C873,1518.5 866,1519 863.5,1516 C860.5,1512.5 860.5,1505 862,1500 C864,1494 867,1488 868.3,1482 C869,1474 869,1466 869.6,1461 Z" fill="#e79068" stroke="#d8602e" stroke-width="1"/>
<circle cx="870.1" cy="1507" r="4.6" fill="#d9553a" stroke="#f0a080" stroke-width="0.8"/><circle cx="870.1" cy="1507" r="1.9" fill="#6a1f10"/>
<text x="0" y="0" font-size="65.99" fill="#000" transform="translate(1510.45,1277.00) scale(0.9519,1)">L</text>
<text x="1693.0" y="1265.6" font-size="21" text-anchor="middle" textLength="71.6" lengthAdjust="spacingAndGlyphs" fill="#111">Source</text>
<rect x="1580" y="1276" width="226.2" height="35.5" fill="#fff" stroke="#333" stroke-width="1.3"/>
<text x="1693.3" y="1301.0" font-size="21.5" text-anchor="middle" textLength="86" lengthAdjust="spacingAndGlyphs" fill="#111">Microglia</text>
<rect x="1580" y="1311.5" width="226.2" height="489.3" fill="#fff" stroke="#444" stroke-width="1.4"/>
<path d="M1580,1311.5 H1806.2" stroke="#111" stroke-width="2"/>
<path d="M1582,1326.4 H1804 M1582,1350.7 H1804 M1582,1374.9 H1804 M1582,1399.2 H1804 M1582,1423.4 H1804 M1582,1447.7 H1804 M1582,1471.9 H1804 M1582,1496.2 H1804 M1582,1520.4 H1804 M1582,1544.7 H1804 M1582,1568.9 H1804 M1582,1593.2 H1804 M1582,1617.4 H1804 M1582,1641.7 H1804 M1582,1665.9 H1804 M1582,1690.2 H1804 M1582,1714.4 H1804 M1582,1738.7 H1804 M1582,1762.9 H1804 M1582,1787.2 H1804 M1611.8,1314 V1799 M1666,1314 V1799 M1720,1314 V1799 M1774.1,1314 V1799" stroke="#e6e6e6" stroke-width="1.6" fill="none"/>
<path d="M1575.2,1326.4 H1580" stroke="#333" stroke-width="1.4"/>
<text x="1570.5" y="1332.6" font-size="17.1" text-anchor="end" fill="#1a1a1a">C1QA -&gt; CD93</text>
<path d="M1575.2,1350.7 H1580" stroke="#333" stroke-width="1.4"/>
<text x="1570.5" y="1356.9" font-size="17.1" text-anchor="end" fill="#1a1a1a">SELPLG -&gt; ESAM</text>
<path d="M1575.2,1374.9 H1580" stroke="#333" stroke-width="1.4"/>
<text x="1570.5" y="1381.1" font-size="17.1" text-anchor="end" fill="#1a1a1a">PF4 -&gt; THBD</text>
<path d="M1575.2,1399.2 H1580" stroke="#333" stroke-width="1.4"/>
<text x="1570.5" y="1405.4" font-size="17.1" text-anchor="end" fill="#1a1a1a">LGALS3 -&gt; ENG</text>
<path d="M1575.2,1423.4 H1580" stroke="#333" stroke-width="1.4"/>
<text x="1570.5" y="1429.6" font-size="17.1" text-anchor="end" fill="#1a1a1a">TGFB1 -&gt; ENG</text>
<path d="M1575.2,1447.7 H1580" stroke="#333" stroke-width="1.4"/>
<text x="1570.5" y="1453.9" font-size="17.1" text-anchor="end" fill="#1a1a1a">APOE -&gt; LSR</text>
<path d="M1575.2,1471.9 H1580" stroke="#333" stroke-width="1.4"/>
<text x="1570.5" y="1478.1" font-size="17.1" text-anchor="end" fill="#1a1a1a">TGFB1 -&gt; ACVRL1</text>
<path d="M1575.2,1496.2 H1580" stroke="#333" stroke-width="1.4"/>
<text x="1570.5" y="1502.4" font-size="17.1" text-anchor="end" fill="#1a1a1a">B2M -&gt; TFRC</text>
<path d="M1575.2,1520.4 H1580" stroke="#333" stroke-width="1.4"/>
<text x="1570.5" y="1526.6" font-size="17.1" text-anchor="end" fill="#1a1a1a">TCN2 -&gt; CNR1</text>
<path d="M1575.2,1544.7 H1580" stroke="#333" stroke-width="1.4"/>
<text x="1570.5" y="1550.9" font-size="17.1" text-anchor="end" fill="#1a1a1a">PROS1 -&gt; TYRO3</text>
<path d="M1575.2,1568.9 H1580" stroke="#333" stroke-width="1.4"/>
<text x="1570.5" y="1575.1" font-size="17.1" text-anchor="end" fill="#1a1a1a">SPARC -&gt; ENG</text>
<path d="M1575.2,1593.2 H1580" stroke="#333" stroke-width="1.4"/>
<text x="1570.5" y="1599.4" font-size="17.1" text-anchor="end" fill="#1a1a1a">TGFB1 -&gt; CXCR4</text>
<path d="M1575.2,1617.4 H1580" stroke="#333" stroke-width="1.4"/>
<text x="1570.5" y="1623.6" font-size="17.1" text-anchor="end" fill="#1a1a1a">GAS6 -&gt; TYRO3</text>
<path d="M1575.2,1641.7 H1580" stroke="#333" stroke-width="1.4"/>
<text x="1570.5" y="1647.9" font-size="17.1" text-anchor="end" fill="#1a1a1a">CD14 -&gt; ITGB1</text>
<path d="M1575.2,1665.9 H1580" stroke="#333" stroke-width="1.4"/>
<text x="1570.5" y="1672.1" font-size="17.1" text-anchor="end" fill="#1a1a1a">GRN -&gt; EGFR</text>
<path d="M1575.2,1690.2 H1580" stroke="#333" stroke-width="1.4"/>
<text x="1570.5" y="1696.4" font-size="17.1" text-anchor="end" fill="#1a1a1a">TGFB1 -&gt; CAV1</text>
<path d="M1575.2,1714.4 H1580" stroke="#333" stroke-width="1.4"/>
<text x="1570.5" y="1720.6" font-size="17.1" text-anchor="end" fill="#1a1a1a">IL16 -&gt; CD9</text>
<path d="M1575.2,1738.7 H1580" stroke="#333" stroke-width="1.4"/>
<text x="1570.5" y="1744.9" font-size="17.1" text-anchor="end" fill="#1a1a1a">ICAM1 -&gt; CAV1</text>
<path d="M1575.2,1762.9 H1580" stroke="#333" stroke-width="1.4"/>
<text x="1570.5" y="1769.1" font-size="17.1" text-anchor="end" fill="#1a1a1a">TGFB1 -&gt; TGFBR3</text>
<path d="M1575.2,1787.2 H1580" stroke="#333" stroke-width="1.4"/>
<text x="1570.5" y="1793.4" font-size="17.1" text-anchor="end" fill="#1a1a1a">APOE -&gt; LRP1</text>
<circle cx="1720" cy="1326.4" r="10.1" fill="#d2ea30" fill-opacity="0.9" stroke="#d2ea30" stroke-width="1.2"/>
<circle cx="1720" cy="1350.7" r="10.9" fill="#c5e834" fill-opacity="0.9" stroke="#c5e834" stroke-width="1.2"/>
<circle cx="1720" cy="1374.9" r="10.7" fill="#5fcf6e" fill-opacity="0.9" stroke="#5fcf6e" stroke-width="1.2"/>
<circle cx="1720" cy="1399.2" r="9.7" fill="#55bb86" fill-opacity="0.9" stroke="#55bb86" stroke-width="1.2"/>
<circle cx="1720" cy="1423.4" r="8.7" fill="#9be445" fill-opacity="0.9" stroke="#9be445" stroke-width="1.2"/>
<circle cx="1720" cy="1447.7" r="7.0" fill="#e2ea34" fill-opacity="0.9" stroke="#e2ea34" stroke-width="1.2"/>
<circle cx="1720" cy="1471.9" r="8.9" fill="#6ed951" fill-opacity="0.9" stroke="#6ed951" stroke-width="1.2"/>
<circle cx="1611.8" cy="1496.2" r="4.8" fill="#58c386" fill-opacity="0.9" stroke="#58c386" stroke-width="1.2"/>
<circle cx="1666" cy="1496.2" r="4.4" fill="#4fae8a" fill-opacity="0.9" stroke="#4fae8a" stroke-width="1.2"/>
<circle cx="1720" cy="1496.2" r="7.0" fill="#b6e43a" fill-opacity="0.9" stroke="#b6e43a" stroke-width="1.2"/>
<circle cx="1774.1" cy="1496.2" r="4.6" fill="#50b689" fill-opacity="0.9" stroke="#50b689" stroke-width="1.2"/>
<circle cx="1611.8" cy="1520.4" r="4.8" fill="#3c9a88" fill-opacity="0.9" stroke="#3c9a88" stroke-width="1.2"/>
<circle cx="1666" cy="1520.4" r="7.0" fill="#80e24c" fill-opacity="0.9" stroke="#80e24c" stroke-width="1.2"/>
<circle cx="1774.1" cy="1520.4" r="3.7" fill="#2c4c88" fill-opacity="0.9" stroke="#2c4c88" stroke-width="1.2"/>
<circle cx="1611.8" cy="1544.7" r="4.6" fill="#388e8c" fill-opacity="0.9" stroke="#388e8c" stroke-width="1.2"/>
<circle cx="1666" cy="1544.7" r="4.0" fill="#2f6890" fill-opacity="0.9" stroke="#2f6890" stroke-width="1.2"/>
<circle cx="1774.1" cy="1544.7" r="7.5" fill="#8fe243" fill-opacity="0.9" stroke="#8fe243" stroke-width="1.2"/>
<circle cx="1720" cy="1568.9" r="6.2" fill="#cde836" fill-opacity="0.9" stroke="#cde836" stroke-width="1.2"/>
<circle cx="1666" cy="1593.2" r="8.7" fill="#58c489" fill-opacity="0.9" stroke="#58c489" stroke-width="1.2"/>
<circle cx="1611.8" cy="1617.4" r="4.4" fill="#48a68d" fill-opacity="0.9" stroke="#48a68d" stroke-width="1.2"/>
<circle cx="1666" cy="1617.4" r="3.9" fill="#2e788c" fill-opacity="0.9" stroke="#2e788c" stroke-width="1.2"/>
<circle cx="1774.1" cy="1617.4" r="7.5" fill="#a6e53a" fill-opacity="0.9" stroke="#a6e53a" stroke-width="1.2"/>
<circle cx="1611.8" cy="1641.7" r="5.2" fill="#47a78c" fill-opacity="0.9" stroke="#47a78c" stroke-width="1.2"/>
<circle cx="1666" cy="1641.7" r="5.2" fill="#51af8d" fill-opacity="0.9" stroke="#51af8d" stroke-width="1.2"/>
<circle cx="1720" cy="1641.7" r="7.4" fill="#6cdc58" fill-opacity="0.9" stroke="#6cdc58" stroke-width="1.2"/>
<circle cx="1774.1" cy="1641.7" r="5.9" fill="#54c387" fill-opacity="0.9" stroke="#54c387" stroke-width="1.2"/>
<circle cx="1611.8" cy="1665.9" r="7.9" fill="#77e148" fill-opacity="0.9" stroke="#77e148" stroke-width="1.2"/>
<circle cx="1720" cy="1665.9" r="4.6" fill="#3a7896" fill-opacity="0.9" stroke="#3a7896" stroke-width="1.2"/>
<circle cx="1611.8" cy="1690.2" r="4.2" fill="#484c96" fill-opacity="0.9" stroke="#484c96" stroke-width="1.2"/>
<circle cx="1720" cy="1690.2" r="8.6" fill="#68da60" fill-opacity="0.9" stroke="#68da60" stroke-width="1.2"/>
<circle cx="1611.8" cy="1714.4" r="5.9" fill="#60d478" fill-opacity="0.9" stroke="#60d478" stroke-width="1.2"/>
<circle cx="1666" cy="1714.4" r="5.2" fill="#51b78e" fill-opacity="0.9" stroke="#51b78e" stroke-width="1.2"/>
<circle cx="1720" cy="1714.4" r="5.0" fill="#4dac8a" fill-opacity="0.9" stroke="#4dac8a" stroke-width="1.2"/>
<circle cx="1774.1" cy="1714.4" r="7.3" fill="#96e640" fill-opacity="0.9" stroke="#96e640" stroke-width="1.2"/>
<circle cx="1611.8" cy="1738.7" r="4.2" fill="#3e0f58" fill-opacity="0.9" stroke="#3e0f58" stroke-width="1.2"/>
<circle cx="1720" cy="1738.7" r="8.6" fill="#50b688" fill-opacity="0.9" stroke="#50b688" stroke-width="1.2"/>
<circle cx="1720" cy="1762.9" r="8.6" fill="#50b688" fill-opacity="0.9" stroke="#50b688" stroke-width="1.2"/>
<circle cx="1611.8" cy="1787.2" r="4.8" fill="#e8e63c" fill-opacity="0.9" stroke="#e8e63c" stroke-width="1.2"/>
<circle cx="1666" cy="1787.2" r="4.8" fill="#e8e63c" fill-opacity="0.9" stroke="#e8e63c" stroke-width="1.2"/>
<circle cx="1720" cy="1787.2" r="3.7" fill="#c6e836" fill-opacity="0.9" stroke="#c6e836" stroke-width="1.2"/>
<circle cx="1774.1" cy="1787.2" r="2.6" fill="#88e640" fill-opacity="0.9" stroke="#88e640" stroke-width="1.2"/>
<path d="M1611.8,1801 V1806" stroke="#333" stroke-width="1.5"/>
<path d="M1666,1801 V1806" stroke="#333" stroke-width="1.5"/>
<path d="M1720,1801 V1806" stroke="#333" stroke-width="1.5"/>
<path d="M1774.1,1801 V1806" stroke="#333" stroke-width="1.5"/>
<text x="1615.3" y="1822.5" font-size="16.2" text-anchor="end" font-weight="bold" fill="#d8891b" transform="rotate(-44 1615.3 1822.5)">Astrocytes</text>
<text x="1669.5" y="1822.5" font-size="16.2" text-anchor="end" font-weight="bold" fill="#d8891b" transform="rotate(-44 1669.5 1822.5)">DCX</text>
<text x="1723.5" y="1820.0" font-size="16.2" text-anchor="end" font-weight="bold" fill="#d8891b" transform="rotate(-44 1723.5 1820.0)">Endothelial cells</text>
<text x="1792.1" y="1824.5" font-size="16.2" text-anchor="end" font-weight="bold" fill="#d8891b" transform="rotate(-44 1792.1 1824.5)">Oligodendrocytes</text>
<text x="1413.5" y="1496.5" font-size="19.5" text-anchor="middle" textLength="276" lengthAdjust="spacingAndGlyphs" fill="#111" transform="rotate(-90 1413.5 1496.5)">Interactions (Ligand -&gt; Receptor)</text>
<text x="1832.4" y="1381.4" font-size="19.5" textLength="102.2" lengthAdjust="spacingAndGlyphs" fill="#111">Expression</text>
<text x="1832.4" y="1406.1" font-size="19.5" textLength="96.5" lengthAdjust="spacingAndGlyphs" fill="#111">Magnitude</text>
<linearGradient id="vir" x1="0" y1="0" x2="0" y2="1"><stop offset="0" stop-color="#e4e82a"/><stop offset="0.2" stop-color="#8fd744"/><stop offset="0.4" stop-color="#3fbc73"/><stop offset="0.6" stop-color="#2a968c"/><stop offset="0.8" stop-color="#3b528b"/><stop offset="1" stop-color="#440154"/></linearGradient>
<rect x="1831.9" y="1420" width="20.9" height="106" fill="url(#vir)"/>
<path d="M1831.9,1429 h4 M1852.8,1429 h-4" stroke="#fff" stroke-width="1"/>
<text x="1864.8" y="1436.6" font-size="19" textLength="28" lengthAdjust="spacingAndGlyphs" fill="#111">0.9</text>
<path d="M1831.9,1458 h4 M1852.8,1458 h-4" stroke="#fff" stroke-width="1"/>
<text x="1864.8" y="1465.6" font-size="19" textLength="28" lengthAdjust="spacingAndGlyphs" fill="#111">0.8</text>
<path d="M1831.9,1487 h4 M1852.8,1487 h-4" stroke="#fff" stroke-width="1"/>
<text x="1864.8" y="1494.6" font-size="19" textLength="28" lengthAdjust="spacingAndGlyphs" fill="#111">0.7</text>
<path d="M1831.9,1516 h4 M1852.8,1516 h-4" stroke="#fff" stroke-width="1"/>
<text x="1864.8" y="1523.6" font-size="19" textLength="28" lengthAdjust="spacingAndGlyphs" fill="#111">0.6</text>
<text x="1831.9" y="1635.9" font-size="19.5" textLength="98.3" lengthAdjust="spacingAndGlyphs" fill="#111">Interaction</text>
<text x="1831.9" y="1660.4" font-size="19.5" textLength="92" lengthAdjust="spacingAndGlyphs" fill="#111">Specificity</text>
<circle cx="1847.5" cy="1678.5" r="7.2" fill="#000"/>
<text x="1864.8" y="1681.0" font-size="19" textLength="39" lengthAdjust="spacingAndGlyphs" fill="#111">0.25</text>
<circle cx="1847.5" cy="1697.7" r="8.6" fill="#000"/>
<text x="1864.8" y="1705.7" font-size="19" textLength="39" lengthAdjust="spacingAndGlyphs" fill="#111">0.50</text>
<circle cx="1847.5" cy="1721" r="9.9" fill="#000"/>
<text x="1864.8" y="1730.4" font-size="19" textLength="39" lengthAdjust="spacingAndGlyphs" fill="#111">0.75</text>
<text x="0" y="0" font-size="67.73" fill="#000" transform="translate(47.12,1960.20) scale(1.1123,1)">M</text>
<text x="126.2" y="1952.9" font-size="33" textLength="775.5" lengthAdjust="spacingAndGlyphs" font-weight="bold" fill="#111">Most Significant Pathways Based on p-adj value</text>
<rect x="480.5" y="2002.9" width="406.8" height="18.6" fill="#e0aaa3" stroke="#333" stroke-width="1.1"/>
<rect x="480.5" y="2023.8" width="435.4" height="18.6" fill="#aef7ae" stroke="#333" stroke-width="1.1"/>
<text x="471.5" y="2028.0" font-size="25.3" text-anchor="end" textLength="283" lengthAdjust="spacingAndGlyphs" fill="#111">Proteins Involved in Epilepsy</text>
<rect x="480.5" y="2046.9" width="186.4" height="18.6" fill="#e0aaa3" stroke="#333" stroke-width="1.1"/>
<rect x="480.5" y="2067.8" width="194.1" height="18.6" fill="#aef7ae" stroke="#333" stroke-width="1.1"/>
<text x="471.5" y="2071.8" font-size="25.3" text-anchor="end" textLength="257.9" lengthAdjust="spacingAndGlyphs" fill="#111">Inherited Channelopathies</text>
<rect x="480.5" y="2091.0" width="113.1" height="18.6" fill="#e0aaa3" stroke="#333" stroke-width="1.1"/>
<rect x="480.5" y="2111.9" width="152.9" height="18.6" fill="#aef7ae" stroke="#333" stroke-width="1.1"/>
<text x="471.5" y="2116.2" font-size="25.3" text-anchor="end" textLength="213.3" lengthAdjust="spacingAndGlyphs" fill="#111">Ca2+ Flux Regulation</text>
<rect x="480.5" y="2135.0" width="100.0" height="18.6" fill="#e0aaa3" stroke="#333" stroke-width="1.1"/>
<rect x="480.5" y="2155.9" width="126.6" height="18.6" fill="#aef7ae" stroke="#333" stroke-width="1.1"/>
<text x="471.5" y="2159.4" font-size="25.3" text-anchor="end" textLength="279.9" lengthAdjust="spacingAndGlyphs" fill="#111">Excocytosis: Vesicle Priming</text>
<rect x="480.5" y="2179.1" width="100.0" height="18.6" fill="#e0aaa3" stroke="#333" stroke-width="1.1"/>
<rect x="480.5" y="2200.0" width="104.3" height="18.6" fill="#aef7ae" stroke="#333" stroke-width="1.1"/>
<text x="471.5" y="2206.1" font-size="25.3" text-anchor="end" textLength="302.9" lengthAdjust="spacingAndGlyphs" fill="#111">Glutamate Overdose Overview</text>
<rect x="480.5" y="2223.1" width="100.0" height="18.6" fill="#e0aaa3" stroke="#333" stroke-width="1.1"/>
<rect x="480.5" y="2244.0" width="104.3" height="18.6" fill="#aef7ae" stroke="#333" stroke-width="1.1"/>
<text x="471.5" y="2246.4" font-size="25.3" text-anchor="end" textLength="307.6" lengthAdjust="spacingAndGlyphs" fill="#111">Glutamate Overdose (SLC1A3)</text>
<rect x="480.5" y="2267.1" width="100.0" height="18.6" fill="#e0aaa3" stroke="#333" stroke-width="1.1"/>
<rect x="480.5" y="2288.0" width="39.6" height="18.6" fill="#aef7ae" stroke="#333" stroke-width="1.1"/>
<text x="471.5" y="2292.6" font-size="25.3" text-anchor="end" textLength="327.1" lengthAdjust="spacingAndGlyphs" fill="#111">High Fat Diet &amp; cAMP Exocytosis</text>
<rect x="480.5" y="2311.2" width="100.0" height="18.6" fill="#e0aaa3" stroke="#333" stroke-width="1.1"/>
<rect x="480.5" y="2332.1" width="95.4" height="18.6" fill="#aef7ae" stroke="#333" stroke-width="1.1"/>
<text x="471.5" y="2338.7" font-size="25.3" text-anchor="end" textLength="393.4" lengthAdjust="spacingAndGlyphs" fill="#111">Circadian Clock Genes in SCN Neurons</text>
<rect x="480.5" y="2355.2" width="94.5" height="18.6" fill="#e0aaa3" stroke="#333" stroke-width="1.1"/>
<rect x="480.5" y="2376.1" width="83.4" height="18.6" fill="#aef7ae" stroke="#333" stroke-width="1.1"/>
<text x="471.5" y="2380.2" font-size="25.3" text-anchor="end" textLength="308.1" lengthAdjust="spacingAndGlyphs" fill="#111">Dendritic Spine Morphogenesis</text>
<rect x="480.5" y="2399.3" width="88.0" height="18.6" fill="#e0aaa3" stroke="#333" stroke-width="1.1"/>
<rect x="480.5" y="2420.2" width="89.7" height="18.6" fill="#aef7ae" stroke="#333" stroke-width="1.1"/>
<text x="471.5" y="2424.0" font-size="25.3" text-anchor="end" textLength="470.8" lengthAdjust="spacingAndGlyphs" fill="#111">Dopamine Mediated Glutamate Release/Uptake</text>
<path d="M479.5,2440.4 H925.1" stroke="#333" stroke-width="2.2"/>
<text x="478.6" y="2459.6" font-size="19.5" text-anchor="middle" fill="#111">0</text>
<text x="599.4" y="2459.6" font-size="19.5" text-anchor="middle" fill="#111">5</text>
<text x="721.9" y="2459.6" font-size="19.5" text-anchor="middle" fill="#111">10</text>
<text x="843.5" y="2459.6" font-size="19.5" text-anchor="middle" fill="#111">15</text>
<text x="876.4" y="2459.6" font-size="19.5" textLength="118.6" lengthAdjust="spacingAndGlyphs" fill="#111">-log10(p-adj)</text>
<rect x="733.3" y="2166" width="20.9" height="15.2" fill="#e0aaa3"/>
<rect x="733.3" y="2200.9" width="20.9" height="15.2" fill="#aef7ae"/>
<text x="764.8" y="2184" font-size="27" fill="#111" textLength="156.8" lengthAdjust="spacingAndGlyphs"><tspan font-style="italic">MG-Alk5</tspan> iKO</text>
<text x="764.8" y="2216.1" font-size="27" fill="#111" textLength="172.3" lengthAdjust="spacingAndGlyphs"><tspan font-style="italic">MG-Tgfb1</tspan> iKO</text>
<text x="0" y="0" font-size="69.19" fill="#000" transform="translate(1098.71,1961.20) scale(1.0730,1)">N</text>
<text x="1206.7" y="1953.2" font-size="33" textLength="508.5" lengthAdjust="spacingAndGlyphs" font-weight="bold" fill="#111">Signaling pathways enrichment</text>
<path d="M1487,1972.3 V2453.7 M1538.2,1972.3 V2453.7 M1588.8,1972.3 V2453.7 M1639.4,1972.3 V2453.7 M1690,1972.3 V2453.7 M1741.2,1972.3 V2453.7 M1792.1,1972.3 V2453.7 M1468.6,1999.3 H1826.4 M1468.6,2046.6 H1826.4 M1468.6,2094.0 H1826.4 M1468.6,2141.3 H1826.4 M1468.6,2188.7 H1826.4 M1468.6,2236.1 H1826.4 M1468.6,2283.4 H1826.4 M1468.6,2330.8 H1826.4 M1468.6,2378.1 H1826.4 M1468.6,2425.4 H1826.4" stroke="#ececec" stroke-width="1.3" fill="none"/>
<text x="1455.8" y="2008.9" font-size="26.4" text-anchor="end" textLength="457.4" lengthAdjust="spacingAndGlyphs" fill="#111">Transcription factor CREB extracellular signals</text>
<text x="1454.8" y="2058.4" font-size="26.4" text-anchor="end" textLength="354.5" lengthAdjust="spacingAndGlyphs" fill="#111">TNF-alpha Signaling via NF-kappaB</text>
<text x="1454.2" y="2099.4" font-size="26.4" text-anchor="end" textLength="478.9" lengthAdjust="spacingAndGlyphs" fill="#111">Thrombin Signaling protease-activated receptors</text>
<text x="1455.8" y="2152.4" font-size="26.4" text-anchor="end" textLength="473.8" lengthAdjust="spacingAndGlyphs" fill="#111">PTEN dependent cell cycle arrest and apoptosis</text>
<text x="1454.8" y="2197.2" font-size="26.4" text-anchor="end" textLength="261.5" lengthAdjust="spacingAndGlyphs" fill="#111">PI3K/AKT/mTOR signaling</text>
<text x="1451.0" y="2242.6" font-size="26.4" text-anchor="end" textLength="498.4" lengthAdjust="spacingAndGlyphs" fill="#111">PI-3K/Erk for Collagen Binding in Corneal Epithelia</text>
<text x="1446.3" y="2293.0" font-size="26.4" text-anchor="end" textLength="406" lengthAdjust="spacingAndGlyphs" fill="#111">Phospholipids as signaling intermediaries</text>
<text x="1446.3" y="2338.2" font-size="26.4" text-anchor="end" textLength="244.5" lengthAdjust="spacingAndGlyphs" fill="#111">IGF-1 Signaling Pathway</text>
<text x="1447.9" y="2384.5" font-size="26.4" text-anchor="end" textLength="198.8" lengthAdjust="spacingAndGlyphs" fill="#111">Hedgehog Signaling</text>
<text x="1453.6" y="2435.0" font-size="26.4" text-anchor="end" textLength="303.8" lengthAdjust="spacingAndGlyphs" fill="#111">Attenuation of GPCR Signaling</text>
<circle cx="1565.8" cy="1999.3" r="12.3" fill="#a020f0"/>
<circle cx="1700.7" cy="2046.6" r="9.5" fill="#dc2a5c"/>
<circle cx="1644" cy="2094.0" r="11.7" fill="#c22cb2"/>
<circle cx="1810.2" cy="2141.3" r="10.7" fill="#ff2015"/>
<circle cx="1651.7" cy="2188.7" r="10.4" fill="#c42cac"/>
<circle cx="1485.1" cy="2236.1" r="12.6" fill="#1a00ff"/>
<circle cx="1599.5" cy="2283.4" r="11.7" fill="#b02ccc"/>
<circle cx="1581.1" cy="2330.8" r="12.3" fill="#a828dc"/>
<circle cx="1769.7" cy="2378.1" r="10.1" fill="#ee2438"/>
<circle cx="1577.4" cy="2425.4" r="13.5" fill="#a824e8"/>
<text x="1537.3" y="2469.0" font-size="9" text-anchor="middle" fill="#333">-5</text>
<text x="1638.8" y="2469.0" font-size="9" text-anchor="middle" fill="#333">-4</text>
<text x="1740.0" y="2469.0" font-size="9" text-anchor="middle" fill="#333">-3</text>
<text x="1514.6" y="2492.0" font-size="19.5" textLength="228.1" lengthAdjust="spacingAndGlyphs" fill="#111">log10 (Adjusted p-Value)</text>
<text x="1850.0" y="2039.1" font-size="20.5" textLength="94.5" lengthAdjust="spacingAndGlyphs" fill="#111">Combined</text>
<text x="1850.0" y="2063.6" font-size="20.5" fill="#111">Score</text>
<circle cx="1861.7" cy="2090.3" r="10.7" fill="#bdbdbd"/>
<text x="1881.7" y="2096.5" font-size="20.5" fill="#111">25</text>
<circle cx="1861.7" cy="2117.9" r="11" fill="#bdbdbd"/>
<text x="1881.7" y="2125.0" font-size="20.5" fill="#111">50</text>
<circle cx="1861.7" cy="2150.1" r="11.5" fill="#bdbdbd"/>
<text x="1881.7" y="2160.9" font-size="20.5" fill="#111">75</text>
<circle cx="1861.7" cy="2183.2" r="12.3" fill="#bdbdbd"/>
<text x="1881.7" y="2192.4" font-size="20.5" fill="#111">100</text>
<circle cx="1861.7" cy="2217" r="13" fill="#bdbdbd"/>
<text x="1881.7" y="2224.3" font-size="20.5" fill="#111">125</text>
<text x="1821.2" y="2269.7" font-size="13.7" textLength="160" lengthAdjust="spacingAndGlyphs" fill="#111">log10(Adjusted_P_Value)</text>
<linearGradient id="rb" x1="0" y1="0" x2="0" y2="1"><stop offset="0" stop-color="#ff1f1f"/><stop offset="0.5" stop-color="#c42ab4"/><stop offset="0.85" stop-color="#9a22ff"/><stop offset="1" stop-color="#1a00ff"/></linearGradient>
<rect x="1821.2" y="2278.9" width="22.1" height="111.9" fill="url(#rb)"/>
<path d="M1821.2,2301.2 h4 M1843.3,2301.2 h-4" stroke="#fff" stroke-width="1"/>
<text x="1849.4" y="2308.2" font-size="20" fill="#111">-3</text>
<path d="M1821.2,2337.8 h4 M1843.3,2337.8 h-4" stroke="#fff" stroke-width="1"/>
<text x="1849.4" y="2344.8" font-size="20" fill="#111">-4</text>
<path d="M1821.2,2373.2 h4 M1843.3,2373.2 h-4" stroke="#fff" stroke-width="1"/>
<text x="1849.4" y="2380.2" font-size="20" fill="#111">-5</text>
</svg>
</body></html>
